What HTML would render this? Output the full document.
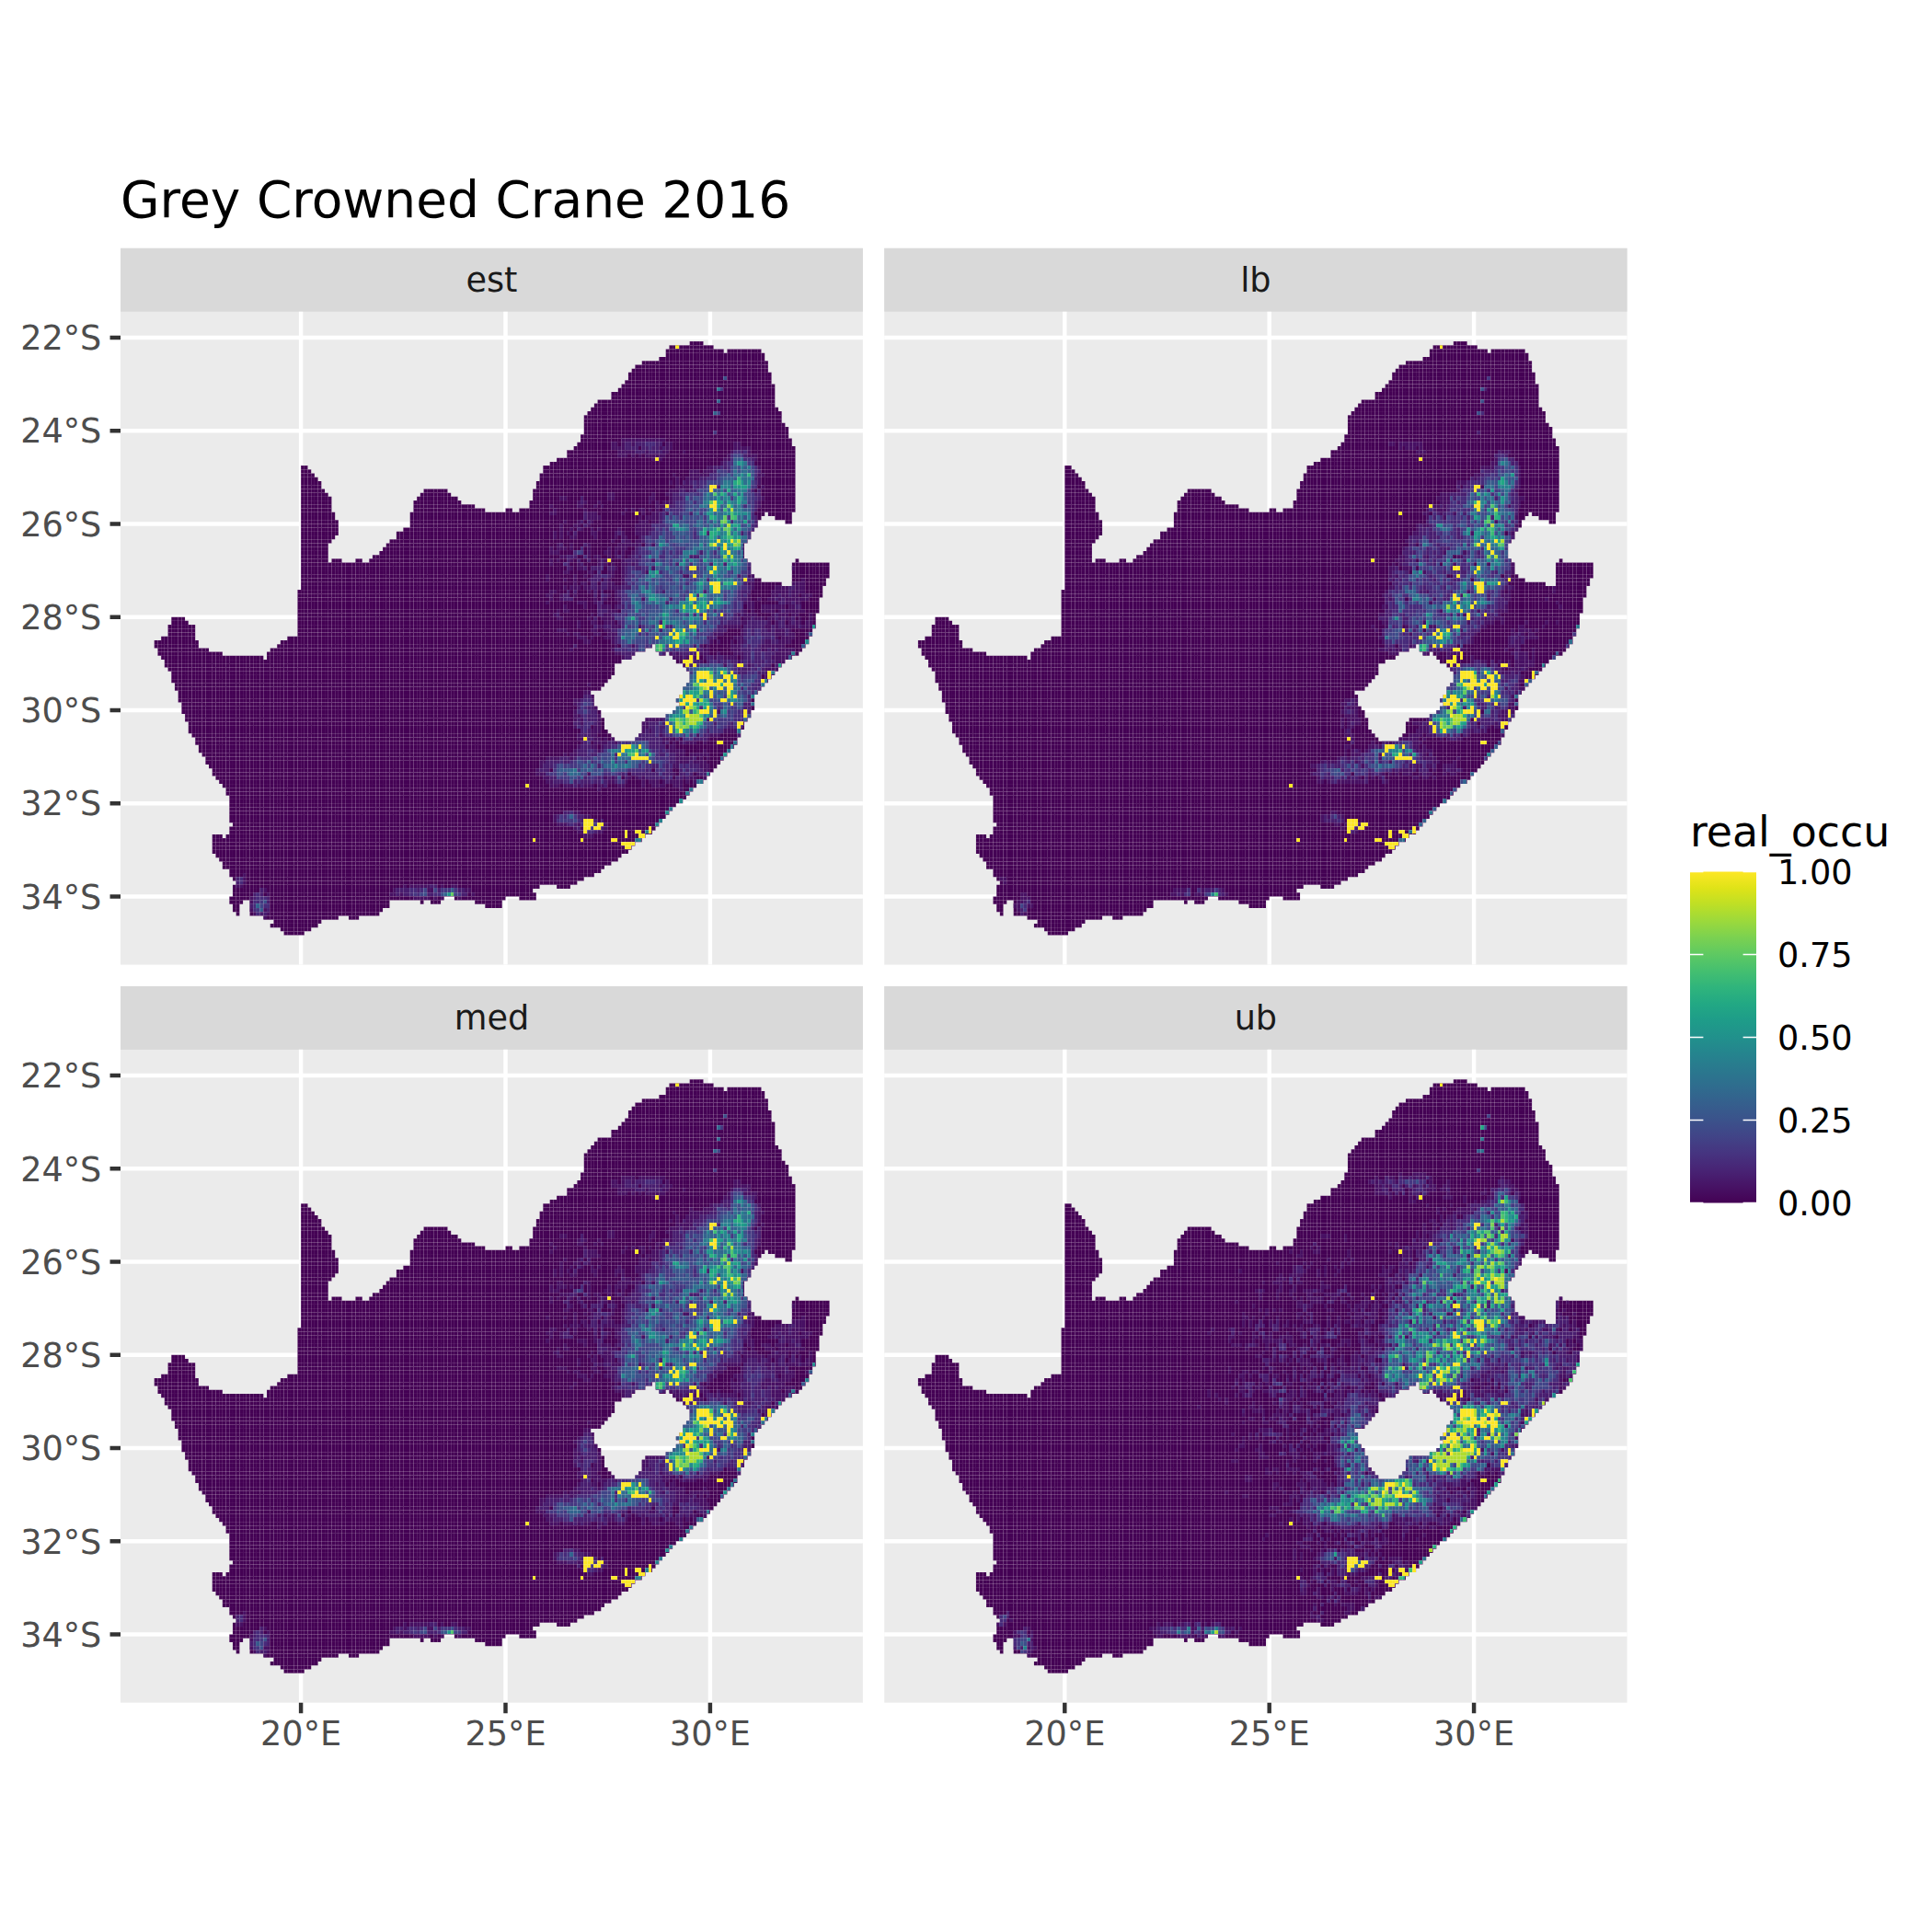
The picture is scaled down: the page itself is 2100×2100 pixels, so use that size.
<!DOCTYPE html>
<html lang="en"><head><meta charset="utf-8"><title>Grey Crowned Crane 2016</title>
<style>html,body{margin:0;padding:0;background:#fff}body{width:2100px;height:2100px;overflow:hidden}</style>
</head><body>
<svg width="2100" height="2100" viewBox="0 0 2100 2100" style="display:block">
<rect width="2100" height="2100" fill="#fff"/>
<defs>
<clipPath id="cest"><path d="M749.66 371.12H764.49V375.34H775.61V379.56H786.73V383.77H790.43V379.56H827.5V383.77H831.21V392.21H834.91V404.87H838.62V417.52H842.33V442.84H846.03V447.06H849.74V459.71H853.45V463.93H857.15V476.59H860.86V485.02H864.57V556.74H860.86V569.4H853.45V565.18H842.33V560.96H834.91V556.74H831.21V560.96H827.5V565.18H823.79V573.62H820.09V577.84H816.38V586.27H812.67V590.49H808.97V607.37H812.67V611.59H816.38V624.24H820.09V628.46H827.5V632.68H849.74V636.9H860.86V611.59H864.57V607.37H868.27V611.59H901.63V628.46H897.93V636.9H894.22V649.56H890.51V666.43H886.81V683.31H883.1V691.74H879.39V700.18H875.69V704.4H871.98V708.62H868.27V712.84H860.86V717.06H853.45V721.27H849.74V725.49H846.03V729.71H842.33V733.93H838.62V738.15H834.91V742.37H831.21V746.59H827.5V750.81H823.79V755.02H820.09V771.9H816.38V780.34H812.67V784.56H808.97V792.99H805.26V801.43H801.55V809.87H797.85V814.09H794.14V818.31H790.43V822.52H786.73V826.74H783.02V830.96H779.31V835.18H775.61V839.4H771.9V843.62H768.19V847.84H764.49V852.06H757.07V856.27H753.37V860.49H749.66V864.71H745.95V868.93H742.25V873.15H734.83V877.37H731.13V881.59H727.42V885.81H723.71V890.02H720.01V894.24H716.3V898.46H712.59V902.68H708.89V906.9H701.47V911.12H697.77V915.34H690.35V919.56H686.65V923.77H682.94V927.99H675.53V932.21H671.82V936.43H664.41V940.65H656.99V944.87H653.29V949.09H645.87V953.31H634.75V957.52H627.34V961.74H619.93V965.96H605.1V961.74H586.57V965.96H579.15V970.18H582.86V978.62H564.33V974.4H549.5V978.62H545.79V987.06H527.26V982.84H516.14V978.62H493.9V974.4H482.78V978.62H479.07V982.84H467.95V978.62H460.54V982.84H456.83V978.62H423.47V987.06H416.06V991.27H412.35V995.49H390.11V999.71H378.99V995.49H367.87V999.71H349.34V1003.93H345.63V1008.15H338.22V1012.37H330.81V1016.59H308.57V1012.37H304.86V1008.15H293.74V1003.93H297.45V999.71H286.33V995.49H271.5V978.62H264.09V982.84H260.38V995.49H256.67V991.27H252.97V982.84H249.26V974.4H252.97V961.74H256.67V957.52H252.97V953.31H249.26V944.87H241.85V936.43H238.14V932.21H234.43V927.99H230.73V906.9H241.85V911.12H245.55V906.9H249.26V898.46H252.97V894.24H249.26V864.71H245.55V856.27H241.85V852.06H238.14V847.84H234.43V843.62H230.73V835.18H227.02V830.96H223.31V822.52H219.61V818.31H215.9V809.87H212.19V801.43H208.49V797.21H204.78V784.56H201.07V776.12H197.37V763.46H193.66V750.81H189.95V742.37H186.25V729.71H182.54V725.49H178.83V717.06H175.13V712.84H171.42V704.4H167.71V695.96H175.13V691.74H182.54V679.09H186.25V670.65H201.07V674.87H204.78V679.09H212.19V695.96H215.9V704.4H227.02V708.62H241.85V712.84H286.33V717.06H290.03V708.62H293.74V704.4H301.15V700.18H304.86V695.96H312.27V691.74H323.39V641.12H327.1V506.12H334.51V510.34H338.22V514.56H341.93V518.77H345.63V522.99H349.34V531.43H353.05V535.65H356.75V539.87H360.46V556.74H364.17V565.18H367.87V582.06H364.17V586.27H360.46V590.49H356.75V611.59H360.46V607.37H371.58V611.59H386.41V607.37H393.82V611.59H401.23V607.37H404.94V603.15H412.35V598.93H416.06V594.71H419.77V590.49H423.47V586.27H430.89V577.84H438.3V573.62H445.71V556.74H449.42V544.09H453.13V539.87H456.83V535.65H460.54V531.43H486.49V535.65H490.19V539.87H497.61V544.09H501.31V548.31H516.14V552.52H527.26V556.74H549.5V552.52H556.91V556.74H564.33V552.52H575.45V544.09H579.15V531.43H582.86V522.99H586.57V514.56H590.27V506.12H597.69V501.9H605.1V497.68H616.22V489.24H623.63V485.02H627.34V480.81H631.05V472.37H634.75V451.27H638.46V447.06H642.17V442.84H645.87V438.62H649.58V434.4H664.41V425.96H671.82V421.74H675.53V417.52H679.23V413.31H682.94V404.87H686.65V400.65H690.35V396.43H697.77V392.21H716.3V387.99H723.71V379.56H727.42V375.34H749.66zM712.59 700.18H708.89V704.4H701.47V708.62H690.35V712.84H686.65V717.06H675.53V721.27H668.11V733.93H664.41V738.15H660.7V742.37H656.99V746.59H653.29V750.81H642.17V755.02H645.87V767.68H649.58V771.9H653.29V780.34H656.99V792.99H660.7V797.21H664.41V801.43H668.11V805.65H690.35V801.43H694.06V797.21H697.77V784.56H701.47V780.34H723.71V776.12H731.13V771.9H734.83V767.68H738.54V763.46H734.83V759.24H738.54V755.02H742.25V746.59H745.95V742.37H749.66V729.71H745.95V725.49H742.25V721.27H734.83V717.06H731.13V712.84H727.42V708.62H723.71V712.84H716.3V708.62H712.59z"/></clipPath>
<clipPath id="clb"><path d="M1579.86 371.12H1594.69V375.34H1605.81V379.56H1616.93V383.77H1620.63V379.56H1657.7V383.77H1661.41V392.21H1665.11V404.87H1668.82V417.52H1672.53V442.84H1676.23V447.06H1679.94V459.71H1683.65V463.93H1687.35V476.59H1691.06V485.02H1694.77V556.74H1691.06V569.4H1683.65V565.18H1672.53V560.96H1665.11V556.74H1661.41V560.96H1657.7V565.18H1653.99V573.62H1650.29V577.84H1646.58V586.27H1642.87V590.49H1639.17V607.37H1642.87V611.59H1646.58V624.24H1650.29V628.46H1657.7V632.68H1679.94V636.9H1691.06V611.59H1694.77V607.37H1698.47V611.59H1731.83V628.46H1728.13V636.9H1724.42V649.56H1720.71V666.43H1717.01V683.31H1713.3V691.74H1709.59V700.18H1705.89V704.4H1702.18V708.62H1698.47V712.84H1691.06V717.06H1683.65V721.27H1679.94V725.49H1676.23V729.71H1672.53V733.93H1668.82V738.15H1665.11V742.37H1661.41V746.59H1657.7V750.81H1653.99V755.02H1650.29V771.9H1646.58V780.34H1642.87V784.56H1639.17V792.99H1635.46V801.43H1631.75V809.87H1628.05V814.09H1624.34V818.31H1620.63V822.52H1616.93V826.74H1613.22V830.96H1609.51V835.18H1605.81V839.4H1602.1V843.62H1598.39V847.84H1594.69V852.06H1587.27V856.27H1583.57V860.49H1579.86V864.71H1576.15V868.93H1572.45V873.15H1565.03V877.37H1561.33V881.59H1557.62V885.81H1553.91V890.02H1550.21V894.24H1546.5V898.46H1542.79V902.68H1539.09V906.9H1531.67V911.12H1527.97V915.34H1520.55V919.56H1516.85V923.77H1513.14V927.99H1505.73V932.21H1502.02V936.43H1494.61V940.65H1487.19V944.87H1483.49V949.09H1476.07V953.31H1464.95V957.52H1457.54V961.74H1450.13V965.96H1435.3V961.74H1416.77V965.96H1409.35V970.18H1413.06V978.62H1394.53V974.4H1379.7V978.62H1375.99V987.06H1357.46V982.84H1346.34V978.62H1324.1V974.4H1312.98V978.62H1309.27V982.84H1298.15V978.62H1290.74V982.84H1287.03V978.62H1253.67V987.06H1246.26V991.27H1242.55V995.49H1220.31V999.71H1209.19V995.49H1198.07V999.71H1179.54V1003.93H1175.83V1008.15H1168.42V1012.37H1161.01V1016.59H1138.77V1012.37H1135.06V1008.15H1123.94V1003.93H1127.65V999.71H1116.53V995.49H1101.7V978.62H1094.29V982.84H1090.58V995.49H1086.87V991.27H1083.17V982.84H1079.46V974.4H1083.17V961.74H1086.87V957.52H1083.17V953.31H1079.46V944.87H1072.05V936.43H1068.34V932.21H1064.63V927.99H1060.93V906.9H1072.05V911.12H1075.75V906.9H1079.46V898.46H1083.17V894.24H1079.46V864.71H1075.75V856.27H1072.05V852.06H1068.34V847.84H1064.63V843.62H1060.93V835.18H1057.22V830.96H1053.51V822.52H1049.81V818.31H1046.1V809.87H1042.39V801.43H1038.69V797.21H1034.98V784.56H1031.27V776.12H1027.57V763.46H1023.86V750.81H1020.15V742.37H1016.45V729.71H1012.74V725.49H1009.03V717.06H1005.33V712.84H1001.62V704.4H997.91V695.96H1005.33V691.74H1012.74V679.09H1016.45V670.65H1031.27V674.87H1034.98V679.09H1042.39V695.96H1046.1V704.4H1057.22V708.62H1072.05V712.84H1116.53V717.06H1120.23V708.62H1123.94V704.4H1131.35V700.18H1135.06V695.96H1142.47V691.74H1153.59V641.12H1157.3V506.12H1164.71V510.34H1168.42V514.56H1172.13V518.77H1175.83V522.99H1179.54V531.43H1183.25V535.65H1186.95V539.87H1190.66V556.74H1194.37V565.18H1198.07V582.06H1194.37V586.27H1190.66V590.49H1186.95V611.59H1190.66V607.37H1201.78V611.59H1216.61V607.37H1224.02V611.59H1231.43V607.37H1235.14V603.15H1242.55V598.93H1246.26V594.71H1249.97V590.49H1253.67V586.27H1261.09V577.84H1268.5V573.62H1275.91V556.74H1279.62V544.09H1283.33V539.87H1287.03V535.65H1290.74V531.43H1316.69V535.65H1320.39V539.87H1327.81V544.09H1331.51V548.31H1346.34V552.52H1357.46V556.74H1379.7V552.52H1387.11V556.74H1394.53V552.52H1405.65V544.09H1409.35V531.43H1413.06V522.99H1416.77V514.56H1420.47V506.12H1427.89V501.9H1435.3V497.68H1446.42V489.24H1453.83V485.02H1457.54V480.81H1461.25V472.37H1464.95V451.27H1468.66V447.06H1472.37V442.84H1476.07V438.62H1479.78V434.4H1494.61V425.96H1502.02V421.74H1505.73V417.52H1509.43V413.31H1513.14V404.87H1516.85V400.65H1520.55V396.43H1527.97V392.21H1546.5V387.99H1553.91V379.56H1557.62V375.34H1579.86zM1542.79 700.18H1539.09V704.4H1531.67V708.62H1520.55V712.84H1516.85V717.06H1505.73V721.27H1498.31V733.93H1494.61V738.15H1490.9V742.37H1487.19V746.59H1483.49V750.81H1472.37V755.02H1476.07V767.68H1479.78V771.9H1483.49V780.34H1487.19V792.99H1490.9V797.21H1494.61V801.43H1498.31V805.65H1520.55V801.43H1524.26V797.21H1527.97V784.56H1531.67V780.34H1553.91V776.12H1561.33V771.9H1565.03V767.68H1568.74V763.46H1565.03V759.24H1568.74V755.02H1572.45V746.59H1576.15V742.37H1579.86V729.71H1576.15V725.49H1572.45V721.27H1565.03V717.06H1561.33V712.84H1557.62V708.62H1553.91V712.84H1546.5V708.62H1542.79z"/></clipPath>
<clipPath id="cmed"><path d="M749.66 1173.22H764.49V1177.44H775.61V1181.66H786.73V1185.88H790.43V1181.66H827.5V1185.88H831.21V1194.31H834.91V1206.97H838.62V1219.62H842.33V1244.94H846.03V1249.16H849.74V1261.81H853.45V1266.03H857.15V1278.69H860.86V1287.12H864.57V1358.84H860.86V1371.5H853.45V1367.28H842.33V1363.06H834.91V1358.84H831.21V1363.06H827.5V1367.28H823.79V1375.72H820.09V1379.94H816.38V1388.38H812.67V1392.59H808.97V1409.47H812.67V1413.69H816.38V1426.34H820.09V1430.56H827.5V1434.78H849.74V1439H860.86V1413.69H864.57V1409.47H868.27V1413.69H901.63V1430.56H897.93V1439H894.22V1451.66H890.51V1468.53H886.81V1485.41H883.1V1493.84H879.39V1502.28H875.69V1506.5H871.98V1510.72H868.27V1514.94H860.86V1519.16H853.45V1523.38H849.74V1527.59H846.03V1531.81H842.33V1536.03H838.62V1540.25H834.91V1544.47H831.21V1548.69H827.5V1552.91H823.79V1557.12H820.09V1574H816.38V1582.44H812.67V1586.66H808.97V1595.09H805.26V1603.53H801.55V1611.97H797.85V1616.19H794.14V1620.41H790.43V1624.62H786.73V1628.84H783.02V1633.06H779.31V1637.28H775.61V1641.5H771.9V1645.72H768.19V1649.94H764.49V1654.16H757.07V1658.38H753.37V1662.59H749.66V1666.81H745.95V1671.03H742.25V1675.25H734.83V1679.47H731.13V1683.69H727.42V1687.91H723.71V1692.12H720.01V1696.34H716.3V1700.56H712.59V1704.78H708.89V1709H701.47V1713.22H697.77V1717.44H690.35V1721.66H686.65V1725.88H682.94V1730.09H675.53V1734.31H671.82V1738.53H664.41V1742.75H656.99V1746.97H653.29V1751.19H645.87V1755.41H634.75V1759.62H627.34V1763.84H619.93V1768.06H605.1V1763.84H586.57V1768.06H579.15V1772.28H582.86V1780.72H564.33V1776.5H549.5V1780.72H545.79V1789.16H527.26V1784.94H516.14V1780.72H493.9V1776.5H482.78V1780.72H479.07V1784.94H467.95V1780.72H460.54V1784.94H456.83V1780.72H423.47V1789.16H416.06V1793.38H412.35V1797.59H390.11V1801.81H378.99V1797.59H367.87V1801.81H349.34V1806.03H345.63V1810.25H338.22V1814.47H330.81V1818.69H308.57V1814.47H304.86V1810.25H293.74V1806.03H297.45V1801.81H286.33V1797.59H271.5V1780.72H264.09V1784.94H260.38V1797.59H256.67V1793.38H252.97V1784.94H249.26V1776.5H252.97V1763.84H256.67V1759.62H252.97V1755.41H249.26V1746.97H241.85V1738.53H238.14V1734.31H234.43V1730.09H230.73V1709H241.85V1713.22H245.55V1709H249.26V1700.56H252.97V1696.34H249.26V1666.81H245.55V1658.38H241.85V1654.16H238.14V1649.94H234.43V1645.72H230.73V1637.28H227.02V1633.06H223.31V1624.62H219.61V1620.41H215.9V1611.97H212.19V1603.53H208.49V1599.31H204.78V1586.66H201.07V1578.22H197.37V1565.56H193.66V1552.91H189.95V1544.47H186.25V1531.81H182.54V1527.59H178.83V1519.16H175.13V1514.94H171.42V1506.5H167.71V1498.06H175.13V1493.84H182.54V1481.19H186.25V1472.75H201.07V1476.97H204.78V1481.19H212.19V1498.06H215.9V1506.5H227.02V1510.72H241.85V1514.94H286.33V1519.16H290.03V1510.72H293.74V1506.5H301.15V1502.28H304.86V1498.06H312.27V1493.84H323.39V1443.22H327.1V1308.22H334.51V1312.44H338.22V1316.66H341.93V1320.88H345.63V1325.09H349.34V1333.53H353.05V1337.75H356.75V1341.97H360.46V1358.84H364.17V1367.28H367.87V1384.16H364.17V1388.38H360.46V1392.59H356.75V1413.69H360.46V1409.47H371.58V1413.69H386.41V1409.47H393.82V1413.69H401.23V1409.47H404.94V1405.25H412.35V1401.03H416.06V1396.81H419.77V1392.59H423.47V1388.38H430.89V1379.94H438.3V1375.72H445.71V1358.84H449.42V1346.19H453.13V1341.97H456.83V1337.75H460.54V1333.53H486.49V1337.75H490.19V1341.97H497.61V1346.19H501.31V1350.41H516.14V1354.62H527.26V1358.84H549.5V1354.62H556.91V1358.84H564.33V1354.62H575.45V1346.19H579.15V1333.53H582.86V1325.09H586.57V1316.66H590.27V1308.22H597.69V1304H605.1V1299.78H616.22V1291.34H623.63V1287.12H627.34V1282.91H631.05V1274.47H634.75V1253.38H638.46V1249.16H642.17V1244.94H645.87V1240.72H649.58V1236.5H664.41V1228.06H671.82V1223.84H675.53V1219.62H679.23V1215.41H682.94V1206.97H686.65V1202.75H690.35V1198.53H697.77V1194.31H716.3V1190.09H723.71V1181.66H727.42V1177.44H749.66zM712.59 1502.28H708.89V1506.5H701.47V1510.72H690.35V1514.94H686.65V1519.16H675.53V1523.38H668.11V1536.03H664.41V1540.25H660.7V1544.47H656.99V1548.69H653.29V1552.91H642.17V1557.12H645.87V1569.78H649.58V1574H653.29V1582.44H656.99V1595.09H660.7V1599.31H664.41V1603.53H668.11V1607.75H690.35V1603.53H694.06V1599.31H697.77V1586.66H701.47V1582.44H723.71V1578.22H731.13V1574H734.83V1569.78H738.54V1565.56H734.83V1561.34H738.54V1557.12H742.25V1548.69H745.95V1544.47H749.66V1531.81H745.95V1527.59H742.25V1523.38H734.83V1519.16H731.13V1514.94H727.42V1510.72H723.71V1514.94H716.3V1510.72H712.59z"/></clipPath>
<clipPath id="cub"><path d="M1579.86 1173.22H1594.69V1177.44H1605.81V1181.66H1616.93V1185.88H1620.63V1181.66H1657.7V1185.88H1661.41V1194.31H1665.11V1206.97H1668.82V1219.62H1672.53V1244.94H1676.23V1249.16H1679.94V1261.81H1683.65V1266.03H1687.35V1278.69H1691.06V1287.12H1694.77V1358.84H1691.06V1371.5H1683.65V1367.28H1672.53V1363.06H1665.11V1358.84H1661.41V1363.06H1657.7V1367.28H1653.99V1375.72H1650.29V1379.94H1646.58V1388.38H1642.87V1392.59H1639.17V1409.47H1642.87V1413.69H1646.58V1426.34H1650.29V1430.56H1657.7V1434.78H1679.94V1439H1691.06V1413.69H1694.77V1409.47H1698.47V1413.69H1731.83V1430.56H1728.13V1439H1724.42V1451.66H1720.71V1468.53H1717.01V1485.41H1713.3V1493.84H1709.59V1502.28H1705.89V1506.5H1702.18V1510.72H1698.47V1514.94H1691.06V1519.16H1683.65V1523.38H1679.94V1527.59H1676.23V1531.81H1672.53V1536.03H1668.82V1540.25H1665.11V1544.47H1661.41V1548.69H1657.7V1552.91H1653.99V1557.12H1650.29V1574H1646.58V1582.44H1642.87V1586.66H1639.17V1595.09H1635.46V1603.53H1631.75V1611.97H1628.05V1616.19H1624.34V1620.41H1620.63V1624.62H1616.93V1628.84H1613.22V1633.06H1609.51V1637.28H1605.81V1641.5H1602.1V1645.72H1598.39V1649.94H1594.69V1654.16H1587.27V1658.38H1583.57V1662.59H1579.86V1666.81H1576.15V1671.03H1572.45V1675.25H1565.03V1679.47H1561.33V1683.69H1557.62V1687.91H1553.91V1692.12H1550.21V1696.34H1546.5V1700.56H1542.79V1704.78H1539.09V1709H1531.67V1713.22H1527.97V1717.44H1520.55V1721.66H1516.85V1725.88H1513.14V1730.09H1505.73V1734.31H1502.02V1738.53H1494.61V1742.75H1487.19V1746.97H1483.49V1751.19H1476.07V1755.41H1464.95V1759.62H1457.54V1763.84H1450.13V1768.06H1435.3V1763.84H1416.77V1768.06H1409.35V1772.28H1413.06V1780.72H1394.53V1776.5H1379.7V1780.72H1375.99V1789.16H1357.46V1784.94H1346.34V1780.72H1324.1V1776.5H1312.98V1780.72H1309.27V1784.94H1298.15V1780.72H1290.74V1784.94H1287.03V1780.72H1253.67V1789.16H1246.26V1793.38H1242.55V1797.59H1220.31V1801.81H1209.19V1797.59H1198.07V1801.81H1179.54V1806.03H1175.83V1810.25H1168.42V1814.47H1161.01V1818.69H1138.77V1814.47H1135.06V1810.25H1123.94V1806.03H1127.65V1801.81H1116.53V1797.59H1101.7V1780.72H1094.29V1784.94H1090.58V1797.59H1086.87V1793.38H1083.17V1784.94H1079.46V1776.5H1083.17V1763.84H1086.87V1759.62H1083.17V1755.41H1079.46V1746.97H1072.05V1738.53H1068.34V1734.31H1064.63V1730.09H1060.93V1709H1072.05V1713.22H1075.75V1709H1079.46V1700.56H1083.17V1696.34H1079.46V1666.81H1075.75V1658.38H1072.05V1654.16H1068.34V1649.94H1064.63V1645.72H1060.93V1637.28H1057.22V1633.06H1053.51V1624.62H1049.81V1620.41H1046.1V1611.97H1042.39V1603.53H1038.69V1599.31H1034.98V1586.66H1031.27V1578.22H1027.57V1565.56H1023.86V1552.91H1020.15V1544.47H1016.45V1531.81H1012.74V1527.59H1009.03V1519.16H1005.33V1514.94H1001.62V1506.5H997.91V1498.06H1005.33V1493.84H1012.74V1481.19H1016.45V1472.75H1031.27V1476.97H1034.98V1481.19H1042.39V1498.06H1046.1V1506.5H1057.22V1510.72H1072.05V1514.94H1116.53V1519.16H1120.23V1510.72H1123.94V1506.5H1131.35V1502.28H1135.06V1498.06H1142.47V1493.84H1153.59V1443.22H1157.3V1308.22H1164.71V1312.44H1168.42V1316.66H1172.13V1320.88H1175.83V1325.09H1179.54V1333.53H1183.25V1337.75H1186.95V1341.97H1190.66V1358.84H1194.37V1367.28H1198.07V1384.16H1194.37V1388.38H1190.66V1392.59H1186.95V1413.69H1190.66V1409.47H1201.78V1413.69H1216.61V1409.47H1224.02V1413.69H1231.43V1409.47H1235.14V1405.25H1242.55V1401.03H1246.26V1396.81H1249.97V1392.59H1253.67V1388.38H1261.09V1379.94H1268.5V1375.72H1275.91V1358.84H1279.62V1346.19H1283.33V1341.97H1287.03V1337.75H1290.74V1333.53H1316.69V1337.75H1320.39V1341.97H1327.81V1346.19H1331.51V1350.41H1346.34V1354.62H1357.46V1358.84H1379.7V1354.62H1387.11V1358.84H1394.53V1354.62H1405.65V1346.19H1409.35V1333.53H1413.06V1325.09H1416.77V1316.66H1420.47V1308.22H1427.89V1304H1435.3V1299.78H1446.42V1291.34H1453.83V1287.12H1457.54V1282.91H1461.25V1274.47H1464.95V1253.38H1468.66V1249.16H1472.37V1244.94H1476.07V1240.72H1479.78V1236.5H1494.61V1228.06H1502.02V1223.84H1505.73V1219.62H1509.43V1215.41H1513.14V1206.97H1516.85V1202.75H1520.55V1198.53H1527.97V1194.31H1546.5V1190.09H1553.91V1181.66H1557.62V1177.44H1579.86zM1542.79 1502.28H1539.09V1506.5H1531.67V1510.72H1520.55V1514.94H1516.85V1519.16H1505.73V1523.38H1498.31V1536.03H1494.61V1540.25H1490.9V1544.47H1487.19V1548.69H1483.49V1552.91H1472.37V1557.12H1476.07V1569.78H1479.78V1574H1483.49V1582.44H1487.19V1595.09H1490.9V1599.31H1494.61V1603.53H1498.31V1607.75H1520.55V1603.53H1524.26V1599.31H1527.97V1586.66H1531.67V1582.44H1553.91V1578.22H1561.33V1574H1565.03V1569.78H1568.74V1565.56H1565.03V1561.34H1568.74V1557.12H1572.45V1548.69H1576.15V1544.47H1579.86V1531.81H1576.15V1527.59H1572.45V1523.38H1565.03V1519.16H1561.33V1514.94H1557.62V1510.72H1553.91V1514.94H1546.5V1510.72H1542.79z"/></clipPath>
<linearGradient id="vg" x1="0" y1="1" x2="0" y2="0">
<stop offset="0" stop-color="#440154"/>
<stop offset="0.05" stop-color="#471365"/>
<stop offset="0.1" stop-color="#482475"/>
<stop offset="0.15" stop-color="#463480"/>
<stop offset="0.2" stop-color="#414487"/>
<stop offset="0.25" stop-color="#3b528b"/>
<stop offset="0.3" stop-color="#355f8d"/>
<stop offset="0.35" stop-color="#2f6c8e"/>
<stop offset="0.4" stop-color="#2a788e"/>
<stop offset="0.45" stop-color="#25848e"/>
<stop offset="0.5" stop-color="#21918c"/>
<stop offset="0.55" stop-color="#1e9c89"/>
<stop offset="0.6" stop-color="#22a884"/>
<stop offset="0.65" stop-color="#2fb47c"/>
<stop offset="0.7" stop-color="#44bf70"/>
<stop offset="0.75" stop-color="#5ec962"/>
<stop offset="0.8" stop-color="#7ad151"/>
<stop offset="0.85" stop-color="#9bd93c"/>
<stop offset="0.9" stop-color="#bddf26"/>
<stop offset="0.95" stop-color="#dfe318"/>
<stop offset="1" stop-color="#fde725"/>
</linearGradient>
</defs>
<g>
<rect x="131" y="269.8" width="806.9" height="778.8" fill="#ebebeb"/>
<rect x="131" y="269.8" width="806.9" height="68.9" fill="#d9d9d9"/>
<path d="M131 366.9h806.9M131 468.15h806.9M131 569.4h806.9M131 670.65h806.9M131 771.9h806.9M131 873.15h806.9M131 974.4h806.9M327.1 338.7v709.9M549.5 338.7v709.9M771.9 338.7v709.9" stroke="#fff" stroke-width="4.45" fill="none"/>
<path fill="#440154" d="M749.66 371.12H764.49V375.34H775.61V379.56H786.73V383.77H790.43V379.56H827.5V383.77H831.21V392.21H834.91V404.87H838.62V417.52H842.33V442.84H846.03V447.06H849.74V459.71H853.45V463.93H857.15V476.59H860.86V485.02H864.57V556.74H860.86V569.4H853.45V565.18H842.33V560.96H834.91V556.74H831.21V560.96H827.5V565.18H823.79V573.62H820.09V577.84H816.38V586.27H812.67V590.49H808.97V607.37H812.67V611.59H816.38V624.24H820.09V628.46H827.5V632.68H849.74V636.9H860.86V611.59H864.57V607.37H868.27V611.59H901.63V628.46H897.93V636.9H894.22V649.56H890.51V666.43H886.81V683.31H883.1V691.74H879.39V700.18H875.69V704.4H871.98V708.62H868.27V712.84H860.86V717.06H853.45V721.27H849.74V725.49H846.03V729.71H842.33V733.93H838.62V738.15H834.91V742.37H831.21V746.59H827.5V750.81H823.79V755.02H820.09V771.9H816.38V780.34H812.67V784.56H808.97V792.99H805.26V801.43H801.55V809.87H797.85V814.09H794.14V818.31H790.43V822.52H786.73V826.74H783.02V830.96H779.31V835.18H775.61V839.4H771.9V843.62H768.19V847.84H764.49V852.06H757.07V856.27H753.37V860.49H749.66V864.71H745.95V868.93H742.25V873.15H734.83V877.37H731.13V881.59H727.42V885.81H723.71V890.02H720.01V894.24H716.3V898.46H712.59V902.68H708.89V906.9H701.47V911.12H697.77V915.34H690.35V919.56H686.65V923.77H682.94V927.99H675.53V932.21H671.82V936.43H664.41V940.65H656.99V944.87H653.29V949.09H645.87V953.31H634.75V957.52H627.34V961.74H619.93V965.96H605.1V961.74H586.57V965.96H579.15V970.18H582.86V978.62H564.33V974.4H549.5V978.62H545.79V987.06H527.26V982.84H516.14V978.62H493.9V974.4H482.78V978.62H479.07V982.84H467.95V978.62H460.54V982.84H456.83V978.62H423.47V987.06H416.06V991.27H412.35V995.49H390.11V999.71H378.99V995.49H367.87V999.71H349.34V1003.93H345.63V1008.15H338.22V1012.37H330.81V1016.59H308.57V1012.37H304.86V1008.15H293.74V1003.93H297.45V999.71H286.33V995.49H271.5V978.62H264.09V982.84H260.38V995.49H256.67V991.27H252.97V982.84H249.26V974.4H252.97V961.74H256.67V957.52H252.97V953.31H249.26V944.87H241.85V936.43H238.14V932.21H234.43V927.99H230.73V906.9H241.85V911.12H245.55V906.9H249.26V898.46H252.97V894.24H249.26V864.71H245.55V856.27H241.85V852.06H238.14V847.84H234.43V843.62H230.73V835.18H227.02V830.96H223.31V822.52H219.61V818.31H215.9V809.87H212.19V801.43H208.49V797.21H204.78V784.56H201.07V776.12H197.37V763.46H193.66V750.81H189.95V742.37H186.25V729.71H182.54V725.49H178.83V717.06H175.13V712.84H171.42V704.4H167.71V695.96H175.13V691.74H182.54V679.09H186.25V670.65H201.07V674.87H204.78V679.09H212.19V695.96H215.9V704.4H227.02V708.62H241.85V712.84H286.33V717.06H290.03V708.62H293.74V704.4H301.15V700.18H304.86V695.96H312.27V691.74H323.39V641.12H327.1V506.12H334.51V510.34H338.22V514.56H341.93V518.77H345.63V522.99H349.34V531.43H353.05V535.65H356.75V539.87H360.46V556.74H364.17V565.18H367.87V582.06H364.17V586.27H360.46V590.49H356.75V611.59H360.46V607.37H371.58V611.59H386.41V607.37H393.82V611.59H401.23V607.37H404.94V603.15H412.35V598.93H416.06V594.71H419.77V590.49H423.47V586.27H430.89V577.84H438.3V573.62H445.71V556.74H449.42V544.09H453.13V539.87H456.83V535.65H460.54V531.43H486.49V535.65H490.19V539.87H497.61V544.09H501.31V548.31H516.14V552.52H527.26V556.74H549.5V552.52H556.91V556.74H564.33V552.52H575.45V544.09H579.15V531.43H582.86V522.99H586.57V514.56H590.27V506.12H597.69V501.9H605.1V497.68H616.22V489.24H623.63V485.02H627.34V480.81H631.05V472.37H634.75V451.27H638.46V447.06H642.17V442.84H645.87V438.62H649.58V434.4H664.41V425.96H671.82V421.74H675.53V417.52H679.23V413.31H682.94V404.87H686.65V400.65H690.35V396.43H697.77V392.21H716.3V387.99H723.71V379.56H727.42V375.34H749.66zM712.59 700.18H708.89V704.4H701.47V708.62H690.35V712.84H686.65V717.06H675.53V721.27H668.11V733.93H664.41V738.15H660.7V742.37H656.99V746.59H653.29V750.81H642.17V755.02H645.87V767.68H649.58V771.9H653.29V780.34H656.99V792.99H660.7V797.21H664.41V801.43H668.11V805.65H690.35V801.43H694.06V797.21H697.77V784.56H701.47V780.34H723.71V776.12H731.13V771.9H734.83V767.68H738.54V763.46H734.83V759.24H738.54V755.02H742.25V746.59H745.95V742.37H749.66V729.71H745.95V725.49H742.25V721.27H734.83V717.06H731.13V712.84H727.42V708.62H723.71V712.84H716.3V708.62H712.59z"/>
<g clip-path="url(#cest)">
<path fill="#471063" d="M675 476H723V480H675zM664 480H671V485H664zM797 480H805V485H797zM675 480H679V485H675zM686 480H690V485H686zM723 480H731V489H723zM797 485H816V489H797zM664 485H679V489H664zM716 485H720V489H716zM794 489H797V493H794zM701 489H705V493H701zM720 489H727V493H720zM671 489H690V493H671zM742 489H745V493H742zM812 489H816V493H812zM701 493H723V497H701zM694 493H697V497H694zM812 493H823V497H812zM671 493H682V497H671zM790 493H794V497H790zM686 493H690V497H686zM786 497H794V501H786zM708 497H712V501H708zM716 497H720V501H716zM820 497H823V501H820zM783 501H786V506H783zM768 506H775V510H768zM823 506H827V510H823zM749 510H760V514H749zM764 510H775V514H764zM749 514H771V518H749zM823 514H831V518H823zM731 514H734V518H731zM745 518H760V522H745zM734 518H738V527H734zM823 518H827V527H823zM727 522H731V527H727zM745 522H749V527H745zM827 527H831V531H827zM734 527H753V531H734zM727 531H738V535H727zM745 531H749V535H745zM723 535H731V539H723zM708 535H712V539H708zM660 535H668V544H660zM727 539H731V544H727zM608 539H616V544H608zM827 539H831V544H827zM705 539H712V544H705zM634 544H638V548H634zM720 544H731V548H720zM705 544H708V548H705zM712 544H716V548H712zM627 544H631V548H627zM649 544H653V548H649zM823 544H827V552H823zM645 548H649V552H645zM653 548H656V552H653zM627 548H634V552H627zM597 548H601V552H597zM712 548H723V552H712zM634 552H638V556H634zM705 552H708V556H705zM679 552H682V556H679zM712 552H716V556H712zM601 552H605V556H601zM694 552H701V556H694zM686 552H690V556H686zM597 556H605V560H597zM708 556H716V560H708zM723 556H727V560H723zM697 556H701V560H697zM675 556H679V560H675zM638 556H649V560H638zM694 560H697V565H694zM701 560H716V565H701zM638 560H653V565H638zM694 565H705V569H694zM708 565H716V569H708zM627 565H631V569H627zM642 565H645V569H642zM612 565H616V569H612zM638 569H642V573H638zM623 569H631V573H623zM690 569H708V577H690zM619 573H623V577H619zM631 573H634V577H631zM642 573H645V577H642zM649 573H653V577H649zM671 573H675V577H671zM642 577H649V582H642zM690 577H705V582H690zM616 577H619V582H616zM675 577H679V582H675zM608 569H612V586H608zM668 577H671V586H668zM601 577H605V586H601zM645 582H649V586H645zM694 582H697V586H694zM675 582H682V586H675zM619 582H627V586H619zM679 586H686V590H679zM690 586H697V590H690zM664 586H668V590H664zM671 590H694V594H671zM605 590H608V594H605zM708 590H712V594H708zM619 590H623V598H619zM660 594H664V598H660zM597 594H601V598H597zM668 594H682V598H668zM605 594H616V598H605zM597 598H608V603H597zM656 598H664V603H656zM686 598H690V603H686zM638 590H642V607H638zM668 598H671V607H668zM660 603H664V607H660zM608 603H616V607H608zM645 603H653V607H645zM682 603H686V607H682zM675 598H679V611H675zM619 607H623V611H619zM605 607H608V611H605zM708 607H712V611H708zM656 607H660V615H656zM597 607H601V615H597zM649 607H653V615H649zM664 611H668V615H664zM675 611H682V615H675zM627 611H631V615H627zM686 611H690V615H686zM619 615H623V620H619zM668 615H671V620H668zM627 615H634V620H627zM860 615H864V620H860zM708 615H712V620H708zM638 620H645V624H638zM701 620H705V624H701zM612 620H619V624H612zM660 620H668V624H660zM634 624H638V628H634zM664 624H668V628H664zM742 624H749V628H742zM642 624H645V628H642zM812 624H820V628H812zM593 624H597V632H593zM660 628H664V632H660zM638 628H642V632H638zM871 628H875V632H871zM612 628H616V632H612zM675 615H679V636H675zM623 624H627V636H623zM631 632H638V636H631zM860 632H875V636H860zM660 632H668V636H660zM812 632H820V636H812zM619 636H631V641H619zM634 636H642V641H634zM649 636H653V641H649zM816 636H820V641H816zM612 636H616V641H612zM842 636H857V641H842zM864 636H875V641H864zM660 636H675V641H660zM597 641H605V645H597zM860 641H875V645H860zM638 641H642V645H638zM838 641H857V645H838zM668 641H671V649H668zM660 645H664V649H660zM593 645H601V649H593zM623 645H627V649H623zM838 645H846V649H838zM849 645H857V649H849zM871 645H883V649H871zM860 645H868V649H860zM608 645H612V653H608zM812 645H816V653H812zM656 649H660V653H656zM597 649H601V653H597zM846 649H849V653H846zM697 649H701V653H697zM853 649H879V653H853zM834 649H842V653H834zM823 649H827V653H823zM668 649H675V653H668zM645 649H649V657H645zM864 653H871V657H864zM853 653H860V657H853zM593 653H597V657H593zM808 653H820V657H808zM671 653H675V657H671zM627 653H638V657H627zM857 657H864V662H857zM634 657H638V662H634zM668 657H671V662H668zM827 657H853V662H827zM653 657H664V662H653zM812 657H820V662H812zM612 657H616V662H612zM827 662H842V666H827zM853 662H875V666H853zM605 662H608V666H605zM808 662H812V666H808zM660 662H671V666H660zM846 662H849V666H846zM612 662H619V666H612zM816 662H820V666H816zM801 666H805V670H801zM846 666H857V670H846zM808 666H823V670H808zM642 666H645V670H642zM601 666H605V670H601zM838 666H842V670H838zM860 666H868V670H860zM656 666H664V670H656zM879 666H883V674H879zM605 670H612V674H605zM653 670H668V674H653zM853 670H860V674H853zM868 670H871V674H868zM638 670H642V674H638zM846 670H849V674H846zM820 670H831V674H820zM834 670H842V674H834zM808 670H816V674H808zM864 674H871V679H864zM642 674H649V679H642zM805 674H812V679H805zM834 674H838V679H834zM857 674H860V679H857zM656 674H668V679H656zM875 674H883V679H875zM627 674H631V683H627zM842 674H846V683H842zM694 679H697V683H694zM831 679H838V683H831zM649 679H656V683H649zM853 679H868V683H853zM871 679H883V683H871zM664 679H675V683H664zM786 679H805V683H786zM642 683H649V687H642zM834 683H838V687H834zM857 683H860V687H857zM605 683H616V687H605zM656 683H664V687H656zM842 683H853V691H842zM805 683H808V691H805zM857 687H864V691H857zM875 687H879V691H875zM660 687H671V691H660zM645 687H653V691H645zM775 687H786V691H775zM616 687H619V691H616zM623 687H631V691H623zM656 691H668V695H656zM642 691H645V695H642zM797 691H808V695H797zM842 691H846V695H842zM849 691H864V695H849zM627 691H638V695H627zM831 695H838V700H831zM664 695H668V700H664zM771 695H775V700H771zM794 695H797V700H794zM846 695H860V700H846zM634 695H642V700H634zM801 695H808V700H801zM779 695H783V700H779zM760 700H764V704H760zM668 700H671V704H668zM827 700H853V704H827zM768 700H771V704H768zM686 700H690V704H686zM794 700H805V708H794zM619 704H623V708H619zM664 704H668V708H664zM846 704H864V708H846zM838 704H842V708H838zM827 704H834V708H827zM764 704H771V708H764zM727 708H731V712H727zM842 708H860V712H842zM734 708H738V712H734zM760 708H771V712H760zM797 708H808V712H797zM668 708H675V712H668zM779 708H783V712H779zM786 712H801V717H786zM731 712H742V717H731zM775 712H779V717H775zM838 712H857V717H838zM764 712H768V717H764zM805 712H808V717H805zM745 712H749V717H745zM675 712H679V717H675zM753 712H757V717H753zM760 717H764V721H760zM842 717H853V721H842zM738 717H742V721H738zM801 717H805V721H801zM742 721H745V725H742zM812 721H816V725H812zM786 721H790V725H786zM831 725H846V729H831zM831 729H834V738H831zM638 742H642V746H638zM634 750H642V755H634zM642 755H645V759H642zM623 759H631V763H623zM623 763H627V767H623zM645 767H649V771H645zM779 771H783V776H779zM623 771H627V776H623zM623 776H631V780H623zM623 780H627V784H623zM701 780H720V784H701zM768 780H771V784H768zM649 776H653V788H649zM631 780H634V788H631zM697 784H705V792H697zM645 788H653V792H645zM623 788H627V792H623zM697 792H701V797H697zM786 792H801V797H786zM705 792H708V797H705zM642 792H653V797H642zM716 797H720V801H716zM642 797H649V801H642zM627 797H631V801H627zM771 797H783V801H771zM757 797H760V801H757zM627 801H634V805H627zM656 801H660V805H656zM664 801H668V805H664zM720 801H731V805H720zM768 801H771V805H768zM645 801H653V805H645zM668 805H671V809H668zM745 805H757V809H745zM631 805H634V809H631zM764 805H768V809H764zM738 805H742V809H738zM645 805H660V809H645zM731 805H734V809H731zM720 805H723V809H720zM727 809H734V814H727zM627 809H631V814H627zM642 809H649V814H642zM653 809H656V814H653zM764 814H768V818H764zM649 814H653V818H649zM623 814H627V818H623zM727 814H745V818H727zM612 818H616V822H612zM749 818H771V822H749zM619 818H627V822H619zM734 818H745V822H734zM760 822H764V826H760zM619 822H623V826H619zM734 822H753V826H734zM593 822H608V826H593zM768 822H771V826H768zM753 826H768V830H753zM586 826H593V830H586zM734 826H749V830H734zM586 830H590V835H586zM760 830H771V835H760zM731 830H738V835H731zM764 835H771V839H764zM582 835H586V839H582zM582 839H593V843H582zM731 839H734V843H731zM757 839H760V843H757zM638 839H642V843H638zM690 843H694V847H690zM656 843H660V847H656zM664 843H668V847H664zM590 843H597V847H590zM764 843H768V847H764zM682 843H686V847H682zM742 843H745V847H742zM749 843H757V847H749zM593 847H601V852H593zM727 847H742V852H727zM753 847H757V852H753zM679 847H682V852H679zM745 847H749V852H745zM660 847H668V852H660zM705 847H716V852H705zM720 847H723V852H720zM697 843H701V856H697zM612 852H623V856H612zM731 852H742V856H731zM649 852H656V856H649zM634 852H645V856H634zM671 852H679V856H671zM597 852H608V856H597zM627 852H631V856H627zM708 852H723V856H708zM738 856H742V860H738zM649 856H653V860H649zM623 881H631V885H623zM634 885H642V890H634zM601 885H605V894H601zM627 894H631V898H627zM605 894H616V898H605zM656 894H660V902H656zM623 898H627V902H623zM627 902H634V906H627zM649 902H656V906H649zM634 906H645V911H634zM264 949H267V961H264zM445 961H467V965H445zM438 961H442V965H438zM256 961H264V965H256zM490 961H497V965H490zM479 961H482V965H479zM286 965H290V970H286zM464 965H471V970H464zM427 965H430V970H427zM505 965H512V970H505zM434 970H438V974H434zM512 970H516V974H512zM423 970H430V974H423zM290 970H293V974H290zM449 974H467V978H449zM497 974H501V978H497zM471 974H475V978H471zM479 974H482V978H479zM271 974H275V982H271zM286 987H290V991H286zM271 987H275V991H271zM275 991H278V995H275zM290 991H293V995H290zM286 995H290V999H286z"/>
<path fill="#481d6f" d="M712 480H720V485H712zM679 480H686V485H679zM690 480H701V485H690zM697 485H705V489H697zM679 485H694V489H679zM720 485H723V489H720zM708 485H716V489H708zM705 489H720V493H705zM805 489H808V493H805zM690 489H701V493H690zM808 493H812V497H808zM816 497H820V501H816zM786 501H790V510H786zM775 506H783V510H775zM775 510H779V514H775zM823 510H827V514H823zM760 518H768V522H760zM820 518H823V522H820zM749 522H753V527H749zM742 522H745V527H742zM757 522H760V531H757zM779 527H783V531H779zM816 531H820V535H816zM823 531H827V535H823zM749 531H757V535H749zM738 531H745V535H738zM820 535H827V539H820zM731 535H738V539H731zM731 539H742V544H731zM823 539H827V544H823zM631 539H634V548H631zM731 544H734V548H731zM727 548H734V552H727zM820 544H823V556H820zM720 552H723V556H720zM749 556H753V560H749zM634 556H638V565H634zM716 556H720V569H716zM638 565H642V569H638zM631 565H634V569H631zM820 560H823V573H820zM634 569H638V573H634zM627 573H631V577H627zM708 573H712V577H708zM623 577H627V582H623zM805 577H808V582H805zM705 577H708V582H705zM768 577H771V582H768zM671 577H675V582H671zM697 582H701V590H697zM675 586H679V590H675zM694 590H697V594H694zM634 590H638V594H634zM608 590H612V594H608zM690 594H694V603H690zM760 598H764V603H760zM616 603H627V607H616zM694 603H697V607H694zM749 603H760V607H749zM671 603H675V607H671zM686 603H690V607H686zM638 607H642V611H638zM679 607H694V611H679zM627 607H631V611H627zM653 607H656V615H653zM690 611H694V615H690zM631 611H634V615H631zM771 611H775V615H771zM734 611H738V615H734zM682 611H686V615H682zM786 611H790V615H786zM616 607H619V620H616zM634 615H638V620H634zM660 615H668V620H660zM690 615H697V620H690zM812 615H816V620H812zM642 615H653V620H642zM679 615H682V628H679zM660 624H664V628H660zM645 624H653V628H645zM801 624H805V628H801zM768 628H771V632H768zM812 628H820V632H812zM656 628H660V632H656zM642 628H653V632H642zM808 632H812V636H808zM679 632H682V636H679zM653 632H660V641H653zM642 632H649V641H642zM857 636H864V641H857zM812 636H816V641H812zM675 636H686V641H675zM653 641H656V645H653zM623 641H627V645H623zM764 641H768V645H764zM616 641H619V645H616zM805 641H816V645H805zM720 641H723V645H720zM645 641H649V649H645zM857 641H860V649H857zM671 641H675V649H671zM656 645H660V649H656zM846 645H849V649H846zM805 645H808V649H805zM612 645H619V649H612zM727 649H731V653H727zM653 649H656V653H653zM612 649H623V653H612zM805 649H812V653H805zM842 649H846V653H842zM849 649H853V653H849zM860 653H864V657H860zM723 653H727V657H723zM846 653H853V657H846zM649 653H656V657H649zM671 657H679V662H671zM864 657H871V662H864zM649 657H653V662H649zM649 662H660V666H649zM849 662H853V666H849zM805 662H808V670H805zM664 666H668V670H664zM605 666H608V670H605zM797 666H801V670H797zM649 666H656V670H649zM842 666H846V674H842zM645 670H649V674H645zM797 670H805V674H797zM849 670H853V674H849zM816 670H820V674H816zM860 670H864V679H860zM716 674H720V679H716zM812 674H834V679H812zM671 674H675V679H671zM783 674H786V679H783zM790 674H805V679H790zM846 674H853V683H846zM645 679H649V683H645zM727 679H731V683H727zM868 679H871V683H868zM779 679H786V683H779zM808 679H831V683H808zM656 679H664V683H656zM838 679H842V687H838zM664 683H671V687H664zM716 683H720V687H716zM779 683H790V687H779zM827 683H834V687H827zM808 683H812V691H808zM853 683H857V691H853zM816 683H820V691H816zM827 687H842V691H827zM831 691H838V695H831zM768 691H779V695H768zM668 691H671V700H668zM808 695H812V700H808zM838 695H846V700H838zM827 695H831V700H827zM623 700H627V704H623zM805 700H808V704H805zM823 700H827V704H823zM812 700H816V704H812zM753 700H757V704H753zM760 704H764V708H760zM834 704H838V708H834zM842 704H846V708H842zM805 704H816V708H805zM738 708H757V712H738zM831 708H842V712H831zM675 708H690V712H675zM731 708H734V712H731zM720 708H723V712H720zM820 704H827V717H820zM808 708H816V717H808zM679 712H686V717H679zM831 712H838V717H831zM768 712H775V717H768zM779 712H786V717H779zM742 712H745V717H742zM794 717H801V721H794zM805 717H808V721H805zM768 717H771V721H768zM820 717H831V721H820zM812 717H816V721H812zM753 717H760V721H753zM834 717H842V721H834zM779 717H783V721H779zM786 717H790V721H786zM831 721H838V725H831zM749 721H753V725H749zM797 721H801V725H797zM842 721H846V725H842zM816 721H820V725H816zM823 721H827V725H823zM801 725H816V729H801zM827 725H831V729H827zM820 725H823V729H820zM801 729H812V733H801zM823 729H831V733H823zM823 742H827V746H823zM805 746H808V750H805zM820 746H823V750H820zM812 755H816V759H812zM634 755H642V759H634zM642 759H645V763H642zM631 759H634V763H631zM627 763H631V771H627zM808 763H816V771H808zM638 767H645V771H638zM812 771H816V776H812zM642 771H649V776H642zM631 776H634V780H631zM638 776H649V784H638zM627 780H631V784H627zM720 780H723V788H720zM645 784H649V788H645zM775 784H779V788H775zM794 784H797V788H794zM623 784H631V788H623zM705 784H716V788H705zM805 788H808V792H805zM790 788H797V792H790zM716 788H723V792H716zM705 788H712V792H705zM631 788H634V797H631zM716 792H720V797H716zM638 792H642V797H638zM701 792H705V797H701zM768 792H771V797H768zM708 792H712V797H708zM801 797H805V801H801zM631 797H642V801H631zM694 797H712V801H694zM764 797H771V801H764zM720 797H723V801H720zM734 801H738V805H734zM638 801H645V805H638zM753 801H768V805H753zM694 801H720V805H694zM634 805H638V809H634zM705 805H720V809H705zM723 805H727V809H723zM660 805H668V809H660zM742 805H745V809H742zM631 809H642V814H631zM705 809H723V814H705zM656 809H664V814H656zM645 814H649V818H645zM653 814H656V818H653zM716 814H720V818H716zM723 814H727V818H723zM627 814H638V822H627zM668 818H671V822H668zM642 818H649V822H642zM716 818H723V822H716zM623 822H627V826H623zM608 822H619V826H608zM753 822H757V826H753zM727 818H734V830H727zM749 826H753V830H749zM612 826H619V830H612zM593 826H608V830H593zM590 830H601V835H590zM723 830H727V835H723zM708 830H716V835H708zM649 830H653V835H649zM749 830H760V835H749zM742 830H745V835H742zM738 835H742V839H738zM586 835H597V839H586zM745 835H749V839H745zM757 835H764V839H757zM701 835H705V839H701zM723 835H731V839H723zM749 839H753V843H749zM720 839H731V843H720zM675 839H679V843H675zM686 839H716V843H686zM760 839H768V843H760zM738 839H745V843H738zM597 843H605V847H597zM660 843H664V847H660zM694 843H697V847H694zM634 843H638V847H634zM701 843H720V847H701zM734 843H742V847H734zM679 843H682V847H679zM745 843H749V847H745zM649 843H653V847H649zM668 843H671V852H668zM723 843H727V852H723zM645 847H653V852H645zM631 847H642V852H631zM601 847H612V852H601zM656 847H660V856H656zM623 847H627V856H623zM631 852H634V856H631zM612 881H619V885H612zM605 885H608V890H605zM627 885H634V890H627zM645 890H649V894H645zM653 890H656V894H653zM631 890H634V894H631zM616 894H619V898H616zM623 894H627V898H623zM627 898H631V902H627zM653 898H656V902H653zM645 902H649V906H645zM256 953H260V961H256zM467 961H475V965H467zM430 965H445V970H430zM453 965H456V970H453zM475 965H479V970H475zM497 965H505V970H497zM282 965H286V974H282zM430 970H434V974H430zM501 970H508V974H501zM438 970H445V974H438zM464 970H471V974H464zM275 970H278V978H275zM290 974H293V982H290zM271 982H275V987H271zM290 987H293V991H290zM282 991H290V995H282z"/>
<path fill="#472a7a" d="M701 480H712V485H701zM705 485H708V489H705zM808 489H812V493H808zM797 489H805V493H797zM794 493H797V501H794zM808 497H816V501H808zM816 501H820V506H816zM790 501H797V506H790zM783 506H786V510H783zM790 506H794V514H790zM820 506H823V518H820zM771 514H779V518H771zM768 518H779V522H768zM760 522H768V527H760zM820 522H823V531H820zM753 522H757V531H753zM760 527H764V531H760zM757 535H760V539H757zM738 535H745V539H738zM742 539H745V544H742zM820 539H823V544H820zM734 544H745V548H734zM753 544H757V548H753zM808 548H812V552H808zM734 548H742V552H734zM727 552H742V556H727zM731 556H738V560H731zM816 556H820V565H816zM720 556H723V565H720zM738 560H742V565H738zM794 565H797V569H794zM708 569H723V573H708zM816 569H820V577H816zM716 573H720V577H716zM723 573H727V577H723zM812 577H816V582H812zM708 577H716V586H708zM753 577H757V586H753zM701 590H705V594H701zM694 594H697V598H694zM631 594H634V598H631zM727 598H731V603H727zM623 598H627V603H623zM775 598H779V603H775zM734 598H742V603H734zM694 598H705V603H694zM720 598H723V603H720zM634 603H638V607H634zM716 603H723V607H716zM690 603H694V607H690zM694 607H697V611H694zM612 611H616V615H612zM749 611H753V615H749zM812 611H816V615H812zM697 615H705V620H697zM653 615H656V620H653zM682 615H690V620H682zM716 620H720V624H716zM738 620H742V624H738zM697 620H701V624H697zM649 620H653V624H649zM682 620H686V624H682zM812 620H816V624H812zM653 624H660V628H653zM682 624H690V628H682zM679 628H686V632H679zM745 632H749V636H745zM686 632H690V636H686zM805 636H812V641H805zM675 641H679V645H675zM653 645H656V649H653zM808 645H812V649H808zM757 645H760V649H757zM801 641H805V653H801zM675 645H682V653H675zM675 653H679V657H675zM797 653H801V662H797zM805 653H808V662H805zM682 657H686V662H682zM734 662H738V666H734zM797 662H805V666H797zM775 662H779V666H775zM760 666H764V670H760zM679 666H682V670H679zM668 666H675V670H668zM786 666H790V670H786zM753 666H757V670H753zM783 670H790V674H783zM794 670H797V674H794zM764 674H768V679H764zM786 674H790V679H786zM675 674H679V683H675zM723 679H727V683H723zM697 679H701V683H697zM775 683H779V687H775zM757 683H760V687H757zM820 683H827V691H820zM812 683H816V691H812zM694 687H697V691H694zM771 687H775V691H771zM701 687H705V691H701zM820 691H823V695H820zM838 691H842V695H838zM808 691H816V695H808zM827 691H831V695H827zM671 691H675V700H671zM768 695H771V700H768zM816 695H827V700H816zM690 700H694V704H690zM808 700H812V704H808zM816 700H823V704H816zM701 700H705V704H701zM682 700H686V704H682zM668 704H682V708H668zM745 704H749V708H745zM686 704H694V708H686zM816 704H820V708H816zM757 704H760V708H757zM731 704H734V708H731zM827 708H831V717H827zM783 717H786V721H783zM771 717H779V721H771zM831 717H834V721H831zM816 717H820V721H816zM790 717H794V721H790zM808 717H812V725H808zM757 721H760V725H757zM827 721H831V725H827zM820 721H823V725H820zM816 725H820V729H816zM797 725H801V729H797zM812 729H820V733H812zM823 733H827V738H823zM805 733H808V738H805zM820 738H827V742H820zM816 742H823V746H816zM823 746H827V750H823zM812 746H820V750H812zM816 750H820V755H816zM812 759H816V763H812zM634 759H642V763H634zM642 763H645V767H642zM631 763H634V767H631zM760 767H764V771H760zM634 767H638V771H634zM779 767H783V771H779zM638 771H642V776H638zM627 771H634V776H627zM801 771H808V776H801zM634 776H638V784H634zM797 776H808V784H797zM790 784H794V788H790zM634 784H645V788H634zM775 788H779V792H775zM797 788H801V792H797zM627 788H631V792H627zM634 788H642V792H634zM786 788H790V792H786zM634 792H638V797H634zM775 792H786V797H775zM720 792H723V797H720zM712 788H716V801H712zM749 797H753V801H749zM723 797H731V801H723zM742 801H745V805H742zM690 801H694V805H690zM638 805H642V809H638zM679 805H682V809H679zM671 805H675V809H671zM664 809H671V814H664zM638 814H645V818H638zM708 814H716V818H708zM720 814H723V818H720zM638 818H642V822H638zM712 818H716V822H712zM712 822H727V826H712zM631 822H642V826H631zM668 822H671V826H668zM619 826H623V830H619zM723 826H727V830H723zM679 826H682V830H679zM608 826H612V830H608zM642 826H645V830H642zM694 830H697V835H694zM727 830H731V835H727zM701 830H708V835H701zM738 830H742V835H738zM745 830H749V835H745zM601 830H605V835H601zM720 830H723V835H720zM712 835H720V839H712zM682 835H701V839H682zM749 835H757V839H749zM705 835H708V839H705zM593 839H597V843H593zM745 839H749V843H745zM679 839H682V843H679zM671 839H675V843H671zM656 839H664V843H656zM645 843H649V847H645zM727 843H731V847H727zM653 843H656V847H653zM638 843H642V847H638zM720 843H723V847H720zM675 847H679V852H675zM612 847H619V852H612zM642 847H645V852H642zM627 847H631V852H627zM619 881H623V885H619zM612 885H616V890H612zM605 890H608V894H605zM627 890H631V894H627zM619 894H623V898H619zM631 894H634V898H631zM638 902H645V906H638zM260 953H264V961H260zM456 965H460V970H456zM445 965H453V970H445zM278 970H282V974H278zM471 970H479V974H471zM453 970H456V974H453zM445 970H449V974H445zM278 974H290V978H278zM275 978H282V982H275zM286 982H293V987H286zM275 982H278V991H275zM278 991H282V995H278z"/>
<path fill="#453781" d="M783 421H786V425H783zM775 468H779V472H775zM805 493H808V497H805zM812 501H816V506H812zM783 510H790V514H783zM779 514H783V518H779zM816 527H820V531H816zM764 527H768V531H764zM757 531H760V535H757zM760 535H764V539H760zM745 535H757V539H745zM816 535H820V544H816zM749 539H753V544H749zM794 539H797V544H794zM812 544H820V548H812zM816 548H820V556H816zM742 548H745V556H742zM760 556H764V560H760zM738 556H742V560H738zM727 560H731V565H727zM764 560H768V565H764zM790 560H794V565H790zM720 565H723V569H720zM723 569H727V573H723zM753 573H757V577H753zM712 573H716V577H712zM716 577H720V582H716zM723 577H731V582H723zM701 582H708V586H701zM757 582H760V586H757zM812 582H816V586H812zM723 582H734V586H723zM701 586H705V590H701zM708 586H712V590H708zM723 586H727V590H723zM731 590H734V594H731zM705 590H708V594H705zM734 594H745V598H734zM697 594H701V598H697zM705 598H708V603H705zM631 598H634V603H631zM697 603H701V607H697zM731 603H738V607H731zM697 607H705V611H697zM760 607H764V611H760zM720 607H723V611H720zM727 607H731V615H727zM694 611H701V615H694zM757 615H760V620H757zM745 615H749V620H745zM805 620H812V624H805zM794 620H797V624H794zM694 624H697V628H694zM723 624H727V628H723zM805 624H808V632H805zM727 628H731V632H727zM749 628H757V632H749zM690 628H694V632H690zM701 632H705V636H701zM682 632H686V636H682zM738 636H742V641H738zM716 636H720V641H716zM690 636H694V641H690zM712 641H720V645H712zM745 641H749V645H745zM742 645H745V653H742zM786 645H790V653H786zM797 649H801V653H797zM682 649H686V657H682zM801 653H805V662H801zM786 657H790V662H786zM783 662H786V666H783zM675 662H682V666H675zM794 662H797V666H794zM675 666H679V670H675zM745 666H749V670H745zM790 666H794V674H790zM668 670H679V674H668zM768 670H771V674H768zM694 670H701V674H694zM779 670H783V674H779zM694 674H697V679H694zM775 674H779V679H775zM708 679H712V683H708zM682 679H686V683H682zM768 683H771V687H768zM705 683H708V687H705zM697 683H701V687H697zM671 683H675V691H671zM757 687H771V691H757zM816 691H820V695H816zM823 691H827V695H823zM757 691H760V695H757zM701 695H705V700H701zM764 695H768V700H764zM812 695H816V700H812zM675 700H682V704H675zM705 700H708V704H705zM723 704H727V708H723zM682 704H686V708H682zM738 704H745V708H738zM716 708H720V712H716zM816 708H820V717H816zM768 721H771V725H768zM790 721H797V725H790zM823 725H827V729H823zM794 725H797V729H794zM745 725H749V729H745zM749 729H753V733H749zM797 729H801V733H797zM820 729H823V733H820zM808 733H816V738H808zM805 738H808V742H805zM808 750H812V755H808zM786 755H790V759H786zM757 759H760V763H757zM638 763H642V767H638zM775 763H783V767H775zM794 767H801V771H794zM783 767H786V771H783zM742 767H745V771H742zM631 767H634V771H631zM797 771H801V776H797zM790 771H794V780H790zM779 780H794V784H779zM779 784H790V788H779zM716 784H720V788H716zM797 784H801V788H797zM783 788H786V792H783zM768 788H775V792H768zM764 792H768V797H764zM771 792H775V797H771zM760 797H764V801H760zM742 797H745V801H742zM745 801H753V805H745zM675 805H679V809H675zM682 805H686V809H682zM656 814H660V818H656zM723 818H727V822H723zM649 818H653V826H649zM627 822H631V826H627zM642 822H645V826H642zM645 826H649V830H645zM634 826H638V830H634zM668 826H671V830H668zM623 826H627V830H623zM697 826H701V830H697zM720 826H723V830H720zM612 830H616V835H612zM619 830H627V835H619zM656 835H660V839H656zM627 835H631V839H627zM601 835H605V839H601zM742 835H745V839H742zM720 835H723V839H720zM597 839H605V843H597zM612 839H616V843H612zM668 839H671V843H668zM716 839H720V843H716zM627 843H631V847H627zM642 843H645V847H642zM608 843H619V847H608zM653 847H656V852H653zM671 847H675V852H671zM608 885H612V890H608zM623 885H627V890H623zM608 890H623V894H608zM645 894H649V898H645zM642 898H645V902H642zM493 965H497V970H493zM479 965H490V970H479zM449 970H453V974H449zM497 970H501V974H497zM282 978H286V982H282zM278 987H282V991H278z"/>
<path fill="#414487" d="M779 447H783V451H779zM797 493H805V497H797zM816 506H820V510H816zM779 510H783V514H779zM794 506H797V518H794zM783 514H790V518H783zM779 518H783V522H779zM816 522H820V527H816zM768 522H783V527H768zM760 531H768V535H760zM786 531H790V535H786zM812 531H816V544H812zM760 539H764V544H760zM757 544H764V548H757zM745 544H749V548H745zM745 548H753V552H745zM757 548H760V552H757zM760 552H768V556H760zM723 552H727V556H723zM753 552H757V556H753zM727 556H731V560H727zM742 556H749V560H742zM734 560H738V565H734zM749 560H753V565H749zM757 560H760V565H757zM745 565H757V569H745zM764 565H768V569H764zM812 565H820V569H812zM727 569H731V573H727zM805 569H808V573H805zM720 573H723V577H720zM749 569H753V586H749zM742 582H745V586H742zM705 586H708V590H705zM727 590H731V594H727zM745 590H749V594H745zM734 590H738V594H734zM712 590H716V594H712zM701 594H705V598H701zM779 594H783V598H779zM720 594H727V598H720zM731 594H734V603H731zM627 598H631V603H627zM716 598H720V603H716zM723 598H727V603H723zM775 603H783V607H775zM723 603H731V607H723zM805 607H808V611H805zM716 607H720V611H716zM705 607H708V611H705zM760 611H764V615H760zM720 611H723V615H720zM764 615H768V620H764zM738 615H742V620H738zM745 620H764V624H745zM686 620H697V624H686zM720 620H727V624H720zM734 620H738V624H734zM790 620H794V628H790zM727 624H731V628H727zM690 624H694V628H690zM808 624H812V628H808zM749 624H753V628H749zM757 624H764V628H757zM697 624H701V628H697zM720 624H723V628H720zM716 628H720V632H716zM723 628H727V632H723zM745 628H749V632H745zM708 628H712V632H708zM686 628H690V632H686zM738 628H742V636H738zM690 632H694V636H690zM749 632H753V636H749zM697 632H701V636H697zM805 632H808V636H805zM727 632H734V636H727zM716 632H723V636H716zM801 636H805V641H801zM712 636H716V641H712zM701 636H705V641H701zM720 636H727V641H720zM686 636H690V645H686zM727 641H731V645H727zM679 641H682V645H679zM786 641H794V645H786zM797 641H801V649H797zM694 645H701V649H694zM738 641H742V653H738zM734 653H738V657H734zM794 653H797V657H794zM697 653H701V657H697zM679 653H682V662H679zM712 657H716V662H712zM701 657H708V662H701zM790 657H797V662H790zM768 662H771V666H768zM694 662H705V666H694zM682 662H690V666H682zM786 662H790V666H786zM701 666H705V670H701zM779 666H783V670H779zM690 666H697V670H690zM794 666H797V670H794zM775 670H779V674H775zM779 674H783V679H779zM742 674H745V679H742zM771 674H775V679H771zM701 679H705V683H701zM768 679H771V683H768zM775 679H779V683H775zM686 679H690V683H686zM771 683H775V687H771zM697 687H701V691H697zM701 691H705V695H701zM708 691H712V700H708zM760 695H764V700H760zM675 695H679V700H675zM690 695H701V700H690zM694 700H701V704H694zM723 700H727V704H723zM742 700H753V704H742zM727 704H731V708H727zM734 704H738V708H734zM775 721H779V725H775zM760 721H768V725H760zM783 721H786V725H783zM816 733H823V738H816zM808 738H812V742H808zM801 738H805V746H801zM808 742H816V746H808zM801 750H808V755H801zM812 750H816V755H812zM808 755H812V759H808zM771 759H779V763H771zM783 763H786V767H783zM634 763H638V767H634zM797 763H801V767H797zM790 763H794V767H790zM805 767H808V771H805zM634 771H638V776H634zM779 776H783V780H779zM794 771H797V784H794zM775 780H779V784H775zM768 784H775V788H768zM779 788H783V792H779zM723 788H727V797H723zM760 792H764V797H760zM731 797H734V801H731zM686 805H694V809H686zM701 805H705V814H701zM705 814H708V818H705zM653 818H664V822H653zM708 822H712V826H708zM656 822H660V826H656zM649 826H653V830H649zM708 826H720V830H708zM631 826H634V830H631zM653 830H656V835H653zM716 830H720V835H716zM605 830H608V835H605zM638 830H642V835H638zM697 830H701V835H697zM627 830H631V835H627zM616 830H619V835H616zM645 835H649V839H645zM660 835H664V839H660zM679 835H682V839H679zM631 839H638V843H631zM653 839H656V843H653zM664 839H668V843H664zM605 843H608V847H605zM616 885H619V890H616zM623 890H627V894H623zM471 965H475V970H471zM460 965H464V970H460zM456 970H460V974H456zM493 970H497V974H493zM282 982H286V987H282z"/>
<path fill="#3c4f8a" d="M786 409H790V413H786zM801 506H805V514H801zM816 510H820V518H816zM783 518H786V522H783zM768 527H771V535H768zM808 535H812V539H808zM790 535H794V539H790zM753 539H760V544H753zM749 544H753V548H749zM812 548H816V552H812zM753 548H757V552H753zM783 552H786V556H783zM745 552H749V556H745zM753 560H757V565H753zM808 560H812V565H808zM745 560H749V565H745zM723 565H727V569H723zM771 565H775V569H771zM734 565H745V569H734zM808 569H812V573H808zM764 569H771V573H764zM812 573H816V577H812zM757 573H760V582H757zM808 577H812V582H808zM745 577H749V582H745zM734 577H738V582H734zM720 577H723V586H720zM738 582H742V586H738zM727 586H731V590H727zM749 586H760V590H749zM712 586H716V590H712zM764 590H768V594H764zM749 590H753V594H749zM757 590H760V594H757zM738 590H745V594H738zM745 594H753V598H745zM727 594H731V598H727zM805 594H808V598H805zM712 594H716V598H712zM801 598H805V603H801zM764 598H768V603H764zM757 598H760V603H757zM771 598H775V607H771zM708 598H712V607H708zM760 603H764V607H760zM701 603H705V607H701zM738 603H742V611H738zM745 607H749V611H745zM712 607H716V611H712zM723 607H727V615H723zM808 611H812V615H808zM757 611H760V615H757zM701 611H712V615H701zM760 615H764V620H760zM727 615H734V620H727zM716 615H723V620H716zM805 615H812V620H805zM742 620H745V624H742zM731 620H734V628H731zM738 624H742V628H738zM768 624H771V628H768zM786 624H790V628H786zM757 628H760V632H757zM801 628H805V632H801zM697 628H701V632H697zM720 628H723V632H720zM694 632H697V636H694zM742 632H745V636H742zM708 632H712V636H708zM723 632H727V636H723zM727 636H731V641H727zM745 636H757V641H745zM734 636H738V641H734zM768 636H771V645H768zM723 641H727V645H723zM731 641H738V645H731zM742 641H745V645H742zM690 641H697V645H690zM682 641H686V649H682zM790 645H794V649H790zM723 645H731V649H723zM745 645H749V649H745zM690 649H694V653H690zM790 649H797V653H790zM771 649H775V653H771zM731 649H738V653H731zM701 649H705V653H701zM727 653H731V657H727zM708 657H712V662H708zM697 657H701V662H697zM686 657H690V662H686zM779 662H783V666H779zM705 662H720V666H705zM790 662H794V666H790zM731 662H734V666H731zM731 666H742V670H731zM768 666H771V670H768zM682 666H690V670H682zM701 670H705V674H701zM708 670H712V674H708zM771 670H775V674H771zM697 674H705V679H697zM686 674H690V679H686zM679 674H682V679H679zM760 679H768V683H760zM705 679H708V683H705zM745 679H749V683H745zM764 683H768V687H764zM727 683H731V687H727zM675 683H679V691H675zM705 687H716V691H705zM720 687H727V691H720zM749 687H753V691H749zM716 691H720V695H716zM705 691H708V695H705zM690 691H701V695H690zM760 691H768V695H760zM753 691H757V695H753zM712 695H716V700H712zM686 695H690V700H686zM757 695H760V700H757zM679 695H682V700H679zM738 700H742V704H738zM694 704H701V708H694zM779 721H783V725H779zM771 721H775V725H771zM749 725H753V729H749zM790 725H794V729H790zM801 733H805V738H801zM812 738H820V742H812zM779 750H783V755H779zM786 750H790V755H786zM775 755H779V759H775zM801 755H805V759H801zM808 759H812V763H808zM779 759H783V763H779zM775 767H779V771H775zM790 767H794V771H790zM801 767H805V771H801zM812 776H816V780H812zM723 776H727V784H723zM764 784H768V788H764zM734 797H742V801H734zM753 797H757V801H753zM694 805H701V809H694zM671 809H675V814H671zM701 818H705V822H701zM645 822H649V826H645zM660 822H664V826H660zM653 822H656V826H653zM694 826H697V830H694zM627 826H631V830H627zM701 826H705V830H701zM656 826H664V830H656zM645 830H649V835H645zM608 830H612V835H608zM690 830H694V835H690zM631 830H634V835H631zM671 835H679V839H671zM605 835H608V839H605zM634 835H638V839H634zM649 835H653V839H649zM605 839H612V843H605zM642 839H653V843H642zM619 843H627V847H619zM671 843H675V847H671zM619 847H623V852H619zM479 970H482V974H479zM460 970H464V974H460zM286 978H290V982H286z"/>
<path fill="#375a8c" d="M797 497H805V501H797zM808 506H812V510H808zM797 506H801V510H797zM812 510H816V514H812zM790 514H794V518H790zM786 518H794V522H786zM797 518H801V522H797zM783 522H786V527H783zM794 527H797V535H794zM775 531H783V535H775zM764 535H768V539H764zM783 548H786V552H783zM805 548H808V552H805zM808 552H816V556H808zM749 552H753V556H749zM757 552H760V556H757zM753 556H757V560H753zM760 560H764V565H760zM723 560H727V565H723zM731 560H734V565H731zM805 565H808V569H805zM727 565H734V569H727zM779 565H783V569H779zM775 569H783V573H775zM738 569H742V573H738zM753 569H757V573H753zM727 573H731V577H727zM760 573H764V577H760zM731 577H734V582H731zM738 577H745V582H738zM734 582H738V586H734zM760 582H768V586H760zM779 582H783V586H779zM745 582H749V586H745zM764 586H768V590H764zM742 586H749V590H742zM805 586H812V590H805zM731 586H738V590H731zM753 590H757V594H753zM708 594H712V598H708zM779 598H783V603H779zM764 603H768V607H764zM757 607H760V611H757zM731 607H738V611H731zM764 611H768V615H764zM731 611H734V615H731zM745 611H749V615H745zM734 615H738V620H734zM794 615H797V620H794zM712 615H716V620H712zM764 620H768V624H764zM701 624H705V628H701zM794 624H797V628H794zM771 624H775V628H771zM734 624H738V628H734zM694 628H697V632H694zM797 628H801V632H797zM731 628H734V632H731zM712 628H716V632H712zM734 632H738V636H734zM783 632H786V636H783zM801 632H805V636H801zM764 636H768V641H764zM731 636H734V641H731zM708 636H712V645H708zM783 641H786V645H783zM749 641H753V645H749zM794 645H797V649H794zM771 645H775V649H771zM731 645H734V649H731zM720 645H723V649H720zM694 649H697V653H694zM701 653H705V657H701zM708 653H712V657H708zM731 653H734V657H731zM783 657H786V662H783zM716 657H720V662H716zM727 662H731V666H727zM771 662H775V670H771zM705 666H716V670H705zM742 666H745V670H742zM697 666H701V670H697zM716 670H720V674H716zM690 670H694V674H690zM738 670H742V674H738zM679 670H682V674H679zM727 670H734V674H727zM760 674H764V679H760zM745 674H749V679H745zM768 674H771V679H768zM682 674H686V679H682zM753 674H757V679H753zM731 679H734V683H731zM757 679H760V683H757zM771 679H775V683H771zM690 679H694V683H690zM679 683H686V687H679zM708 683H712V687H708zM723 683H727V687H723zM745 683H749V687H745zM690 687H694V691H690zM716 687H720V691H716zM682 687H686V691H682zM879 687H883V691H879zM749 695H757V700H749zM705 695H708V700H705zM871 700H875V704H871zM757 700H760V704H757zM857 712H860V717H857zM753 725H757V729H753zM775 725H779V733H775zM790 729H794V733H790zM783 733H786V738H783zM749 733H753V738H749zM745 742H749V750H745zM808 746H812V750H808zM771 746H775V750H771zM783 750H786V755H783zM820 750H823V755H820zM764 755H768V759H764zM805 755H808V759H805zM734 759H738V763H734zM801 763H808V767H801zM786 763H790V767H786zM749 771H753V776H749zM731 771H734V776H731zM783 776H786V780H783zM771 776H775V780H771zM764 788H768V792H764zM749 792H753V797H749zM660 814H664V818H660zM708 818H712V822H708zM705 822H708V826H705zM671 826H679V830H671zM638 826H642V830H638zM686 826H694V830H686zM686 830H690V835H686zM653 835H656V839H653zM668 835H671V839H668zM631 835H634V839H631zM642 835H645V839H642zM608 835H619V839H608zM616 839H619V843H616zM631 843H634V847H631zM490 965H493V970H490zM282 987H286V991H282z"/>
<path fill="#32648e" d="M779 434H783V438H779zM775 447H779V451H775zM805 497H808V501H805zM805 510H808V514H805zM816 518H820V522H816zM794 518H797V527H794zM797 531H801V535H797zM801 535H805V539H801zM794 535H797V539H794zM771 535H775V544H771zM808 539H812V544H808zM764 539H768V544H764zM745 539H749V544H745zM783 539H786V544H783zM786 544H790V548H786zM797 548H801V552H797zM768 548H771V556H768zM775 556H779V560H775zM783 556H786V560H783zM764 556H768V560H764zM768 560H771V565H768zM742 560H745V565H742zM801 560H805V569H801zM757 565H764V569H757zM760 569H764V573H760zM745 569H749V573H745zM797 573H801V577H797zM731 573H734V577H731zM805 573H812V577H805zM716 582H720V590H716zM760 586H764V590H760zM768 586H771V590H768zM738 586H742V590H738zM723 590H727V594H723zM805 590H808V594H805zM764 594H771V598H764zM716 594H720V598H716zM705 594H708V598H705zM712 598H716V607H712zM801 603H805V607H801zM808 607H812V611H808zM771 607H775V611H771zM753 607H757V615H753zM768 611H771V615H768zM805 611H808V615H805zM742 615H745V620H742zM705 615H708V620H705zM786 615H790V620H786zM801 615H805V624H801zM727 620H731V624H727zM783 620H786V624H783zM768 620H771V624H768zM716 624H720V628H716zM797 624H801V628H797zM779 624H783V628H779zM742 628H745V632H742zM771 628H775V632H771zM753 632H757V636H753zM768 632H771V636H768zM705 632H708V636H705zM712 632H716V636H712zM794 636H801V641H794zM694 636H697V641H694zM794 641H797V645H794zM753 641H757V645H753zM716 645H720V649H716zM686 645H694V649H686zM701 645H705V649H701zM775 645H783V649H775zM783 649H786V653H783zM757 649H760V653H757zM723 649H727V653H723zM768 645H771V657H768zM694 653H697V657H694zM716 653H720V657H716zM753 653H757V657H753zM771 657H775V662H771zM727 666H731V670H727zM734 670H738V674H734zM705 670H708V674H705zM760 670H764V674H760zM738 674H742V679H738zM690 674H694V679H690zM712 674H716V679H712zM738 679H745V683H738zM760 683H764V687H760zM720 683H723V687H720zM686 683H690V687H686zM679 687H682V691H679zM679 691H686V695H679zM749 691H753V695H749zM731 700H734V704H731zM757 725H760V729H757zM753 729H757V733H753zM805 742H808V746H805zM749 738H753V750H749zM742 746H745V750H742zM797 746H805V750H797zM786 746H790V750H786zM775 750H779V755H775zM768 755H771V759H768zM783 755H786V759H783zM801 759H808V763H801zM786 767H790V771H786zM786 776H790V780H786zM808 780H812V784H808zM727 784H731V788H727zM731 792H734V797H731zM697 809H701V814H697zM694 814H697V818H694zM783 822H786V826H783zM675 822H679V826H675zM682 822H686V826H682zM664 822H668V826H664zM653 826H656V830H653zM634 830H638V835H634zM656 830H664V835H656zM671 830H675V835H671zM638 835H642V839H638zM619 835H623V839H619zM623 839H631V843H623zM757 847H760V852H757zM619 885H623V890H619zM482 970H486V974H482zM278 982H282V987H278z"/>
<path fill="#2e6f8e" d="M779 421H783V425H779zM808 501H812V506H808zM797 501H801V506H797zM797 510H801V514H797zM797 514H805V518H797zM808 510H812V527H808zM775 539H779V544H775zM797 539H801V544H797zM760 548H764V552H760zM786 548H790V552H786zM805 552H808V556H805zM757 556H760V560H757zM779 556H783V565H779zM768 565H771V569H768zM742 569H745V573H742zM757 569H760V573H757zM812 569H816V573H812zM786 569H790V573H786zM768 573H771V577H768zM745 573H749V577H745zM801 577H805V582H801zM794 577H797V582H794zM768 582H771V586H768zM805 582H812V586H805zM720 586H723V590H720zM753 594H760V598H753zM797 598H801V603H797zM805 598H808V607H805zM742 603H745V607H742zM768 607H771V611H768zM779 607H786V611H779zM716 611H720V615H716zM779 611H783V615H779zM723 615H727V620H723zM786 620H790V624H786zM783 624H786V628H783zM764 624H768V628H764zM712 624H716V628H712zM775 628H779V632H775zM701 628H708V632H701zM783 628H790V632H783zM734 628H738V632H734zM760 628H768V632H760zM764 632H768V636H764zM742 636H745V641H742zM786 636H790V641H786zM734 645H738V649H734zM783 645H786V649H783zM712 645H716V649H712zM775 649H779V653H775zM716 649H720V653H716zM686 649H690V657H686zM720 653H723V657H720zM705 653H708V657H705zM790 653H794V657H790zM779 657H783V662H779zM731 657H734V662H731zM720 657H727V666H720zM716 666H720V670H716zM745 670H749V674H745zM712 670H716V674H712zM727 674H731V679H727zM757 674H760V679H757zM734 674H738V679H734zM705 674H712V679H705zM679 679H682V683H679zM686 687H690V695H686zM745 691H749V695H745zM716 695H723V700H716zM682 695H686V700H682zM771 725H775V729H771zM775 733H779V738H775zM753 733H757V738H753zM786 738H790V742H786zM797 742H801V746H797zM779 755H783V759H779zM790 759H794V763H790zM816 763H820V767H816zM771 763H775V767H771zM734 767H742V771H734zM734 771H738V776H734zM771 771H775V776H771zM757 792H760V797H757zM745 797H749V801H745zM797 805H801V809H797zM690 809H694V814H690zM790 814H794V818H790zM694 818H697V822H694zM664 818H668V822H664zM679 818H682V826H679zM682 826H686V835H682zM675 830H679V835H675zM642 830H645V835H642zM664 830H668V839H664zM619 839H623V843H619zM749 856H753V860H749z"/>
<path fill="#2a788e" d="M812 506H816V510H812zM805 506H808V510H805zM812 518H816V522H812zM805 518H808V522H805zM786 522H794V527H786zM812 527H816V531H812zM783 531H786V535H783zM808 531H812V535H808zM801 531H805V535H801zM779 535H783V539H779zM768 539H771V544H768zM794 544H801V548H794zM805 544H812V548H805zM764 544H768V552H764zM790 552H794V556H790zM797 552H801V556H797zM812 556H816V560H812zM783 560H786V565H783zM805 560H808V565H805zM797 565H801V569H797zM771 569H775V573H771zM783 573H786V582H783zM768 590H771V594H768zM720 590H723V594H720zM760 594H764V598H760zM771 594H779V598H771zM794 598H797V603H794zM742 598H757V603H742zM768 598H771V607H768zM783 603H786V607H783zM797 603H801V607H797zM745 603H749V607H745zM790 607H794V611H790zM801 607H805V615H801zM779 615H786V620H779zM797 615H801V624H797zM708 620H712V624H708zM705 624H708V628H705zM790 628H794V632H790zM757 636H760V641H757zM705 636H708V641H705zM697 636H701V645H697zM760 641H764V645H760zM734 657H738V662H734zM775 657H779V662H775zM690 657H697V662H690zM764 662H768V666H764zM738 662H742V666H738zM775 666H779V670H775zM723 670H727V674H723zM682 670H686V674H682zM749 674H753V679H749zM734 679H738V683H734zM712 679H716V687H712zM701 683H705V687H701zM749 683H753V687H749zM690 683H694V687H690zM753 687H757V691H753zM742 695H745V700H742zM723 695H727V700H723zM720 704H723V708H720zM860 708H864V712H860zM760 725H768V729H760zM779 725H783V729H779zM786 725H790V729H786zM838 729H842V733H838zM779 733H783V738H779zM831 738H834V742H831zM764 738H768V742H764zM794 738H797V742H794zM827 742H831V746H827zM797 750H801V755H797zM764 750H771V755H764zM745 750H749V755H745zM783 771H786V776H783zM727 776H731V780H727zM760 788H764V792H760zM731 788H734V792H731zM801 792H805V797H801zM745 792H749V797H745zM794 809H797V814H794zM671 814H675V818H671zM664 814H668V818H664zM675 818H679V822H675zM671 822H675V826H671zM623 835H627V839H623zM768 839H771V843H768zM760 847H764V852H760zM745 860H749V864H745zM727 877H731V881H727zM690 911H694V915H690z"/>
<path fill="#26828e" d="M783 527H794V531H783zM805 531H808V535H805zM768 535H771V539H768zM786 539H794V544H786zM768 544H771V548H768zM801 548H805V556H801zM779 552H783V556H779zM805 556H808V560H805zM786 556H790V560H786zM812 560H816V565H812zM775 565H779V569H775zM734 573H738V577H734zM742 573H745V577H742zM771 573H775V577H771zM786 586H790V590H786zM779 590H786V594H779zM790 594H797V598H790zM786 598H790V603H786zM705 603H708V607H705zM775 607H779V611H775zM749 607H753V611H749zM797 607H801V611H797zM742 611H745V615H742zM771 615H775V620H771zM779 620H783V624H779zM794 628H797V632H794zM783 636H786V641H783zM790 636H794V641H790zM701 641H708V645H701zM771 641H775V645H771zM705 645H708V649H705zM760 649H768V653H760zM720 649H723V653H720zM712 649H716V657H712zM738 653H749V657H738zM786 653H790V657H786zM690 653H694V657H690zM690 662H694V666H690zM757 666H760V670H757zM753 670H760V674H753zM742 670H745V674H742zM720 670H723V674H720zM723 674H727V679H723zM731 674H734V679H731zM731 687H734V691H731zM720 691H723V695H720zM727 691H731V700H727zM783 725H786V729H783zM779 729H783V733H779zM797 738H801V742H797zM753 738H757V742H753zM775 746H779V750H775zM753 746H757V750H753zM816 755H820V759H816zM797 759H801V763H797zM771 767H775V771H771zM764 776H768V784H764zM731 784H734V788H731zM668 814H671V818H668zM697 818H701V822H697zM664 826H668V830H664zM679 830H682V835H679zM716 890H720V894H716zM712 894H716V898H712zM701 902H705V906H701zM694 911H697V915H694z"/>
<path fill="#228b8d" d="M805 501H808V506H805zM805 514H808V518H805zM812 522H816V527H812zM805 539H808V544H805zM808 556H812V560H808zM790 556H794V560H790zM801 556H805V560H801zM790 565H794V569H790zM794 569H797V573H794zM738 573H742V577H738zM760 577H764V582H760zM786 577H790V582H786zM797 582H801V586H797zM783 582H786V590H783zM775 586H779V590H775zM760 590H764V594H760zM790 603H794V607H790zM783 611H786V615H783zM790 611H797V615H790zM738 611H742V615H738zM712 611H716V615H712zM768 615H771V620H768zM775 624H779V628H775zM757 632H760V636H757zM760 636H764V641H760zM757 641H760V645H757zM708 645H712V649H708zM779 649H783V653H779zM745 649H749V653H745zM757 653H760V657H757zM727 657H731V662H727zM749 657H753V662H749zM738 657H742V662H738zM760 657H764V666H760zM745 662H749V666H745zM749 666H753V670H749zM734 683H738V687H734zM745 687H749V691H745zM675 691H679V695H675zM731 695H734V700H731zM875 695H879V700H875zM768 725H771V729H768zM775 738H779V742H775zM760 755H764V759H760zM768 759H771V763H768zM757 763H760V767H757zM786 771H790V776H786zM742 776H745V780H742zM668 830H671V835H668zM738 868H742V873H738zM723 881H727V885H723z"/>
<path fill="#1f958b" d="M801 501H805V506H801zM805 522H808V527H805zM797 527H805V531H797zM805 535H808V539H805zM786 535H790V539H786zM779 539H783V544H779zM771 552H775V556H771zM768 556H775V560H768zM797 556H801V560H797zM801 569H805V573H801zM794 573H797V577H794zM797 577H801V582H797zM779 577H783V582H779zM775 582H779V586H775zM771 586H775V590H771zM716 590H720V594H716zM790 590H794V594H790zM783 598H786V603H783zM775 611H779V615H775zM705 620H708V624H705zM708 624H712V628H708zM753 645H757V649H753zM775 653H779V657H775zM783 653H786V657H783zM745 657H749V662H745zM749 662H753V666H749zM723 666H727V670H723zM749 670H753V674H749zM883 679H886V683H883zM738 683H742V687H738zM794 733H797V738H794zM757 746H760V750H757zM794 759H797V763H794zM738 771H742V776H738zM731 776H742V780H731zM768 776H771V780H768zM749 788H753V792H749zM742 792H745V797H742zM753 792H757V797H753zM686 809H690V814H686zM697 814H701V818H697zM679 814H682V818H679zM786 818H790V822H786zM486 970H490V974H486z"/>
<path fill="#1f9f88" d="M805 527H812V531H805zM790 544H794V548H790zM779 544H786V548H779zM779 548H783V552H779zM794 548H797V552H794zM775 560H779V565H775zM808 565H812V569H808zM731 569H738V573H731zM775 573H779V577H775zM801 573H805V577H801zM801 582H805V586H801zM786 582H790V586H786zM794 590H797V594H794zM783 594H786V598H783zM742 607H745V611H742zM764 607H768V611H764zM790 615H794V620H790zM779 628H783V632H779zM764 645H768V649H764zM705 649H712V653H705zM760 653H764V657H760zM753 662H757V666H753zM723 691H727V695H723zM738 691H742V700H738zM745 695H749V700H745zM720 700H723V704H720zM846 721H849V725H846zM760 738H764V742H760zM753 750H760V755H753zM794 750H797V755H794zM742 755H745V759H742zM738 759H742V763H738zM764 763H768V771H764zM757 767H760V771H757zM701 814H705V818H701zM686 814H690V818H686z"/>
<path fill="#22a884" d="M797 522H801V527H797zM790 531H794V535H790zM797 535H801V539H797zM801 539H805V548H801zM783 569H786V573H783zM797 569H801V573H797zM764 573H768V582H764zM775 577H779V582H775zM790 586H794V590H790zM797 594H805V598H797zM786 607H790V611H786zM797 611H801V615H797zM775 620H779V624H775zM712 620H716V624H712zM760 632H764V636H760zM790 632H797V636H790zM771 636H775V641H771zM779 653H783V657H779zM764 653H768V662H764zM757 657H760V662H757zM720 666H723V670H720zM686 670H690V674H686zM753 683H757V687H753zM742 691H745V695H742zM734 695H738V700H734zM783 742H786V746H783zM749 750H753V755H749zM742 750H745V755H742zM794 755H797V759H794zM753 755H757V759H753zM764 759H768V763H764zM753 763H757V767H753zM760 763H764V767H760zM745 763H749V767H745zM742 784H745V788H742zM757 788H760V792H757zM682 814H686V818H682z"/>
<path fill="#2cb17e" d="M812 514H816V518H812zM801 518H805V522H801zM783 535H786V539H783zM771 560H775V565H771zM771 577H775V586H771zM794 607H797V611H794zM786 632H790V636H786zM749 653H753V657H749zM742 662H745V666H742zM720 674H723V683H720zM768 763H771V767H768zM753 771H757V776H753zM727 780H734V784H727zM742 780H745V784H742zM760 784H764V788H760zM705 818H708V822H705z"/>
<path fill="#3bbb75" d="M801 522H805V527H801zM786 552H790V556H786zM797 560H801V565H797zM790 582H797V586H790zM738 687H742V691H738zM712 700H716V708H712zM771 729H775V733H771zM786 729H790V733H786zM757 784H760V788H757zM753 788H757V792H753zM734 792H738V797H734zM682 818H686V822H682z"/>
<path fill="#4ec36b" d="M775 535H779V539H775zM794 556H797V565H794zM779 573H783V577H779zM797 586H801V590H797zM742 687H745V691H742zM757 742H760V746H757zM757 755H760V759H757zM760 776H764V780H760zM738 780H742V784H738zM690 814H694V818H690zM686 818H690V822H686z"/>
<path fill="#63cb5f" d="M771 544H775V548H771zM786 560H790V565H786zM783 565H786V569H783zM786 573H794V577H786zM790 577H794V582H790zM801 590H805V594H801zM760 645H764V649H760zM716 700H720V708H716zM753 742H757V746H753zM760 746H764V750H760zM753 767H757V771H753zM757 771H760V776H757zM490 970H493V974H490z"/>
<path fill="#7ad151" d="M790 548H794V552H790zM786 565H790V569H786zM771 590H775V594H771zM760 750H764V755H760zM734 780H738V784H734zM745 780H749V792H745zM738 784H742V792H738z"/>
<path fill="#95d840" d="M797 590H801V594H797zM786 603H790V607H786zM742 771H745V776H742zM742 788H745V792H742z"/>
<path fill="#b0dd2f" d="M794 552H797V556H794zM790 569H794V573H790zM801 586H805V590H801zM794 603H797V607H794zM742 657H745V662H742zM771 733H775V738H771zM764 746H768V750H764zM790 755H794V759H790zM760 759H764V763H760zM749 767H753V771H749zM745 771H749V776H745zM749 776H760V780H749zM749 780H764V784H749zM749 784H757V788H749zM734 784H738V792H734z"/>
<path fill="#fde725" d="M734 375H738V379H734zM712 497H716V501H712zM771 527H779V531H771zM771 531H775V535H771zM775 544H779V548H775zM723 548H727V552H723zM771 548H779V552H771zM775 552H779V556H775zM690 556H694V560H690zM779 586H783V590H779zM794 586H797V590H794zM775 590H779V594H775zM786 590H790V598H786zM790 598H794V603H790zM660 607H664V611H660zM775 615H779V620H775zM749 615H757V620H749zM771 620H775V624H771zM753 624H757V628H753zM808 628H812V632H808zM771 632H783V636H771zM797 632H801V636H797zM775 636H783V645H775zM749 645H753V649H749zM749 649H757V653H749zM771 653H775V657H771zM768 657H771V662H768zM753 657H757V662H753zM757 662H760V666H757zM783 666H786V670H783zM764 666H768V674H764zM716 679H720V683H716zM749 679H757V683H749zM694 683H697V687H694zM742 683H745V687H742zM731 683H734V687H731zM727 687H731V691H727zM734 687H738V691H734zM731 691H738V695H731zM712 691H716V695H712zM727 700H731V704H727zM734 700H738V704H734zM749 704H757V708H749zM757 708H760V717H757zM749 712H753V717H749zM742 717H753V721H742zM753 721H757V725H753zM801 721H808V725H801zM745 721H749V725H745zM783 729H786V733H783zM794 729H797V733H794zM757 729H771V738H757zM834 729H838V738H834zM797 733H801V738H797zM786 733H794V738H786zM790 738H794V742H790zM768 738H775V742H768zM779 738H786V742H779zM757 738H760V742H757zM827 738H831V742H827zM760 742H783V746H760zM786 742H797V746H786zM768 746H771V750H768zM790 746H797V750H790zM779 746H786V750H779zM790 750H794V755H790zM771 750H775V759H771zM745 755H753V759H745zM797 755H801V759H797zM738 755H742V759H738zM783 759H790V763H783zM742 759H757V763H742zM749 763H753V767H749zM794 763H797V767H794zM738 763H745V767H738zM768 767H771V771H768zM745 767H749V771H745zM760 771H771V776H760zM775 771H779V780H775zM808 771H812V780H808zM745 776H749V780H745zM771 780H775V784H771zM801 784H808V788H801zM723 784H727V788H723zM801 788H805V792H801zM727 788H731V797H727zM738 792H742V797H738zM634 801H638V805H634zM779 805H786V809H779zM694 809H697V814H694zM675 809H686V814H675zM675 814H679V818H675zM690 818H694V822H690zM671 818H675V822H671zM686 822H705V826H686zM705 826H708V830H705zM571 852H575V856H571zM634 890H645V898H634zM649 894H656V898H649zM645 898H653V902H645zM634 898H642V902H634zM705 898H708V906H705zM634 902H638V906H634zM690 902H697V906H690zM679 902H682V911H679zM694 906H701V911H694zM664 911H671V915H664zM579 911H582V915H579zM631 911H634V915H631zM675 915H690V919H675zM679 919H686V923H679z"/>
<path fill="#ebebeb" fill-opacity="0.03" d="M227 338h1v709h-1zM252 338h1v709h-1zM290 338h1v709h-1zM315 338h1v709h-1zM505 338h1v709h-1zM530 338h1v709h-1zM568 338h1v709h-1zM593 338h1v709h-1zM783 338h1v709h-1zM808 338h1v709h-1zM846 338h1v709h-1zM871 338h1v709h-1zM131 425h806v1h-806zM131 485h806v1h-806zM131 560h806v1h-806zM131 620h806v1h-806zM131 695h806v1h-806zM131 755h806v1h-806zM131 830h806v1h-806zM131 890h806v1h-806zM131 965h806v1h-806zM131 1025h806v1h-806z"/>
<path fill="#ebebeb" fill-opacity="0.05" d="M189 338h1v709h-1zM353 338h1v709h-1zM404 338h1v709h-1zM416 338h1v709h-1zM467 338h1v709h-1zM631 338h1v709h-1zM682 338h1v709h-1zM694 338h1v709h-1zM745 338h1v709h-1zM909 338h1v709h-1zM131 447h806v1h-806zM131 582h806v1h-806zM131 717h806v1h-806zM131 852h806v1h-806zM131 987h806v1h-806z"/>
<path fill="#ebebeb" fill-opacity="0.07" d="M201 338h1v709h-1zM264 338h1v709h-1zM278 338h1v709h-1zM341 338h1v709h-1zM479 338h1v709h-1zM542 338h1v709h-1zM556 338h1v709h-1zM619 338h1v709h-1zM757 338h1v709h-1zM820 338h1v709h-1zM834 338h1v709h-1zM897 338h1v709h-1zM131 409h806v1h-806zM131 463h806v1h-806zM131 544h806v1h-806zM131 598h806v1h-806zM131 679h806v1h-806zM131 733h806v1h-806zM131 814h806v1h-806zM131 868h806v1h-806zM131 949h806v1h-806zM131 1003h806v1h-806z"/>
<path fill="#ebebeb" fill-opacity="0.1" d="M175 338h1v709h-1zM215 338h1v709h-1zM327 338h1v709h-1zM367 338h1v709h-1zM390 338h1v709h-1zM430 338h1v709h-1zM453 338h1v709h-1zM493 338h1v709h-1zM605 338h1v709h-1zM645 338h1v709h-1zM668 338h1v709h-1zM708 338h1v709h-1zM731 338h1v709h-1zM771 338h1v709h-1zM883 338h1v709h-1zM131 366h806v1h-806zM131 371h806v1h-806zM131 501h806v1h-806zM131 506h806v1h-806zM131 636h806v1h-806zM131 641h806v1h-806zM131 771h806v1h-806zM131 776h806v1h-806zM131 906h806v1h-806zM131 911h806v1h-806zM131 1041h806v1h-806z"/>
<path fill="#ebebeb" fill-opacity="0.12" d="M238 338h1v709h-1zM241 338h1v709h-1zM301 338h1v709h-1zM304 338h1v709h-1zM516 338h1v709h-1zM519 338h1v709h-1zM579 338h1v709h-1zM582 338h1v709h-1zM794 338h1v709h-1zM797 338h1v709h-1zM857 338h1v709h-1zM860 338h1v709h-1zM131 404h806v1h-806zM131 442h806v1h-806zM131 468h806v1h-806zM131 539h806v1h-806zM131 577h806v1h-806zM131 603h806v1h-806zM131 674h806v1h-806zM131 712h806v1h-806zM131 738h806v1h-806zM131 809h806v1h-806zM131 847h806v1h-806zM131 873h806v1h-806zM131 944h806v1h-806zM131 982h806v1h-806zM131 1008h806v1h-806z"/>
<path fill="#ebebeb" fill-opacity="0.15" d="M178 338h1v709h-1zM212 338h1v709h-1zM330 338h1v709h-1zM364 338h1v709h-1zM393 338h1v709h-1zM427 338h1v709h-1zM456 338h1v709h-1zM490 338h1v709h-1zM608 338h1v709h-1zM642 338h1v709h-1zM671 338h1v709h-1zM705 338h1v709h-1zM734 338h1v709h-1zM768 338h1v709h-1zM886 338h1v709h-1zM131 430h806v1h-806zM131 480h806v1h-806zM131 565h806v1h-806zM131 615h806v1h-806zM131 700h806v1h-806zM131 750h806v1h-806zM131 835h806v1h-806zM131 885h806v1h-806zM131 970h806v1h-806zM131 1020h806v1h-806z"/>
<path fill="#ebebeb" fill-opacity="0.17" d="M186 338h1v709h-1zM204 338h1v709h-1zM267 338h1v709h-1zM275 338h1v709h-1zM338 338h1v709h-1zM356 338h1v709h-1zM401 338h1v709h-1zM419 338h1v709h-1zM464 338h1v709h-1zM482 338h1v709h-1zM545 338h1v709h-1zM553 338h1v709h-1zM616 338h1v709h-1zM634 338h1v709h-1zM679 338h1v709h-1zM697 338h1v709h-1zM742 338h1v709h-1zM760 338h1v709h-1zM823 338h1v709h-1zM831 338h1v709h-1zM894 338h1v709h-1zM912 338h1v709h-1zM131 383h806v1h-806zM131 392h806v1h-806zM131 489h806v1h-806zM131 518h806v1h-806zM131 527h806v1h-806zM131 624h806v1h-806zM131 653h806v1h-806zM131 662h806v1h-806zM131 759h806v1h-806zM131 788h806v1h-806zM131 797h806v1h-806zM131 894h806v1h-806zM131 923h806v1h-806zM131 932h806v1h-806zM131 1029h806v1h-806z"/>
<path fill="#ebebeb" fill-opacity="0.2" d="M160 338h1v709h-1zM167 338h1v709h-1zM230 338h1v709h-1zM249 338h1v709h-1zM293 338h1v709h-1zM312 338h1v709h-1zM375 338h1v709h-1zM382 338h1v709h-1zM438 338h1v709h-1zM445 338h1v709h-1zM508 338h1v709h-1zM527 338h1v709h-1zM571 338h1v709h-1zM590 338h1v709h-1zM653 338h1v709h-1zM660 338h1v709h-1zM716 338h1v709h-1zM723 338h1v709h-1zM786 338h1v709h-1zM805 338h1v709h-1zM849 338h1v709h-1zM868 338h1v709h-1zM131 413h806v1h-806zM131 421h806v1h-806zM131 451h806v1h-806zM131 459h806v1h-806zM131 548h806v1h-806zM131 556h806v1h-806zM131 586h806v1h-806zM131 594h806v1h-806zM131 683h806v1h-806zM131 691h806v1h-806zM131 721h806v1h-806zM131 729h806v1h-806zM131 818h806v1h-806zM131 826h806v1h-806zM131 856h806v1h-806zM131 864h806v1h-806zM131 953h806v1h-806zM131 961h806v1h-806zM131 991h806v1h-806zM131 999h806v1h-806z"/>
<path fill="#ebebeb" fill-opacity="0.23" d="M193 338h1v709h-1zM197 338h1v709h-1zM223 338h1v709h-1zM256 338h1v709h-1zM260 338h1v709h-1zM282 338h1v709h-1zM286 338h1v709h-1zM319 338h1v709h-1zM345 338h1v709h-1zM349 338h1v709h-1zM408 338h1v709h-1zM412 338h1v709h-1zM471 338h1v709h-1zM475 338h1v709h-1zM501 338h1v709h-1zM534 338h1v709h-1zM538 338h1v709h-1zM560 338h1v709h-1zM564 338h1v709h-1zM597 338h1v709h-1zM623 338h1v709h-1zM627 338h1v709h-1zM686 338h1v709h-1zM690 338h1v709h-1zM749 338h1v709h-1zM753 338h1v709h-1zM779 338h1v709h-1zM812 338h1v709h-1zM816 338h1v709h-1zM838 338h1v709h-1zM842 338h1v709h-1zM875 338h1v709h-1zM901 338h1v709h-1zM905 338h1v709h-1zM131 362h806v1h-806zM131 375h806v1h-806zM131 400h806v1h-806zM131 438h806v1h-806zM131 472h806v1h-806zM131 497h806v1h-806zM131 510h806v1h-806zM131 535h806v1h-806zM131 573h806v1h-806zM131 607h806v1h-806zM131 632h806v1h-806zM131 645h806v1h-806zM131 670h806v1h-806zM131 708h806v1h-806zM131 742h806v1h-806zM131 767h806v1h-806zM131 780h806v1h-806zM131 805h806v1h-806zM131 843h806v1h-806zM131 877h806v1h-806zM131 902h806v1h-806zM131 915h806v1h-806zM131 940h806v1h-806zM131 978h806v1h-806zM131 1012h806v1h-806zM131 1037h806v1h-806z"/>
<path fill="#ebebeb" fill-opacity="0.25" d="M156 338h1v709h-1zM171 338h1v709h-1zM182 338h1v709h-1zM208 338h1v709h-1zM219 338h1v709h-1zM234 338h1v709h-1zM245 338h1v709h-1zM271 338h1v709h-1zM297 338h1v709h-1zM308 338h1v709h-1zM323 338h1v709h-1zM334 338h1v709h-1zM360 338h1v709h-1zM371 338h1v709h-1zM386 338h1v709h-1zM397 338h1v709h-1zM423 338h1v709h-1zM434 338h1v709h-1zM449 338h1v709h-1zM460 338h1v709h-1zM486 338h1v709h-1zM497 338h1v709h-1zM512 338h1v709h-1zM523 338h1v709h-1zM549 338h1v709h-1zM575 338h1v709h-1zM586 338h1v709h-1zM601 338h1v709h-1zM612 338h1v709h-1zM638 338h1v709h-1zM649 338h1v709h-1zM664 338h1v709h-1zM675 338h1v709h-1zM701 338h1v709h-1zM712 338h1v709h-1zM727 338h1v709h-1zM738 338h1v709h-1zM764 338h1v709h-1zM775 338h1v709h-1zM790 338h1v709h-1zM801 338h1v709h-1zM827 338h1v709h-1zM853 338h1v709h-1zM864 338h1v709h-1zM879 338h1v709h-1zM890 338h1v709h-1zM131 358h806v1h-806zM131 379h806v1h-806zM131 396h806v1h-806zM131 417h806v1h-806zM131 434h806v1h-806zM131 455h806v1h-806zM131 476h806v1h-806zM131 493h806v1h-806zM131 514h806v1h-806zM131 531h806v1h-806zM131 552h806v1h-806zM131 569h806v1h-806zM131 590h806v1h-806zM131 611h806v1h-806zM131 628h806v1h-806zM131 649h806v1h-806zM131 666h806v1h-806zM131 687h806v1h-806zM131 704h806v1h-806zM131 725h806v1h-806zM131 746h806v1h-806zM131 763h806v1h-806zM131 784h806v1h-806zM131 801h806v1h-806zM131 822h806v1h-806zM131 839h806v1h-806zM131 860h806v1h-806zM131 881h806v1h-806zM131 898h806v1h-806zM131 919h806v1h-806zM131 936h806v1h-806zM131 957h806v1h-806zM131 974h806v1h-806zM131 995h806v1h-806zM131 1016h806v1h-806zM131 1033h806v1h-806z"/>
</g>
</g>
<g>
<rect x="961.2" y="269.8" width="807.4" height="778.8" fill="#ebebeb"/>
<rect x="961.2" y="269.8" width="807.4" height="68.9" fill="#d9d9d9"/>
<path d="M961.2 366.9h807.4M961.2 468.15h807.4M961.2 569.4h807.4M961.2 670.65h807.4M961.2 771.9h807.4M961.2 873.15h807.4M961.2 974.4h807.4M1157.3 338.7v709.9M1379.7 338.7v709.9M1602.1 338.7v709.9" stroke="#fff" stroke-width="4.45" fill="none"/>
<path fill="#440154" d="M1579.86 371.12H1594.69V375.34H1605.81V379.56H1616.93V383.77H1620.63V379.56H1657.7V383.77H1661.41V392.21H1665.11V404.87H1668.82V417.52H1672.53V442.84H1676.23V447.06H1679.94V459.71H1683.65V463.93H1687.35V476.59H1691.06V485.02H1694.77V556.74H1691.06V569.4H1683.65V565.18H1672.53V560.96H1665.11V556.74H1661.41V560.96H1657.7V565.18H1653.99V573.62H1650.29V577.84H1646.58V586.27H1642.87V590.49H1639.17V607.37H1642.87V611.59H1646.58V624.24H1650.29V628.46H1657.7V632.68H1679.94V636.9H1691.06V611.59H1694.77V607.37H1698.47V611.59H1731.83V628.46H1728.13V636.9H1724.42V649.56H1720.71V666.43H1717.01V683.31H1713.3V691.74H1709.59V700.18H1705.89V704.4H1702.18V708.62H1698.47V712.84H1691.06V717.06H1683.65V721.27H1679.94V725.49H1676.23V729.71H1672.53V733.93H1668.82V738.15H1665.11V742.37H1661.41V746.59H1657.7V750.81H1653.99V755.02H1650.29V771.9H1646.58V780.34H1642.87V784.56H1639.17V792.99H1635.46V801.43H1631.75V809.87H1628.05V814.09H1624.34V818.31H1620.63V822.52H1616.93V826.74H1613.22V830.96H1609.51V835.18H1605.81V839.4H1602.1V843.62H1598.39V847.84H1594.69V852.06H1587.27V856.27H1583.57V860.49H1579.86V864.71H1576.15V868.93H1572.45V873.15H1565.03V877.37H1561.33V881.59H1557.62V885.81H1553.91V890.02H1550.21V894.24H1546.5V898.46H1542.79V902.68H1539.09V906.9H1531.67V911.12H1527.97V915.34H1520.55V919.56H1516.85V923.77H1513.14V927.99H1505.73V932.21H1502.02V936.43H1494.61V940.65H1487.19V944.87H1483.49V949.09H1476.07V953.31H1464.95V957.52H1457.54V961.74H1450.13V965.96H1435.3V961.74H1416.77V965.96H1409.35V970.18H1413.06V978.62H1394.53V974.4H1379.7V978.62H1375.99V987.06H1357.46V982.84H1346.34V978.62H1324.1V974.4H1312.98V978.62H1309.27V982.84H1298.15V978.62H1290.74V982.84H1287.03V978.62H1253.67V987.06H1246.26V991.27H1242.55V995.49H1220.31V999.71H1209.19V995.49H1198.07V999.71H1179.54V1003.93H1175.83V1008.15H1168.42V1012.37H1161.01V1016.59H1138.77V1012.37H1135.06V1008.15H1123.94V1003.93H1127.65V999.71H1116.53V995.49H1101.7V978.62H1094.29V982.84H1090.58V995.49H1086.87V991.27H1083.17V982.84H1079.46V974.4H1083.17V961.74H1086.87V957.52H1083.17V953.31H1079.46V944.87H1072.05V936.43H1068.34V932.21H1064.63V927.99H1060.93V906.9H1072.05V911.12H1075.75V906.9H1079.46V898.46H1083.17V894.24H1079.46V864.71H1075.75V856.27H1072.05V852.06H1068.34V847.84H1064.63V843.62H1060.93V835.18H1057.22V830.96H1053.51V822.52H1049.81V818.31H1046.1V809.87H1042.39V801.43H1038.69V797.21H1034.98V784.56H1031.27V776.12H1027.57V763.46H1023.86V750.81H1020.15V742.37H1016.45V729.71H1012.74V725.49H1009.03V717.06H1005.33V712.84H1001.62V704.4H997.91V695.96H1005.33V691.74H1012.74V679.09H1016.45V670.65H1031.27V674.87H1034.98V679.09H1042.39V695.96H1046.1V704.4H1057.22V708.62H1072.05V712.84H1116.53V717.06H1120.23V708.62H1123.94V704.4H1131.35V700.18H1135.06V695.96H1142.47V691.74H1153.59V641.12H1157.3V506.12H1164.71V510.34H1168.42V514.56H1172.13V518.77H1175.83V522.99H1179.54V531.43H1183.25V535.65H1186.95V539.87H1190.66V556.74H1194.37V565.18H1198.07V582.06H1194.37V586.27H1190.66V590.49H1186.95V611.59H1190.66V607.37H1201.78V611.59H1216.61V607.37H1224.02V611.59H1231.43V607.37H1235.14V603.15H1242.55V598.93H1246.26V594.71H1249.97V590.49H1253.67V586.27H1261.09V577.84H1268.5V573.62H1275.91V556.74H1279.62V544.09H1283.33V539.87H1287.03V535.65H1290.74V531.43H1316.69V535.65H1320.39V539.87H1327.81V544.09H1331.51V548.31H1346.34V552.52H1357.46V556.74H1379.7V552.52H1387.11V556.74H1394.53V552.52H1405.65V544.09H1409.35V531.43H1413.06V522.99H1416.77V514.56H1420.47V506.12H1427.89V501.9H1435.3V497.68H1446.42V489.24H1453.83V485.02H1457.54V480.81H1461.25V472.37H1464.95V451.27H1468.66V447.06H1472.37V442.84H1476.07V438.62H1479.78V434.4H1494.61V425.96H1502.02V421.74H1505.73V417.52H1509.43V413.31H1513.14V404.87H1516.85V400.65H1520.55V396.43H1527.97V392.21H1546.5V387.99H1553.91V379.56H1557.62V375.34H1579.86zM1542.79 700.18H1539.09V704.4H1531.67V708.62H1520.55V712.84H1516.85V717.06H1505.73V721.27H1498.31V733.93H1494.61V738.15H1490.9V742.37H1487.19V746.59H1483.49V750.81H1472.37V755.02H1476.07V767.68H1479.78V771.9H1483.49V780.34H1487.19V792.99H1490.9V797.21H1494.61V801.43H1498.31V805.65H1520.55V801.43H1524.26V797.21H1527.97V784.56H1531.67V780.34H1553.91V776.12H1561.33V771.9H1565.03V767.68H1568.74V763.46H1565.03V759.24H1568.74V755.02H1572.45V746.59H1576.15V742.37H1579.86V729.71H1576.15V725.49H1572.45V721.27H1565.03V717.06H1561.33V712.84H1557.62V708.62H1553.91V712.84H1546.5V708.62H1542.79z"/>
<g clip-path="url(#clb)">
<path fill="#471063" d="M1509 480H1516V485H1509zM1520 480H1546V485H1520zM1527 485H1539V489H1527zM1520 485H1524V489H1520zM1542 485H1546V489H1542zM1631 489H1642V493H1631zM1539 489H1550V493H1539zM1624 497H1628V501H1624zM1620 501H1628V506H1620zM1609 506H1624V510H1609zM1602 514H1609V518H1602zM1602 518H1605V522H1602zM1583 522H1594V527H1583zM1650 506H1653V531H1650zM1646 531H1650V535H1646zM1583 531H1587V535H1583zM1565 535H1576V539H1565zM1650 539H1657V544H1650zM1561 539H1576V544H1561zM1565 544H1576V548H1565zM1650 544H1653V552H1650zM1639 548H1642V552H1639zM1557 548H1565V552H1557zM1568 548H1572V552H1568zM1561 552H1572V556H1561zM1550 552H1553V556H1550zM1565 556H1568V560H1565zM1579 556H1583V560H1579zM1546 556H1553V560H1546zM1646 560H1650V565H1646zM1568 560H1572V565H1568zM1550 560H1553V565H1550zM1624 565H1628V569H1624zM1646 569H1650V573H1646zM1546 569H1553V573H1546zM1539 569H1542V577H1539zM1598 577H1602V582H1598zM1642 577H1646V582H1642zM1535 577H1542V582H1535zM1527 586H1531V590H1527zM1524 594H1527V598H1524zM1590 598H1594V603H1590zM1568 598H1572V603H1568zM1583 603H1590V607H1583zM1520 603H1527V607H1520zM1550 603H1553V607H1550zM1516 607H1527V611H1516zM1520 611H1524V615H1520zM1579 611H1583V615H1579zM1513 611H1516V615H1513zM1616 611H1620V615H1616zM1509 615H1516V620H1509zM1524 615H1535V620H1524zM1642 611H1646V624H1642zM1546 620H1550V624H1546zM1509 620H1513V628H1509zM1516 624H1520V628H1516zM1642 628H1646V632H1642zM1513 628H1516V632H1513zM1509 636H1516V641H1509zM1642 636H1646V641H1642zM1635 636H1639V641H1635zM1687 636H1691V645H1687zM1631 641H1635V645H1631zM1639 641H1642V645H1639zM1594 641H1598V645H1594zM1505 641H1509V645H1505zM1550 641H1553V645H1550zM1631 645H1642V649H1631zM1587 645H1590V649H1587zM1502 645H1505V649H1502zM1557 649H1561V653H1557zM1679 649H1683V653H1679zM1635 649H1642V653H1635zM1509 649H1513V653H1509zM1553 653H1557V657H1553zM1691 653H1694V657H1691zM1502 657H1509V662H1502zM1694 657H1698V662H1694zM1635 657H1639V662H1635zM1565 662H1568V666H1565zM1605 662H1609V666H1605zM1628 662H1639V666H1628zM1590 666H1594V670H1590zM1628 666H1631V670H1628zM1498 666H1505V670H1498zM1613 670H1616V674H1613zM1624 670H1635V674H1624zM1546 674H1550V679H1546zM1613 674H1624V679H1613zM1691 674H1694V679H1691zM1631 674H1635V679H1631zM1594 674H1598V679H1594zM1502 674H1509V679H1502zM1679 674H1683V679H1679zM1657 674H1661V679H1657zM1490 679H1494V683H1490zM1676 679H1679V683H1676zM1527 679H1531V683H1527zM1505 679H1509V683H1505zM1609 679H1616V683H1609zM1650 679H1657V683H1650zM1553 679H1561V683H1553zM1650 683H1665V687H1650zM1494 683H1498V687H1494zM1668 683H1672V687H1668zM1587 683H1590V687H1587zM1642 683H1646V687H1642zM1661 687H1668V691H1661zM1602 687H1605V691H1602zM1531 687H1535V691H1531zM1642 687H1650V691H1642zM1653 687H1657V691H1653zM1657 691H1672V695H1657zM1650 691H1653V695H1650zM1498 691H1505V695H1498zM1639 691H1642V700H1639zM1598 691H1602V700H1598zM1646 695H1653V700H1646zM1502 695H1505V700H1502zM1531 700H1535V704H1531zM1639 700H1653V704H1639zM1646 704H1653V708H1646zM1587 704H1594V708H1587zM1635 704H1639V708H1635zM1576 704H1579V708H1576zM1509 704H1513V708H1509zM1516 704H1524V708H1516zM1498 704H1505V708H1498zM1561 704H1565V712H1561zM1572 708H1587V712H1572zM1509 708H1520V712H1509zM1642 708H1646V712H1642zM1550 708H1553V712H1550zM1665 704H1668V717H1665zM1650 708H1661V717H1650zM1572 712H1576V717H1572zM1598 712H1602V721H1598zM1628 717H1631V721H1628zM1609 717H1616V721H1609zM1646 717H1668V725H1646zM1639 717H1642V725H1639zM1579 721H1583V725H1579zM1639 725H1653V729H1639zM1657 725H1661V729H1657zM1631 725H1635V729H1631zM1646 729H1650V733H1646zM1631 729H1642V733H1631zM1653 733H1657V738H1653zM1650 738H1657V742H1650zM1650 742H1653V746H1650zM1650 746H1657V750H1650zM1635 746H1639V750H1635zM1646 750H1650V755H1646zM1642 755H1646V759H1642zM1461 759H1468V763H1461zM1472 759H1476V767H1472zM1639 763H1646V767H1639zM1457 763H1464V767H1457zM1464 767H1476V771H1464zM1642 767H1646V776H1642zM1631 771H1639V776H1631zM1457 771H1461V776H1457zM1472 771H1476V776H1472zM1461 776H1476V780H1461zM1628 776H1639V780H1628zM1464 780H1479V784H1464zM1631 780H1639V784H1631zM1550 780H1553V788H1550zM1464 784H1468V788H1464zM1472 784H1479V788H1472zM1624 784H1628V788H1624zM1535 784H1546V788H1535zM1457 780H1461V792H1457zM1624 788H1631V792H1624zM1605 788H1609V792H1605zM1464 788H1472V792H1464zM1542 788H1553V792H1542zM1616 788H1620V792H1616zM1598 792H1602V797H1598zM1609 792H1613V797H1609zM1539 792H1553V797H1539zM1461 792H1464V797H1461zM1631 797H1635V801H1631zM1550 797H1561V801H1550zM1594 797H1598V801H1594zM1461 797H1472V801H1461zM1531 797H1546V801H1531zM1546 801H1550V805H1546zM1468 801H1472V805H1468zM1565 801H1568V805H1565zM1520 801H1542V805H1520zM1583 801H1590V805H1583zM1572 801H1576V805H1572zM1535 805H1546V809H1535zM1490 805H1494V809H1490zM1509 805H1513V809H1509zM1461 809H1468V814H1461zM1498 809H1502V814H1498zM1546 809H1550V814H1546zM1487 809H1494V814H1487zM1535 809H1542V814H1535zM1476 814H1479V818H1476zM1483 814H1487V818H1483zM1468 814H1472V818H1468zM1539 814H1557V818H1539zM1461 814H1464V822H1461zM1468 818H1479V822H1468zM1546 818H1550V822H1546zM1498 818H1502V826H1498zM1464 822H1468V826H1464zM1453 822H1457V826H1453zM1546 822H1561V826H1546zM1583 822H1587V826H1583zM1442 826H1453V830H1442zM1435 826H1439V830H1435zM1579 826H1583V830H1579zM1509 826H1513V830H1509zM1472 826H1476V830H1472zM1557 826H1565V830H1557zM1424 830H1431V835H1424zM1539 830H1546V835H1539zM1531 830H1535V835H1531zM1550 830H1557V835H1550zM1568 830H1583V835H1568zM1479 830H1483V835H1479zM1557 835H1561V839H1557zM1520 835H1535V839H1520zM1513 835H1516V839H1513zM1587 835H1590V839H1587zM1576 835H1583V843H1576zM1568 835H1572V843H1568zM1487 839H1490V843H1487zM1424 839H1427V843H1424zM1524 839H1535V843H1524zM1509 839H1513V843H1509zM1542 839H1546V843H1542zM1550 839H1557V843H1550zM1502 839H1505V843H1502zM1516 839H1520V843H1516zM1476 843H1479V847H1476zM1490 843H1494V847H1490zM1557 843H1561V847H1557zM1464 843H1468V847H1464zM1498 843H1502V847H1498zM1431 843H1435V847H1431zM1546 843H1553V847H1546zM1535 843H1542V847H1535zM1442 847H1446V852H1442zM1505 847H1509V852H1505zM1431 847H1439V852H1431zM1453 847H1483V852H1453zM1446 881H1453V885H1446zM1457 885H1461V890H1457zM1442 885H1446V890H1442zM1435 885H1439V894H1435zM1450 894H1457V898H1450zM1461 894H1464V898H1461zM1457 898H1461V902H1457zM1472 902H1476V906H1472zM1086 953H1094V957H1086zM1090 957H1094V961H1090zM1275 965H1290V970H1275zM1327 965H1331V970H1327zM1305 965H1309V970H1305zM1272 970H1279V974H1272zM1109 970H1116V974H1109zM1298 970H1309V974H1298zM1283 970H1287V974H1283zM1331 970H1335V974H1331zM1109 974H1120V978H1109zM1105 978H1112V982H1105zM1101 982H1109V987H1101zM1116 982H1123V987H1116zM1105 987H1109V991H1105zM1112 991H1116V995H1112z"/>
<path fill="#481d6f" d="M1613 421H1616V425H1613zM1605 468H1609V472H1605zM1628 489H1631V493H1628zM1635 493H1639V497H1635zM1624 493H1628V497H1624zM1639 497H1646V501H1639zM1642 501H1650V506H1642zM1613 510H1624V514H1613zM1609 514H1613V518H1609zM1598 518H1602V522H1598zM1605 518H1609V522H1605zM1594 522H1598V527H1594zM1646 527H1650V531H1646zM1590 527H1598V531H1590zM1583 527H1587V531H1583zM1587 531H1590V535H1587zM1576 535H1594V539H1576zM1642 535H1650V539H1642zM1646 539H1650V544H1646zM1579 539H1583V544H1579zM1624 539H1628V544H1624zM1642 544H1650V548H1642zM1583 544H1587V548H1583zM1565 548H1568V552H1565zM1572 548H1576V556H1572zM1557 552H1561V556H1557zM1646 548H1650V560H1646zM1568 556H1572V560H1568zM1590 556H1594V560H1590zM1561 556H1565V560H1561zM1557 560H1561V565H1557zM1594 560H1598V565H1594zM1620 560H1624V565H1620zM1550 565H1553V569H1550zM1542 569H1546V573H1542zM1553 569H1557V577H1553zM1646 573H1650V577H1646zM1542 573H1550V582H1542zM1583 573H1587V582H1583zM1553 577H1561V582H1553zM1583 582H1590V586H1583zM1642 582H1646V586H1642zM1531 582H1546V586H1531zM1553 582H1565V586H1553zM1531 586H1535V590H1531zM1539 586H1542V590H1539zM1553 586H1557V590H1553zM1531 590H1539V594H1531zM1561 590H1565V594H1561zM1565 594H1576V598H1565zM1527 594H1531V598H1527zM1550 594H1553V603H1550zM1557 598H1561V603H1557zM1524 598H1539V603H1524zM1605 598H1609V603H1605zM1565 598H1568V603H1565zM1546 603H1550V607H1546zM1527 603H1531V607H1527zM1561 603H1568V607H1561zM1527 607H1535V611H1527zM1590 607H1594V611H1590zM1550 607H1553V611H1550zM1557 607H1561V615H1557zM1524 611H1531V615H1524zM1587 615H1590V620H1587zM1576 615H1579V620H1576zM1516 615H1520V620H1516zM1635 620H1642V624H1635zM1568 620H1572V624H1568zM1587 620H1594V624H1587zM1527 620H1531V624H1527zM1624 620H1628V624H1624zM1513 620H1516V628H1513zM1524 624H1527V628H1524zM1553 624H1557V628H1553zM1635 624H1639V632H1635zM1557 628H1561V632H1557zM1520 628H1524V632H1520zM1509 628H1513V632H1509zM1579 628H1587V632H1579zM1531 632H1535V636H1531zM1513 632H1520V636H1513zM1576 632H1579V636H1576zM1568 636H1572V641H1568zM1639 636H1642V641H1639zM1546 636H1550V641H1546zM1520 636H1524V641H1520zM1542 641H1550V645H1542zM1576 641H1579V645H1576zM1572 645H1576V649H1572zM1505 645H1513V649H1505zM1616 645H1620V653H1616zM1628 649H1635V653H1628zM1568 649H1576V653H1568zM1505 649H1509V657H1505zM1628 653H1639V657H1628zM1513 649H1516V662H1513zM1628 657H1635V662H1628zM1616 657H1620V662H1616zM1613 662H1616V666H1613zM1624 662H1628V666H1624zM1505 662H1513V670H1505zM1524 666H1527V670H1524zM1576 666H1579V670H1576zM1583 666H1587V670H1583zM1616 666H1624V674H1616zM1498 670H1509V674H1498zM1598 670H1602V674H1598zM1524 670H1531V674H1524zM1609 670H1613V674H1609zM1524 674H1527V679H1524zM1605 674H1609V679H1605zM1539 679H1542V683H1539zM1513 679H1516V683H1513zM1598 683H1609V687H1598zM1535 683H1539V687H1535zM1527 683H1531V687H1527zM1502 683H1505V691H1502zM1587 687H1602V691H1587zM1524 687H1527V691H1524zM1650 687H1653V691H1650zM1587 691H1590V695H1587zM1642 691H1650V695H1642zM1653 691H1657V700H1653zM1531 695H1535V700H1531zM1594 695H1598V700H1594zM1642 695H1646V700H1642zM1535 700H1539V704H1535zM1520 700H1524V704H1520zM1505 700H1516V704H1505zM1505 704H1509V708H1505zM1513 704H1516V708H1513zM1553 704H1561V708H1553zM1568 704H1576V708H1568zM1546 708H1550V712H1546zM1646 708H1650V717H1646zM1620 717H1624V721H1620zM1602 717H1609V721H1602zM1598 721H1602V725H1598zM1587 721H1590V725H1587zM1620 721H1628V725H1620zM1624 725H1631V729H1624zM1653 725H1657V729H1653zM1576 725H1579V729H1576zM1579 729H1583V733H1579zM1628 729H1631V733H1628zM1642 729H1646V733H1642zM1650 729H1653V738H1650zM1635 733H1646V738H1635zM1631 738H1639V742H1631zM1646 742H1650V746H1646zM1642 746H1650V750H1642zM1639 750H1642V755H1639zM1616 755H1620V759H1616zM1587 759H1590V763H1587zM1642 759H1646V763H1642zM1468 759H1472V767H1468zM1605 763H1613V767H1605zM1590 767H1594V771H1590zM1624 767H1631V771H1624zM1609 767H1616V771H1609zM1572 767H1576V771H1572zM1461 767H1464V776H1461zM1468 771H1472V776H1468zM1628 771H1631V776H1628zM1620 771H1624V780H1620zM1609 780H1624V788H1609zM1628 780H1631V788H1628zM1546 784H1550V788H1546zM1468 784H1472V788H1468zM1598 784H1602V788H1598zM1598 788H1605V792H1598zM1613 788H1616V797H1613zM1594 792H1598V797H1594zM1464 792H1468V797H1464zM1602 792H1609V797H1602zM1579 797H1583V801H1579zM1590 797H1594V801H1590zM1572 797H1576V801H1572zM1576 801H1583V805H1576zM1502 805H1509V809H1502zM1468 805H1472V809H1468zM1513 805H1516V809H1513zM1494 809H1498V814H1494zM1472 814H1476V818H1472zM1487 814H1490V818H1487zM1553 818H1557V822H1553zM1479 818H1483V826H1479zM1542 818H1546V826H1542zM1468 822H1476V826H1468zM1457 822H1464V826H1457zM1476 826H1479V830H1476zM1464 826H1468V830H1464zM1498 826H1502V830H1498zM1453 826H1457V830H1453zM1527 826H1531V830H1527zM1550 826H1557V830H1550zM1439 826H1442V830H1439zM1524 830H1527V835H1524zM1557 830H1561V835H1557zM1450 830H1457V835H1450zM1442 830H1446V835H1442zM1535 830H1539V839H1535zM1431 830H1435V839H1431zM1572 835H1576V839H1572zM1487 835H1490V839H1487zM1583 835H1587V839H1583zM1457 835H1461V839H1457zM1542 835H1553V839H1542zM1516 835H1520V839H1516zM1427 839H1435V843H1427zM1490 839H1494V843H1490zM1498 839H1502V843H1498zM1546 839H1550V843H1546zM1442 839H1446V843H1442zM1457 843H1461V847H1457zM1468 843H1476V847H1468zM1439 843H1450V847H1439zM1483 843H1487V852H1483zM1446 847H1450V852H1446zM1502 847H1505V852H1502zM1439 885H1442V890H1439zM1453 885H1457V890H1453zM1439 890H1453V894H1439zM1457 890H1461V894H1457zM1476 894H1479V898H1476zM1472 898H1476V902H1472zM1468 902H1472V906H1468zM1324 965H1327V970H1324zM1309 965H1320V970H1309zM1279 970H1283V974H1279zM1327 970H1331V974H1327zM1112 978H1116V982H1112zM1109 987H1112V995H1109z"/>
<path fill="#472a7a" d="M1609 447H1613V451H1609zM1628 493H1635V497H1628zM1646 506H1650V510H1646zM1609 510H1613V514H1609zM1624 506H1628V518H1624zM1646 514H1650V518H1646zM1613 514H1620V518H1613zM1609 518H1613V522H1609zM1646 522H1650V527H1646zM1598 522H1613V527H1598zM1590 531H1598V535H1590zM1642 531H1646V535H1642zM1616 531H1620V535H1616zM1620 535H1624V539H1620zM1642 539H1646V544H1642zM1587 539H1594V548H1587zM1576 544H1579V548H1576zM1576 548H1583V552H1576zM1587 548H1590V552H1587zM1642 548H1646V552H1642zM1590 552H1598V556H1590zM1553 552H1557V556H1553zM1583 552H1587V556H1583zM1557 556H1561V560H1557zM1572 556H1579V560H1572zM1565 560H1568V565H1565zM1579 560H1583V565H1579zM1587 560H1590V565H1587zM1576 565H1587V569H1576zM1568 565H1572V569H1568zM1642 565H1650V569H1642zM1594 565H1598V573H1594zM1557 569H1561V573H1557zM1635 569H1639V573H1635zM1579 569H1583V577H1579zM1642 573H1646V577H1642zM1576 577H1583V582H1576zM1565 577H1568V582H1565zM1639 577H1642V582H1639zM1550 573H1553V586H1550zM1579 582H1583V586H1579zM1572 582H1576V586H1572zM1535 586H1539V590H1535zM1557 586H1561V594H1557zM1565 590H1572V594H1565zM1594 590H1598V594H1594zM1576 590H1579V594H1576zM1542 590H1546V594H1542zM1587 590H1590V594H1587zM1609 594H1613V598H1609zM1531 594H1535V598H1531zM1553 594H1557V603H1553zM1561 594H1565V603H1561zM1594 598H1598V603H1594zM1546 598H1550V603H1546zM1590 603H1594V607H1590zM1605 603H1613V607H1605zM1553 603H1561V607H1553zM1635 607H1639V611H1635zM1546 607H1550V611H1546zM1535 607H1539V611H1535zM1576 607H1579V611H1576zM1550 611H1557V615H1550zM1587 611H1594V615H1587zM1590 615H1598V620H1590zM1568 615H1572V620H1568zM1516 620H1527V624H1516zM1561 620H1568V624H1561zM1550 620H1557V624H1550zM1576 620H1587V624H1576zM1620 620H1624V628H1620zM1557 624H1561V628H1557zM1520 624H1524V628H1520zM1639 624H1642V628H1639zM1579 624H1583V628H1579zM1587 624H1594V628H1587zM1550 624H1553V628H1550zM1527 624H1531V632H1527zM1546 628H1550V632H1546zM1553 628H1557V632H1553zM1568 628H1572V632H1568zM1576 628H1579V632H1576zM1539 628H1542V632H1539zM1516 628H1520V632H1516zM1635 632H1639V636H1635zM1520 632H1531V636H1520zM1557 632H1565V636H1557zM1546 632H1553V636H1546zM1568 632H1576V636H1568zM1579 632H1583V641H1579zM1631 636H1635V641H1631zM1542 636H1546V641H1542zM1531 636H1535V641H1531zM1565 636H1568V641H1565zM1550 636H1557V641H1550zM1516 636H1520V645H1516zM1509 641H1513V645H1509zM1598 641H1602V645H1598zM1616 641H1624V645H1616zM1553 641H1561V645H1553zM1568 641H1576V645H1568zM1628 641H1631V649H1628zM1524 645H1531V649H1524zM1553 645H1557V649H1553zM1568 645H1572V649H1568zM1531 649H1535V653H1531zM1624 649H1628V657H1624zM1565 653H1568V657H1565zM1527 653H1531V657H1527zM1509 653H1513V662H1509zM1516 657H1520V662H1516zM1620 657H1628V662H1620zM1531 657H1546V662H1531zM1546 662H1550V666H1546zM1524 662H1539V666H1524zM1513 662H1520V666H1513zM1598 662H1602V666H1598zM1561 662H1565V666H1561zM1616 662H1620V666H1616zM1520 666H1524V670H1520zM1565 666H1572V670H1565zM1624 666H1628V670H1624zM1531 666H1535V670H1531zM1609 666H1613V670H1609zM1602 670H1609V674H1602zM1609 674H1613V679H1609zM1572 674H1576V679H1572zM1602 674H1605V679H1602zM1527 674H1531V679H1527zM1605 679H1609V683H1605zM1576 679H1579V683H1576zM1531 679H1535V683H1531zM1594 679H1602V683H1594zM1516 679H1520V683H1516zM1557 683H1561V687H1557zM1594 683H1598V687H1594zM1539 687H1542V691H1539zM1527 687H1531V691H1527zM1550 687H1553V691H1550zM1590 691H1598V695H1590zM1527 691H1542V695H1527zM1583 691H1587V695H1583zM1590 695H1594V700H1590zM1516 695H1531V700H1516zM1539 695H1542V700H1539zM1505 695H1513V700H1505zM1524 700H1531V704H1524zM1553 700H1557V704H1553zM1572 700H1583V704H1572zM1565 704H1568V708H1565zM1527 704H1531V708H1527zM1602 721H1616V725H1602zM1590 721H1598V725H1590zM1579 725H1583V729H1579zM1646 733H1650V738H1646zM1639 738H1642V742H1639zM1639 742H1646V746H1639zM1631 742H1635V746H1631zM1631 750H1639V755H1631zM1642 750H1646V755H1642zM1639 755H1642V763H1639zM1602 759H1609V763H1602zM1613 763H1616V767H1613zM1464 763H1468V767H1464zM1628 763H1631V767H1628zM1620 763H1624V767H1620zM1635 767H1639V771H1635zM1464 771H1468V776H1464zM1642 776H1646V780H1642zM1609 776H1613V780H1609zM1624 771H1628V784H1624zM1605 780H1609V784H1605zM1602 784H1605V788H1602zM1609 788H1613V792H1609zM1553 788H1557V797H1553zM1590 792H1594V797H1590zM1561 797H1565V801H1561zM1583 797H1587V801H1583zM1516 805H1524V809H1516zM1531 805H1535V814H1531zM1535 814H1539V818H1535zM1483 818H1494V822H1483zM1476 822H1479V826H1476zM1539 822H1542V826H1539zM1487 822H1490V826H1487zM1490 826H1494V830H1490zM1461 826H1464V830H1461zM1531 826H1535V830H1531zM1479 826H1483V830H1479zM1539 826H1550V830H1539zM1483 830H1487V835H1483zM1546 830H1550V835H1546zM1468 830H1472V835H1468zM1527 830H1531V835H1527zM1457 830H1461V835H1457zM1446 830H1450V835H1446zM1435 830H1439V839H1435zM1490 835H1494V839H1490zM1464 835H1468V839H1464zM1505 835H1513V839H1505zM1476 830H1479V843H1476zM1461 839H1468V843H1461zM1483 839H1487V843H1483zM1494 839H1498V843H1494zM1439 839H1442V843H1439zM1435 843H1439V847H1435zM1502 843H1505V847H1502zM1450 847H1453V852H1450zM1446 885H1450V890H1446zM1453 890H1457V894H1453zM1301 965H1305V970H1301zM1290 965H1294V970H1290zM1287 970H1290V974H1287zM1324 970H1327V974H1324zM1116 978H1120V982H1116zM1112 982H1116V987H1112z"/>
<path fill="#453781" d="M1616 409H1620V413H1616zM1628 497H1631V501H1628zM1628 506H1635V510H1628zM1642 510H1650V514H1642zM1631 510H1635V514H1631zM1620 514H1624V522H1620zM1613 518H1616V522H1613zM1628 518H1631V522H1628zM1598 527H1602V535H1598zM1624 531H1628V535H1624zM1639 535H1642V539H1639zM1594 535H1598V539H1594zM1583 539H1587V544H1583zM1579 544H1583V548H1579zM1635 548H1639V552H1635zM1583 548H1587V552H1583zM1613 548H1616V556H1613zM1576 552H1583V556H1576zM1587 552H1590V556H1587zM1642 552H1646V556H1642zM1583 556H1587V565H1583zM1553 560H1557V565H1553zM1639 560H1642V565H1639zM1576 560H1579V565H1576zM1553 565H1568V569H1553zM1635 565H1639V569H1635zM1602 565H1605V569H1602zM1572 565H1576V569H1572zM1609 565H1613V573H1609zM1598 569H1602V573H1598zM1639 569H1642V573H1639zM1557 573H1561V577H1557zM1587 573H1590V582H1587zM1561 577H1565V582H1561zM1590 582H1594V586H1590zM1565 582H1572V586H1565zM1609 582H1613V586H1609zM1639 586H1642V590H1639zM1594 586H1598V590H1594zM1561 586H1568V590H1561zM1542 586H1546V590H1542zM1576 586H1590V590H1576zM1579 590H1583V594H1579zM1572 590H1576V594H1572zM1576 594H1583V598H1576zM1557 594H1561V598H1557zM1635 594H1639V598H1635zM1542 594H1546V598H1542zM1631 598H1635V603H1631zM1587 598H1590V603H1587zM1609 598H1613V603H1609zM1602 598H1605V607H1602zM1539 598H1542V607H1539zM1594 603H1598V607H1594zM1568 603H1572V607H1568zM1531 603H1535V607H1531zM1561 607H1572V611H1561zM1587 607H1590V611H1587zM1553 607H1557V611H1553zM1542 607H1546V611H1542zM1639 611H1642V615H1639zM1594 611H1598V615H1594zM1531 611H1542V615H1531zM1557 615H1568V620H1557zM1546 615H1553V620H1546zM1635 615H1642V620H1635zM1572 620H1576V624H1572zM1594 620H1598V624H1594zM1568 624H1572V628H1568zM1598 624H1602V628H1598zM1616 624H1620V628H1616zM1561 624H1565V632H1561zM1524 628H1527V632H1524zM1631 628H1635V632H1631zM1587 628H1590V632H1587zM1550 628H1553V632H1550zM1553 632H1557V636H1553zM1557 636H1561V641H1557zM1576 636H1579V641H1576zM1598 636H1602V641H1598zM1583 636H1587V641H1583zM1539 632H1542V645H1539zM1520 641H1527V645H1520zM1561 641H1568V645H1561zM1513 641H1516V649H1513zM1576 645H1579V649H1576zM1557 645H1565V649H1557zM1602 645H1605V653H1602zM1620 645H1624V653H1620zM1520 649H1527V653H1520zM1561 649H1568V653H1561zM1557 653H1561V657H1557zM1539 653H1542V657H1539zM1527 657H1531V662H1527zM1620 662H1624V666H1620zM1539 662H1546V666H1539zM1609 662H1613V666H1609zM1535 666H1539V670H1535zM1527 666H1531V670H1527zM1513 666H1520V670H1513zM1542 666H1546V670H1542zM1598 666H1602V670H1598zM1561 666H1565V670H1561zM1557 670H1561V674H1557zM1546 670H1550V674H1546zM1568 670H1572V674H1568zM1509 670H1513V674H1509zM1539 670H1542V674H1539zM1531 670H1535V679H1531zM1509 674H1520V679H1509zM1598 674H1602V679H1598zM1587 679H1594V683H1587zM1535 679H1539V683H1535zM1539 683H1542V687H1539zM1505 683H1513V687H1505zM1576 683H1579V687H1576zM1553 683H1557V691H1553zM1520 687H1524V691H1520zM1579 687H1583V691H1579zM1535 687H1539V691H1535zM1542 687H1546V691H1542zM1505 687H1509V691H1505zM1709 687H1713V691H1709zM1546 691H1550V695H1546zM1520 691H1527V695H1520zM1579 695H1590V700H1579zM1542 695H1546V700H1542zM1702 700H1705V704H1702zM1568 700H1572V704H1568zM1524 704H1527V708H1524zM1620 725H1624V729H1620zM1583 725H1587V729H1583zM1605 725H1609V733H1605zM1631 733H1635V738H1631zM1642 738H1650V742H1642zM1576 742H1579V750H1576zM1639 746H1642V750H1639zM1602 746H1605V750H1602zM1609 750H1613V755H1609zM1650 750H1653V755H1650zM1616 750H1620V755H1616zM1605 755H1609V759H1605zM1631 755H1639V759H1631zM1565 759H1568V763H1565zM1609 759H1613V763H1609zM1605 767H1609V771H1605zM1620 767H1624V771H1620zM1631 767H1635V771H1631zM1561 771H1565V776H1561zM1553 776H1557V784H1553zM1594 784H1598V792H1594zM1565 797H1572V801H1565zM1524 805H1531V809H1524zM1502 809H1505V814H1502zM1531 818H1535V822H1531zM1490 822H1494V826H1490zM1483 822H1487V826H1483zM1487 826H1490V830H1487zM1468 826H1472V830H1468zM1516 826H1527V830H1516zM1502 826H1509V830H1502zM1457 826H1461V830H1457zM1439 830H1442V835H1439zM1520 830H1524V835H1520zM1461 830H1464V839H1461zM1439 835H1446V839H1439zM1479 835H1487V839H1479zM1502 835H1505V839H1502zM1472 835H1476V843H1472zM1435 839H1439V843H1435zM1479 839H1483V843H1479zM1450 843H1457V847H1450zM1461 843H1464V847H1461zM1320 965H1324V970H1320zM1309 970H1312V974H1309zM1290 970H1294V974H1290zM1112 987H1116V991H1112z"/>
<path fill="#414487" d="M1631 497H1635V501H1631zM1639 506H1642V510H1639zM1635 510H1639V514H1635zM1624 518H1628V522H1624zM1616 518H1620V522H1616zM1613 522H1616V527H1613zM1624 527H1628V531H1624zM1605 531H1613V535H1605zM1628 531H1631V535H1628zM1631 535H1635V539H1631zM1602 535H1605V544H1602zM1639 539H1642V544H1639zM1594 539H1598V544H1594zM1576 539H1579V544H1576zM1616 544H1620V548H1616zM1628 548H1631V552H1628zM1598 548H1602V556H1598zM1639 552H1642V556H1639zM1613 556H1616V560H1613zM1594 556H1598V560H1594zM1590 560H1594V565H1590zM1598 560H1602V565H1598zM1572 560H1576V565H1572zM1561 560H1565V565H1561zM1631 560H1635V569H1631zM1587 565H1594V569H1587zM1605 569H1609V573H1605zM1568 569H1572V573H1568zM1583 569H1587V573H1583zM1590 573H1594V577H1590zM1561 573H1565V577H1561zM1639 573H1642V577H1639zM1568 577H1576V582H1568zM1594 582H1598V586H1594zM1546 582H1550V586H1546zM1576 582H1579V586H1576zM1590 586H1594V590H1590zM1598 586H1602V590H1598zM1568 586H1576V590H1568zM1635 586H1639V594H1635zM1553 590H1557V594H1553zM1583 590H1587V594H1583zM1546 594H1550V598H1546zM1535 594H1542V598H1535zM1542 598H1546V603H1542zM1631 603H1635V607H1631zM1639 607H1642V611H1639zM1602 607H1605V611H1602zM1635 611H1639V615H1635zM1576 611H1579V615H1576zM1598 611H1602V615H1598zM1561 611H1565V615H1561zM1583 611H1587V615H1583zM1535 615H1539V620H1535zM1624 615H1628V620H1624zM1542 615H1546V620H1542zM1616 615H1620V620H1616zM1631 615H1635V624H1631zM1557 620H1561V624H1557zM1613 620H1616V624H1613zM1546 624H1550V628H1546zM1624 624H1631V628H1624zM1531 624H1535V628H1531zM1565 624H1568V628H1565zM1609 624H1613V628H1609zM1602 624H1605V632H1602zM1572 628H1576V632H1572zM1628 628H1631V632H1628zM1542 628H1546V636H1542zM1631 632H1635V636H1631zM1535 632H1539V636H1535zM1565 632H1568V636H1565zM1613 632H1616V636H1613zM1583 632H1587V636H1583zM1524 636H1527V641H1524zM1594 636H1598V641H1594zM1628 636H1631V641H1628zM1561 636H1565V641H1561zM1613 641H1616V645H1613zM1579 641H1583V645H1579zM1624 641H1628V649H1624zM1546 645H1553V649H1546zM1609 645H1613V649H1609zM1516 645H1520V649H1516zM1587 649H1590V653H1587zM1553 649H1557V653H1553zM1524 653H1527V657H1524zM1531 653H1535V657H1531zM1561 653H1565V657H1561zM1613 657H1616V662H1613zM1546 657H1550V662H1546zM1602 657H1605V670H1602zM1557 662H1561V670H1557zM1572 666H1576V670H1572zM1539 666H1542V670H1539zM1561 670H1568V674H1561zM1590 674H1594V679H1590zM1568 674H1572V679H1568zM1576 674H1579V679H1576zM1542 674H1546V679H1542zM1583 674H1587V679H1583zM1520 670H1524V683H1520zM1561 679H1565V683H1561zM1602 679H1605V683H1602zM1568 679H1576V683H1568zM1513 683H1516V687H1513zM1509 687H1516V691H1509zM1546 687H1550V691H1546zM1579 691H1583V695H1579zM1513 691H1516V695H1513zM1535 695H1539V700H1535zM1587 700H1590V704H1587zM1687 712H1691V717H1687zM1587 725H1590V729H1587zM1620 729H1624V733H1620zM1583 729H1587V733H1583zM1613 733H1616V738H1613zM1579 733H1583V738H1579zM1635 742H1639V746H1635zM1579 742H1583V750H1579zM1572 746H1576V750H1572zM1628 746H1635V750H1628zM1605 750H1609V755H1605zM1613 750H1616V755H1613zM1594 755H1602V759H1594zM1631 763H1639V767H1631zM1616 763H1620V767H1616zM1579 771H1583V776H1579zM1613 776H1620V780H1613zM1602 776H1605V780H1602zM1639 780H1642V784H1639zM1557 784H1561V788H1557zM1579 792H1583V797H1579zM1490 814H1494V818H1490zM1524 814H1527V818H1524zM1539 818H1542V822H1539zM1613 822H1616V826H1613zM1535 822H1539V826H1535zM1487 830H1490V835H1487zM1516 830H1520V835H1516zM1468 835H1472V839H1468zM1498 835H1502V839H1498zM1446 835H1450V843H1446zM1453 839H1457V843H1453zM1587 847H1590V852H1587zM1450 885H1453V890H1450zM1312 970H1316V974H1312zM1109 982H1112V987H1109z"/>
<path fill="#3c4f8a" d="M1609 421H1613V425H1609zM1609 434H1613V438H1609zM1605 447H1609V451H1605zM1635 497H1639V501H1635zM1639 501H1642V506H1639zM1639 510H1642V514H1639zM1628 510H1631V514H1628zM1628 514H1635V518H1628zM1646 518H1650V522H1646zM1639 518H1642V527H1639zM1624 522H1628V527H1624zM1624 535H1628V539H1624zM1605 539H1609V544H1605zM1613 539H1616V544H1613zM1628 539H1631V544H1628zM1590 548H1594V552H1590zM1616 548H1620V552H1616zM1635 552H1639V556H1635zM1587 556H1590V560H1587zM1605 556H1613V560H1605zM1609 560H1613V565H1609zM1590 569H1594V573H1590zM1572 569H1579V573H1572zM1642 569H1646V573H1642zM1616 569H1620V573H1616zM1598 573H1602V577H1598zM1628 573H1631V577H1628zM1635 573H1639V577H1635zM1576 573H1579V577H1576zM1631 577H1635V582H1631zM1624 577H1628V582H1624zM1598 582H1602V586H1598zM1635 582H1642V586H1635zM1546 586H1553V590H1546zM1587 594H1590V598H1587zM1594 594H1602V598H1594zM1572 603H1576V607H1572zM1635 603H1639V607H1635zM1542 603H1546V607H1542zM1598 607H1602V611H1598zM1609 607H1613V611H1609zM1583 607H1587V611H1583zM1546 611H1550V615H1546zM1572 615H1576V620H1572zM1553 615H1557V620H1553zM1598 620H1602V624H1598zM1616 620H1620V624H1616zM1613 624H1616V628H1613zM1594 624H1598V628H1594zM1542 624H1546V628H1542zM1531 628H1535V632H1531zM1590 628H1598V632H1590zM1605 628H1609V632H1605zM1565 628H1568V632H1565zM1594 632H1602V636H1594zM1572 636H1576V641H1572zM1624 636H1628V641H1624zM1616 636H1620V641H1616zM1583 641H1587V645H1583zM1520 645H1524V649H1520zM1542 645H1546V649H1542zM1531 645H1535V649H1531zM1565 645H1568V649H1565zM1605 645H1609V653H1605zM1613 645H1616V653H1613zM1598 645H1602V657H1598zM1546 649H1550V657H1546zM1516 649H1520V657H1516zM1535 653H1539V657H1535zM1620 653H1624V657H1620zM1583 653H1587V657H1583zM1609 657H1613V662H1609zM1561 657H1565V662H1561zM1550 662H1557V666H1550zM1546 666H1550V670H1546zM1590 670H1594V674H1590zM1576 670H1579V674H1576zM1542 670H1546V674H1542zM1535 670H1539V679H1535zM1557 674H1561V679H1557zM1587 674H1590V679H1587zM1565 674H1568V679H1565zM1509 679H1513V683H1509zM1590 683H1594V687H1590zM1550 683H1553V687H1550zM1516 683H1520V695H1516zM1509 691H1513V695H1509zM1546 695H1550V700H1546zM1513 695H1516V700H1513zM1561 700H1565V704H1561zM1602 725H1605V729H1602zM1605 733H1609V738H1605zM1583 733H1587V738H1583zM1579 738H1583V742H1579zM1616 738H1620V742H1616zM1628 742H1631V746H1628zM1616 746H1620V750H1616zM1609 755H1616V759H1609zM1631 759H1639V763H1631zM1602 763H1605V767H1602zM1565 767H1572V771H1565zM1616 767H1620V771H1616zM1602 771H1605V776H1602zM1561 792H1565V797H1561zM1576 797H1579V801H1576zM1628 805H1631V809H1628zM1520 809H1524V814H1520zM1527 809H1531V814H1527zM1524 818H1527V822H1524zM1509 818H1513V822H1509zM1505 822H1509V826H1505zM1513 822H1516V826H1513zM1494 822H1498V826H1494zM1483 826H1487V830H1483zM1502 830H1505V835H1502zM1490 830H1498V835H1490zM1464 830H1468V835H1464zM1472 830H1476V835H1472zM1450 835H1453V843H1450zM1457 839H1461V843H1457zM1579 856H1583V860H1579z"/>
<path fill="#375a8c" d="M1628 501H1631V506H1628zM1642 506H1646V510H1642zM1635 506H1639V510H1635zM1639 514H1642V518H1639zM1642 518H1646V522H1642zM1616 522H1624V527H1616zM1642 527H1646V531H1642zM1613 531H1616V535H1613zM1631 531H1635V535H1631zM1598 539H1602V544H1598zM1628 544H1631V548H1628zM1635 544H1642V548H1635zM1594 544H1598V552H1594zM1628 552H1631V556H1628zM1642 556H1646V560H1642zM1613 560H1616V565H1613zM1598 565H1602V569H1598zM1628 565H1631V569H1628zM1587 569H1590V573H1587zM1602 569H1605V573H1602zM1613 577H1616V582H1613zM1598 590H1602V594H1598zM1590 594H1594V598H1590zM1602 594H1609V598H1602zM1583 594H1587V598H1583zM1635 598H1639V603H1635zM1628 598H1631V603H1628zM1572 598H1583V603H1572zM1598 598H1602V607H1598zM1576 603H1579V607H1576zM1613 603H1616V611H1613zM1620 607H1624V611H1620zM1631 607H1635V615H1631zM1609 611H1613V615H1609zM1613 615H1616V620H1613zM1539 620H1542V624H1539zM1628 620H1631V624H1628zM1535 624H1539V632H1535zM1613 628H1624V632H1613zM1535 636H1539V641H1535zM1527 636H1531V641H1527zM1590 641H1594V645H1590zM1550 653H1553V657H1550zM1550 657H1557V662H1550zM1605 657H1609V662H1605zM1520 657H1524V662H1520zM1565 657H1568V662H1565zM1594 662H1598V666H1594zM1568 662H1572V666H1568zM1513 670H1516V674H1513zM1579 674H1583V679H1579zM1539 674H1542V679H1539zM1565 679H1568V683H1565zM1531 683H1535V687H1531zM1579 683H1583V687H1579zM1520 683H1524V687H1520zM1542 683H1546V687H1542zM1576 691H1579V695H1576zM1550 695H1557V700H1550zM1572 695H1576V700H1572zM1691 708H1694V712H1691zM1590 725H1594V729H1590zM1609 725H1613V729H1609zM1616 725H1620V729H1616zM1609 733H1613V738H1609zM1661 738H1665V742H1661zM1594 738H1598V742H1594zM1624 738H1628V742H1624zM1657 742H1661V746H1657zM1576 750H1579V755H1576zM1620 759H1624V763H1620zM1646 763H1650V767H1646zM1565 771H1568V776H1565zM1587 792H1590V797H1587zM1631 792H1635V797H1631zM1576 792H1579V797H1576zM1624 809H1628V814H1624zM1502 814H1505V818H1502zM1620 814H1624V818H1620zM1494 814H1498V822H1494zM1505 818H1509V822H1505zM1509 822H1513V826H1509zM1513 826H1516V835H1513zM1505 830H1509V835H1505zM1453 835H1457V839H1453zM1494 835H1498V839H1494zM1576 860H1579V864H1576zM1557 877H1561V881H1557z"/>
<path fill="#32648e" d="M1635 518H1639V522H1635zM1613 527H1616V531H1613zM1639 531H1642V535H1639zM1598 535H1602V539H1598zM1609 535H1613V539H1609zM1624 544H1628V548H1624zM1631 548H1635V556H1631zM1620 552H1624V556H1620zM1609 552H1613V556H1609zM1616 556H1620V560H1616zM1635 556H1639V565H1635zM1642 560H1646V565H1642zM1605 565H1609V569H1605zM1565 573H1568V577H1565zM1572 573H1576V577H1572zM1613 573H1616V577H1613zM1602 573H1605V577H1602zM1616 586H1620V590H1616zM1609 590H1616V594H1609zM1550 590H1553V594H1550zM1620 594H1628V598H1620zM1624 598H1628V603H1624zM1616 598H1620V603H1616zM1583 598H1587V603H1583zM1628 603H1631V607H1628zM1535 603H1539V607H1535zM1605 607H1609V611H1605zM1579 607H1583V611H1579zM1572 611H1576V615H1572zM1628 615H1631V620H1628zM1602 615H1605V620H1602zM1609 615H1613V624H1609zM1587 636H1590V641H1587zM1620 636H1624V641H1620zM1527 641H1539V645H1527zM1602 641H1605V645H1602zM1535 645H1539V649H1535zM1590 649H1594V653H1590zM1542 649H1546V657H1542zM1568 653H1579V657H1568zM1616 653H1620V657H1616zM1520 653H1524V657H1520zM1524 657H1527V662H1524zM1520 662H1524V666H1520zM1605 666H1609V670H1605zM1587 666H1590V670H1587zM1550 670H1557V674H1550zM1583 670H1587V674H1583zM1553 674H1557V679H1553zM1561 674H1565V679H1561zM1542 679H1546V683H1542zM1583 687H1587V691H1583zM1557 691H1561V700H1557zM1550 704H1553V708H1550zM1594 725H1598V729H1594zM1668 729H1672V733H1668zM1609 729H1613V733H1609zM1628 738H1631V742H1628zM1583 738H1587V742H1583zM1605 746H1609V750H1605zM1583 746H1587V750H1583zM1628 750H1631V755H1628zM1594 750H1602V755H1594zM1628 759H1631V763H1628zM1602 767H1605V771H1602zM1613 771H1616V776H1613zM1557 776H1561V780H1557zM1594 776H1598V784H1594zM1561 784H1565V792H1561zM1590 788H1594V792H1590zM1498 814H1502V818H1498zM1527 818H1531V822H1527zM1502 822H1505V826H1502zM1494 826H1498V830H1494zM1509 830H1513V835H1509zM1598 839H1602V843H1598zM1590 847H1594V852H1590zM1546 890H1550V894H1546zM1542 894H1546V898H1542zM1520 911H1524V915H1520z"/>
<path fill="#2e6f8e" d="M1635 501H1639V506H1635zM1635 514H1639V518H1635zM1642 522H1646V527H1642zM1616 527H1624V531H1616zM1635 531H1639V535H1635zM1616 539H1624V544H1616zM1635 539H1639V544H1635zM1598 544H1602V548H1598zM1631 556H1635V560H1631zM1624 569H1628V573H1624zM1568 573H1572V577H1568zM1590 577H1594V582H1590zM1613 582H1616V586H1613zM1628 582H1631V586H1628zM1605 586H1609V590H1605zM1628 607H1631V611H1628zM1613 611H1616V615H1613zM1568 611H1572V615H1568zM1605 624H1609V628H1605zM1624 628H1628V632H1624zM1587 632H1590V636H1587zM1613 636H1616V641H1613zM1587 641H1590V645H1587zM1594 649H1598V653H1594zM1576 649H1579V653H1576zM1609 649H1613V653H1609zM1550 649H1553V653H1550zM1587 653H1590V657H1587zM1557 657H1561V662H1557zM1579 657H1583V662H1579zM1568 657H1572V662H1568zM1590 657H1594V666H1590zM1576 662H1579V666H1576zM1579 666H1583V670H1579zM1572 670H1576V674H1572zM1587 670H1590V674H1587zM1565 683H1568V687H1565zM1561 687H1565V691H1561zM1576 687H1579V691H1576zM1505 691H1509V695H1505zM1550 691H1553V695H1550zM1561 695H1565V700H1561zM1705 695H1709V700H1705zM1598 725H1602V729H1598zM1613 725H1616V729H1613zM1646 755H1650V759H1646zM1587 763H1590V767H1587zM1616 771H1620V776H1616zM1498 830H1502V835H1498zM1568 868H1572V873H1568zM1531 902H1535V906H1531zM1524 911H1527V915H1524z"/>
<path fill="#2a788e" d="M1628 527H1631V531H1628zM1635 535H1639V539H1635zM1616 535H1620V539H1616zM1609 539H1613V544H1609zM1602 552H1605V556H1602zM1639 556H1642V560H1639zM1598 556H1605V560H1598zM1620 556H1624V560H1620zM1620 565H1624V569H1620zM1624 573H1628V577H1624zM1609 577H1613V582H1609zM1616 577H1620V582H1616zM1613 586H1616V590H1613zM1590 590H1594V594H1590zM1546 590H1550V594H1546zM1620 590H1624V594H1620zM1613 598H1616V603H1613zM1620 603H1624V607H1620zM1605 611H1609V615H1605zM1620 611H1628V615H1620zM1542 611H1546V615H1542zM1598 615H1602V620H1598zM1535 620H1539V624H1535zM1539 624H1542V628H1539zM1590 636H1594V641H1590zM1539 645H1542V649H1539zM1583 645H1587V649H1583zM1605 653H1609V657H1605zM1579 662H1583V666H1579zM1553 666H1557V670H1553zM1713 679H1717V683H1713zM1624 733H1628V738H1624zM1605 738H1609V742H1605zM1587 746H1590V750H1587zM1590 755H1594V759H1590zM1598 759H1602V763H1598zM1624 759H1628V763H1624zM1568 771H1572V776H1568zM1598 776H1602V780H1598zM1565 776H1576V780H1565zM1579 788H1583V792H1579zM1572 792H1576V797H1572zM1583 792H1587V797H1583zM1509 814H1513V818H1509zM1553 881H1557V885H1553z"/>
<path fill="#26828e" d="M1631 501H1635V506H1631zM1635 522H1639V527H1635zM1631 527H1642V531H1631zM1620 544H1624V548H1620zM1609 544H1616V548H1609zM1609 548H1613V552H1609zM1624 548H1628V552H1624zM1628 556H1631V560H1628zM1639 565H1642V569H1639zM1631 569H1635V577H1631zM1605 573H1609V577H1605zM1628 577H1631V582H1628zM1605 582H1609V586H1605zM1616 582H1620V586H1616zM1602 586H1605V590H1602zM1624 590H1628V594H1624zM1613 594H1616V598H1613zM1572 607H1576V611H1572zM1594 607H1598V611H1594zM1535 649H1542V653H1535zM1613 653H1616V657H1613zM1576 657H1579V662H1576zM1579 670H1583V674H1579zM1568 683H1572V687H1568zM1553 691H1557V695H1553zM1568 691H1572V695H1568zM1576 695H1579V700H1576zM1550 700H1553V704H1550zM1676 721H1679V725H1676zM1590 738H1594V742H1590zM1624 750H1628V755H1624zM1583 750H1587V755H1583zM1572 755H1576V759H1572zM1568 759H1572V763H1568zM1594 763H1598V767H1594zM1561 776H1565V780H1561zM1516 809H1520V818H1516zM1527 814H1531V818H1527zM1616 818H1620V822H1616zM1316 970H1320V974H1316z"/>
<path fill="#228b8d" d="M1628 535H1631V539H1628zM1605 560H1609V565H1605zM1628 569H1631V573H1628zM1561 569H1568V573H1561zM1594 577H1598V582H1594zM1631 582H1635V586H1631zM1620 586H1624V590H1620zM1628 594H1631V598H1628zM1616 607H1620V611H1616zM1628 611H1631V615H1628zM1620 615H1624V620H1620zM1605 620H1609V624H1605zM1609 628H1613V632H1609zM1624 632H1628V636H1624zM1594 645H1598V649H1594zM1590 653H1594V657H1590zM1609 653H1613V657H1609zM1594 657H1598V662H1594zM1587 657H1590V662H1587zM1583 662H1587V666H1583zM1516 670H1520V674H1516zM1565 695H1572V700H1565zM1579 750H1583V755H1579zM1587 750H1590V755H1587zM1594 759H1598V763H1594zM1594 767H1598V771H1594zM1587 767H1590V771H1587zM1531 814H1535V818H1531zM1513 814H1516V818H1513z"/>
<path fill="#1f958b" d="M1642 514H1646V518H1642zM1628 522H1631V527H1628zM1620 531H1624V535H1620zM1613 535H1616V539H1613zM1631 539H1635V548H1631zM1613 569H1616V573H1613zM1594 573H1598V577H1594zM1602 577H1609V582H1602zM1631 594H1635V598H1631zM1624 607H1628V611H1624zM1542 620H1546V624H1542zM1590 632H1594V636H1590zM1620 632H1624V636H1620zM1602 636H1605V641H1602zM1594 653H1598V657H1594zM1550 666H1553V670H1550zM1550 679H1553V683H1550zM1583 683H1587V687H1583zM1572 691H1576V695H1572zM1613 742H1616V746H1613zM1572 750H1576V755H1572zM1624 755H1628V759H1624zM1583 755H1587V759H1583zM1583 763H1587V767H1583zM1590 763H1594V767H1590zM1576 763H1579V767H1576zM1583 771H1587V776H1583zM1572 784H1576V788H1572zM1587 788H1590V792H1587z"/>
<path fill="#1f9f88" d="M1631 518H1635V522H1631zM1616 552H1620V556H1616zM1602 560H1605V565H1602zM1602 582H1605V586H1602zM1624 582H1628V586H1624zM1616 632H1620V636H1616zM1579 653H1583V657H1579zM1572 662H1576V666H1572zM1550 674H1553V679H1550zM1542 700H1546V704H1542zM1598 763H1602V767H1598zM1557 780H1565V784H1557zM1572 780H1576V784H1572zM1590 784H1594V788H1590zM1583 788H1587V792H1583zM1535 818H1539V822H1535z"/>
<path fill="#22a884" d="M1631 522H1635V527H1631zM1628 560H1631V565H1628zM1620 582H1624V586H1620zM1628 586H1631V590H1628zM1568 687H1572V691H1568zM1542 704H1546V708H1542zM1602 729H1605V733H1602zM1616 729H1620V733H1616zM1587 784H1590V788H1587zM1565 792H1568V797H1565zM1513 818H1516V822H1513z"/>
<path fill="#2cb17e" d="M1605 535H1609V539H1605zM1624 560H1628V565H1624zM1609 573H1613V577H1609zM1572 687H1576V691H1572zM1587 742H1590V746H1587zM1587 755H1590V759H1587zM1590 776H1594V780H1590zM1568 780H1572V784H1568zM1520 814H1524V818H1520zM1516 818H1520V822H1516z"/>
<path fill="#3bbb75" d="M1602 544H1605V548H1602zM1624 556H1628V560H1624zM1616 560H1620V565H1616zM1613 565H1616V569H1613zM1616 573H1624V577H1616zM1620 577H1624V582H1620zM1590 645H1594V649H1590zM1546 700H1550V708H1546zM1590 746H1594V750H1590zM1583 767H1587V771H1583zM1587 771H1590V776H1587zM1320 970H1324V974H1320z"/>
<path fill="#4ec36b" d="M1620 548H1624V552H1620zM1602 590H1605V594H1602zM1631 590H1635V594H1631zM1583 742H1587V746H1583zM1576 780H1579V784H1576z"/>
<path fill="#63cb5f" d="M1616 565H1620V569H1616zM1628 590H1631V594H1628zM1590 750H1594V755H1590zM1572 771H1576V776H1572zM1565 780H1568V784H1565zM1568 784H1572V792H1568zM1576 784H1579V792H1576z"/>
<path fill="#7ad151" d="M1616 603H1620V607H1616zM1572 788H1576V792H1572z"/>
<path fill="#95d840" d="M1572 657H1576V662H1572zM1583 784H1587V788H1583z"/>
<path fill="#b0dd2f" d="M1624 552H1628V556H1624zM1620 569H1624V573H1620zM1631 586H1635V590H1631zM1624 603H1628V607H1624zM1602 733H1605V738H1602zM1594 746H1598V750H1594zM1620 755H1624V759H1620zM1590 759H1594V763H1590zM1579 767H1583V771H1579zM1576 771H1579V776H1576zM1579 776H1590V780H1579zM1579 780H1594V784H1579zM1579 784H1583V788H1579zM1565 784H1568V792H1565z"/>
<path fill="#fde725" d="M1565 375H1568V379H1565zM1542 497H1546V501H1542zM1602 527H1609V531H1602zM1602 531H1605V535H1602zM1605 544H1609V548H1605zM1553 548H1557V552H1553zM1602 548H1609V552H1602zM1605 552H1609V556H1605zM1520 556H1524V560H1520zM1609 586H1613V590H1609zM1624 586H1628V590H1624zM1605 590H1609V594H1605zM1616 590H1620V598H1616zM1620 598H1624V603H1620zM1490 607H1494V611H1490zM1605 615H1609V620H1605zM1579 615H1587V620H1579zM1602 620H1605V624H1602zM1583 624H1587V628H1583zM1639 628H1642V632H1639zM1602 632H1613V636H1602zM1628 632H1631V636H1628zM1605 636H1613V645H1605zM1579 645H1583V649H1579zM1579 649H1587V653H1579zM1602 653H1605V657H1602zM1598 657H1602V662H1598zM1583 657H1587V662H1583zM1587 662H1590V666H1587zM1613 666H1616V670H1613zM1594 666H1598V674H1594zM1546 679H1550V683H1546zM1579 679H1587V683H1579zM1524 683H1527V687H1524zM1572 683H1576V687H1572zM1561 683H1565V687H1561zM1557 687H1561V691H1557zM1565 687H1568V691H1565zM1561 691H1568V695H1561zM1542 691H1546V695H1542zM1557 700H1561V704H1557zM1565 700H1568V704H1565zM1579 704H1587V708H1579zM1587 708H1590V717H1587zM1579 712H1583V717H1579zM1572 717H1583V721H1572zM1583 721H1587V725H1583zM1631 721H1639V725H1631zM1576 721H1579V725H1576zM1613 729H1616V733H1613zM1624 729H1628V733H1624zM1587 729H1602V738H1587zM1665 729H1668V738H1665zM1628 733H1631V738H1628zM1616 733H1624V738H1616zM1620 738H1624V742H1620zM1598 738H1605V742H1598zM1609 738H1616V742H1609zM1587 738H1590V742H1587zM1657 738H1661V742H1657zM1590 742H1613V746H1590zM1616 742H1628V746H1616zM1598 746H1602V750H1598zM1620 746H1628V750H1620zM1609 746H1616V750H1609zM1620 750H1624V755H1620zM1602 750H1605V759H1602zM1576 755H1583V759H1576zM1628 755H1631V759H1628zM1568 755H1572V759H1568zM1613 759H1620V763H1613zM1572 759H1587V763H1572zM1579 763H1583V767H1579zM1624 763H1628V767H1624zM1568 763H1576V767H1568zM1598 767H1602V771H1598zM1576 767H1579V771H1576zM1590 771H1602V776H1590zM1605 771H1609V780H1605zM1639 771H1642V780H1639zM1576 776H1579V780H1576zM1602 780H1605V784H1602zM1631 784H1639V788H1631zM1553 784H1557V788H1553zM1631 788H1635V792H1631zM1557 788H1561V797H1557zM1568 792H1572V797H1568zM1464 801H1468V805H1464zM1609 805H1616V809H1609zM1524 809H1527V814H1524zM1505 809H1516V814H1505zM1505 814H1509V818H1505zM1520 818H1524V822H1520zM1502 818H1505V822H1502zM1516 822H1535V826H1516zM1535 826H1539V830H1535zM1401 852H1405V856H1401zM1464 890H1476V898H1464zM1479 894H1487V898H1479zM1476 898H1483V902H1476zM1464 898H1472V902H1464zM1535 898H1539V906H1535zM1464 902H1468V906H1464zM1520 902H1527V906H1520zM1509 902H1513V911H1509zM1524 906H1531V911H1524zM1494 911H1502V915H1494zM1409 911H1413V915H1409zM1461 911H1464V915H1461zM1505 915H1520V919H1505zM1509 919H1516V923H1509z"/>
<path fill="#ebebeb" fill-opacity="0.03" d="M1009 338h1v709h-1zM1034 338h1v709h-1zM1224 338h1v709h-1zM1249 338h1v709h-1zM1287 338h1v709h-1zM1312 338h1v709h-1zM1502 338h1v709h-1zM1527 338h1v709h-1zM1565 338h1v709h-1zM1590 338h1v709h-1zM961 425h807v1h-807zM961 485h807v1h-807zM961 560h807v1h-807zM961 620h807v1h-807zM961 695h807v1h-807zM961 755h807v1h-807zM961 830h807v1h-807zM961 890h807v1h-807zM961 965h807v1h-807zM961 1025h807v1h-807z"/>
<path fill="#ebebeb" fill-opacity="0.05" d="M1072 338h1v709h-1zM1123 338h1v709h-1zM1135 338h1v709h-1zM1186 338h1v709h-1zM1350 338h1v709h-1zM1401 338h1v709h-1zM1413 338h1v709h-1zM1464 338h1v709h-1zM1628 338h1v709h-1zM1679 338h1v709h-1zM1691 338h1v709h-1zM1742 338h1v709h-1zM961 447h807v1h-807zM961 582h807v1h-807zM961 717h807v1h-807zM961 852h807v1h-807zM961 987h807v1h-807z"/>
<path fill="#ebebeb" fill-opacity="0.07" d="M997 338h1v709h-1zM1060 338h1v709h-1zM1198 338h1v709h-1zM1261 338h1v709h-1zM1275 338h1v709h-1zM1338 338h1v709h-1zM1476 338h1v709h-1zM1539 338h1v709h-1zM1553 338h1v709h-1zM1616 338h1v709h-1zM961 409h807v1h-807zM961 463h807v1h-807zM961 544h807v1h-807zM961 598h807v1h-807zM961 679h807v1h-807zM961 733h807v1h-807zM961 814h807v1h-807zM961 868h807v1h-807zM961 949h807v1h-807zM961 1003h807v1h-807z"/>
<path fill="#ebebeb" fill-opacity="0.1" d="M1046 338h1v709h-1zM1086 338h1v709h-1zM1109 338h1v709h-1zM1149 338h1v709h-1zM1172 338h1v709h-1zM1212 338h1v709h-1zM1324 338h1v709h-1zM1364 338h1v709h-1zM1387 338h1v709h-1zM1427 338h1v709h-1zM1450 338h1v709h-1zM1490 338h1v709h-1zM1602 338h1v709h-1zM1642 338h1v709h-1zM1665 338h1v709h-1zM1705 338h1v709h-1zM1728 338h1v709h-1zM961 366h807v1h-807zM961 371h807v1h-807zM961 501h807v1h-807zM961 506h807v1h-807zM961 636h807v1h-807zM961 641h807v1h-807zM961 771h807v1h-807zM961 776h807v1h-807zM961 906h807v1h-807zM961 911h807v1h-807zM961 1041h807v1h-807z"/>
<path fill="#ebebeb" fill-opacity="0.12" d="M1020 338h1v709h-1zM1023 338h1v709h-1zM1235 338h1v709h-1zM1238 338h1v709h-1zM1298 338h1v709h-1zM1301 338h1v709h-1zM1513 338h1v709h-1zM1516 338h1v709h-1zM1576 338h1v709h-1zM1579 338h1v709h-1zM961 404h807v1h-807zM961 442h807v1h-807zM961 468h807v1h-807zM961 539h807v1h-807zM961 577h807v1h-807zM961 603h807v1h-807zM961 674h807v1h-807zM961 712h807v1h-807zM961 738h807v1h-807zM961 809h807v1h-807zM961 847h807v1h-807zM961 873h807v1h-807zM961 944h807v1h-807zM961 982h807v1h-807zM961 1008h807v1h-807z"/>
<path fill="#ebebeb" fill-opacity="0.15" d="M1049 338h1v709h-1zM1083 338h1v709h-1zM1112 338h1v709h-1zM1146 338h1v709h-1zM1175 338h1v709h-1zM1209 338h1v709h-1zM1327 338h1v709h-1zM1361 338h1v709h-1zM1390 338h1v709h-1zM1424 338h1v709h-1zM1453 338h1v709h-1zM1487 338h1v709h-1zM1605 338h1v709h-1zM1639 338h1v709h-1zM1668 338h1v709h-1zM1702 338h1v709h-1zM1731 338h1v709h-1zM961 430h807v1h-807zM961 480h807v1h-807zM961 565h807v1h-807zM961 615h807v1h-807zM961 700h807v1h-807zM961 750h807v1h-807zM961 835h807v1h-807zM961 885h807v1h-807zM961 970h807v1h-807zM961 1020h807v1h-807z"/>
<path fill="#ebebeb" fill-opacity="0.17" d="M986 338h1v709h-1zM994 338h1v709h-1zM1057 338h1v709h-1zM1075 338h1v709h-1zM1120 338h1v709h-1zM1138 338h1v709h-1zM1183 338h1v709h-1zM1201 338h1v709h-1zM1264 338h1v709h-1zM1272 338h1v709h-1zM1335 338h1v709h-1zM1353 338h1v709h-1zM1398 338h1v709h-1zM1416 338h1v709h-1zM1461 338h1v709h-1zM1479 338h1v709h-1zM1542 338h1v709h-1zM1550 338h1v709h-1zM1613 338h1v709h-1zM1631 338h1v709h-1zM1676 338h1v709h-1zM1694 338h1v709h-1zM1739 338h1v709h-1zM961 383h807v1h-807zM961 392h807v1h-807zM961 489h807v1h-807zM961 518h807v1h-807zM961 527h807v1h-807zM961 624h807v1h-807zM961 653h807v1h-807zM961 662h807v1h-807zM961 759h807v1h-807zM961 788h807v1h-807zM961 797h807v1h-807zM961 894h807v1h-807zM961 923h807v1h-807zM961 932h807v1h-807zM961 1029h807v1h-807z"/>
<path fill="#ebebeb" fill-opacity="0.2" d="M1012 338h1v709h-1zM1031 338h1v709h-1zM1094 338h1v709h-1zM1101 338h1v709h-1zM1157 338h1v709h-1zM1164 338h1v709h-1zM1227 338h1v709h-1zM1246 338h1v709h-1zM1290 338h1v709h-1zM1309 338h1v709h-1zM1372 338h1v709h-1zM1379 338h1v709h-1zM1435 338h1v709h-1zM1442 338h1v709h-1zM1505 338h1v709h-1zM1524 338h1v709h-1zM1568 338h1v709h-1zM1587 338h1v709h-1zM1650 338h1v709h-1zM1657 338h1v709h-1zM1713 338h1v709h-1zM1720 338h1v709h-1zM961 413h807v1h-807zM961 421h807v1h-807zM961 451h807v1h-807zM961 459h807v1h-807zM961 548h807v1h-807zM961 556h807v1h-807zM961 586h807v1h-807zM961 594h807v1h-807zM961 683h807v1h-807zM961 691h807v1h-807zM961 721h807v1h-807zM961 729h807v1h-807zM961 818h807v1h-807zM961 826h807v1h-807zM961 856h807v1h-807zM961 864h807v1h-807zM961 953h807v1h-807zM961 961h807v1h-807zM961 991h807v1h-807zM961 999h807v1h-807z"/>
<path fill="#ebebeb" fill-opacity="0.23" d="M1001 338h1v709h-1zM1005 338h1v709h-1zM1038 338h1v709h-1zM1064 338h1v709h-1zM1068 338h1v709h-1zM1127 338h1v709h-1zM1131 338h1v709h-1zM1190 338h1v709h-1zM1194 338h1v709h-1zM1220 338h1v709h-1zM1253 338h1v709h-1zM1257 338h1v709h-1zM1279 338h1v709h-1zM1283 338h1v709h-1zM1316 338h1v709h-1zM1342 338h1v709h-1zM1346 338h1v709h-1zM1405 338h1v709h-1zM1409 338h1v709h-1zM1468 338h1v709h-1zM1472 338h1v709h-1zM1498 338h1v709h-1zM1531 338h1v709h-1zM1535 338h1v709h-1zM1557 338h1v709h-1zM1561 338h1v709h-1zM1594 338h1v709h-1zM1620 338h1v709h-1zM1624 338h1v709h-1zM1683 338h1v709h-1zM1687 338h1v709h-1zM961 362h807v1h-807zM961 375h807v1h-807zM961 400h807v1h-807zM961 438h807v1h-807zM961 472h807v1h-807zM961 497h807v1h-807zM961 510h807v1h-807zM961 535h807v1h-807zM961 573h807v1h-807zM961 607h807v1h-807zM961 632h807v1h-807zM961 645h807v1h-807zM961 670h807v1h-807zM961 708h807v1h-807zM961 742h807v1h-807zM961 767h807v1h-807zM961 780h807v1h-807zM961 805h807v1h-807zM961 843h807v1h-807zM961 877h807v1h-807zM961 902h807v1h-807zM961 915h807v1h-807zM961 940h807v1h-807zM961 978h807v1h-807zM961 1012h807v1h-807zM961 1037h807v1h-807z"/>
<path fill="#ebebeb" fill-opacity="0.25" d="M990 338h1v709h-1zM1016 338h1v709h-1zM1027 338h1v709h-1zM1042 338h1v709h-1zM1053 338h1v709h-1zM1079 338h1v709h-1zM1090 338h1v709h-1zM1105 338h1v709h-1zM1116 338h1v709h-1zM1142 338h1v709h-1zM1153 338h1v709h-1zM1168 338h1v709h-1zM1179 338h1v709h-1zM1205 338h1v709h-1zM1216 338h1v709h-1zM1231 338h1v709h-1zM1242 338h1v709h-1zM1268 338h1v709h-1zM1294 338h1v709h-1zM1305 338h1v709h-1zM1320 338h1v709h-1zM1331 338h1v709h-1zM1357 338h1v709h-1zM1368 338h1v709h-1zM1383 338h1v709h-1zM1394 338h1v709h-1zM1420 338h1v709h-1zM1431 338h1v709h-1zM1446 338h1v709h-1zM1457 338h1v709h-1zM1483 338h1v709h-1zM1494 338h1v709h-1zM1509 338h1v709h-1zM1520 338h1v709h-1zM1546 338h1v709h-1zM1572 338h1v709h-1zM1583 338h1v709h-1zM1598 338h1v709h-1zM1609 338h1v709h-1zM1635 338h1v709h-1zM1646 338h1v709h-1zM1661 338h1v709h-1zM1672 338h1v709h-1zM1698 338h1v709h-1zM1709 338h1v709h-1zM1724 338h1v709h-1zM1735 338h1v709h-1zM961 358h807v1h-807zM961 379h807v1h-807zM961 396h807v1h-807zM961 417h807v1h-807zM961 434h807v1h-807zM961 455h807v1h-807zM961 476h807v1h-807zM961 493h807v1h-807zM961 514h807v1h-807zM961 531h807v1h-807zM961 552h807v1h-807zM961 569h807v1h-807zM961 590h807v1h-807zM961 611h807v1h-807zM961 628h807v1h-807zM961 649h807v1h-807zM961 666h807v1h-807zM961 687h807v1h-807zM961 704h807v1h-807zM961 725h807v1h-807zM961 746h807v1h-807zM961 763h807v1h-807zM961 784h807v1h-807zM961 801h807v1h-807zM961 822h807v1h-807zM961 839h807v1h-807zM961 860h807v1h-807zM961 881h807v1h-807zM961 898h807v1h-807zM961 919h807v1h-807zM961 936h807v1h-807zM961 957h807v1h-807zM961 974h807v1h-807zM961 995h807v1h-807zM961 1016h807v1h-807zM961 1033h807v1h-807z"/>
</g>
</g>
<g>
<rect x="131" y="1072" width="806.9" height="778.7" fill="#ebebeb"/>
<rect x="131" y="1072" width="806.9" height="68.9" fill="#d9d9d9"/>
<path d="M131 1169h806.9M131 1270.25h806.9M131 1371.5h806.9M131 1472.75h806.9M131 1574h806.9M131 1675.25h806.9M131 1776.5h806.9M327.1 1140.8v709.9M549.5 1140.8v709.9M771.9 1140.8v709.9" stroke="#fff" stroke-width="4.45" fill="none"/>
<path fill="#440154" d="M749.66 1173.22H764.49V1177.44H775.61V1181.66H786.73V1185.88H790.43V1181.66H827.5V1185.88H831.21V1194.31H834.91V1206.97H838.62V1219.62H842.33V1244.94H846.03V1249.16H849.74V1261.81H853.45V1266.03H857.15V1278.69H860.86V1287.12H864.57V1358.84H860.86V1371.5H853.45V1367.28H842.33V1363.06H834.91V1358.84H831.21V1363.06H827.5V1367.28H823.79V1375.72H820.09V1379.94H816.38V1388.38H812.67V1392.59H808.97V1409.47H812.67V1413.69H816.38V1426.34H820.09V1430.56H827.5V1434.78H849.74V1439H860.86V1413.69H864.57V1409.47H868.27V1413.69H901.63V1430.56H897.93V1439H894.22V1451.66H890.51V1468.53H886.81V1485.41H883.1V1493.84H879.39V1502.28H875.69V1506.5H871.98V1510.72H868.27V1514.94H860.86V1519.16H853.45V1523.38H849.74V1527.59H846.03V1531.81H842.33V1536.03H838.62V1540.25H834.91V1544.47H831.21V1548.69H827.5V1552.91H823.79V1557.12H820.09V1574H816.38V1582.44H812.67V1586.66H808.97V1595.09H805.26V1603.53H801.55V1611.97H797.85V1616.19H794.14V1620.41H790.43V1624.62H786.73V1628.84H783.02V1633.06H779.31V1637.28H775.61V1641.5H771.9V1645.72H768.19V1649.94H764.49V1654.16H757.07V1658.38H753.37V1662.59H749.66V1666.81H745.95V1671.03H742.25V1675.25H734.83V1679.47H731.13V1683.69H727.42V1687.91H723.71V1692.12H720.01V1696.34H716.3V1700.56H712.59V1704.78H708.89V1709H701.47V1713.22H697.77V1717.44H690.35V1721.66H686.65V1725.88H682.94V1730.09H675.53V1734.31H671.82V1738.53H664.41V1742.75H656.99V1746.97H653.29V1751.19H645.87V1755.41H634.75V1759.62H627.34V1763.84H619.93V1768.06H605.1V1763.84H586.57V1768.06H579.15V1772.28H582.86V1780.72H564.33V1776.5H549.5V1780.72H545.79V1789.16H527.26V1784.94H516.14V1780.72H493.9V1776.5H482.78V1780.72H479.07V1784.94H467.95V1780.72H460.54V1784.94H456.83V1780.72H423.47V1789.16H416.06V1793.38H412.35V1797.59H390.11V1801.81H378.99V1797.59H367.87V1801.81H349.34V1806.03H345.63V1810.25H338.22V1814.47H330.81V1818.69H308.57V1814.47H304.86V1810.25H293.74V1806.03H297.45V1801.81H286.33V1797.59H271.5V1780.72H264.09V1784.94H260.38V1797.59H256.67V1793.38H252.97V1784.94H249.26V1776.5H252.97V1763.84H256.67V1759.62H252.97V1755.41H249.26V1746.97H241.85V1738.53H238.14V1734.31H234.43V1730.09H230.73V1709H241.85V1713.22H245.55V1709H249.26V1700.56H252.97V1696.34H249.26V1666.81H245.55V1658.38H241.85V1654.16H238.14V1649.94H234.43V1645.72H230.73V1637.28H227.02V1633.06H223.31V1624.62H219.61V1620.41H215.9V1611.97H212.19V1603.53H208.49V1599.31H204.78V1586.66H201.07V1578.22H197.37V1565.56H193.66V1552.91H189.95V1544.47H186.25V1531.81H182.54V1527.59H178.83V1519.16H175.13V1514.94H171.42V1506.5H167.71V1498.06H175.13V1493.84H182.54V1481.19H186.25V1472.75H201.07V1476.97H204.78V1481.19H212.19V1498.06H215.9V1506.5H227.02V1510.72H241.85V1514.94H286.33V1519.16H290.03V1510.72H293.74V1506.5H301.15V1502.28H304.86V1498.06H312.27V1493.84H323.39V1443.22H327.1V1308.22H334.51V1312.44H338.22V1316.66H341.93V1320.88H345.63V1325.09H349.34V1333.53H353.05V1337.75H356.75V1341.97H360.46V1358.84H364.17V1367.28H367.87V1384.16H364.17V1388.38H360.46V1392.59H356.75V1413.69H360.46V1409.47H371.58V1413.69H386.41V1409.47H393.82V1413.69H401.23V1409.47H404.94V1405.25H412.35V1401.03H416.06V1396.81H419.77V1392.59H423.47V1388.38H430.89V1379.94H438.3V1375.72H445.71V1358.84H449.42V1346.19H453.13V1341.97H456.83V1337.75H460.54V1333.53H486.49V1337.75H490.19V1341.97H497.61V1346.19H501.31V1350.41H516.14V1354.62H527.26V1358.84H549.5V1354.62H556.91V1358.84H564.33V1354.62H575.45V1346.19H579.15V1333.53H582.86V1325.09H586.57V1316.66H590.27V1308.22H597.69V1304H605.1V1299.78H616.22V1291.34H623.63V1287.12H627.34V1282.91H631.05V1274.47H634.75V1253.38H638.46V1249.16H642.17V1244.94H645.87V1240.72H649.58V1236.5H664.41V1228.06H671.82V1223.84H675.53V1219.62H679.23V1215.41H682.94V1206.97H686.65V1202.75H690.35V1198.53H697.77V1194.31H716.3V1190.09H723.71V1181.66H727.42V1177.44H749.66zM712.59 1502.28H708.89V1506.5H701.47V1510.72H690.35V1514.94H686.65V1519.16H675.53V1523.38H668.11V1536.03H664.41V1540.25H660.7V1544.47H656.99V1548.69H653.29V1552.91H642.17V1557.12H645.87V1569.78H649.58V1574H653.29V1582.44H656.99V1595.09H660.7V1599.31H664.41V1603.53H668.11V1607.75H690.35V1603.53H694.06V1599.31H697.77V1586.66H701.47V1582.44H723.71V1578.22H731.13V1574H734.83V1569.78H738.54V1565.56H734.83V1561.34H738.54V1557.12H742.25V1548.69H745.95V1544.47H749.66V1531.81H745.95V1527.59H742.25V1523.38H734.83V1519.16H731.13V1514.94H727.42V1510.72H723.71V1514.94H716.3V1510.72H712.59z"/>
<g clip-path="url(#cmed)">
<path fill="#471063" d="M694 1278H723V1282H694zM675 1278H690V1282H675zM664 1282H671V1287H664zM797 1282H805V1287H797zM723 1282H727V1287H723zM675 1282H679V1287H675zM686 1282H690V1287H686zM797 1287H816V1291H797zM664 1287H679V1291H664zM716 1287H720V1291H716zM723 1287H731V1291H723zM794 1291H797V1295H794zM701 1291H705V1295H701zM720 1291H727V1295H720zM671 1291H690V1295H671zM742 1291H745V1295H742zM812 1291H816V1295H812zM701 1295H723V1299H701zM694 1295H697V1299H694zM671 1295H682V1299H671zM808 1295H823V1299H808zM790 1295H794V1299H790zM686 1295H690V1299H686zM786 1299H794V1304H786zM708 1299H712V1304H708zM820 1299H823V1304H820zM783 1304H786V1308H783zM823 1308H827V1312H823zM771 1308H775V1312H771zM749 1312H753V1316H749zM764 1312H775V1316H764zM749 1316H771V1320H749zM823 1316H831V1320H823zM731 1316H734V1320H731zM745 1320H760V1325H745zM734 1320H738V1329H734zM823 1320H827V1329H823zM745 1325H753V1329H745zM727 1325H731V1329H727zM827 1329H831V1333H827zM734 1329H753V1333H734zM742 1333H749V1337H742zM727 1333H738V1337H727zM723 1337H731V1341H723zM708 1337H712V1341H708zM660 1337H668V1346H660zM727 1341H731V1346H727zM608 1341H616V1346H608zM705 1341H712V1346H705zM634 1346H638V1350H634zM720 1346H731V1350H720zM705 1346H708V1350H705zM627 1346H631V1350H627zM649 1346H653V1350H649zM823 1346H827V1354H823zM645 1350H649V1354H645zM653 1350H656V1354H653zM627 1350H634V1354H627zM597 1350H601V1354H597zM712 1350H723V1354H712zM634 1354H638V1358H634zM705 1354H708V1358H705zM679 1354H682V1358H679zM712 1354H716V1358H712zM601 1354H605V1358H601zM694 1354H701V1358H694zM686 1354H690V1358H686zM597 1358H601V1363H597zM708 1358H716V1363H708zM723 1358H727V1363H723zM697 1358H701V1363H697zM675 1358H679V1363H675zM638 1358H649V1363H638zM694 1363H697V1367H694zM701 1363H716V1367H701zM638 1363H653V1367H638zM612 1367H616V1371H612zM627 1367H631V1371H627zM694 1367H705V1371H694zM708 1367H716V1371H708zM694 1371H708V1375H694zM820 1371H823V1375H820zM638 1371H642V1375H638zM623 1371H631V1375H623zM619 1375H623V1379H619zM690 1375H708V1379H690zM631 1375H634V1379H631zM642 1375H645V1379H642zM649 1375H653V1379H649zM671 1375H675V1379H671zM642 1379H649V1384H642zM690 1379H705V1384H690zM805 1379H808V1384H805zM668 1379H679V1384H668zM616 1379H619V1384H616zM608 1371H612V1388H608zM601 1379H605V1388H601zM645 1384H649V1388H645zM694 1384H697V1388H694zM668 1384H671V1388H668zM619 1384H627V1388H619zM675 1384H679V1388H675zM679 1388H686V1392H679zM690 1388H697V1392H690zM605 1392H612V1396H605zM708 1392H712V1396H708zM671 1392H694V1396H671zM660 1396H664V1401H660zM619 1396H623V1401H619zM597 1396H601V1401H597zM668 1396H682V1401H668zM605 1396H616V1401H605zM597 1401H608V1405H597zM656 1401H664V1405H656zM686 1401H690V1405H686zM668 1401H671V1409H668zM660 1405H664V1409H660zM645 1405H653V1409H645zM682 1405H686V1409H682zM608 1405H619V1409H608zM638 1392H642V1413H638zM675 1401H679V1413H675zM619 1409H623V1413H619zM605 1409H608V1413H605zM708 1409H712V1413H708zM656 1409H660V1417H656zM597 1409H601V1417H597zM649 1409H653V1417H649zM664 1413H668V1417H664zM675 1413H682V1417H675zM627 1413H631V1417H627zM686 1413H690V1417H686zM619 1417H623V1422H619zM668 1417H671V1422H668zM860 1417H864V1422H860zM631 1417H634V1422H631zM708 1417H712V1422H708zM638 1422H645V1426H638zM701 1422H705V1426H701zM612 1422H619V1426H612zM664 1422H668V1430H664zM634 1426H638V1430H634zM742 1426H749V1430H742zM642 1426H645V1430H642zM812 1426H820V1430H812zM660 1430H664V1434H660zM638 1430H645V1434H638zM871 1430H875V1434H871zM593 1430H597V1434H593zM816 1430H820V1434H816zM612 1430H616V1434H612zM675 1422H679V1439H675zM623 1426H627V1439H623zM631 1434H638V1439H631zM860 1434H875V1439H860zM660 1434H668V1439H660zM812 1434H820V1439H812zM619 1439H631V1443H619zM634 1439H642V1443H634zM649 1439H653V1443H649zM816 1439H820V1443H816zM612 1439H616V1443H612zM656 1439H675V1443H656zM864 1439H875V1443H864zM842 1439H857V1443H842zM597 1443H605V1447H597zM860 1443H875V1447H860zM638 1443H642V1447H638zM838 1443H857V1447H838zM668 1443H675V1447H668zM623 1443H627V1451H623zM660 1447H664V1451H660zM668 1447H671V1451H668zM593 1447H601V1451H593zM838 1447H846V1451H838zM849 1447H857V1451H849zM871 1447H883V1451H871zM860 1447H868V1451H860zM608 1447H612V1455H608zM812 1447H816V1455H812zM656 1451H660V1455H656zM597 1451H601V1455H597zM846 1451H849V1455H846zM697 1451H701V1455H697zM853 1451H879V1455H853zM834 1451H842V1455H834zM668 1451H675V1455H668zM645 1451H649V1460H645zM864 1455H871V1460H864zM853 1455H860V1460H853zM593 1455H597V1460H593zM808 1455H820V1460H808zM671 1455H675V1460H671zM627 1455H638V1460H627zM842 1460H853V1464H842zM634 1460H638V1464H634zM668 1460H671V1464H668zM857 1460H864V1464H857zM653 1460H664V1464H653zM827 1460H838V1464H827zM812 1460H820V1464H812zM612 1460H616V1464H612zM846 1464H875V1468H846zM605 1464H608V1468H605zM808 1464H812V1468H808zM660 1464H671V1468H660zM612 1464H619V1468H612zM831 1464H842V1468H831zM816 1464H820V1468H816zM801 1468H805V1472H801zM846 1468H857V1472H846zM808 1468H823V1472H808zM642 1468H645V1472H642zM601 1468H605V1472H601zM838 1468H842V1472H838zM860 1468H868V1472H860zM656 1468H664V1472H656zM879 1468H883V1476H879zM645 1472H649V1476H645zM605 1472H612V1476H605zM834 1472H849V1476H834zM653 1472H668V1476H653zM868 1472H871V1476H868zM638 1472H642V1476H638zM853 1472H857V1476H853zM808 1472H831V1476H808zM864 1476H871V1481H864zM642 1476H649V1481H642zM805 1476H812V1481H805zM834 1476H838V1481H834zM857 1476H860V1481H857zM656 1476H668V1481H656zM875 1476H883V1481H875zM823 1476H827V1481H823zM627 1476H631V1485H627zM842 1476H846V1485H842zM694 1481H697V1485H694zM831 1481H838V1485H831zM649 1481H656V1485H649zM853 1481H868V1485H853zM871 1481H883V1485H871zM664 1481H675V1485H664zM786 1481H805V1485H786zM642 1485H649V1489H642zM834 1485H838V1489H834zM605 1485H616V1489H605zM656 1485H664V1489H656zM842 1485H853V1493H842zM805 1485H808V1493H805zM857 1489H864V1493H857zM875 1489H879V1493H875zM660 1489H671V1493H660zM645 1489H653V1493H645zM775 1489H786V1493H775zM616 1489H619V1493H616zM623 1489H631V1493H623zM656 1493H668V1498H656zM642 1493H645V1498H642zM797 1493H808V1498H797zM842 1493H846V1498H842zM849 1493H864V1498H849zM627 1493H638V1498H627zM771 1493H775V1502H771zM831 1498H838V1502H831zM664 1498H668V1502H664zM794 1498H797V1502H794zM846 1498H860V1502H846zM634 1498H642V1502H634zM801 1498H808V1502H801zM760 1502H764V1506H760zM668 1502H671V1506H668zM623 1502H627V1506H623zM827 1502H853V1506H827zM768 1502H771V1506H768zM686 1502H690V1506H686zM794 1502H805V1510H794zM619 1506H623V1510H619zM664 1506H668V1510H664zM846 1506H864V1510H846zM764 1506H768V1510H764zM838 1506H842V1510H838zM827 1506H834V1510H827zM727 1510H731V1514H727zM853 1510H860V1514H853zM668 1510H679V1514H668zM734 1510H738V1514H734zM760 1510H771V1514H760zM797 1510H808V1514H797zM779 1510H783V1514H779zM838 1510H849V1514H838zM731 1514H742V1519H731zM775 1514H779V1519H775zM838 1514H857V1519H838zM764 1514H768V1519H764zM805 1514H808V1519H805zM745 1514H749V1519H745zM783 1514H801V1519H783zM675 1514H679V1519H675zM753 1514H757V1519H753zM760 1519H764V1523H760zM842 1519H853V1523H842zM801 1519H808V1523H801zM738 1519H742V1523H738zM742 1523H745V1527H742zM812 1523H816V1527H812zM786 1523H790V1527H786zM831 1527H846V1531H831zM823 1531H827V1536H823zM831 1531H834V1540H831zM638 1544H642V1548H638zM634 1552H642V1557H634zM642 1557H645V1561H642zM627 1561H631V1565H627zM623 1565H627V1569H623zM645 1569H649V1574H645zM779 1574H783V1578H779zM623 1574H627V1578H623zM623 1578H631V1582H623zM623 1582H627V1586H623zM701 1582H720V1586H701zM768 1582H771V1586H768zM649 1578H653V1590H649zM631 1582H634V1590H631zM697 1586H705V1595H697zM645 1590H653V1595H645zM623 1590H627V1595H623zM697 1595H701V1599H697zM705 1595H708V1599H705zM642 1595H653V1599H642zM790 1595H801V1599H790zM716 1599H720V1603H716zM642 1599H649V1603H642zM627 1599H631V1603H627zM771 1599H783V1603H771zM757 1599H760V1603H757zM627 1603H634V1607H627zM664 1603H668V1607H664zM720 1603H731V1607H720zM764 1603H771V1607H764zM642 1603H653V1607H642zM668 1607H671V1611H668zM745 1607H757V1611H745zM631 1607H634V1611H631zM764 1607H768V1611H764zM738 1607H742V1611H738zM720 1607H727V1611H720zM645 1607H660V1611H645zM731 1607H734V1611H731zM653 1611H656V1616H653zM642 1611H649V1616H642zM712 1611H716V1616H712zM627 1611H631V1616H627zM727 1611H734V1616H727zM764 1616H768V1620H764zM649 1616H653V1620H649zM623 1616H627V1620H623zM727 1616H745V1620H727zM619 1620H631V1624H619zM749 1620H771V1624H749zM612 1620H616V1624H612zM734 1620H745V1624H734zM720 1620H723V1624H720zM760 1624H764V1628H760zM619 1624H623V1628H619zM593 1624H612V1628H593zM734 1624H753V1628H734zM768 1624H771V1628H768zM753 1628H768V1633H753zM586 1628H593V1633H586zM734 1628H749V1633H734zM586 1633H590V1637H586zM760 1633H771V1637H760zM731 1633H738V1637H731zM764 1637H771V1641H764zM582 1637H586V1641H582zM582 1641H593V1645H582zM757 1641H760V1645H757zM638 1641H642V1645H638zM705 1641H712V1645H705zM656 1645H660V1649H656zM690 1645H694V1649H690zM664 1645H668V1649H664zM590 1645H597V1649H590zM764 1645H768V1649H764zM723 1645H727V1649H723zM682 1645H686V1649H682zM649 1645H653V1649H649zM742 1645H745V1649H742zM749 1645H757V1649H749zM593 1649H601V1654H593zM727 1649H742V1654H727zM753 1649H757V1654H753zM679 1649H682V1654H679zM745 1649H749V1654H745zM660 1649H668V1654H660zM705 1649H716V1654H705zM720 1649H723V1654H720zM697 1645H701V1658H697zM612 1654H623V1658H612zM734 1654H742V1658H734zM649 1654H656V1658H649zM671 1654H679V1658H671zM597 1654H608V1658H597zM627 1654H631V1658H627zM634 1654H642V1658H634zM708 1654H723V1658H708zM738 1658H742V1662H738zM649 1658H653V1662H649zM623 1683H631V1687H623zM634 1687H642V1692H634zM601 1687H605V1696H601zM627 1696H631V1700H627zM605 1696H616V1700H605zM656 1696H660V1704H656zM649 1704H656V1709H649zM631 1704H634V1709H631zM638 1709H645V1713H638zM264 1751H267V1763H264zM445 1763H467V1768H445zM256 1763H264V1768H256zM490 1763H497V1768H490zM479 1763H482V1768H479zM438 1763H442V1772H438zM286 1768H290V1772H286zM505 1768H512V1772H505zM427 1768H430V1772H427zM464 1768H471V1772H464zM434 1772H438V1776H434zM423 1772H430V1776H423zM290 1772H293V1776H290zM449 1776H467V1780H449zM497 1776H501V1780H497zM471 1776H475V1780H471zM479 1776H482V1780H479zM271 1776H275V1784H271zM286 1789H293V1793H286zM271 1789H275V1793H271zM275 1793H278V1797H275zM290 1793H293V1797H290zM286 1797H290V1801H286z"/>
<path fill="#481d6f" d="M712 1282H720V1287H712zM679 1282H686V1287H679zM690 1282H701V1287H690zM697 1287H716V1291H697zM679 1287H694V1291H679zM720 1287H723V1291H720zM705 1291H720V1295H705zM805 1291H812V1295H805zM690 1291H701V1295H690zM816 1299H820V1304H816zM786 1304H794V1312H786zM775 1308H783V1312H775zM775 1312H779V1316H775zM823 1312H827V1316H823zM771 1316H779V1320H771zM820 1316H823V1325H820zM760 1320H768V1325H760zM753 1325H764V1329H753zM742 1325H745V1329H742zM757 1329H760V1333H757zM779 1329H783V1333H779zM820 1329H823V1333H820zM816 1333H820V1337H816zM823 1333H827V1337H823zM749 1333H757V1337H749zM738 1333H742V1337H738zM820 1337H827V1341H820zM742 1337H745V1341H742zM731 1337H738V1341H731zM823 1341H827V1346H823zM731 1341H742V1350H731zM631 1341H634V1350H631zM727 1350H734V1354H727zM820 1346H823V1358H820zM738 1354H742V1358H738zM720 1354H723V1358H720zM749 1358H753V1363H749zM634 1358H638V1367H634zM820 1363H823V1371H820zM638 1367H642V1371H638zM631 1367H634V1371H631zM716 1358H720V1375H716zM634 1371H638V1375H634zM627 1375H631V1379H627zM708 1375H712V1379H708zM768 1379H771V1384H768zM623 1379H627V1384H623zM705 1379H712V1384H705zM697 1384H701V1392H697zM675 1388H679V1392H675zM694 1392H697V1396H694zM634 1392H638V1396H634zM690 1396H694V1405H690zM760 1401H764V1405H760zM686 1405H697V1409H686zM619 1405H627V1409H619zM749 1405H760V1409H749zM671 1405H675V1409H671zM627 1409H631V1413H627zM679 1409H694V1413H679zM616 1409H619V1413H616zM653 1409H656V1417H653zM690 1413H694V1417H690zM631 1413H634V1417H631zM771 1413H775V1417H771zM734 1413H738V1417H734zM612 1413H619V1417H612zM682 1413H686V1417H682zM786 1413H790V1417H786zM634 1417H638V1422H634zM660 1417H668V1422H660zM616 1417H619V1422H616zM642 1417H656V1422H642zM812 1417H816V1422H812zM690 1417H697V1422H690zM716 1422H720V1426H716zM679 1417H682V1430H679zM660 1426H664V1430H660zM801 1426H805V1430H801zM645 1426H653V1434H645zM768 1430H771V1434H768zM656 1430H660V1434H656zM812 1430H816V1434H812zM808 1434H812V1439H808zM653 1434H660V1439H653zM679 1434H682V1439H679zM642 1434H649V1443H642zM857 1439H864V1443H857zM812 1439H816V1443H812zM675 1439H686V1443H675zM653 1439H656V1447H653zM764 1443H768V1447H764zM616 1443H619V1447H616zM805 1443H816V1447H805zM720 1443H723V1447H720zM645 1443H649V1451H645zM857 1443H860V1451H857zM656 1447H660V1451H656zM846 1447H849V1451H846zM805 1447H808V1451H805zM612 1447H619V1451H612zM671 1447H675V1451H671zM727 1451H731V1455H727zM653 1451H656V1455H653zM612 1451H623V1455H612zM805 1451H812V1455H805zM842 1451H846V1455H842zM849 1451H853V1455H849zM860 1455H864V1460H860zM723 1455H727V1460H723zM846 1455H853V1460H846zM649 1455H656V1460H649zM671 1460H679V1464H671zM864 1460H871V1464H864zM649 1460H653V1464H649zM649 1464H660V1468H649zM805 1464H808V1472H805zM760 1468H764V1472H760zM664 1468H668V1472H664zM605 1468H608V1472H605zM797 1468H801V1472H797zM649 1468H656V1472H649zM842 1468H846V1472H842zM849 1472H853V1476H849zM797 1472H805V1476H797zM860 1472H864V1481H860zM716 1476H720V1481H716zM812 1476H823V1481H812zM827 1476H834V1481H827zM671 1476H675V1481H671zM783 1476H786V1481H783zM790 1476H805V1481H790zM846 1476H853V1485H846zM645 1481H649V1485H645zM727 1481H731V1485H727zM868 1481H871V1485H868zM779 1481H786V1485H779zM808 1481H831V1485H808zM656 1481H664V1485H656zM838 1481H842V1489H838zM664 1485H671V1489H664zM716 1485H720V1489H716zM779 1485H790V1489H779zM816 1485H823V1489H816zM827 1485H834V1489H827zM808 1485H812V1493H808zM853 1485H857V1493H853zM827 1489H842V1493H827zM816 1489H820V1493H816zM668 1493H671V1498H668zM831 1493H838V1498H831zM775 1493H779V1498H775zM768 1493H771V1502H768zM838 1498H846V1502H838zM808 1498H812V1502H808zM668 1498H675V1502H668zM827 1498H831V1502H827zM823 1502H827V1506H823zM753 1502H757V1506H753zM805 1502H816V1510H805zM760 1506H764V1510H760zM668 1506H671V1510H668zM834 1506H838V1510H834zM842 1506H846V1510H842zM738 1510H757V1514H738zM679 1510H690V1514H679zM731 1510H734V1514H731zM720 1510H723V1514H720zM820 1506H827V1519H820zM831 1510H838V1519H831zM808 1510H816V1519H808zM679 1514H686V1519H679zM768 1514H775V1519H768zM742 1514H745V1519H742zM779 1514H783V1523H779zM794 1519H801V1523H794zM768 1519H771V1523H768zM820 1519H831V1523H820zM812 1519H816V1523H812zM753 1519H760V1523H753zM834 1519H842V1523H834zM786 1519H790V1523H786zM831 1523H838V1527H831zM808 1523H812V1527H808zM749 1523H753V1527H749zM797 1523H801V1527H797zM842 1523H846V1527H842zM816 1523H820V1527H816zM823 1523H827V1527H823zM801 1527H816V1531H801zM820 1527H823V1531H820zM827 1527H831V1536H827zM801 1531H812V1536H801zM823 1544H827V1548H823zM805 1548H808V1552H805zM820 1548H823V1552H820zM812 1557H816V1561H812zM634 1557H642V1561H634zM642 1561H645V1565H642zM631 1561H634V1565H631zM808 1565H816V1574H808zM638 1569H645V1574H638zM627 1565H631V1578H627zM812 1574H816V1578H812zM642 1574H649V1578H642zM638 1578H649V1582H638zM631 1578H634V1582H631zM634 1582H649V1586H634zM627 1582H631V1586H627zM720 1582H723V1590H720zM645 1586H649V1590H645zM775 1586H779V1590H775zM794 1586H797V1590H794zM623 1586H631V1590H623zM705 1586H716V1590H705zM805 1590H808V1595H805zM790 1590H797V1595H790zM716 1590H723V1595H716zM705 1590H712V1595H705zM631 1590H634V1599H631zM716 1595H720V1599H716zM638 1595H642V1599H638zM701 1595H705V1599H701zM768 1595H771V1599H768zM708 1595H712V1599H708zM801 1599H805V1603H801zM720 1599H727V1603H720zM631 1599H642V1603H631zM694 1599H712V1603H694zM764 1599H771V1603H764zM753 1603H764V1607H753zM638 1603H642V1607H638zM694 1603H720V1607H694zM734 1603H738V1607H734zM660 1607H668V1611H660zM634 1607H638V1611H634zM705 1607H720V1611H705zM742 1607H745V1611H742zM631 1611H642V1616H631zM716 1611H723V1616H716zM656 1611H664V1616H656zM705 1611H712V1616H705zM645 1616H649V1620H645zM712 1616H720V1620H712zM653 1616H656V1620H653zM723 1616H727V1620H723zM627 1616H642V1620H627zM727 1620H734V1624H727zM668 1620H671V1624H668zM631 1620H649V1624H631zM716 1620H720V1624H716zM753 1624H757V1628H753zM623 1624H627V1628H623zM723 1624H734V1628H723zM612 1624H619V1633H612zM749 1628H753V1633H749zM727 1628H734V1633H727zM593 1628H608V1633H593zM590 1633H601V1637H590zM723 1633H727V1637H723zM708 1633H716V1637H708zM649 1633H653V1637H649zM749 1633H760V1637H749zM742 1633H745V1637H742zM738 1637H742V1641H738zM586 1637H597V1641H586zM745 1637H749V1641H745zM757 1637H764V1641H757zM701 1637H705V1641H701zM682 1637H686V1641H682zM723 1637H731V1641H723zM720 1641H731V1645H720zM675 1641H682V1645H675zM712 1641H716V1645H712zM738 1641H753V1645H738zM686 1641H705V1645H686zM760 1641H768V1645H760zM597 1645H605V1649H597zM660 1645H664V1649H660zM694 1645H697V1649H694zM634 1645H638V1649H634zM701 1645H720V1649H701zM734 1645H742V1649H734zM679 1645H682V1649H679zM745 1645H749V1649H745zM668 1645H671V1654H668zM723 1649H727V1654H723zM645 1649H653V1654H645zM623 1649H642V1654H623zM601 1649H612V1654H601zM656 1649H660V1658H656zM623 1654H627V1658H623zM631 1654H634V1658H631zM612 1683H619V1687H612zM605 1687H608V1692H605zM627 1687H634V1692H627zM645 1692H649V1696H645zM653 1692H656V1696H653zM631 1692H634V1700H631zM616 1696H627V1700H616zM627 1700H631V1704H627zM653 1700H656V1704H653zM645 1704H649V1709H645zM256 1755H260V1763H256zM467 1763H475V1768H467zM453 1768H456V1772H453zM475 1768H479V1772H475zM442 1768H445V1772H442zM497 1768H505V1772H497zM430 1768H438V1772H430zM282 1768H286V1776H282zM430 1772H434V1776H430zM501 1772H508V1776H501zM438 1772H445V1776H438zM464 1772H475V1776H464zM275 1772H278V1780H275zM290 1776H293V1789H290zM271 1784H275V1789H271zM282 1793H290V1797H282z"/>
<path fill="#472a7a" d="M701 1282H712V1287H701zM797 1291H805V1295H797zM808 1299H816V1304H808zM794 1295H797V1308H794zM816 1304H820V1308H816zM783 1308H786V1312H783zM820 1308H823V1316H820zM790 1312H794V1316H790zM768 1320H779V1325H768zM764 1325H768V1329H764zM820 1325H823V1329H820zM760 1329H764V1333H760zM753 1329H757V1333H753zM757 1337H760V1341H757zM738 1337H742V1341H738zM820 1341H823V1346H820zM742 1341H745V1350H742zM753 1346H757V1350H753zM808 1350H812V1354H808zM734 1350H742V1354H734zM727 1354H738V1358H727zM731 1358H738V1363H731zM816 1358H820V1367H816zM720 1358H723V1367H720zM738 1363H742V1367H738zM794 1367H797V1371H794zM708 1371H716V1375H708zM720 1371H723V1375H720zM816 1371H820V1379H816zM716 1375H720V1379H716zM723 1375H727V1379H723zM812 1379H816V1384H812zM712 1379H716V1384H712zM753 1379H757V1388H753zM708 1384H716V1388H708zM701 1392H705V1396H701zM694 1396H697V1401H694zM631 1396H634V1401H631zM727 1401H731V1405H727zM623 1401H627V1405H623zM775 1401H779V1405H775zM734 1401H742V1405H734zM694 1401H705V1405H694zM720 1401H723V1405H720zM634 1405H638V1409H634zM716 1405H723V1409H716zM694 1409H697V1413H694zM749 1413H753V1417H749zM812 1413H816V1417H812zM697 1417H705V1422H697zM682 1417H690V1422H682zM738 1422H742V1426H738zM697 1422H701V1426H697zM649 1422H653V1426H649zM682 1422H686V1426H682zM812 1422H816V1426H812zM653 1426H660V1430H653zM682 1426H690V1430H682zM679 1430H686V1434H679zM745 1434H749V1439H745zM686 1434H690V1439H686zM805 1439H812V1443H805zM675 1443H679V1447H675zM653 1447H656V1451H653zM808 1447H812V1451H808zM742 1447H745V1451H742zM757 1447H760V1451H757zM786 1447H790V1451H786zM801 1443H805V1455H801zM675 1447H682V1455H675zM675 1455H679V1460H675zM797 1455H801V1460H797zM805 1455H808V1460H805zM682 1460H686V1464H682zM797 1460H808V1464H797zM734 1464H738V1468H734zM797 1464H805V1468H797zM775 1464H779V1468H775zM753 1468H757V1472H753zM668 1468H675V1472H668zM786 1468H790V1472H786zM679 1468H682V1472H679zM783 1472H790V1476H783zM794 1472H797V1476H794zM764 1476H768V1481H764zM786 1476H790V1481H786zM675 1476H679V1485H675zM723 1481H727V1485H723zM697 1481H701V1485H697zM775 1485H779V1489H775zM823 1485H827V1489H823zM757 1485H760V1489H757zM812 1485H816V1493H812zM694 1489H697V1493H694zM771 1489H775V1493H771zM701 1489H705V1493H701zM820 1489H827V1493H820zM820 1493H823V1498H820zM838 1493H842V1498H838zM671 1493H675V1498H671zM808 1493H816V1498H808zM827 1493H831V1498H827zM816 1498H827V1502H816zM701 1498H705V1506H701zM679 1502H686V1506H679zM690 1502H694V1506H690zM816 1502H823V1506H816zM671 1506H682V1510H671zM745 1506H749V1510H745zM686 1506H694V1510H686zM757 1506H760V1510H757zM731 1506H734V1510H731zM816 1506H820V1514H816zM827 1510H831V1519H827zM783 1519H786V1523H783zM771 1519H779V1523H771zM808 1519H812V1523H808zM831 1519H834V1523H831zM816 1519H820V1523H816zM790 1519H794V1523H790zM757 1523H760V1527H757zM827 1523H831V1527H827zM820 1523H823V1527H820zM816 1527H820V1531H816zM797 1527H801V1531H797zM812 1531H820V1536H812zM823 1536H827V1540H823zM805 1536H808V1540H805zM820 1540H827V1544H820zM816 1544H823V1548H816zM823 1548H827V1552H823zM812 1548H820V1552H812zM816 1552H820V1557H816zM786 1557H790V1561H786zM812 1561H816V1565H812zM634 1561H642V1565H634zM638 1565H645V1569H638zM631 1565H634V1569H631zM760 1569H764V1574H760zM634 1569H638V1574H634zM779 1569H783V1574H779zM794 1569H797V1574H794zM638 1574H642V1578H638zM801 1574H808V1578H801zM631 1574H634V1578H631zM634 1578H638V1582H634zM797 1578H808V1586H797zM783 1582H786V1586H783zM790 1582H794V1590H790zM634 1586H645V1590H634zM797 1586H801V1595H797zM775 1590H779V1595H775zM627 1590H631V1595H627zM634 1590H642V1595H634zM786 1590H790V1595H786zM771 1595H786V1599H771zM634 1595H638V1599H634zM720 1595H723V1599H720zM712 1590H716V1603H712zM727 1599H731V1603H727zM749 1599H753V1607H749zM742 1603H745V1607H742zM690 1603H694V1607H690zM638 1607H642V1611H638zM671 1607H682V1611H671zM664 1611H671V1616H664zM642 1616H645V1620H642zM656 1616H660V1620H656zM720 1616H723V1620H720zM708 1616H712V1620H708zM649 1620H653V1624H649zM712 1620H716V1624H712zM712 1624H723V1628H712zM627 1624H642V1628H627zM668 1624H671V1633H668zM619 1628H623V1633H619zM679 1628H682V1633H679zM720 1628H727V1633H720zM608 1628H612V1633H608zM642 1628H645V1633H642zM694 1633H697V1637H694zM727 1633H731V1637H727zM701 1633H708V1637H701zM738 1633H742V1637H738zM745 1633H749V1637H745zM601 1633H605V1637H601zM720 1633H723V1637H720zM712 1637H720V1641H712zM705 1637H708V1641H705zM686 1637H701V1641H686zM742 1637H745V1641H742zM749 1637H757V1641H749zM593 1641H597V1645H593zM656 1641H664V1645H656zM671 1641H675V1645H671zM645 1645H649V1649H645zM727 1645H731V1649H727zM638 1645H642V1649H638zM720 1645H723V1649H720zM653 1645H656V1654H653zM671 1649H679V1654H671zM612 1649H619V1654H612zM642 1649H645V1654H642zM619 1683H623V1687H619zM612 1687H616V1692H612zM623 1687H627V1692H623zM605 1692H608V1696H605zM627 1692H631V1696H627zM638 1704H645V1709H638zM260 1755H264V1763H260zM456 1768H460V1772H456zM493 1768H497V1772H493zM445 1768H453V1772H445zM278 1772H282V1776H278zM453 1772H456V1776H453zM445 1772H449V1776H445zM475 1772H479V1776H475zM278 1776H290V1780H278zM275 1780H282V1784H275zM286 1784H290V1789H286zM275 1784H278V1793H275zM278 1793H282V1797H278z"/>
<path fill="#453781" d="M783 1223H786V1228H783zM775 1270H779V1274H775zM805 1295H808V1299H805zM812 1304H816V1308H812zM783 1312H790V1316H783zM779 1316H783V1320H779zM816 1329H820V1333H816zM764 1329H768V1333H764zM757 1333H760V1337H757zM786 1333H790V1337H786zM760 1337H764V1341H760zM745 1337H757V1341H745zM812 1337H820V1341H812zM816 1341H820V1346H816zM749 1341H753V1346H749zM794 1341H797V1346H794zM812 1346H820V1350H812zM816 1350H820V1358H816zM742 1350H745V1358H742zM764 1354H768V1358H764zM723 1354H727V1358H723zM760 1358H764V1363H760zM738 1358H742V1363H738zM727 1363H731V1367H727zM764 1363H768V1367H764zM790 1363H794V1367H790zM720 1367H723V1371H720zM723 1371H727V1375H723zM753 1375H757V1379H753zM712 1375H716V1379H712zM716 1379H720V1384H716zM723 1379H731V1384H723zM701 1384H708V1388H701zM757 1384H760V1388H757zM812 1384H816V1388H812zM723 1384H734V1388H723zM701 1388H705V1392H701zM708 1388H712V1392H708zM723 1388H727V1392H723zM731 1392H734V1396H731zM705 1392H708V1396H705zM734 1396H745V1401H734zM697 1396H701V1401H697zM720 1396H723V1401H720zM705 1401H708V1405H705zM631 1401H634V1405H631zM697 1405H701V1409H697zM731 1405H738V1409H731zM697 1409H705V1413H697zM760 1409H764V1413H760zM805 1409H808V1413H805zM720 1409H723V1413H720zM727 1409H731V1417H727zM694 1413H701V1417H694zM757 1417H760V1422H757zM745 1417H749V1422H745zM757 1422H764V1426H757zM794 1422H797V1426H794zM694 1422H697V1430H694zM805 1422H812V1430H805zM790 1426H794V1430H790zM723 1426H731V1434H723zM805 1430H808V1434H805zM749 1430H757V1434H749zM690 1430H694V1434H690zM701 1434H705V1439H701zM682 1434H686V1439H682zM738 1439H742V1443H738zM716 1439H720V1443H716zM690 1439H694V1443H690zM712 1443H720V1447H712zM745 1443H749V1447H745zM738 1447H742V1451H738zM786 1451H790V1455H786zM797 1451H801V1455H797zM682 1451H686V1455H682zM738 1451H745V1455H738zM679 1455H686V1460H679zM801 1455H805V1460H801zM786 1460H790V1464H786zM794 1455H797V1468H794zM768 1464H771V1468H768zM783 1464H786V1468H783zM675 1464H682V1468H675zM694 1468H697V1472H694zM675 1468H679V1472H675zM745 1468H749V1472H745zM790 1468H794V1476H790zM668 1472H679V1476H668zM768 1472H771V1476H768zM694 1472H701V1476H694zM779 1472H783V1476H779zM694 1476H697V1481H694zM775 1476H779V1481H775zM708 1481H712V1485H708zM682 1481H686V1485H682zM768 1485H775V1489H768zM705 1485H708V1489H705zM697 1485H701V1489H697zM671 1485H675V1493H671zM757 1489H771V1493H757zM816 1493H820V1498H816zM823 1493H827V1498H823zM757 1493H760V1498H757zM764 1498H768V1502H764zM812 1498H816V1502H812zM675 1502H679V1506H675zM705 1502H708V1506H705zM682 1506H686V1510H682zM723 1506H731V1510H723zM738 1506H745V1510H738zM716 1510H720V1514H716zM816 1514H820V1519H816zM783 1523H786V1527H783zM764 1523H771V1527H764zM790 1523H797V1527H790zM823 1527H827V1531H823zM794 1527H797V1531H794zM745 1527H749V1531H745zM749 1531H753V1536H749zM797 1531H801V1536H797zM820 1531H823V1536H820zM808 1536H823V1540H808zM801 1540H812V1544H801zM808 1552H812V1557H808zM757 1561H760V1565H757zM775 1565H783V1569H775zM631 1569H634V1574H631zM805 1569H808V1574H805zM783 1569H786V1574H783zM742 1569H745V1574H742zM797 1569H801V1578H797zM790 1574H794V1582H790zM779 1582H783V1586H779zM786 1582H790V1586H786zM779 1586H790V1590H779zM768 1586H771V1590H768zM716 1586H720V1590H716zM783 1590H786V1595H783zM768 1590H775V1595H768zM764 1595H768V1599H764zM723 1595H727V1599H723zM760 1599H764V1603H760zM742 1599H745V1603H742zM745 1603H749V1607H745zM682 1607H686V1611H682zM723 1620H727V1624H723zM642 1624H645V1628H642zM649 1624H653V1628H649zM645 1628H649V1633H645zM634 1628H638V1633H634zM623 1628H627V1633H623zM697 1628H701V1633H697zM612 1633H616V1637H612zM619 1633H627V1637H619zM627 1637H631V1641H627zM601 1637H605V1641H601zM656 1637H660V1641H656zM720 1637H723V1641H720zM597 1641H605V1645H597zM612 1641H616V1645H612zM668 1641H671V1645H668zM716 1641H720V1645H716zM627 1645H631V1649H627zM642 1645H645V1649H642zM605 1645H619V1649H605zM608 1687H612V1692H608zM616 1687H619V1692H616zM608 1692H623V1696H608zM645 1696H649V1700H645zM642 1700H645V1704H642zM479 1768H490V1772H479zM449 1772H453V1776H449zM497 1772H501V1776H497zM282 1780H286V1784H282zM278 1789H282V1793H278z"/>
<path fill="#414487" d="M779 1249H783V1253H779zM797 1295H805V1299H797zM816 1308H820V1312H816zM779 1312H783V1316H779zM794 1308H797V1320H794zM816 1316H820V1320H816zM783 1316H790V1320H783zM779 1320H783V1325H779zM816 1325H820V1329H816zM768 1325H783V1329H768zM760 1333H768V1337H760zM812 1333H816V1337H812zM812 1341H816V1346H812zM757 1341H764V1350H757zM745 1346H749V1350H745zM745 1350H753V1354H745zM757 1350H760V1354H757zM812 1350H816V1354H812zM760 1354H764V1358H760zM753 1354H757V1358H753zM727 1358H731V1363H727zM742 1358H749V1363H742zM734 1363H738V1367H734zM749 1363H753V1367H749zM757 1363H760V1367H757zM745 1367H757V1371H745zM764 1367H768V1371H764zM738 1367H742V1371H738zM812 1367H820V1371H812zM727 1371H731V1375H727zM805 1371H808V1375H805zM749 1371H753V1379H749zM720 1375H723V1384H720zM745 1379H753V1384H745zM749 1384H753V1388H749zM742 1384H745V1388H742zM705 1388H708V1392H705zM727 1392H731V1396H727zM734 1392H742V1396H734zM745 1392H749V1396H745zM712 1392H716V1396H712zM757 1392H760V1396H757zM779 1396H783V1401H779zM701 1396H705V1401H701zM723 1396H727V1405H723zM731 1396H734V1405H731zM716 1401H720V1405H716zM764 1401H768V1405H764zM627 1401H631V1405H627zM775 1405H783V1409H775zM723 1405H731V1409H723zM716 1409H720V1413H716zM705 1409H708V1413H705zM745 1409H749V1413H745zM720 1413H727V1417H720zM757 1413H764V1417H757zM760 1417H768V1422H760zM738 1417H742V1422H738zM731 1422H738V1426H731zM686 1422H694V1426H686zM720 1422H727V1426H720zM745 1422H757V1426H745zM790 1422H794V1426H790zM690 1426H694V1430H690zM749 1426H753V1430H749zM757 1426H764V1430H757zM720 1426H723V1430H720zM716 1430H720V1434H716zM745 1430H749V1434H745zM708 1430H712V1434H708zM686 1430H690V1434H686zM697 1426H701V1439H697zM738 1430H742V1439H738zM690 1434H694V1439H690zM749 1434H753V1439H749zM805 1434H808V1439H805zM727 1434H734V1439H727zM716 1434H723V1439H716zM801 1439H805V1443H801zM712 1439H716V1443H712zM701 1439H705V1443H701zM734 1439H738V1443H734zM720 1439H727V1443H720zM686 1439H690V1447H686zM679 1443H682V1447H679zM768 1443H771V1447H768zM786 1443H794V1447H786zM723 1443H731V1447H723zM738 1443H745V1447H738zM797 1443H801V1451H797zM694 1447H701V1451H694zM734 1455H738V1460H734zM697 1455H701V1460H697zM790 1460H794V1464H790zM701 1460H716V1464H701zM679 1460H682V1464H679zM716 1464H720V1468H716zM694 1464H705V1468H694zM682 1464H690V1468H682zM731 1464H734V1468H731zM786 1464H790V1468H786zM690 1468H694V1472H690zM738 1468H742V1472H738zM794 1468H797V1472H794zM701 1468H705V1472H701zM779 1468H783V1472H779zM771 1472H779V1476H771zM779 1476H783V1481H779zM742 1476H745V1481H742zM771 1476H775V1481H771zM697 1476H701V1481H697zM775 1481H779V1485H775zM745 1481H749V1485H745zM701 1481H705V1485H701zM764 1481H771V1485H764zM686 1481H690V1485H686zM697 1489H701V1493H697zM697 1493H705V1498H697zM708 1489H712V1502H708zM760 1493H764V1502H760zM675 1498H682V1502H675zM690 1498H701V1502H690zM694 1502H701V1506H694zM723 1502H727V1506H723zM742 1502H753V1506H742zM734 1506H738V1510H734zM697 1506H701V1510H697zM760 1523H764V1527H760zM775 1523H779V1527H775zM808 1544H816V1548H808zM801 1544H805V1548H801zM801 1552H808V1557H801zM812 1552H816V1557H812zM808 1557H812V1565H808zM771 1561H779V1565H771zM783 1565H786V1569H783zM634 1565H638V1569H634zM797 1565H801V1569H797zM790 1565H794V1569H790zM634 1574H638V1578H634zM779 1578H783V1582H779zM794 1574H797V1586H794zM775 1582H779V1586H775zM771 1586H775V1590H771zM723 1590H727V1595H723zM779 1590H783V1595H779zM760 1595H764V1599H760zM731 1599H734V1603H731zM753 1599H757V1603H753zM686 1607H694V1611H686zM701 1607H705V1616H701zM705 1616H708V1620H705zM653 1620H664V1624H653zM645 1624H649V1628H645zM708 1624H712V1628H708zM656 1624H660V1628H656zM701 1628H705V1633H701zM649 1628H653V1633H649zM708 1628H720V1633H708zM631 1628H634V1633H631zM653 1633H656V1637H653zM716 1633H720V1637H716zM638 1633H642V1637H638zM697 1633H701V1637H697zM627 1633H631V1637H627zM616 1633H619V1637H616zM605 1633H608V1641H605zM660 1637H664V1641H660zM634 1637H638V1641H634zM675 1637H682V1641H675zM645 1633H649V1645H645zM631 1641H638V1645H631zM653 1641H656V1645H653zM664 1641H668V1645H664zM608 1641H612V1645H608zM671 1645H675V1649H671zM623 1692H627V1696H623zM471 1768H475V1772H471zM460 1768H464V1772H460zM456 1772H460V1776H456zM493 1772H497V1776H493zM282 1784H286V1789H282z"/>
<path fill="#3c4f8a" d="M786 1211H790V1215H786zM797 1299H801V1304H797zM801 1308H805V1316H801zM816 1312H820V1316H816zM783 1320H786V1325H783zM768 1329H771V1337H768zM808 1337H812V1341H808zM790 1337H794V1341H790zM753 1341H757V1346H753zM749 1346H753V1350H749zM805 1350H808V1354H805zM753 1350H757V1354H753zM783 1354H786V1358H783zM745 1354H749V1358H745zM753 1363H757V1367H753zM723 1363H727V1367H723zM808 1363H812V1367H808zM745 1363H749V1367H745zM734 1367H738V1371H734zM742 1367H745V1371H742zM771 1367H775V1371H771zM723 1367H731V1371H723zM808 1371H812V1375H808zM764 1371H771V1375H764zM727 1375H731V1379H727zM812 1375H816V1379H812zM757 1375H760V1384H757zM734 1379H738V1384H734zM808 1379H812V1384H808zM734 1384H742V1388H734zM779 1384H783V1388H779zM720 1384H723V1388H720zM727 1388H731V1392H727zM749 1388H760V1392H749zM712 1388H716V1392H712zM764 1388H768V1396H764zM749 1392H753V1396H749zM742 1392H745V1396H742zM745 1396H753V1401H745zM727 1396H731V1401H727zM805 1396H808V1401H805zM712 1396H716V1401H712zM757 1401H760V1405H757zM801 1401H805V1405H801zM708 1401H712V1409H708zM771 1401H775V1409H771zM760 1405H764V1409H760zM701 1405H705V1409H701zM738 1405H742V1413H738zM723 1409H727V1413H723zM712 1409H716V1413H712zM757 1409H760V1413H757zM731 1409H734V1413H731zM808 1413H812V1417H808zM701 1413H712V1417H701zM727 1417H738V1422H727zM716 1417H723V1422H716zM805 1417H812V1422H805zM742 1422H745V1426H742zM738 1426H742V1430H738zM768 1426H771V1430H768zM731 1426H734V1430H731zM786 1426H790V1430H786zM757 1430H760V1434H757zM801 1430H805V1434H801zM720 1430H723V1434H720zM694 1430H697V1439H694zM742 1434H745V1439H742zM708 1434H712V1439H708zM723 1434H727V1439H723zM727 1439H731V1443H727zM745 1439H757V1443H745zM768 1439H771V1443H768zM708 1443H712V1447H708zM690 1443H697V1447H690zM731 1443H738V1447H731zM682 1443H686V1451H682zM790 1447H794V1451H790zM723 1447H731V1451H723zM745 1447H749V1451H745zM790 1451H797V1455H790zM771 1451H775V1455H771zM731 1451H738V1455H731zM701 1451H705V1455H701zM690 1451H697V1455H690zM727 1455H731V1460H727zM697 1460H701V1464H697zM686 1460H690V1464H686zM705 1464H716V1468H705zM790 1464H794V1468H790zM779 1464H783V1468H779zM768 1468H771V1472H768zM682 1468H690V1472H682zM731 1468H738V1472H731zM708 1472H712V1476H708zM701 1472H705V1481H701zM686 1476H690V1481H686zM768 1476H771V1481H768zM679 1476H682V1481H679zM757 1481H764V1485H757zM705 1481H708V1485H705zM727 1485H731V1489H727zM764 1485H768V1489H764zM745 1485H749V1489H745zM708 1485H712V1489H708zM675 1485H679V1493H675zM690 1489H694V1493H690zM749 1489H753V1493H749zM712 1489H716V1493H712zM720 1489H727V1493H720zM705 1489H708V1498H705zM716 1493H720V1498H716zM764 1493H768V1498H764zM690 1493H697V1498H690zM753 1493H757V1498H753zM712 1498H716V1502H712zM749 1498H753V1502H749zM757 1498H760V1502H757zM686 1498H690V1502H686zM738 1502H742V1506H738zM694 1506H697V1510H694zM779 1523H783V1527H779zM771 1523H775V1527H771zM790 1527H794V1531H790zM749 1527H757V1531H749zM775 1531H779V1536H775zM801 1536H805V1540H801zM812 1540H820V1544H812zM771 1548H775V1552H771zM779 1552H783V1557H779zM786 1552H790V1557H786zM775 1557H779V1561H775zM801 1557H805V1561H801zM779 1561H783V1565H779zM775 1569H779V1574H775zM790 1569H794V1574H790zM801 1569H805V1574H801zM812 1578H816V1582H812zM723 1578H727V1586H723zM764 1586H768V1590H764zM734 1599H742V1603H734zM694 1607H701V1611H694zM671 1611H675V1616H671zM701 1620H705V1624H701zM660 1624H664V1628H660zM653 1624H656V1628H653zM656 1628H664V1633H656zM638 1628H642V1633H638zM627 1628H631V1633H627zM675 1628H679V1633H675zM690 1628H697V1633H690zM690 1633H694V1637H690zM631 1633H634V1637H631zM608 1633H612V1641H608zM671 1637H675V1641H671zM649 1637H653V1645H649zM605 1641H608V1645H605zM642 1641H645V1645H642zM619 1645H627V1649H619zM631 1645H634V1649H631zM619 1649H623V1654H619zM490 1768H493V1772H490zM479 1772H482V1776H479zM460 1772H464V1776H460zM286 1780H290V1784H286zM282 1789H286V1793H282z"/>
<path fill="#375a8c" d="M801 1299H805V1304H801zM808 1308H812V1312H808zM797 1308H801V1312H797zM812 1312H816V1316H812zM805 1312H808V1316H805zM790 1316H794V1320H790zM786 1320H794V1325H786zM797 1320H801V1325H797zM783 1325H786V1329H783zM794 1329H797V1337H794zM775 1333H783V1337H775zM764 1337H768V1341H764zM771 1337H775V1341H771zM801 1337H805V1341H801zM808 1341H812V1346H808zM745 1341H749V1346H745zM783 1350H786V1354H783zM797 1350H801V1354H797zM808 1354H816V1358H808zM749 1354H753V1358H749zM757 1354H760V1358H757zM764 1358H768V1363H764zM753 1358H757V1363H753zM760 1363H764V1367H760zM742 1363H745V1367H742zM801 1363H805V1367H801zM731 1363H734V1371H731zM779 1367H783V1371H779zM757 1367H760V1371H757zM801 1367H808V1371H801zM775 1371H783V1375H775zM738 1371H742V1375H738zM753 1371H757V1375H753zM760 1375H764V1379H760zM731 1379H734V1384H731zM738 1379H745V1384H738zM760 1384H768V1388H760zM745 1384H749V1388H745zM731 1388H749V1392H731zM805 1388H812V1392H805zM805 1392H808V1396H805zM753 1392H757V1396H753zM708 1396H712V1401H708zM716 1396H720V1401H716zM779 1401H783V1405H779zM712 1401H716V1405H712zM764 1405H768V1409H764zM801 1405H805V1409H801zM734 1409H738V1413H734zM771 1409H775V1413H771zM764 1413H768V1417H764zM805 1413H808V1417H805zM745 1413H749V1417H745zM731 1413H734V1417H731zM753 1413H757V1417H753zM794 1417H797V1422H794zM705 1417H708V1422H705zM712 1417H716V1422H712zM727 1422H731V1426H727zM764 1422H768V1426H764zM716 1426H720V1430H716zM794 1426H801V1430H794zM771 1426H775V1430H771zM701 1426H705V1430H701zM734 1426H738V1430H734zM742 1430H745V1434H742zM797 1430H801V1434H797zM731 1430H734V1434H731zM712 1430H716V1434H712zM734 1434H738V1439H734zM783 1434H786V1439H783zM801 1434H805V1439H801zM753 1434H757V1439H753zM764 1439H768V1443H764zM708 1439H712V1443H708zM797 1439H801V1443H797zM731 1439H734V1443H731zM783 1443H786V1447H783zM749 1443H753V1447H749zM794 1443H797V1451H794zM771 1447H775V1451H771zM716 1447H723V1451H716zM731 1447H734V1451H731zM686 1447H690V1451H686zM701 1455H705V1460H701zM708 1455H712V1460H708zM731 1455H734V1460H731zM783 1460H786V1464H783zM716 1460H720V1464H716zM727 1464H731V1468H727zM771 1460H775V1472H771zM705 1468H716V1472H705zM742 1468H745V1472H742zM697 1468H701V1472H697zM716 1472H720V1476H716zM738 1472H742V1476H738zM679 1472H682V1476H679zM727 1472H734V1476H727zM760 1476H764V1481H760zM745 1476H749V1481H745zM712 1476H716V1481H712zM682 1476H686V1481H682zM753 1476H757V1481H753zM690 1472H694V1485H690zM731 1481H734V1485H731zM771 1481H775V1485H771zM742 1481H745V1485H742zM723 1485H727V1489H723zM679 1485H686V1493H679zM716 1489H720V1493H716zM879 1489H883V1493H879zM682 1493H686V1498H682zM705 1498H708V1502H705zM753 1498H757V1502H753zM871 1502H875V1506H871zM757 1502H760V1506H757zM857 1514H860V1519H857zM775 1527H779V1531H775zM757 1527H760V1531H757zM790 1531H794V1536H790zM783 1536H786V1540H783zM749 1536H753V1540H749zM745 1544H753V1548H745zM808 1548H812V1552H808zM742 1548H753V1552H742zM801 1548H805V1552H801zM783 1552H786V1557H783zM820 1552H823V1557H820zM805 1557H808V1561H805zM764 1557H771V1561H764zM734 1561H738V1565H734zM801 1565H808V1569H801zM786 1565H790V1569H786zM749 1574H753V1578H749zM731 1574H734V1578H731zM783 1578H790V1582H783zM771 1578H775V1582H771zM727 1586H731V1590H727zM764 1590H768V1595H764zM749 1595H753V1599H749zM660 1616H664V1620H660zM708 1620H712V1624H708zM705 1624H708V1628H705zM671 1628H675V1633H671zM686 1628H690V1637H686zM656 1633H660V1637H656zM653 1637H656V1641H653zM668 1637H671V1641H668zM631 1637H634V1641H631zM612 1637H619V1641H612zM642 1637H645V1641H642zM616 1641H619V1645H616zM757 1649H760V1654H757zM482 1772H486V1776H482zM278 1784H282V1789H278z"/>
<path fill="#32648e" d="M779 1223H783V1228H779zM779 1236H783V1240H779zM775 1249H779V1253H775zM805 1299H808V1304H805zM808 1304H812V1308H808zM808 1312H812V1316H808zM801 1316H805V1320H801zM816 1320H820V1325H816zM794 1320H797V1329H794zM797 1333H801V1337H797zM794 1337H797V1341H794zM783 1341H786V1346H783zM764 1341H768V1346H764zM797 1341H801V1346H797zM771 1341H779V1346H771zM786 1346H790V1350H786zM760 1350H764V1354H760zM768 1350H771V1358H768zM805 1354H808V1358H805zM775 1358H779V1363H775zM783 1358H786V1363H783zM768 1363H771V1367H768zM760 1367H764V1375H760zM745 1371H749V1375H745zM768 1375H771V1379H768zM797 1375H801V1379H797zM731 1375H734V1379H731zM805 1375H812V1379H805zM716 1384H720V1388H716zM805 1384H812V1388H805zM768 1384H771V1392H768zM760 1388H764V1392H760zM716 1388H723V1392H716zM723 1392H727V1396H723zM764 1396H771V1401H764zM705 1396H708V1401H705zM742 1405H745V1409H742zM805 1405H808V1409H805zM712 1405H716V1409H712zM808 1409H812V1413H808zM753 1409H757V1413H753zM768 1409H771V1417H768zM742 1417H745V1422H742zM786 1417H790V1422H786zM801 1417H805V1426H801zM768 1422H771V1426H768zM783 1422H790V1426H783zM779 1426H783V1430H779zM764 1430H768V1434H764zM771 1430H775V1434H771zM768 1434H771V1439H768zM705 1434H708V1439H705zM712 1434H716V1439H712zM694 1439H697V1443H694zM794 1439H797V1443H794zM786 1439H790V1443H786zM753 1443H757V1447H753zM690 1447H694V1451H690zM701 1447H705V1451H701zM734 1447H738V1451H734zM775 1447H783V1451H775zM775 1451H779V1455H775zM723 1451H727V1455H723zM783 1451H786V1455H783zM757 1451H760V1455H757zM768 1447H771V1460H768zM694 1455H697V1460H694zM686 1455H690V1460H686zM716 1455H720V1460H716zM790 1455H794V1460H790zM753 1455H757V1460H753zM727 1468H731V1472H727zM734 1472H738V1476H734zM760 1472H764V1476H760zM745 1472H749V1476H745zM705 1472H708V1481H705zM738 1476H742V1485H738zM760 1485H764V1489H760zM720 1485H723V1489H720zM686 1485H690V1498H686zM749 1493H753V1498H749zM679 1493H682V1498H679zM716 1498H720V1502H716zM731 1502H734V1506H731zM771 1527H775V1531H771zM753 1531H757V1536H753zM775 1536H779V1540H775zM749 1540H753V1544H749zM786 1540H790V1544H786zM805 1544H808V1548H805zM797 1544H801V1552H797zM786 1548H790V1552H786zM775 1552H779V1557H775zM783 1557H786V1561H783zM801 1561H808V1565H801zM734 1569H738V1574H734zM786 1569H790V1574H786zM808 1582H812V1586H808zM731 1595H734V1599H731zM697 1611H701V1616H697zM694 1616H697V1620H694zM679 1620H682V1624H679zM783 1624H786V1628H783zM675 1624H679V1628H675zM682 1624H686V1628H682zM664 1624H668V1628H664zM653 1628H656V1633H653zM671 1633H675V1637H671zM660 1633H668V1637H660zM634 1633H638V1637H634zM642 1633H645V1637H642zM638 1637H642V1641H638zM619 1637H623V1641H619zM619 1641H631V1645H619zM619 1687H623V1692H619z"/>
<path fill="#2e6f8e" d="M797 1304H801V1308H797zM797 1312H801V1320H797zM808 1316H812V1320H808zM808 1320H816V1325H808zM808 1325H812V1329H808zM786 1325H790V1329H786zM812 1329H816V1333H812zM783 1333H786V1337H783zM768 1341H771V1346H768zM805 1346H808V1350H805zM786 1350H790V1354H786zM757 1358H760V1363H757zM779 1358H783V1367H779zM768 1367H771V1371H768zM771 1371H775V1375H771zM742 1371H745V1375H742zM757 1371H760V1375H757zM812 1371H816V1375H812zM786 1371H790V1375H786zM745 1375H749V1379H745zM801 1379H805V1384H801zM794 1379H797V1384H794zM768 1392H771V1396H768zM753 1396H764V1401H753zM771 1396H779V1401H771zM749 1401H753V1405H749zM797 1401H801V1405H797zM805 1401H808V1405H805zM768 1405H771V1409H768zM745 1405H749V1409H745zM779 1409H786V1413H779zM716 1413H720V1417H716zM779 1413H783V1417H779zM723 1417H727V1422H723zM783 1426H786V1430H783zM764 1426H768V1430H764zM712 1426H716V1430H712zM760 1430H764V1434H760zM775 1430H779V1434H775zM701 1430H708V1434H701zM783 1430H790V1434H783zM734 1430H738V1434H734zM764 1434H768V1439H764zM742 1439H745V1443H742zM760 1443H764V1447H760zM783 1447H786V1451H783zM712 1447H716V1451H712zM716 1451H720V1455H716zM686 1451H690V1455H686zM705 1455H708V1460H705zM720 1455H723V1460H720zM779 1460H783V1464H779zM690 1460H694V1464H690zM731 1460H738V1464H731zM720 1460H727V1468H720zM764 1464H768V1468H764zM716 1468H720V1472H716zM712 1472H716V1476H712zM727 1476H731V1481H727zM757 1476H760V1481H757zM708 1476H712V1481H708zM734 1476H738V1481H734zM679 1481H682V1485H679zM690 1485H694V1489H690zM745 1493H749V1498H745zM720 1498H727V1502H720zM682 1498H686V1502H682zM779 1527H783V1531H779zM753 1536H757V1540H753zM827 1544H831V1548H827zM779 1557H783V1561H779zM790 1561H794V1565H790zM816 1565H820V1569H816zM771 1565H775V1569H771zM738 1569H742V1574H738zM734 1574H738V1578H734zM771 1574H775V1578H771zM757 1595H760V1599H757zM745 1599H749V1603H745zM797 1607H801V1611H797zM690 1611H694V1616H690zM671 1616H675V1620H671zM790 1616H794V1620H790zM664 1616H668V1624H664zM694 1620H697V1624H694zM675 1620H679V1624H675zM679 1624H682V1628H679zM682 1628H686V1637H682zM675 1633H679V1637H675zM664 1637H668V1641H664zM749 1658H753V1662H749z"/>
<path fill="#2a788e" d="M812 1308H816V1312H812zM805 1308H808V1312H805zM805 1320H808V1325H805zM790 1325H794V1329H790zM783 1329H786V1333H783zM808 1333H812V1337H808zM801 1333H805V1337H801zM779 1337H783V1341H779zM794 1346H801V1350H794zM808 1346H812V1350H808zM764 1346H768V1354H764zM801 1350H805V1354H801zM790 1354H794V1358H790zM797 1354H805V1358H797zM779 1354H783V1358H779zM812 1358H816V1363H812zM786 1358H790V1363H786zM805 1358H808V1367H805zM783 1363H786V1367H783zM775 1367H779V1371H775zM797 1367H801V1371H797zM742 1375H745V1379H742zM783 1375H786V1384H783zM786 1388H790V1392H786zM779 1392H783V1396H779zM720 1392H723V1396H720zM768 1401H771V1405H768zM794 1401H797V1405H794zM742 1401H749V1405H742zM753 1401H757V1405H753zM783 1405H786V1409H783zM797 1405H801V1409H797zM705 1405H708V1409H705zM790 1409H794V1413H790zM801 1409H805V1417H801zM779 1417H786V1422H779zM797 1417H801V1426H797zM708 1422H712V1426H708zM705 1426H708V1430H705zM790 1430H794V1434H790zM757 1439H760V1443H757zM790 1439H794V1443H790zM705 1439H708V1443H705zM697 1439H701V1447H697zM771 1443H775V1447H771zM760 1451H764V1455H760zM712 1451H716V1460H712zM786 1455H790V1460H786zM738 1455H742V1460H738zM694 1460H697V1464H694zM775 1460H779V1464H775zM738 1464H742V1468H738zM690 1464H694V1468H690zM775 1468H779V1472H775zM723 1472H727V1476H723zM682 1472H686V1476H682zM749 1476H753V1481H749zM734 1481H738V1485H734zM712 1481H716V1489H712zM701 1485H705V1489H701zM749 1485H753V1489H749zM753 1489H757V1493H753zM742 1498H745V1502H742zM720 1506H723V1510H720zM860 1510H864V1514H860zM760 1527H768V1531H760zM786 1527H790V1531H786zM838 1531H842V1536H838zM779 1536H783V1540H779zM831 1540H834V1544H831zM764 1540H768V1544H764zM794 1540H797V1544H794zM775 1548H779V1552H775zM753 1548H757V1552H753zM797 1552H801V1557H797zM764 1552H771V1557H764zM745 1552H749V1557H745zM797 1561H801V1565H797zM771 1569H775V1574H771zM783 1574H786V1578H783zM727 1578H731V1582H727zM764 1578H768V1582H764zM760 1590H764V1595H760zM731 1590H734V1595H731zM801 1595H805V1599H801zM745 1595H749V1599H745zM794 1611H797V1616H794zM668 1616H671V1620H668zM697 1620H701V1624H697zM671 1624H675V1628H671zM664 1628H668V1633H664zM679 1633H682V1637H679zM623 1637H627V1641H623zM768 1641H771V1645H768zM760 1649H764V1654H760zM745 1662H749V1666H745zM727 1679H731V1683H727zM716 1692H720V1696H716zM690 1713H694V1717H690z"/>
<path fill="#26828e" d="M805 1304H808V1308H805zM805 1316H808V1320H805zM786 1329H794V1333H786zM805 1333H808V1337H805zM768 1337H771V1341H768zM786 1341H794V1346H786zM768 1346H771V1350H768zM812 1363H816V1367H812zM734 1375H742V1379H734zM771 1375H775V1379H771zM783 1384H786V1388H783zM775 1388H779V1392H775zM783 1392H786V1396H783zM790 1396H797V1401H790zM786 1401H790V1405H786zM775 1409H779V1413H775zM749 1409H753V1413H749zM797 1409H801V1413H797zM738 1413H745V1417H738zM771 1417H775V1422H771zM779 1422H783V1426H779zM775 1426H779V1430H775zM794 1430H797V1434H794zM783 1439H786V1443H783zM701 1443H708V1447H701zM705 1447H708V1451H705zM764 1451H768V1455H764zM779 1451H783V1455H779zM720 1451H723V1455H720zM757 1455H760V1460H757zM742 1455H749V1460H742zM690 1455H694V1460H690zM727 1460H731V1464H727zM749 1460H753V1464H749zM760 1460H764V1464H760zM749 1468H753V1472H749zM757 1468H760V1472H757zM753 1472H760V1476H753zM742 1472H745V1476H742zM720 1472H723V1476H720zM723 1476H727V1481H723zM731 1476H734V1481H731zM734 1485H738V1489H734zM731 1489H734V1493H731zM727 1493H731V1498H727zM675 1493H679V1498H675zM720 1493H723V1498H720zM727 1498H734V1502H727zM875 1498H879V1502H875zM783 1527H786V1531H783zM779 1531H783V1536H779zM797 1540H801V1544H797zM753 1540H757V1544H753zM816 1557H820V1561H816zM786 1574H790V1578H786zM764 1582H768V1586H764zM731 1586H734V1590H731zM738 1671H742V1675H738zM712 1696H716V1700H712zM701 1704H705V1709H701zM694 1713H697V1717H694z"/>
<path fill="#228b8d" d="M812 1325H816V1329H812zM797 1329H801V1333H797zM786 1337H790V1341H786zM805 1337H808V1346H805zM779 1341H783V1346H779zM771 1354H775V1358H771zM808 1358H812V1363H808zM790 1358H794V1363H790zM801 1358H805V1363H801zM790 1367H794V1371H790zM794 1371H797V1375H794zM760 1379H764V1384H760zM779 1379H783V1384H779zM786 1379H790V1384H786zM797 1384H801V1388H797zM783 1388H786V1392H783zM760 1392H764V1396H760zM790 1392H794V1396H790zM783 1401H786V1405H783zM790 1405H794V1409H790zM775 1413H779V1417H775zM783 1413H786V1417H783zM790 1413H797V1417H790zM712 1413H716V1417H712zM768 1417H771V1422H768zM705 1422H708V1426H705zM757 1434H760V1439H757zM760 1439H764V1443H760zM757 1443H760V1447H757zM708 1447H712V1451H708zM745 1451H749V1455H745zM775 1455H779V1460H775zM738 1460H742V1464H738zM760 1464H764V1468H760zM745 1464H749V1468H745zM883 1481H886V1485H883zM745 1489H749V1493H745zM768 1527H771V1531H768zM794 1536H797V1540H794zM775 1540H779V1544H775zM760 1557H764V1561H760zM768 1561H771V1565H768zM757 1565H760V1569H757zM738 1574H742V1578H738zM768 1578H771V1582H768zM734 1578H745V1582H734zM749 1590H753V1595H749zM742 1595H745V1599H742zM679 1616H682V1620H679zM668 1633H671V1637H668zM723 1683H727V1687H723z"/>
<path fill="#1f958b" d="M801 1304H805V1308H801zM805 1325H808V1329H805zM808 1329H812V1333H808zM801 1329H805V1333H801zM783 1346H786V1350H783zM790 1346H794V1350H790zM779 1350H783V1354H779zM794 1350H797V1354H794zM768 1358H775V1363H768zM797 1358H801V1363H797zM808 1367H812V1371H808zM801 1371H805V1379H801zM775 1375H779V1379H775zM794 1375H797V1379H794zM797 1379H801V1384H797zM775 1384H779V1388H775zM786 1384H790V1388H786zM771 1388H775V1392H771zM716 1392H720V1396H716zM794 1392H797V1396H794zM742 1409H745V1413H742zM764 1409H768V1413H764zM708 1426H712V1430H708zM753 1447H757V1451H753zM708 1451H712V1455H708zM783 1455H786V1460H783zM745 1460H749V1464H745zM749 1464H753V1468H749zM723 1468H727V1472H723zM749 1472H753V1476H749zM738 1485H742V1489H738zM723 1493H727V1498H723zM738 1493H742V1498H738zM745 1498H749V1502H745zM846 1523H849V1527H846zM760 1540H764V1544H760zM757 1548H760V1552H757zM794 1552H797V1557H794zM753 1552H757V1557H753zM738 1561H742V1565H738zM794 1561H797V1565H794zM764 1565H768V1569H764zM731 1578H734V1582H731zM753 1595H757V1599H753zM686 1611H690V1620H686zM697 1616H701V1620H697zM786 1620H790V1624H786zM486 1772H490V1776H486z"/>
<path fill="#1f9f88" d="M805 1329H808V1333H805zM797 1337H801V1341H797zM779 1346H783V1350H779zM775 1363H779V1367H775zM797 1371H801V1375H797zM731 1371H738V1375H731zM764 1379H768V1384H764zM801 1384H805V1388H801zM790 1388H794V1392H790zM783 1396H786V1401H783zM797 1396H801V1401H797zM786 1409H790V1413H786zM797 1413H801V1417H797zM790 1417H794V1422H790zM775 1422H779V1426H775zM779 1430H783V1434H779zM794 1434H797V1439H794zM764 1447H768V1451H764zM705 1451H708V1455H705zM760 1455H764V1460H760zM779 1455H783V1460H779zM764 1460H768V1464H764zM757 1460H760V1464H757zM753 1464H757V1468H753zM686 1472H690V1476H686zM734 1498H742V1502H734zM720 1502H723V1506H720zM749 1552H753V1557H749zM757 1552H760V1557H757zM742 1557H745V1561H742zM764 1561H768V1565H764zM764 1569H768V1574H764zM757 1569H760V1574H757zM701 1616H705V1620H701zM682 1616H686V1620H682z"/>
<path fill="#22a884" d="M812 1316H816V1320H812zM797 1325H801V1329H797zM790 1333H794V1337H790zM783 1337H786V1341H783zM801 1341H805V1350H801zM783 1371H786V1375H783zM764 1375H768V1379H764zM771 1379H779V1384H771zM801 1396H805V1401H801zM794 1409H797V1413H794zM712 1422H716V1426H712zM760 1434H764V1439H760zM790 1434H794V1439H790zM771 1439H775V1443H771zM764 1455H768V1460H764zM720 1468H723V1472H720zM720 1481H723V1485H720zM753 1485H757V1489H753zM742 1493H745V1498H742zM783 1544H786V1548H783zM742 1552H745V1557H742zM794 1557H797V1561H794zM753 1557H757V1561H753zM753 1565H757V1569H753zM760 1565H764V1569H760zM745 1565H749V1569H745zM753 1574H757V1578H753zM727 1582H734V1586H727zM742 1586H745V1590H742zM757 1590H760V1595H757z"/>
<path fill="#2cb17e" d="M801 1320H805V1329H801zM786 1354H790V1358H786zM771 1363H775V1367H771zM771 1384H775V1388H771zM794 1384H797V1388H794zM786 1434H790V1439H786zM749 1455H753V1460H749zM742 1464H745V1468H742zM720 1476H723V1481H720zM738 1489H742V1493H738zM712 1502H716V1510H712zM768 1565H771V1569H768zM742 1582H745V1586H742zM757 1586H764V1590H757zM753 1590H757V1595H753zM705 1620H708V1624H705zM682 1620H686V1624H682z"/>
<path fill="#3bbb75" d="M775 1337H779V1341H775zM794 1363H801V1367H794zM779 1375H783V1379H779zM790 1384H794V1388H790zM797 1388H801V1392H797zM742 1489H745V1493H742zM771 1531H775V1536H771zM786 1531H790V1536H786zM757 1544H760V1548H757zM734 1595H738V1599H734z"/>
<path fill="#4ec36b" d="M771 1346H775V1350H771zM794 1358H797V1363H794zM786 1363H790V1367H786zM783 1367H786V1371H783zM786 1375H794V1379H786zM790 1379H794V1384H790zM760 1447H764V1451H760zM716 1502H720V1510H716zM760 1548H764V1552H760zM757 1557H760V1561H757zM753 1569H757V1574H753zM760 1578H764V1582H760zM738 1582H742V1586H738zM690 1616H694V1620H690zM686 1620H690V1624H686zM490 1772H493V1776H490z"/>
<path fill="#63cb5f" d="M790 1350H794V1354H790zM771 1392H775V1396H771zM801 1392H805V1396H801zM753 1544H757V1548H753zM757 1574H760V1578H757zM745 1582H749V1586H745zM738 1590H742V1595H738z"/>
<path fill="#7ad151" d="M786 1367H790V1371H786zM797 1392H801V1396H797zM760 1552H764V1557H760zM742 1574H745V1578H742zM734 1582H738V1586H734zM738 1586H742V1590H738zM745 1586H749V1590H745zM742 1590H749V1595H742z"/>
<path fill="#95d840" d="M786 1405H790V1409H786zM742 1460H745V1464H742zM753 1586H757V1590H753z"/>
<path fill="#b0dd2f" d="M794 1354H797V1358H794zM790 1371H794V1375H790zM801 1388H805V1392H801zM794 1405H797V1409H794zM771 1536H775V1540H771zM764 1548H768V1552H764zM790 1557H794V1561H790zM760 1561H764V1565H760zM749 1569H753V1574H749zM745 1574H749V1578H745zM749 1578H760V1582H749zM749 1582H764V1586H749zM749 1586H753V1590H749zM734 1586H738V1595H734z"/>
<path fill="#fde725" d="M734 1177H738V1181H734zM712 1299H716V1304H712zM771 1329H779V1333H771zM771 1333H775V1337H771zM775 1346H779V1350H775zM723 1350H727V1354H723zM771 1350H779V1354H771zM775 1354H779V1358H775zM690 1358H694V1363H690zM779 1388H783V1392H779zM794 1388H797V1392H794zM775 1392H779V1396H775zM786 1392H790V1401H786zM790 1401H794V1405H790zM660 1409H664V1413H660zM775 1417H779V1422H775zM749 1417H757V1422H749zM771 1422H775V1426H771zM753 1426H757V1430H753zM808 1430H812V1434H808zM771 1434H783V1439H771zM797 1434H801V1439H797zM775 1439H783V1447H775zM749 1447H753V1451H749zM749 1451H757V1455H749zM771 1455H775V1460H771zM768 1460H771V1464H768zM753 1460H757V1464H753zM757 1464H760V1468H757zM783 1468H786V1472H783zM764 1468H768V1476H764zM716 1481H720V1485H716zM749 1481H757V1485H749zM694 1485H697V1489H694zM742 1485H745V1489H742zM731 1485H734V1489H731zM727 1489H731V1493H727zM734 1489H738V1493H734zM731 1493H738V1498H731zM712 1493H716V1498H712zM727 1502H731V1506H727zM734 1502H738V1506H734zM749 1506H757V1510H749zM757 1510H760V1519H757zM749 1514H753V1519H749zM742 1519H753V1523H742zM753 1523H757V1527H753zM801 1523H808V1527H801zM745 1523H749V1527H745zM783 1531H786V1536H783zM794 1531H797V1536H794zM757 1531H771V1540H757zM834 1531H838V1540H834zM797 1536H801V1540H797zM786 1536H794V1540H786zM790 1540H794V1544H790zM768 1540H775V1544H768zM779 1540H786V1544H779zM757 1540H760V1544H757zM827 1540H831V1544H827zM760 1544H783V1548H760zM786 1544H797V1548H786zM768 1548H771V1552H768zM790 1548H797V1552H790zM779 1548H786V1552H779zM790 1552H794V1557H790zM771 1552H775V1561H771zM745 1557H753V1561H745zM797 1557H801V1561H797zM738 1557H742V1561H738zM783 1561H790V1565H783zM742 1561H757V1565H742zM749 1565H753V1569H749zM794 1565H797V1569H794zM738 1565H745V1569H738zM768 1569H771V1574H768zM745 1569H749V1574H745zM760 1574H771V1578H760zM775 1574H779V1582H775zM808 1574H812V1582H808zM745 1578H749V1582H745zM771 1582H775V1586H771zM801 1586H808V1590H801zM723 1586H727V1590H723zM801 1590H805V1595H801zM727 1590H731V1599H727zM738 1595H742V1599H738zM634 1603H638V1607H634zM779 1607H786V1611H779zM694 1611H697V1616H694zM675 1611H686V1616H675zM675 1616H679V1620H675zM690 1620H694V1624H690zM671 1620H675V1624H671zM686 1624H705V1628H686zM705 1628H708V1633H705zM571 1654H575V1658H571zM634 1692H645V1700H634zM649 1696H656V1700H649zM645 1700H653V1704H645zM634 1700H642V1704H634zM705 1700H708V1709H705zM634 1704H638V1709H634zM690 1704H697V1709H690zM679 1704H682V1713H679zM694 1709H701V1713H694zM664 1713H671V1717H664zM579 1713H582V1717H579zM631 1713H634V1717H631zM675 1717H690V1721H675zM679 1721H686V1725H679z"/>
<path fill="#ebebeb" fill-opacity="0.03" d="M227 1140h1v709h-1zM252 1140h1v709h-1zM290 1140h1v709h-1zM315 1140h1v709h-1zM505 1140h1v709h-1zM530 1140h1v709h-1zM568 1140h1v709h-1zM593 1140h1v709h-1zM783 1140h1v709h-1zM808 1140h1v709h-1zM846 1140h1v709h-1zM871 1140h1v709h-1zM131 1206h806v1h-806zM131 1266h806v1h-806zM131 1341h806v1h-806zM131 1401h806v1h-806zM131 1476h806v1h-806zM131 1536h806v1h-806zM131 1611h806v1h-806zM131 1671h806v1h-806zM131 1746h806v1h-806zM131 1806h806v1h-806z"/>
<path fill="#ebebeb" fill-opacity="0.05" d="M189 1140h1v709h-1zM353 1140h1v709h-1zM404 1140h1v709h-1zM416 1140h1v709h-1zM467 1140h1v709h-1zM631 1140h1v709h-1zM682 1140h1v709h-1zM694 1140h1v709h-1zM745 1140h1v709h-1zM909 1140h1v709h-1zM131 1228h806v1h-806zM131 1244h806v1h-806zM131 1363h806v1h-806zM131 1379h806v1h-806zM131 1498h806v1h-806zM131 1514h806v1h-806zM131 1633h806v1h-806zM131 1649h806v1h-806zM131 1768h806v1h-806zM131 1784h806v1h-806z"/>
<path fill="#ebebeb" fill-opacity="0.07" d="M201 1140h1v709h-1zM264 1140h1v709h-1zM278 1140h1v709h-1zM341 1140h1v709h-1zM479 1140h1v709h-1zM542 1140h1v709h-1zM556 1140h1v709h-1zM619 1140h1v709h-1zM757 1140h1v709h-1zM820 1140h1v709h-1zM834 1140h1v709h-1zM897 1140h1v709h-1zM131 1190h806v1h-806zM131 1282h806v1h-806zM131 1325h806v1h-806zM131 1417h806v1h-806zM131 1460h806v1h-806zM131 1552h806v1h-806zM131 1595h806v1h-806zM131 1687h806v1h-806zM131 1730h806v1h-806zM131 1822h806v1h-806z"/>
<path fill="#ebebeb" fill-opacity="0.1" d="M175 1140h1v709h-1zM215 1140h1v709h-1zM327 1140h1v709h-1zM367 1140h1v709h-1zM390 1140h1v709h-1zM430 1140h1v709h-1zM453 1140h1v709h-1zM493 1140h1v709h-1zM605 1140h1v709h-1zM645 1140h1v709h-1zM668 1140h1v709h-1zM708 1140h1v709h-1zM731 1140h1v709h-1zM771 1140h1v709h-1zM883 1140h1v709h-1zM131 1185h806v1h-806zM131 1287h806v1h-806zM131 1320h806v1h-806zM131 1422h806v1h-806zM131 1455h806v1h-806zM131 1557h806v1h-806zM131 1590h806v1h-806zM131 1692h806v1h-806zM131 1725h806v1h-806zM131 1827h806v1h-806z"/>
<path fill="#ebebeb" fill-opacity="0.12" d="M238 1140h1v709h-1zM241 1140h1v709h-1zM301 1140h1v709h-1zM304 1140h1v709h-1zM516 1140h1v709h-1zM519 1140h1v709h-1zM579 1140h1v709h-1zM582 1140h1v709h-1zM794 1140h1v709h-1zM797 1140h1v709h-1zM857 1140h1v709h-1zM860 1140h1v709h-1zM131 1223h806v1h-806zM131 1249h806v1h-806zM131 1358h806v1h-806zM131 1384h806v1h-806zM131 1493h806v1h-806zM131 1519h806v1h-806zM131 1628h806v1h-806zM131 1654h806v1h-806zM131 1763h806v1h-806zM131 1789h806v1h-806z"/>
<path fill="#ebebeb" fill-opacity="0.15" d="M178 1140h1v709h-1zM212 1140h1v709h-1zM330 1140h1v709h-1zM364 1140h1v709h-1zM393 1140h1v709h-1zM427 1140h1v709h-1zM456 1140h1v709h-1zM490 1140h1v709h-1zM608 1140h1v709h-1zM642 1140h1v709h-1zM671 1140h1v709h-1zM705 1140h1v709h-1zM734 1140h1v709h-1zM768 1140h1v709h-1zM886 1140h1v709h-1zM131 1211h806v1h-806zM131 1261h806v1h-806zM131 1346h806v1h-806zM131 1396h806v1h-806zM131 1481h806v1h-806zM131 1531h806v1h-806zM131 1616h806v1h-806zM131 1666h806v1h-806zM131 1751h806v1h-806zM131 1801h806v1h-806z"/>
<path fill="#ebebeb" fill-opacity="0.17" d="M186 1140h1v709h-1zM204 1140h1v709h-1zM267 1140h1v709h-1zM275 1140h1v709h-1zM338 1140h1v709h-1zM356 1140h1v709h-1zM401 1140h1v709h-1zM419 1140h1v709h-1zM464 1140h1v709h-1zM482 1140h1v709h-1zM545 1140h1v709h-1zM553 1140h1v709h-1zM616 1140h1v709h-1zM634 1140h1v709h-1zM679 1140h1v709h-1zM697 1140h1v709h-1zM742 1140h1v709h-1zM760 1140h1v709h-1zM823 1140h1v709h-1zM831 1140h1v709h-1zM894 1140h1v709h-1zM912 1140h1v709h-1zM131 1164h806v1h-806zM131 1173h806v1h-806zM131 1299h806v1h-806zM131 1308h806v1h-806zM131 1434h806v1h-806zM131 1443h806v1h-806zM131 1569h806v1h-806zM131 1578h806v1h-806zM131 1704h806v1h-806zM131 1713h806v1h-806zM131 1839h806v1h-806z"/>
<path fill="#ebebeb" fill-opacity="0.2" d="M160 1140h1v709h-1zM167 1140h1v709h-1zM230 1140h1v709h-1zM249 1140h1v709h-1zM293 1140h1v709h-1zM312 1140h1v709h-1zM375 1140h1v709h-1zM382 1140h1v709h-1zM438 1140h1v709h-1zM445 1140h1v709h-1zM508 1140h1v709h-1zM527 1140h1v709h-1zM571 1140h1v709h-1zM590 1140h1v709h-1zM653 1140h1v709h-1zM660 1140h1v709h-1zM716 1140h1v709h-1zM723 1140h1v709h-1zM786 1140h1v709h-1zM805 1140h1v709h-1zM849 1140h1v709h-1zM868 1140h1v709h-1zM131 1202h806v1h-806zM131 1232h806v1h-806zM131 1240h806v1h-806zM131 1270h806v1h-806zM131 1337h806v1h-806zM131 1367h806v1h-806zM131 1375h806v1h-806zM131 1405h806v1h-806zM131 1472h806v1h-806zM131 1502h806v1h-806zM131 1510h806v1h-806zM131 1540h806v1h-806zM131 1607h806v1h-806zM131 1637h806v1h-806zM131 1645h806v1h-806zM131 1675h806v1h-806zM131 1742h806v1h-806zM131 1772h806v1h-806zM131 1780h806v1h-806zM131 1810h806v1h-806z"/>
<path fill="#ebebeb" fill-opacity="0.23" d="M193 1140h1v709h-1zM197 1140h1v709h-1zM223 1140h1v709h-1zM256 1140h1v709h-1zM260 1140h1v709h-1zM282 1140h1v709h-1zM286 1140h1v709h-1zM319 1140h1v709h-1zM345 1140h1v709h-1zM349 1140h1v709h-1zM408 1140h1v709h-1zM412 1140h1v709h-1zM471 1140h1v709h-1zM475 1140h1v709h-1zM501 1140h1v709h-1zM534 1140h1v709h-1zM538 1140h1v709h-1zM560 1140h1v709h-1zM564 1140h1v709h-1zM597 1140h1v709h-1zM623 1140h1v709h-1zM627 1140h1v709h-1zM686 1140h1v709h-1zM690 1140h1v709h-1zM749 1140h1v709h-1zM753 1140h1v709h-1zM779 1140h1v709h-1zM812 1140h1v709h-1zM816 1140h1v709h-1zM838 1140h1v709h-1zM842 1140h1v709h-1zM875 1140h1v709h-1zM901 1140h1v709h-1zM905 1140h1v709h-1zM131 1181h806v1h-806zM131 1194h806v1h-806zM131 1219h806v1h-806zM131 1253h806v1h-806zM131 1278h806v1h-806zM131 1291h806v1h-806zM131 1316h806v1h-806zM131 1329h806v1h-806zM131 1354h806v1h-806zM131 1388h806v1h-806zM131 1413h806v1h-806zM131 1426h806v1h-806zM131 1451h806v1h-806zM131 1464h806v1h-806zM131 1489h806v1h-806zM131 1523h806v1h-806zM131 1548h806v1h-806zM131 1561h806v1h-806zM131 1586h806v1h-806zM131 1599h806v1h-806zM131 1624h806v1h-806zM131 1658h806v1h-806zM131 1683h806v1h-806zM131 1696h806v1h-806zM131 1721h806v1h-806zM131 1734h806v1h-806zM131 1759h806v1h-806zM131 1793h806v1h-806zM131 1818h806v1h-806zM131 1831h806v1h-806z"/>
<path fill="#ebebeb" fill-opacity="0.25" d="M156 1140h1v709h-1zM171 1140h1v709h-1zM182 1140h1v709h-1zM208 1140h1v709h-1zM219 1140h1v709h-1zM234 1140h1v709h-1zM245 1140h1v709h-1zM271 1140h1v709h-1zM297 1140h1v709h-1zM308 1140h1v709h-1zM323 1140h1v709h-1zM334 1140h1v709h-1zM360 1140h1v709h-1zM371 1140h1v709h-1zM386 1140h1v709h-1zM397 1140h1v709h-1zM423 1140h1v709h-1zM434 1140h1v709h-1zM449 1140h1v709h-1zM460 1140h1v709h-1zM486 1140h1v709h-1zM497 1140h1v709h-1zM512 1140h1v709h-1zM523 1140h1v709h-1zM549 1140h1v709h-1zM575 1140h1v709h-1zM586 1140h1v709h-1zM601 1140h1v709h-1zM612 1140h1v709h-1zM638 1140h1v709h-1zM649 1140h1v709h-1zM664 1140h1v709h-1zM675 1140h1v709h-1zM701 1140h1v709h-1zM712 1140h1v709h-1zM727 1140h1v709h-1zM738 1140h1v709h-1zM764 1140h1v709h-1zM775 1140h1v709h-1zM790 1140h1v709h-1zM801 1140h1v709h-1zM827 1140h1v709h-1zM853 1140h1v709h-1zM864 1140h1v709h-1zM879 1140h1v709h-1zM890 1140h1v709h-1zM131 1160h806v1h-806zM131 1177h806v1h-806zM131 1198h806v1h-806zM131 1215h806v1h-806zM131 1236h806v1h-806zM131 1257h806v1h-806zM131 1274h806v1h-806zM131 1295h806v1h-806zM131 1312h806v1h-806zM131 1333h806v1h-806zM131 1350h806v1h-806zM131 1371h806v1h-806zM131 1392h806v1h-806zM131 1409h806v1h-806zM131 1430h806v1h-806zM131 1447h806v1h-806zM131 1468h806v1h-806zM131 1485h806v1h-806zM131 1506h806v1h-806zM131 1527h806v1h-806zM131 1544h806v1h-806zM131 1565h806v1h-806zM131 1582h806v1h-806zM131 1603h806v1h-806zM131 1620h806v1h-806zM131 1641h806v1h-806zM131 1662h806v1h-806zM131 1679h806v1h-806zM131 1700h806v1h-806zM131 1717h806v1h-806zM131 1738h806v1h-806zM131 1755h806v1h-806zM131 1776h806v1h-806zM131 1797h806v1h-806zM131 1814h806v1h-806zM131 1835h806v1h-806z"/>
</g>
</g>
<g>
<rect x="961.2" y="1072" width="807.4" height="778.7" fill="#ebebeb"/>
<rect x="961.2" y="1072" width="807.4" height="68.9" fill="#d9d9d9"/>
<path d="M961.2 1169h807.4M961.2 1270.25h807.4M961.2 1371.5h807.4M961.2 1472.75h807.4M961.2 1574h807.4M961.2 1675.25h807.4M961.2 1776.5h807.4M1157.3 1140.8v709.9M1379.7 1140.8v709.9M1602.1 1140.8v709.9" stroke="#fff" stroke-width="4.45" fill="none"/>
<path fill="#440154" d="M1579.86 1173.22H1594.69V1177.44H1605.81V1181.66H1616.93V1185.88H1620.63V1181.66H1657.7V1185.88H1661.41V1194.31H1665.11V1206.97H1668.82V1219.62H1672.53V1244.94H1676.23V1249.16H1679.94V1261.81H1683.65V1266.03H1687.35V1278.69H1691.06V1287.12H1694.77V1358.84H1691.06V1371.5H1683.65V1367.28H1672.53V1363.06H1665.11V1358.84H1661.41V1363.06H1657.7V1367.28H1653.99V1375.72H1650.29V1379.94H1646.58V1388.38H1642.87V1392.59H1639.17V1409.47H1642.87V1413.69H1646.58V1426.34H1650.29V1430.56H1657.7V1434.78H1679.94V1439H1691.06V1413.69H1694.77V1409.47H1698.47V1413.69H1731.83V1430.56H1728.13V1439H1724.42V1451.66H1720.71V1468.53H1717.01V1485.41H1713.3V1493.84H1709.59V1502.28H1705.89V1506.5H1702.18V1510.72H1698.47V1514.94H1691.06V1519.16H1683.65V1523.38H1679.94V1527.59H1676.23V1531.81H1672.53V1536.03H1668.82V1540.25H1665.11V1544.47H1661.41V1548.69H1657.7V1552.91H1653.99V1557.12H1650.29V1574H1646.58V1582.44H1642.87V1586.66H1639.17V1595.09H1635.46V1603.53H1631.75V1611.97H1628.05V1616.19H1624.34V1620.41H1620.63V1624.62H1616.93V1628.84H1613.22V1633.06H1609.51V1637.28H1605.81V1641.5H1602.1V1645.72H1598.39V1649.94H1594.69V1654.16H1587.27V1658.38H1583.57V1662.59H1579.86V1666.81H1576.15V1671.03H1572.45V1675.25H1565.03V1679.47H1561.33V1683.69H1557.62V1687.91H1553.91V1692.12H1550.21V1696.34H1546.5V1700.56H1542.79V1704.78H1539.09V1709H1531.67V1713.22H1527.97V1717.44H1520.55V1721.66H1516.85V1725.88H1513.14V1730.09H1505.73V1734.31H1502.02V1738.53H1494.61V1742.75H1487.19V1746.97H1483.49V1751.19H1476.07V1755.41H1464.95V1759.62H1457.54V1763.84H1450.13V1768.06H1435.3V1763.84H1416.77V1768.06H1409.35V1772.28H1413.06V1780.72H1394.53V1776.5H1379.7V1780.72H1375.99V1789.16H1357.46V1784.94H1346.34V1780.72H1324.1V1776.5H1312.98V1780.72H1309.27V1784.94H1298.15V1780.72H1290.74V1784.94H1287.03V1780.72H1253.67V1789.16H1246.26V1793.38H1242.55V1797.59H1220.31V1801.81H1209.19V1797.59H1198.07V1801.81H1179.54V1806.03H1175.83V1810.25H1168.42V1814.47H1161.01V1818.69H1138.77V1814.47H1135.06V1810.25H1123.94V1806.03H1127.65V1801.81H1116.53V1797.59H1101.7V1780.72H1094.29V1784.94H1090.58V1797.59H1086.87V1793.38H1083.17V1784.94H1079.46V1776.5H1083.17V1763.84H1086.87V1759.62H1083.17V1755.41H1079.46V1746.97H1072.05V1738.53H1068.34V1734.31H1064.63V1730.09H1060.93V1709H1072.05V1713.22H1075.75V1709H1079.46V1700.56H1083.17V1696.34H1079.46V1666.81H1075.75V1658.38H1072.05V1654.16H1068.34V1649.94H1064.63V1645.72H1060.93V1637.28H1057.22V1633.06H1053.51V1624.62H1049.81V1620.41H1046.1V1611.97H1042.39V1603.53H1038.69V1599.31H1034.98V1586.66H1031.27V1578.22H1027.57V1565.56H1023.86V1552.91H1020.15V1544.47H1016.45V1531.81H1012.74V1527.59H1009.03V1519.16H1005.33V1514.94H1001.62V1506.5H997.91V1498.06H1005.33V1493.84H1012.74V1481.19H1016.45V1472.75H1031.27V1476.97H1034.98V1481.19H1042.39V1498.06H1046.1V1506.5H1057.22V1510.72H1072.05V1514.94H1116.53V1519.16H1120.23V1510.72H1123.94V1506.5H1131.35V1502.28H1135.06V1498.06H1142.47V1493.84H1153.59V1443.22H1157.3V1308.22H1164.71V1312.44H1168.42V1316.66H1172.13V1320.88H1175.83V1325.09H1179.54V1333.53H1183.25V1337.75H1186.95V1341.97H1190.66V1358.84H1194.37V1367.28H1198.07V1384.16H1194.37V1388.38H1190.66V1392.59H1186.95V1413.69H1190.66V1409.47H1201.78V1413.69H1216.61V1409.47H1224.02V1413.69H1231.43V1409.47H1235.14V1405.25H1242.55V1401.03H1246.26V1396.81H1249.97V1392.59H1253.67V1388.38H1261.09V1379.94H1268.5V1375.72H1275.91V1358.84H1279.62V1346.19H1283.33V1341.97H1287.03V1337.75H1290.74V1333.53H1316.69V1337.75H1320.39V1341.97H1327.81V1346.19H1331.51V1350.41H1346.34V1354.62H1357.46V1358.84H1379.7V1354.62H1387.11V1358.84H1394.53V1354.62H1405.65V1346.19H1409.35V1333.53H1413.06V1325.09H1416.77V1316.66H1420.47V1308.22H1427.89V1304H1435.3V1299.78H1446.42V1291.34H1453.83V1287.12H1457.54V1282.91H1461.25V1274.47H1464.95V1253.38H1468.66V1249.16H1472.37V1244.94H1476.07V1240.72H1479.78V1236.5H1494.61V1228.06H1502.02V1223.84H1505.73V1219.62H1509.43V1215.41H1513.14V1206.97H1516.85V1202.75H1520.55V1198.53H1527.97V1194.31H1546.5V1190.09H1553.91V1181.66H1557.62V1177.44H1579.86zM1542.79 1502.28H1539.09V1506.5H1531.67V1510.72H1520.55V1514.94H1516.85V1519.16H1505.73V1523.38H1498.31V1536.03H1494.61V1540.25H1490.9V1544.47H1487.19V1548.69H1483.49V1552.91H1472.37V1557.12H1476.07V1569.78H1479.78V1574H1483.49V1582.44H1487.19V1595.09H1490.9V1599.31H1494.61V1603.53H1498.31V1607.75H1520.55V1603.53H1524.26V1599.31H1527.97V1586.66H1531.67V1582.44H1553.91V1578.22H1561.33V1574H1565.03V1569.78H1568.74V1565.56H1565.03V1561.34H1568.74V1557.12H1572.45V1548.69H1576.15V1544.47H1579.86V1531.81H1576.15V1527.59H1572.45V1523.38H1565.03V1519.16H1561.33V1514.94H1557.62V1510.72H1553.91V1514.94H1546.5V1510.72H1542.79z"/>
<g clip-path="url(#cub)">
<path fill="#471063" d="M1535 1274H1550V1278H1535zM1520 1274H1524V1278H1520zM1542 1278H1550V1282H1542zM1509 1278H1516V1282H1509zM1631 1278H1635V1282H1631zM1535 1278H1539V1282H1535zM1524 1278H1531V1282H1524zM1494 1278H1498V1287H1494zM1553 1278H1557V1287H1553zM1487 1282H1490V1287H1487zM1635 1282H1642V1287H1635zM1502 1282H1505V1287H1502zM1572 1282H1576V1287H1572zM1516 1282H1520V1287H1516zM1546 1287H1550V1291H1546zM1628 1287H1631V1291H1628zM1505 1287H1513V1291H1505zM1535 1287H1539V1291H1535zM1639 1287H1646V1291H1639zM1553 1287H1561V1291H1553zM1568 1287H1576V1291H1568zM1494 1287H1502V1295H1494zM1550 1291H1561V1295H1550zM1565 1291H1572V1295H1565zM1642 1291H1650V1295H1642zM1613 1291H1616V1295H1613zM1542 1295H1546V1299H1542zM1609 1295H1616V1299H1609zM1494 1295H1505V1299H1494zM1572 1295H1576V1299H1572zM1620 1295H1624V1299H1620zM1550 1295H1553V1299H1550zM1531 1291H1535V1304H1531zM1650 1295H1653V1304H1650zM1509 1295H1513V1304H1509zM1616 1299H1624V1304H1616zM1568 1299H1579V1304H1568zM1590 1299H1594V1308H1590zM1531 1304H1539V1308H1531zM1602 1304H1605V1308H1602zM1609 1304H1616V1308H1609zM1594 1308H1598V1312H1594zM1576 1308H1579V1312H1576zM1550 1308H1553V1312H1550zM1568 1312H1572V1316H1568zM1583 1312H1598V1316H1583zM1602 1312H1605V1316H1602zM1561 1312H1565V1320H1561zM1579 1316H1602V1320H1579zM1653 1316H1661V1320H1653zM1565 1320H1568V1325H1565zM1572 1320H1579V1325H1572zM1657 1320H1661V1325H1657zM1565 1325H1572V1329H1565zM1553 1325H1561V1329H1553zM1557 1329H1565V1333H1557zM1576 1325H1579V1337H1576zM1546 1329H1550V1337H1546zM1557 1333H1561V1337H1557zM1653 1329H1661V1341H1653zM1546 1337H1561V1341H1546zM1539 1337H1542V1346H1539zM1546 1341H1550V1346H1546zM1553 1341H1557V1346H1553zM1435 1341H1446V1346H1435zM1461 1341H1464V1350H1461zM1565 1346H1568V1350H1565zM1542 1346H1557V1350H1542zM1653 1346H1657V1350H1653zM1642 1346H1646V1350H1642zM1535 1350H1546V1354H1535zM1550 1350H1553V1354H1550zM1509 1350H1513V1354H1509zM1516 1350H1520V1358H1516zM1524 1354H1527V1358H1524zM1424 1354H1427V1358H1424zM1431 1354H1435V1358H1431zM1531 1354H1546V1358H1531zM1427 1358H1435V1363H1427zM1413 1358H1416V1363H1413zM1650 1358H1653V1363H1650zM1401 1358H1405V1363H1401zM1509 1358H1513V1363H1509zM1542 1358H1546V1363H1542zM1561 1358H1565V1363H1561zM1464 1358H1468V1367H1464zM1524 1358H1535V1367H1524zM1594 1363H1598V1367H1594zM1409 1363H1416V1367H1409zM1653 1363H1657V1367H1653zM1442 1367H1446V1371H1442zM1468 1367H1472V1371H1468zM1527 1367H1531V1371H1527zM1461 1367H1464V1371H1461zM1464 1371H1468V1375H1464zM1387 1371H1390V1375H1387zM1424 1371H1427V1375H1424zM1535 1371H1539V1375H1535zM1416 1371H1420V1375H1416zM1520 1371H1527V1375H1520zM1457 1371H1461V1379H1457zM1509 1375H1516V1379H1509zM1450 1375H1453V1379H1450zM1502 1375H1505V1379H1502zM1520 1375H1539V1379H1520zM1420 1375H1424V1379H1420zM1550 1375H1553V1379H1550zM1405 1375H1409V1384H1405zM1524 1379H1527V1384H1524zM1453 1379H1457V1384H1453zM1502 1379H1513V1384H1502zM1635 1379H1639V1384H1635zM1531 1379H1535V1384H1531zM1416 1379H1420V1384H1416zM1346 1379H1350V1384H1346zM1439 1375H1442V1388H1439zM1431 1379H1435V1388H1431zM1450 1384H1453V1388H1450zM1401 1384H1416V1388H1401zM1498 1384H1509V1388H1498zM1542 1384H1546V1388H1542zM1390 1384H1394V1388H1390zM1520 1384H1527V1388H1520zM1387 1388H1398V1392H1387zM1513 1388H1520V1392H1513zM1505 1388H1509V1396H1505zM1383 1392H1394V1396H1383zM1435 1392H1439V1396H1435zM1527 1392H1531V1396H1527zM1409 1392H1416V1396H1409zM1513 1392H1516V1396H1513zM1372 1392H1375V1396H1372zM1490 1396H1494V1401H1490zM1498 1396H1502V1401H1498zM1505 1396H1513V1401H1505zM1435 1396H1446V1401H1435zM1405 1396H1409V1401H1405zM1390 1396H1394V1401H1390zM1401 1401H1409V1405H1401zM1431 1401H1439V1405H1431zM1494 1401H1498V1405H1494zM1416 1401H1427V1405H1416zM1364 1401H1368V1405H1364zM1372 1401H1375V1405H1372zM1387 1401H1394V1405H1387zM1505 1401H1516V1405H1505zM1524 1405H1527V1409H1524zM1420 1405H1427V1409H1420zM1401 1405H1405V1409H1401zM1579 1405H1583V1409H1579zM1439 1405H1453V1409H1439zM1479 1405H1483V1409H1479zM1502 1405H1505V1409H1502zM1387 1405H1390V1413H1387zM1368 1405H1372V1413H1368zM1483 1409H1487V1413H1483zM1520 1409H1524V1413H1520zM1413 1409H1416V1413H1413zM1446 1409H1453V1413H1446zM1468 1409H1472V1413H1468zM1694 1409H1698V1413H1694zM1420 1409H1439V1413H1420zM1457 1409H1461V1413H1457zM1505 1409H1509V1413H1505zM1405 1409H1409V1413H1405zM1479 1413H1490V1417H1479zM1457 1413H1464V1417H1457zM1494 1413H1498V1417H1494zM1579 1413H1583V1417H1579zM1342 1413H1346V1417H1342zM1702 1413H1705V1417H1702zM1424 1413H1439V1417H1424zM1509 1413H1513V1417H1509zM1516 1413H1524V1417H1516zM1502 1413H1505V1417H1502zM1409 1413H1416V1422H1409zM1464 1417H1468V1422H1464zM1420 1417H1427V1422H1420zM1490 1417H1502V1422H1490zM1439 1417H1442V1422H1439zM1472 1417H1487V1422H1472zM1361 1417H1364V1422H1361zM1468 1422H1476V1426H1468zM1691 1422H1694V1426H1691zM1698 1422H1702V1426H1698zM1368 1422H1372V1426H1368zM1502 1422H1509V1426H1502zM1442 1422H1450V1426H1442zM1383 1422H1387V1426H1383zM1390 1422H1394V1426H1390zM1516 1422H1520V1426H1516zM1375 1422H1379V1430H1375zM1490 1422H1498V1430H1490zM1464 1426H1468V1430H1464zM1691 1426H1698V1430H1691zM1572 1426H1579V1430H1572zM1409 1426H1416V1430H1409zM1505 1426H1509V1430H1505zM1709 1426H1713V1430H1709zM1420 1426H1424V1430H1420zM1350 1426H1353V1430H1350zM1472 1426H1483V1430H1472zM1557 1430H1561V1434H1557zM1691 1430H1694V1434H1691zM1698 1430H1702V1434H1698zM1387 1430H1390V1434H1387zM1650 1430H1657V1434H1650zM1350 1430H1357V1434H1350zM1468 1430H1483V1434H1468zM1487 1430H1498V1434H1487zM1502 1430H1509V1434H1502zM1372 1430H1375V1434H1372zM1361 1430H1364V1434H1361zM1409 1430H1413V1434H1409zM1416 1430H1420V1434H1416zM1461 1434H1468V1439H1461zM1472 1434H1479V1439H1472zM1487 1434H1490V1439H1487zM1398 1434H1401V1439H1398zM1531 1434H1535V1439H1531zM1653 1434H1657V1439H1653zM1665 1434H1672V1439H1665zM1416 1434H1424V1439H1416zM1709 1434H1713V1439H1709zM1453 1430H1457V1443H1453zM1442 1430H1446V1443H1442zM1379 1434H1383V1443H1379zM1350 1434H1353V1443H1350zM1357 1434H1361V1443H1357zM1427 1439H1435V1443H1427zM1413 1439H1416V1443H1413zM1665 1439H1668V1443H1665zM1468 1439H1472V1443H1468zM1698 1439H1702V1443H1698zM1705 1439H1713V1443H1705zM1405 1439H1409V1443H1405zM1394 1439H1401V1443H1394zM1476 1439H1490V1443H1476zM1487 1443H1490V1447H1487zM1650 1443H1653V1447H1650zM1676 1443H1683V1447H1676zM1691 1443H1694V1447H1691zM1316 1443H1320V1447H1316zM1409 1443H1416V1447H1409zM1709 1443H1713V1447H1709zM1420 1443H1424V1447H1420zM1335 1443H1338V1447H1335zM1657 1443H1661V1447H1657zM1439 1443H1442V1451H1439zM1379 1447H1383V1451H1379zM1665 1447H1668V1451H1665zM1490 1447H1502V1451H1490zM1398 1447H1401V1451H1398zM1312 1447H1316V1451H1312zM1431 1447H1435V1451H1431zM1479 1447H1483V1451H1479zM1361 1447H1364V1451H1361zM1713 1447H1717V1451H1713zM1346 1447H1350V1451H1346zM1413 1447H1416V1455H1413zM1390 1451H1405V1455H1390zM1375 1451H1383V1455H1375zM1487 1451H1490V1455H1487zM1431 1451H1439V1455H1431zM1494 1451H1498V1455H1494zM1631 1451H1635V1455H1631zM1361 1451H1368V1455H1361zM1687 1451H1691V1455H1687zM1335 1451H1342V1455H1335zM1709 1451H1717V1455H1709zM1527 1451H1531V1455H1527zM1476 1451H1483V1455H1476zM1668 1451H1672V1455H1668zM1642 1451H1646V1455H1642zM1427 1455H1435V1460H1427zM1476 1455H1479V1460H1476zM1483 1455H1487V1460H1483zM1494 1455H1502V1460H1494zM1398 1455H1405V1460H1398zM1372 1455H1390V1460H1372zM1713 1455H1720V1460H1713zM1705 1455H1709V1460H1705zM1361 1455H1364V1460H1361zM1335 1455H1338V1460H1335zM1457 1455H1468V1460H1457zM1401 1460H1409V1464H1401zM1435 1460H1442V1464H1435zM1464 1460H1468V1464H1464zM1427 1460H1431V1464H1427zM1387 1460H1390V1464H1387zM1694 1460H1698V1464H1694zM1364 1460H1368V1464H1364zM1483 1460H1494V1464H1483zM1509 1460H1513V1464H1509zM1705 1460H1713V1464H1705zM1683 1460H1687V1464H1683zM1453 1460H1461V1464H1453zM1338 1460H1350V1464H1338zM1416 1460H1420V1464H1416zM1498 1460H1505V1464H1498zM1717 1460H1720V1468H1717zM1353 1460H1357V1468H1353zM1375 1460H1379V1468H1375zM1450 1464H1453V1468H1450zM1490 1464H1498V1468H1490zM1705 1464H1709V1468H1705zM1409 1464H1413V1468H1409zM1642 1464H1646V1468H1642zM1702 1468H1705V1472H1702zM1661 1468H1665V1472H1661zM1472 1468H1476V1472H1472zM1372 1468H1375V1472H1372zM1487 1468H1494V1472H1487zM1446 1468H1450V1476H1446zM1653 1468H1657V1476H1653zM1364 1472H1372V1476H1364zM1398 1472H1401V1476H1398zM1457 1472H1461V1476H1457zM1483 1472H1487V1481H1483zM1713 1472H1717V1481H1713zM1431 1476H1439V1481H1431zM1394 1476H1398V1481H1394zM1401 1476H1405V1481H1401zM1702 1476H1705V1481H1702zM1628 1476H1631V1481H1628zM1413 1476H1424V1481H1413zM1453 1476H1461V1481H1453zM1379 1476H1387V1481H1379zM1468 1472H1476V1485H1468zM1524 1481H1527V1485H1524zM1413 1481H1427V1485H1413zM1694 1481H1698V1485H1694zM1398 1481H1401V1485H1398zM1453 1481H1464V1485H1453zM1446 1481H1450V1485H1446zM1479 1481H1483V1485H1479zM1635 1481H1639V1489H1635zM1698 1485H1705V1489H1698zM1691 1485H1694V1489H1691zM1413 1485H1416V1489H1413zM1527 1485H1531V1489H1527zM1624 1485H1628V1489H1624zM1472 1485H1476V1489H1472zM1372 1485H1375V1489H1372zM1405 1485H1409V1489H1405zM1383 1485H1387V1489H1383zM1457 1485H1468V1489H1457zM1657 1485H1661V1489H1657zM1420 1485H1424V1489H1420zM1450 1485H1453V1493H1450zM1335 1485H1338V1493H1335zM1498 1489H1502V1493H1498zM1379 1489H1383V1493H1379zM1394 1489H1398V1493H1394zM1631 1489H1635V1493H1631zM1698 1489H1702V1493H1698zM1361 1489H1368V1493H1361zM1461 1489H1476V1493H1461zM1350 1489H1357V1493H1350zM1416 1489H1420V1493H1416zM1616 1489H1620V1493H1616zM1483 1489H1487V1498H1483zM1490 1493H1494V1498H1490zM1705 1493H1709V1498H1705zM1694 1493H1702V1498H1694zM1398 1493H1401V1498H1398zM1383 1493H1390V1498H1383zM1431 1493H1435V1498H1431zM1609 1493H1616V1498H1609zM1420 1493H1424V1498H1420zM1346 1493H1353V1498H1346zM1357 1493H1361V1498H1357zM1613 1498H1616V1502H1613zM1602 1498H1609V1502H1602zM1420 1498H1427V1502H1420zM1342 1498H1346V1502H1342zM1487 1498H1498V1502H1487zM1479 1498H1483V1502H1479zM1405 1498H1409V1502H1405zM1442 1498H1446V1502H1442zM1694 1498H1698V1506H1694zM1350 1498H1353V1506H1350zM1398 1502H1405V1506H1398zM1427 1502H1431V1506H1427zM1368 1502H1372V1506H1368zM1375 1502H1379V1506H1375zM1457 1502H1461V1506H1457zM1483 1502H1490V1506H1483zM1616 1502H1624V1506H1616zM1420 1502H1424V1506H1420zM1602 1502H1613V1506H1602zM1516 1502H1520V1506H1516zM1494 1502H1498V1510H1494zM1420 1506H1431V1510H1420zM1468 1506H1476V1510H1468zM1457 1506H1464V1510H1457zM1694 1506H1702V1510H1694zM1364 1506H1372V1510H1364zM1635 1506H1639V1510H1635zM1338 1506H1342V1510H1338zM1598 1506H1602V1510H1598zM1609 1506H1616V1510H1609zM1346 1506H1353V1514H1346zM1490 1510H1494V1514H1490zM1401 1510H1409V1514H1401zM1464 1510H1468V1514H1464zM1557 1510H1561V1514H1557zM1361 1510H1364V1514H1361zM1427 1510H1431V1514H1427zM1372 1510H1379V1514H1372zM1602 1510H1609V1514H1602zM1676 1510H1679V1514H1676zM1565 1510H1568V1514H1565zM1613 1510H1628V1514H1613zM1453 1510H1461V1514H1453zM1483 1510H1487V1519H1483zM1312 1510H1316V1519H1312zM1416 1510H1420V1519H1416zM1320 1514H1324V1519H1320zM1628 1514H1635V1519H1628zM1379 1514H1383V1519H1379zM1561 1514H1572V1519H1561zM1583 1514H1587V1519H1583zM1342 1514H1346V1519H1342zM1450 1514H1461V1519H1450zM1502 1514H1509V1519H1502zM1490 1514H1498V1519H1490zM1602 1514H1613V1519H1602zM1350 1514H1353V1519H1350zM1398 1514H1409V1519H1398zM1590 1510H1594V1523H1590zM1498 1519H1502V1523H1498zM1398 1519H1405V1523H1398zM1679 1519H1683V1523H1679zM1668 1519H1672V1523H1668zM1442 1519H1461V1523H1442zM1409 1519H1413V1523H1409zM1324 1519H1327V1523H1324zM1331 1519H1335V1527H1331zM1483 1523H1487V1527H1483zM1457 1523H1461V1527H1457zM1446 1523H1450V1527H1446zM1405 1523H1409V1527H1405zM1420 1523H1424V1527H1420zM1361 1523H1364V1527H1361zM1383 1523H1387V1527H1383zM1413 1523H1416V1531H1413zM1368 1527H1372V1531H1368zM1487 1527H1498V1531H1487zM1301 1527H1305V1531H1301zM1357 1527H1364V1531H1357zM1394 1523H1401V1536H1394zM1490 1531H1494V1536H1490zM1464 1531H1468V1536H1464zM1387 1531H1390V1536H1387zM1361 1531H1375V1536H1361zM1413 1531H1420V1536H1413zM1657 1531H1661V1536H1657zM1450 1531H1457V1540H1450zM1483 1536H1487V1540H1483zM1461 1536H1464V1540H1461zM1653 1536H1661V1540H1653zM1372 1536H1375V1540H1372zM1442 1536H1446V1540H1442zM1350 1536H1353V1540H1350zM1383 1536H1398V1540H1383zM1379 1540H1387V1544H1379zM1394 1540H1401V1544H1394zM1427 1540H1435V1544H1427zM1357 1540H1364V1544H1357zM1427 1544H1431V1548H1427zM1372 1544H1379V1548H1372zM1387 1544H1390V1548H1387zM1461 1544H1464V1548H1461zM1653 1544H1657V1548H1653zM1439 1544H1442V1548H1439zM1350 1544H1353V1548H1350zM1424 1548H1427V1552H1424zM1431 1548H1435V1552H1431zM1635 1548H1639V1552H1635zM1439 1552H1446V1557H1439zM1413 1552H1416V1557H1413zM1427 1552H1431V1557H1427zM1368 1552H1379V1557H1368zM1453 1552H1457V1561H1453zM1424 1557H1427V1561H1424zM1338 1557H1342V1561H1338zM1431 1557H1446V1561H1431zM1405 1557H1409V1561H1405zM1398 1552H1401V1565H1398zM1357 1557H1361V1565H1357zM1364 1561H1368V1565H1364zM1420 1561H1435V1565H1420zM1372 1561H1375V1565H1372zM1646 1561H1650V1565H1646zM1350 1561H1353V1569H1350zM1424 1565H1442V1569H1424zM1390 1565H1394V1569H1390zM1379 1565H1383V1569H1379zM1453 1569H1457V1574H1453zM1427 1569H1431V1574H1427zM1394 1569H1398V1574H1394zM1368 1569H1372V1574H1368zM1420 1569H1424V1574H1420zM1346 1569H1353V1574H1346zM1646 1569H1650V1574H1646zM1442 1569H1450V1578H1442zM1413 1574H1416V1578H1413zM1364 1574H1372V1578H1364zM1631 1574H1635V1578H1631zM1342 1574H1346V1578H1342zM1424 1574H1427V1578H1424zM1609 1574H1613V1578H1609zM1442 1578H1453V1582H1442zM1427 1578H1439V1582H1427zM1401 1578H1413V1582H1401zM1368 1578H1375V1582H1368zM1620 1578H1624V1582H1620zM1405 1582H1413V1586H1405zM1416 1582H1420V1586H1416zM1368 1582H1379V1586H1368zM1427 1582H1431V1590H1427zM1338 1586H1346V1590H1338zM1398 1586H1401V1590H1398zM1439 1586H1442V1590H1439zM1539 1586H1542V1590H1539zM1405 1586H1409V1590H1405zM1550 1586H1553V1590H1550zM1450 1590H1453V1595H1450zM1620 1595H1631V1599H1620zM1375 1595H1379V1599H1375zM1398 1595H1413V1599H1398zM1439 1595H1442V1599H1439zM1383 1595H1390V1599H1383zM1431 1595H1435V1599H1431zM1453 1595H1457V1603H1453zM1613 1595H1616V1603H1613zM1375 1599H1383V1603H1375zM1387 1599H1390V1603H1387zM1435 1599H1439V1603H1435zM1398 1599H1401V1603H1398zM1405 1599H1409V1603H1405zM1413 1599H1420V1603H1413zM1620 1599H1624V1603H1620zM1628 1599H1631V1607H1628zM1550 1599H1553V1607H1550zM1416 1603H1424V1607H1416zM1353 1603H1361V1611H1353zM1557 1607H1561V1611H1557zM1413 1607H1416V1611H1413zM1420 1607H1439V1611H1420zM1587 1607H1594V1616H1587zM1409 1611H1420V1616H1409zM1424 1611H1442V1616H1424zM1598 1611H1602V1616H1598zM1457 1611H1461V1616H1457zM1383 1611H1390V1616H1383zM1446 1611H1450V1616H1446zM1568 1611H1579V1616H1568zM1576 1616H1583V1620H1576zM1587 1616H1590V1620H1587zM1424 1616H1427V1620H1424zM1598 1616H1605V1620H1598zM1561 1616H1565V1620H1561zM1383 1616H1387V1620H1383zM1390 1616H1394V1620H1390zM1416 1616H1420V1620H1416zM1431 1616H1442V1620H1431zM1427 1620H1435V1624H1427zM1590 1620H1594V1624H1590zM1394 1620H1398V1624H1394zM1579 1620H1583V1624H1579zM1331 1620H1335V1624H1331zM1568 1620H1572V1624H1568zM1439 1620H1442V1624H1439zM1416 1620H1424V1624H1416zM1405 1620H1409V1624H1405zM1602 1620H1605V1628H1602zM1594 1624H1598V1628H1594zM1350 1624H1357V1628H1350zM1401 1624H1413V1628H1401zM1583 1624H1590V1628H1583zM1442 1624H1446V1628H1442zM1416 1624H1420V1628H1416zM1561 1624H1565V1628H1561zM1401 1628H1405V1633H1401zM1409 1628H1413V1633H1409zM1598 1628H1605V1633H1598zM1557 1633H1561V1637H1557zM1394 1633H1405V1637H1394zM1590 1633H1605V1637H1590zM1379 1637H1390V1641H1379zM1561 1637H1565V1641H1561zM1594 1637H1605V1641H1594zM1401 1641H1405V1645H1401zM1387 1641H1394V1645H1387zM1557 1641H1568V1645H1557zM1583 1641H1587V1645H1583zM1587 1645H1594V1649H1587zM1513 1645H1516V1649H1513zM1379 1645H1387V1649H1379zM1416 1645H1420V1649H1416zM1409 1645H1413V1654H1409zM1513 1649H1524V1654H1513zM1527 1649H1535V1654H1527zM1401 1649H1405V1654H1401zM1583 1649H1587V1654H1583zM1416 1649H1424V1658H1416zM1568 1649H1576V1658H1568zM1476 1654H1479V1658H1476zM1498 1654H1502V1658H1498zM1435 1654H1439V1658H1435zM1516 1654H1527V1658H1516zM1535 1654H1539V1658H1535zM1561 1654H1565V1658H1561zM1390 1654H1394V1658H1390zM1550 1654H1553V1658H1550zM1542 1658H1550V1662H1542zM1427 1658H1431V1662H1427zM1494 1658H1498V1662H1494zM1468 1658H1483V1662H1468zM1450 1658H1457V1662H1450zM1435 1658H1446V1662H1435zM1420 1658H1424V1662H1420zM1553 1658H1561V1662H1553zM1524 1658H1531V1666H1524zM1461 1662H1468V1666H1461zM1453 1662H1457V1666H1453zM1565 1662H1568V1666H1565zM1490 1662H1498V1666H1490zM1439 1662H1450V1666H1439zM1472 1662H1476V1671H1472zM1490 1666H1494V1671H1490zM1450 1666H1453V1671H1450zM1546 1666H1550V1671H1546zM1420 1666H1427V1671H1420zM1375 1666H1379V1671H1375zM1457 1666H1461V1671H1457zM1502 1666H1505V1671H1502zM1524 1671H1527V1675H1524zM1483 1671H1487V1675H1483zM1502 1671H1509V1675H1502zM1539 1671H1542V1675H1539zM1372 1671H1375V1675H1372zM1442 1671H1446V1675H1442zM1450 1675H1453V1679H1450zM1461 1675H1464V1679H1461zM1498 1675H1509V1679H1498zM1409 1675H1416V1679H1409zM1431 1675H1435V1679H1431zM1483 1675H1490V1679H1483zM1513 1675H1516V1679H1513zM1439 1675H1442V1683H1439zM1413 1679H1424V1683H1413zM1464 1679H1468V1683H1464zM1479 1679H1483V1683H1479zM1461 1683H1464V1687H1461zM1494 1683H1498V1687H1494zM1435 1683H1439V1687H1435zM1424 1683H1427V1687H1424zM1483 1683H1490V1687H1483zM1490 1687H1494V1692H1490zM1498 1687H1502V1692H1498zM1431 1687H1435V1692H1431zM1472 1687H1483V1692H1472zM1405 1683H1409V1696H1405zM1413 1687H1416V1696H1413zM1450 1692H1453V1696H1450zM1427 1692H1431V1696H1427zM1509 1692H1524V1696H1509zM1513 1696H1516V1700H1513zM1442 1700H1446V1704H1442zM1527 1696H1531V1709H1527zM1476 1704H1479V1709H1476zM1483 1704H1487V1709H1483zM1413 1704H1416V1709H1413zM1435 1704H1439V1709H1435zM1427 1700H1431V1713H1427zM1446 1704H1450V1713H1446zM1464 1709H1476V1713H1464zM1516 1709H1520V1717H1516zM1413 1713H1416V1717H1413zM1479 1713H1487V1717H1479zM1457 1713H1461V1717H1457zM1424 1713H1427V1721H1424zM1472 1717H1476V1721H1472zM1494 1717H1498V1725H1494zM1446 1717H1453V1725H1446zM1420 1721H1424V1725H1420zM1476 1721H1479V1730H1476zM1490 1725H1494V1730H1490zM1446 1725H1450V1730H1446zM1416 1725H1420V1730H1416zM1483 1725H1487V1734H1483zM1431 1725H1435V1734H1431zM1413 1730H1420V1734H1413zM1461 1730H1476V1734H1461zM1494 1734H1502V1738H1494zM1442 1734H1446V1738H1442zM1431 1734H1439V1738H1431zM1487 1738H1490V1742H1487zM1453 1738H1457V1742H1453zM1457 1742H1472V1746H1457zM1450 1742H1453V1746H1450zM1427 1742H1431V1746H1427zM1464 1746H1472V1751H1464zM1461 1751H1468V1755H1461zM1424 1751H1427V1755H1424zM1424 1755H1431V1759H1424zM1097 1759H1101V1763H1097zM1431 1759H1439V1763H1431zM1083 1763H1086V1768H1083zM1090 1763H1094V1768H1090zM1279 1763H1287V1768H1279zM1316 1763H1320V1768H1316zM1257 1763H1261V1768H1257zM1264 1763H1275V1768H1264zM1309 1763H1312V1768H1309zM1331 1768H1338V1772H1331zM1116 1768H1120V1772H1116zM1249 1768H1257V1772H1249zM1294 1768H1301V1772H1294zM1346 1768H1350V1772H1346zM1294 1772H1298V1776H1294zM1342 1772H1346V1776H1342zM1305 1772H1309V1776H1305zM1101 1772H1105V1776H1101zM1253 1772H1261V1776H1253zM1120 1772H1123V1776H1120zM1257 1776H1264V1780H1257zM1290 1776H1298V1780H1290zM1101 1776H1109V1780H1101zM1116 1776H1120V1780H1116zM1305 1776H1312V1780H1305zM1272 1776H1275V1780H1272zM1279 1776H1283V1780H1279zM1324 1776H1327V1780H1324zM1120 1780H1123V1784H1120zM1116 1789H1120V1793H1116zM1123 1789H1127V1793H1123zM1120 1793H1123V1797H1120zM1116 1797H1120V1801H1116z"/>
<path fill="#481d6f" d="M1531 1278H1535V1282H1531zM1520 1278H1524V1282H1520zM1539 1278H1542V1282H1539zM1505 1278H1509V1287H1505zM1490 1282H1494V1287H1490zM1498 1282H1502V1287H1498zM1628 1282H1635V1287H1628zM1513 1282H1516V1287H1513zM1520 1287H1524V1291H1520zM1527 1287H1531V1291H1527zM1539 1287H1542V1291H1539zM1502 1287H1505V1291H1502zM1631 1287H1639V1291H1631zM1546 1291H1550V1295H1546zM1535 1291H1539V1295H1535zM1620 1291H1628V1295H1620zM1502 1291H1509V1295H1502zM1513 1291H1527V1295H1513zM1572 1291H1576V1295H1572zM1516 1295H1520V1299H1516zM1639 1295H1642V1299H1639zM1505 1295H1509V1299H1505zM1646 1295H1650V1299H1646zM1535 1295H1542V1299H1535zM1539 1299H1542V1304H1539zM1616 1304H1620V1312H1616zM1653 1308H1657V1312H1653zM1598 1308H1613V1312H1598zM1598 1312H1602V1316H1598zM1616 1316H1620V1320H1616zM1650 1320H1657V1325H1650zM1590 1320H1594V1325H1590zM1572 1325H1576V1329H1572zM1653 1325H1657V1329H1653zM1587 1329H1590V1333H1587zM1624 1329H1628V1333H1624zM1568 1329H1576V1333H1568zM1579 1320H1583V1337H1579zM1594 1333H1598V1337H1594zM1628 1333H1631V1337H1628zM1646 1333H1650V1337H1646zM1565 1333H1576V1337H1565zM1561 1337H1565V1341H1561zM1557 1341H1561V1346H1557zM1657 1341H1661V1346H1657zM1557 1346H1565V1350H1557zM1535 1346H1539V1350H1535zM1650 1346H1653V1350H1650zM1653 1350H1657V1354H1653zM1546 1350H1550V1354H1546zM1427 1350H1431V1354H1427zM1650 1354H1653V1358H1650zM1579 1354H1587V1358H1579zM1527 1354H1531V1358H1527zM1550 1354H1553V1358H1550zM1579 1358H1583V1363H1579zM1539 1358H1542V1363H1539zM1553 1358H1557V1363H1553zM1639 1363H1642V1367H1639zM1539 1363H1550V1367H1539zM1542 1367H1550V1371H1542zM1524 1367H1527V1371H1524zM1531 1367H1535V1371H1531zM1650 1363H1653V1375H1650zM1553 1367H1557V1375H1553zM1527 1371H1531V1375H1527zM1409 1375H1416V1384H1409zM1535 1379H1539V1384H1535zM1520 1379H1524V1384H1520zM1579 1384H1583V1388H1579zM1516 1384H1520V1388H1516zM1527 1379H1531V1392H1527zM1520 1388H1524V1392H1520zM1409 1388H1413V1392H1409zM1509 1388H1513V1396H1509zM1539 1388H1542V1396H1539zM1401 1392H1405V1396H1401zM1516 1392H1524V1396H1516zM1598 1396H1602V1401H1598zM1513 1396H1516V1401H1513zM1461 1396H1464V1401H1461zM1631 1401H1635V1405H1631zM1427 1401H1431V1405H1427zM1368 1401H1372V1405H1368zM1516 1401H1520V1405H1516zM1453 1401H1457V1409H1453zM1490 1405H1494V1409H1490zM1509 1405H1516V1409H1509zM1464 1405H1468V1409H1464zM1583 1405H1587V1409H1583zM1539 1409H1542V1413H1539zM1576 1409H1579V1413H1576zM1509 1409H1513V1413H1509zM1531 1413H1535V1417H1531zM1442 1413H1450V1417H1442zM1505 1413H1509V1417H1505zM1565 1413H1568V1417H1565zM1550 1413H1553V1417H1550zM1691 1413H1694V1422H1691zM1616 1413H1620V1422H1616zM1524 1417H1527V1422H1524zM1509 1417H1513V1422H1509zM1539 1417H1542V1422H1539zM1642 1417H1646V1422H1642zM1546 1417H1550V1426H1546zM1416 1417H1420V1426H1416zM1579 1422H1583V1426H1579zM1587 1422H1590V1426H1587zM1479 1422H1483V1426H1479zM1553 1426H1557V1430H1553zM1531 1426H1535V1430H1531zM1483 1426H1490V1430H1483zM1642 1426H1650V1430H1642zM1702 1430H1705V1434H1702zM1694 1430H1698V1434H1694zM1424 1426H1427V1439H1424zM1490 1434H1494V1439H1490zM1483 1434H1487V1439H1483zM1691 1434H1705V1439H1691zM1650 1434H1653V1439H1650zM1387 1434H1390V1439H1387zM1368 1434H1372V1439H1368zM1672 1434H1679V1439H1672zM1568 1434H1572V1439H1568zM1505 1434H1509V1439H1505zM1657 1434H1665V1439H1657zM1642 1434H1646V1439H1642zM1450 1439H1453V1443H1450zM1498 1439H1502V1443H1498zM1646 1439H1657V1443H1646zM1702 1439H1705V1443H1702zM1694 1439H1698V1443H1694zM1509 1439H1513V1443H1509zM1472 1439H1476V1443H1472zM1668 1439H1672V1443H1668zM1364 1439H1375V1443H1364zM1679 1439H1683V1443H1679zM1383 1439H1390V1447H1383zM1698 1443H1705V1447H1698zM1557 1443H1561V1447H1557zM1483 1443H1487V1447H1483zM1661 1443H1668V1447H1661zM1364 1443H1368V1447H1364zM1635 1443H1639V1447H1635zM1446 1443H1450V1447H1446zM1646 1443H1650V1447H1646zM1572 1443H1576V1447H1572zM1653 1443H1657V1447H1653zM1498 1443H1505V1447H1498zM1424 1443H1435V1447H1424zM1713 1443H1717V1447H1713zM1550 1443H1553V1447H1550zM1453 1443H1457V1451H1453zM1338 1443H1342V1451H1338zM1683 1443H1687V1451H1683zM1476 1447H1479V1451H1476zM1646 1447H1657V1451H1646zM1487 1447H1490V1451H1487zM1368 1447H1372V1451H1368zM1661 1447H1665V1451H1661zM1672 1447H1676V1451H1672zM1691 1447H1713V1451H1691zM1502 1447H1505V1451H1502zM1561 1447H1565V1451H1561zM1427 1447H1431V1455H1427zM1416 1447H1420V1455H1416zM1509 1451H1513V1455H1509zM1694 1451H1709V1455H1694zM1439 1451H1442V1455H1439zM1372 1451H1375V1455H1372zM1646 1451H1650V1455H1646zM1676 1451H1687V1455H1676zM1691 1455H1694V1460H1691zM1698 1455H1702V1460H1698zM1639 1455H1642V1460H1639zM1672 1455H1676V1460H1672zM1502 1455H1505V1460H1502zM1390 1455H1394V1460H1390zM1657 1455H1661V1460H1657zM1650 1455H1653V1464H1650zM1479 1455H1483V1464H1479zM1687 1460H1691V1464H1687zM1424 1460H1427V1464H1424zM1505 1460H1509V1464H1505zM1668 1460H1672V1464H1668zM1357 1460H1364V1464H1357zM1442 1460H1446V1464H1442zM1639 1460H1646V1464H1639zM1516 1460H1520V1464H1516zM1479 1464H1490V1468H1479zM1698 1464H1705V1468H1698zM1498 1464H1502V1468H1498zM1691 1464H1694V1468H1691zM1427 1464H1431V1468H1427zM1639 1464H1642V1468H1639zM1413 1464H1424V1468H1413zM1539 1464H1542V1468H1539zM1446 1464H1450V1468H1446zM1513 1464H1516V1468H1513zM1676 1464H1679V1472H1676zM1494 1468H1502V1472H1494zM1709 1468H1717V1472H1709zM1665 1468H1668V1472H1665zM1479 1468H1487V1472H1479zM1691 1468H1702V1472H1691zM1657 1468H1661V1472H1657zM1383 1464H1387V1476H1383zM1413 1468H1416V1476H1413zM1405 1468H1409V1476H1405zM1476 1472H1479V1476H1476zM1439 1472H1446V1476H1439zM1394 1472H1398V1476H1394zM1694 1472H1713V1476H1694zM1661 1472H1665V1476H1661zM1487 1472H1498V1476H1487zM1668 1472H1672V1476H1668zM1642 1472H1646V1476H1642zM1424 1472H1435V1476H1424zM1620 1472H1624V1476H1620zM1372 1476H1379V1481H1372zM1605 1476H1609V1481H1605zM1687 1476H1691V1481H1687zM1613 1476H1620V1481H1613zM1694 1476H1698V1481H1694zM1705 1476H1713V1481H1705zM1476 1476H1483V1481H1476zM1409 1476H1413V1481H1409zM1390 1476H1394V1481H1390zM1487 1476H1494V1481H1487zM1439 1476H1442V1485H1439zM1476 1481H1479V1485H1476zM1494 1481H1502V1485H1494zM1691 1481H1694V1485H1691zM1375 1481H1379V1485H1375zM1628 1481H1631V1485H1628zM1676 1481H1679V1485H1676zM1483 1481H1490V1485H1483zM1709 1481H1713V1485H1709zM1616 1481H1624V1485H1616zM1490 1485H1494V1489H1490zM1498 1485H1502V1489H1498zM1628 1485H1635V1489H1628zM1661 1485H1668V1489H1661zM1379 1485H1383V1489H1379zM1427 1485H1431V1489H1427zM1468 1485H1472V1489H1468zM1687 1485H1691V1489H1687zM1705 1485H1713V1489H1705zM1598 1485H1602V1489H1598zM1620 1485H1624V1489H1620zM1694 1485H1698V1493H1694zM1446 1485H1450V1493H1446zM1620 1489H1631V1493H1620zM1476 1489H1483V1493H1476zM1453 1489H1461V1493H1453zM1609 1489H1616V1493H1609zM1487 1489H1494V1493H1487zM1650 1481H1653V1498H1650zM1424 1489H1431V1498H1424zM1435 1489H1439V1498H1435zM1405 1489H1409V1498H1405zM1413 1493H1416V1498H1413zM1494 1493H1498V1498H1494zM1702 1493H1705V1498H1702zM1461 1493H1476V1498H1461zM1676 1493H1679V1498H1676zM1602 1493H1605V1498H1602zM1442 1493H1450V1498H1442zM1368 1493H1379V1498H1368zM1479 1493H1483V1498H1479zM1616 1493H1624V1498H1616zM1587 1493H1590V1498H1587zM1635 1489H1639V1502H1635zM1483 1498H1487V1502H1483zM1498 1498H1502V1502H1498zM1453 1498H1457V1502H1453zM1372 1498H1379V1502H1372zM1628 1498H1631V1502H1628zM1398 1498H1401V1502H1398zM1416 1498H1420V1502H1416zM1609 1498H1613V1502H1609zM1461 1502H1468V1506H1461zM1683 1502H1694V1506H1683zM1698 1502H1702V1506H1698zM1342 1502H1346V1506H1342zM1442 1502H1450V1506H1442zM1353 1502H1364V1506H1353zM1476 1502H1483V1506H1476zM1590 1502H1602V1506H1590zM1657 1502H1665V1510H1657zM1453 1506H1457V1510H1453zM1379 1506H1383V1510H1379zM1394 1506H1398V1510H1394zM1687 1506H1691V1510H1687zM1594 1506H1598V1510H1594zM1624 1506H1628V1510H1624zM1439 1506H1442V1510H1439zM1446 1506H1450V1510H1446zM1479 1506H1483V1510H1479zM1353 1506H1361V1510H1353zM1616 1506H1620V1510H1616zM1516 1506H1520V1510H1516zM1609 1510H1613V1514H1609zM1628 1510H1635V1514H1628zM1472 1510H1479V1514H1472zM1431 1510H1439V1514H1431zM1594 1510H1602V1514H1594zM1498 1510H1509V1514H1498zM1379 1510H1390V1514H1379zM1442 1510H1450V1514H1442zM1561 1510H1565V1514H1561zM1683 1510H1687V1514H1683zM1572 1510H1576V1514H1572zM1357 1510H1361V1514H1357zM1413 1506H1416V1519H1413zM1487 1514H1490V1519H1487zM1594 1514H1598V1519H1594zM1572 1514H1579V1519H1572zM1620 1514H1628V1519H1620zM1509 1514H1513V1519H1509zM1476 1514H1483V1519H1476zM1353 1514H1361V1519H1353zM1383 1514H1387V1519H1383zM1672 1514H1687V1519H1672zM1613 1514H1616V1523H1613zM1461 1519H1464V1523H1461zM1394 1519H1398V1523H1394zM1568 1519H1572V1523H1568zM1624 1519H1628V1523H1624zM1490 1519H1498V1523H1490zM1439 1519H1442V1523H1439zM1587 1519H1590V1523H1587zM1590 1523H1594V1527H1590zM1453 1523H1457V1527H1453zM1602 1523H1609V1527H1602zM1424 1523H1439V1527H1424zM1487 1523H1498V1527H1487zM1668 1523H1672V1527H1668zM1572 1523H1576V1527H1572zM1642 1523H1646V1527H1642zM1616 1523H1620V1527H1616zM1427 1527H1431V1531H1427zM1435 1527H1439V1531H1435zM1450 1527H1461V1531H1450zM1665 1527H1672V1531H1665zM1476 1527H1483V1531H1476zM1646 1527H1650V1531H1646zM1390 1527H1394V1531H1390zM1657 1527H1661V1531H1657zM1405 1527H1413V1536H1405zM1476 1531H1479V1536H1476zM1487 1531H1490V1536H1487zM1639 1531H1642V1536H1639zM1435 1531H1450V1536H1435zM1457 1531H1461V1536H1457zM1653 1531H1657V1536H1653zM1350 1531H1353V1536H1350zM1420 1531H1424V1540H1420zM1427 1536H1435V1540H1427zM1490 1536H1494V1540H1490zM1464 1536H1468V1540H1464zM1401 1536H1405V1540H1401zM1661 1536H1665V1540H1661zM1450 1540H1457V1544H1450zM1390 1540H1394V1544H1390zM1372 1540H1375V1544H1372zM1461 1540H1464V1544H1461zM1420 1544H1427V1548H1420zM1453 1544H1457V1548H1453zM1390 1544H1398V1548H1390zM1394 1548H1401V1552H1394zM1457 1548H1464V1552H1457zM1650 1548H1653V1552H1650zM1416 1552H1420V1557H1416zM1446 1552H1450V1557H1446zM1379 1552H1383V1557H1379zM1605 1552H1609V1561H1605zM1450 1557H1453V1561H1450zM1413 1557H1416V1561H1413zM1372 1557H1379V1561H1372zM1364 1557H1368V1561H1364zM1457 1557H1461V1561H1457zM1387 1557H1394V1561H1387zM1387 1561H1390V1565H1387zM1435 1561H1439V1565H1435zM1416 1561H1420V1565H1416zM1639 1565H1642V1569H1639zM1383 1565H1387V1569H1383zM1413 1565H1416V1569H1413zM1401 1569H1405V1574H1401zM1409 1569H1413V1574H1409zM1642 1569H1646V1574H1642zM1450 1569H1453V1578H1450zM1401 1574H1409V1578H1401zM1472 1574H1476V1578H1472zM1464 1578H1468V1582H1464zM1439 1578H1442V1582H1439zM1453 1578H1457V1582H1453zM1394 1578H1398V1582H1394zM1598 1582H1602V1586H1598zM1431 1582H1435V1586H1431zM1450 1582H1453V1590H1450zM1609 1586H1613V1590H1609zM1535 1586H1539V1590H1535zM1624 1586H1628V1590H1624zM1635 1590H1639V1595H1635zM1464 1590H1468V1595H1464zM1398 1590H1401V1595H1398zM1546 1595H1550V1599H1546zM1487 1595H1490V1599H1487zM1427 1595H1431V1599H1427zM1442 1595H1446V1599H1442zM1616 1595H1620V1599H1616zM1457 1595H1461V1603H1457zM1450 1599H1453V1603H1450zM1464 1599H1468V1603H1464zM1631 1599H1635V1603H1631zM1420 1599H1427V1603H1420zM1539 1599H1542V1603H1539zM1572 1599H1576V1603H1572zM1609 1599H1613V1603H1609zM1487 1599H1494V1603H1487zM1602 1599H1605V1607H1602zM1590 1603H1594V1607H1590zM1424 1603H1431V1607H1424zM1527 1603H1531V1607H1527zM1576 1603H1579V1607H1576zM1557 1603H1565V1607H1557zM1568 1603H1572V1611H1568zM1453 1603H1461V1611H1453zM1594 1607H1598V1611H1594zM1550 1607H1553V1611H1550zM1487 1611H1490V1616H1487zM1453 1611H1457V1616H1453zM1553 1611H1557V1616H1553zM1561 1611H1568V1616H1561zM1479 1611H1483V1616H1479zM1579 1611H1587V1616H1579zM1461 1616H1464V1620H1461zM1427 1616H1431V1620H1427zM1594 1616H1598V1620H1594zM1442 1616H1450V1620H1442zM1413 1616H1416V1624H1413zM1565 1616H1568V1624H1565zM1557 1620H1561V1624H1557zM1446 1620H1453V1624H1446zM1457 1620H1461V1624H1457zM1583 1620H1590V1624H1583zM1572 1620H1576V1624H1572zM1598 1620H1602V1628H1598zM1453 1624H1457V1628H1453zM1427 1624H1431V1628H1427zM1565 1624H1583V1628H1565zM1420 1624H1424V1628H1420zM1561 1628H1572V1633H1561zM1576 1628H1598V1633H1576zM1587 1633H1590V1637H1587zM1413 1633H1416V1637H1413zM1561 1633H1568V1637H1561zM1590 1637H1594V1641H1590zM1553 1637H1561V1641H1553zM1568 1637H1572V1645H1568zM1579 1641H1583V1645H1579zM1587 1641H1590V1645H1587zM1405 1641H1409V1645H1405zM1413 1645H1416V1649H1413zM1594 1645H1598V1649H1594zM1565 1645H1568V1649H1565zM1420 1645H1424V1649H1420zM1579 1645H1587V1649H1579zM1516 1645H1520V1649H1516zM1427 1645H1431V1654H1427zM1524 1649H1527V1654H1524zM1535 1649H1539V1654H1535zM1576 1649H1579V1654H1576zM1542 1649H1568V1654H1542zM1527 1654H1535V1658H1527zM1546 1654H1550V1658H1546zM1565 1654H1568V1658H1565zM1442 1654H1450V1658H1442zM1490 1654H1498V1658H1490zM1431 1654H1435V1658H1431zM1539 1654H1542V1658H1539zM1502 1658H1509V1662H1502zM1457 1658H1468V1662H1457zM1483 1658H1494V1662H1483zM1498 1662H1502V1666H1498zM1427 1662H1431V1666H1427zM1483 1662H1487V1671H1483zM1524 1666H1527V1671H1524zM1468 1666H1472V1671H1468zM1431 1666H1435V1671H1431zM1476 1662H1479V1675H1476zM1435 1671H1439V1675H1435zM1416 1671H1427V1675H1416zM1494 1671H1498V1675H1494zM1490 1675H1498V1679H1490zM1464 1675H1468V1679H1464zM1453 1675H1457V1679H1453zM1479 1675H1483V1679H1479zM1476 1679H1479V1683H1476zM1494 1679H1502V1683H1494zM1442 1683H1450V1687H1442zM1457 1683H1461V1687H1457zM1464 1683H1472V1692H1464zM1435 1687H1439V1692H1435zM1483 1687H1487V1692H1483zM1476 1692H1479V1696H1476zM1461 1692H1464V1696H1461zM1487 1692H1498V1696H1487zM1431 1692H1435V1696H1431zM1502 1692H1505V1696H1502zM1516 1696H1524V1700H1516zM1435 1696H1446V1700H1435zM1453 1696H1457V1704H1453zM1498 1700H1502V1704H1498zM1461 1700H1464V1704H1461zM1439 1700H1442V1704H1439zM1431 1700H1435V1704H1431zM1483 1700H1490V1704H1483zM1520 1700H1527V1704H1520zM1479 1704H1483V1709H1479zM1516 1704H1520V1709H1516zM1453 1704H1464V1713H1453zM1498 1709H1502V1713H1498zM1431 1709H1439V1713H1431zM1513 1709H1516V1713H1513zM1442 1709H1446V1713H1442zM1435 1713H1442V1717H1435zM1505 1713H1513V1717H1505zM1487 1713H1494V1717H1487zM1427 1713H1431V1717H1427zM1413 1717H1420V1721H1413zM1442 1717H1446V1721H1442zM1431 1717H1435V1721H1431zM1457 1717H1464V1721H1457zM1461 1721H1468V1725H1461zM1453 1721H1457V1725H1453zM1439 1721H1442V1725H1439zM1416 1721H1420V1725H1416zM1487 1721H1494V1725H1487zM1468 1725H1476V1730H1468zM1413 1725H1416V1730H1413zM1461 1725H1464V1730H1461zM1450 1730H1453V1734H1450zM1427 1730H1431V1734H1427zM1487 1730H1490V1738H1487zM1446 1734H1450V1738H1446zM1453 1734H1457V1738H1453zM1442 1738H1446V1742H1442zM1435 1742H1439V1746H1435zM1479 1746H1483V1751H1479zM1427 1746H1431V1751H1427zM1435 1751H1439V1755H1435zM1094 1751H1097V1759H1094zM1431 1755H1435V1759H1431zM1287 1763H1294V1768H1287zM1320 1763H1327V1768H1320zM1298 1763H1301V1768H1298zM1338 1768H1342V1772H1338zM1112 1768H1116V1772H1112zM1257 1768H1261V1772H1257zM1305 1768H1309V1772H1305zM1261 1772H1268V1776H1261zM1331 1772H1338V1776H1331zM1327 1776H1331V1780H1327zM1301 1776H1305V1780H1301zM1120 1776H1123V1780H1120zM1283 1776H1290V1780H1283zM1116 1784H1123V1789H1116zM1109 1789H1112V1793H1109zM1120 1789H1123V1793H1120zM1101 1789H1105V1793H1101zM1116 1793H1120V1797H1116z"/>
<path fill="#472a7a" d="M1550 1278H1553V1282H1550zM1542 1282H1550V1287H1542zM1520 1282H1527V1287H1520zM1509 1282H1513V1287H1509zM1550 1287H1553V1291H1550zM1513 1287H1520V1291H1513zM1542 1287H1546V1291H1542zM1639 1291H1642V1295H1639zM1539 1291H1546V1295H1539zM1631 1291H1635V1295H1631zM1524 1295H1527V1299H1524zM1546 1295H1550V1299H1546zM1646 1299H1650V1304H1646zM1631 1299H1635V1304H1631zM1620 1304H1628V1308H1620zM1613 1308H1616V1312H1613zM1620 1308H1624V1312H1620zM1650 1312H1657V1316H1650zM1605 1312H1609V1316H1605zM1605 1320H1609V1325H1605zM1594 1320H1598V1325H1594zM1620 1320H1624V1325H1620zM1583 1325H1598V1329H1583zM1609 1329H1613V1333H1609zM1650 1329H1653V1333H1650zM1583 1329H1587V1333H1583zM1587 1333H1590V1337H1587zM1565 1337H1579V1341H1565zM1650 1337H1653V1341H1650zM1631 1337H1635V1341H1631zM1572 1341H1576V1346H1572zM1561 1341H1565V1346H1561zM1624 1341H1628V1346H1624zM1639 1350H1642V1354H1639zM1557 1350H1565V1354H1557zM1631 1350H1635V1354H1631zM1565 1354H1572V1358H1565zM1602 1354H1605V1358H1602zM1605 1358H1609V1363H1605zM1546 1358H1550V1363H1546zM1568 1363H1572V1367H1568zM1598 1371H1602V1375H1598zM1539 1371H1542V1375H1539zM1550 1371H1553V1375H1550zM1646 1375H1650V1379H1646zM1553 1375H1557V1379H1553zM1642 1379H1646V1384H1642zM1583 1379H1587V1384H1583zM1401 1388H1405V1392H1401zM1524 1392H1527V1396H1524zM1590 1401H1594V1405H1590zM1457 1401H1464V1405H1457zM1520 1401H1524V1405H1520zM1531 1401H1535V1405H1531zM1565 1401H1568V1405H1565zM1568 1405H1572V1409H1568zM1587 1405H1590V1409H1587zM1546 1405H1550V1409H1546zM1561 1405H1565V1409H1561zM1516 1409H1520V1413H1516zM1524 1413H1527V1417H1524zM1602 1413H1605V1417H1602zM1513 1417H1516V1422H1513zM1527 1417H1531V1422H1527zM1576 1417H1579V1422H1576zM1527 1422H1535V1426H1527zM1613 1422H1616V1426H1613zM1516 1426H1520V1430H1516zM1546 1426H1550V1430H1546zM1631 1426H1635V1430H1631zM1509 1426H1513V1430H1509zM1513 1430H1516V1434H1513zM1642 1430H1650V1434H1642zM1516 1434H1520V1439H1516zM1576 1434H1579V1439H1576zM1639 1434H1642V1439H1639zM1509 1434H1513V1439H1509zM1557 1439H1561V1443H1557zM1513 1439H1520V1443H1513zM1502 1439H1509V1443H1502zM1683 1439H1687V1443H1683zM1657 1439H1661V1443H1657zM1579 1443H1583V1447H1579zM1594 1443H1598V1447H1594zM1628 1443H1631V1447H1628zM1668 1443H1676V1447H1668zM1483 1447H1487V1451H1483zM1424 1447H1427V1451H1424zM1531 1447H1535V1451H1531zM1442 1447H1450V1451H1442zM1505 1447H1509V1451H1505zM1372 1447H1375V1451H1372zM1557 1451H1561V1455H1557zM1598 1451H1602V1455H1598zM1442 1451H1453V1455H1442zM1620 1451H1624V1455H1620zM1661 1455H1668V1460H1661zM1687 1455H1691V1460H1687zM1424 1455H1427V1460H1424zM1553 1455H1557V1460H1553zM1635 1455H1639V1460H1635zM1694 1455H1698V1460H1694zM1642 1455H1646V1460H1642zM1672 1460H1676V1464H1672zM1390 1460H1398V1468H1390zM1435 1464H1439V1468H1435zM1668 1464H1676V1468H1668zM1653 1464H1661V1468H1653zM1590 1468H1594V1472H1590zM1431 1468H1435V1472H1431zM1668 1468H1672V1472H1668zM1683 1468H1687V1472H1683zM1502 1468H1505V1472H1502zM1416 1468H1420V1472H1416zM1561 1468H1565V1472H1561zM1390 1472H1394V1476H1390zM1683 1472H1691V1476H1683zM1435 1472H1439V1476H1435zM1613 1472H1616V1476H1613zM1631 1472H1639V1476H1631zM1657 1472H1661V1476H1657zM1635 1476H1642V1481H1635zM1698 1476H1702V1481H1698zM1594 1476H1598V1481H1594zM1505 1476H1509V1481H1505zM1668 1476H1672V1481H1668zM1683 1476H1687V1481H1683zM1557 1481H1561V1485H1557zM1705 1481H1709V1485H1705zM1631 1481H1635V1485H1631zM1687 1481H1691V1485H1687zM1661 1481H1665V1485H1661zM1624 1481H1628V1485H1624zM1642 1481H1650V1485H1642zM1502 1481H1505V1485H1502zM1613 1481H1616V1485H1613zM1672 1481H1676V1489H1672zM1476 1485H1479V1489H1476zM1546 1485H1550V1489H1546zM1487 1485H1490V1489H1487zM1609 1485H1620V1489H1609zM1646 1485H1650V1489H1646zM1702 1489H1709V1493H1702zM1494 1489H1498V1493H1494zM1676 1489H1679V1493H1676zM1668 1489H1672V1493H1668zM1605 1489H1609V1498H1605zM1498 1493H1502V1498H1498zM1691 1493H1694V1498H1691zM1598 1493H1602V1498H1598zM1457 1493H1461V1498H1457zM1672 1493H1676V1498H1672zM1679 1493H1683V1498H1679zM1631 1493H1635V1502H1631zM1624 1493H1628V1502H1624zM1457 1498H1479V1502H1457zM1687 1498H1694V1502H1687zM1661 1498H1668V1502H1661zM1413 1498H1416V1502H1413zM1676 1498H1679V1502H1676zM1616 1498H1620V1502H1616zM1383 1498H1387V1506H1383zM1468 1502H1476V1506H1468zM1498 1502H1502V1506H1498zM1665 1502H1668V1506H1665zM1435 1502H1439V1506H1435zM1587 1502H1590V1506H1587zM1702 1502H1705V1506H1702zM1653 1502H1657V1506H1653zM1631 1502H1639V1506H1631zM1476 1506H1479V1510H1476zM1590 1506H1594V1510H1590zM1450 1506H1453V1510H1450zM1520 1506H1524V1510H1520zM1691 1506H1694V1510H1691zM1576 1506H1579V1510H1576zM1431 1506H1435V1510H1431zM1642 1506H1646V1510H1642zM1509 1506H1513V1514H1509zM1639 1510H1642V1514H1639zM1687 1510H1691V1514H1687zM1661 1510H1665V1514H1661zM1568 1510H1572V1514H1568zM1672 1510H1676V1514H1672zM1679 1510H1683V1514H1679zM1653 1510H1657V1514H1653zM1579 1510H1587V1514H1579zM1516 1510H1520V1514H1516zM1464 1514H1468V1519H1464zM1635 1514H1642V1519H1635zM1668 1514H1672V1519H1668zM1513 1514H1516V1519H1513zM1616 1514H1620V1523H1616zM1631 1519H1635V1523H1631zM1464 1519H1472V1523H1464zM1672 1519H1676V1523H1672zM1476 1519H1490V1523H1476zM1609 1519H1613V1523H1609zM1661 1523H1668V1527H1661zM1461 1523H1472V1527H1461zM1479 1523H1483V1527H1479zM1646 1523H1650V1527H1646zM1390 1523H1394V1527H1390zM1461 1527H1468V1531H1461zM1483 1527H1487V1531H1483zM1672 1527H1676V1531H1672zM1639 1527H1646V1531H1639zM1631 1527H1635V1536H1631zM1661 1527H1665V1536H1661zM1461 1531H1464V1536H1461zM1479 1531H1483V1540H1479zM1487 1536H1490V1540H1487zM1457 1540H1461V1544H1457zM1483 1540H1490V1544H1483zM1405 1540H1409V1544H1405zM1420 1540H1424V1544H1420zM1646 1540H1650V1544H1646zM1653 1540H1657V1544H1653zM1450 1544H1453V1548H1450zM1650 1544H1653V1548H1650zM1468 1548H1472V1552H1468zM1479 1548H1483V1552H1479zM1446 1548H1450V1552H1446zM1646 1552H1650V1557H1646zM1450 1552H1453V1557H1450zM1461 1552H1464V1561H1461zM1379 1557H1387V1561H1379zM1642 1557H1646V1561H1642zM1616 1557H1620V1561H1616zM1446 1561H1450V1565H1446zM1453 1561H1457V1565H1453zM1446 1565H1453V1569H1446zM1464 1569H1468V1574H1464zM1635 1569H1642V1574H1635zM1479 1574H1483V1578H1479zM1453 1574H1457V1578H1453zM1635 1578H1639V1582H1635zM1457 1578H1461V1582H1457zM1390 1578H1394V1582H1390zM1628 1578H1631V1586H1628zM1639 1582H1642V1586H1639zM1535 1582H1539V1586H1535zM1605 1586H1609V1590H1605zM1613 1586H1620V1590H1613zM1453 1582H1457V1595H1453zM1461 1582H1464V1595H1461zM1472 1590H1476V1595H1472zM1620 1590H1624V1595H1620zM1527 1595H1531V1599H1527zM1587 1599H1590V1603H1587zM1472 1599H1476V1603H1472zM1479 1599H1483V1603H1479zM1594 1599H1602V1607H1594zM1531 1603H1535V1607H1531zM1490 1603H1498V1607H1490zM1565 1603H1568V1607H1565zM1579 1607H1587V1611H1579zM1472 1607H1476V1611H1472zM1553 1607H1557V1611H1553zM1561 1607H1568V1611H1561zM1542 1611H1550V1616H1542zM1535 1611H1539V1616H1535zM1557 1616H1561V1620H1557zM1450 1616H1453V1620H1450zM1568 1616H1572V1620H1568zM1561 1620H1565V1624H1561zM1424 1620H1427V1628H1424zM1550 1620H1553V1628H1550zM1450 1624H1453V1628H1450zM1464 1624H1468V1628H1464zM1590 1624H1594V1628H1590zM1439 1624H1442V1628H1439zM1557 1624H1561V1633H1557zM1431 1624H1435V1633H1431zM1442 1628H1446V1633H1442zM1416 1628H1424V1637H1416zM1468 1633H1472V1637H1468zM1483 1633H1487V1637H1483zM1572 1633H1587V1637H1572zM1427 1637H1431V1641H1427zM1413 1637H1416V1641H1413zM1420 1637H1424V1641H1420zM1409 1641H1416V1645H1409zM1594 1641H1598V1645H1594zM1572 1641H1576V1645H1572zM1535 1641H1542V1645H1535zM1557 1645H1561V1649H1557zM1546 1645H1550V1649H1546zM1487 1645H1490V1649H1487zM1568 1645H1572V1649H1568zM1527 1645H1531V1649H1527zM1576 1645H1579V1649H1576zM1424 1645H1427V1654H1424zM1539 1649H1542V1654H1539zM1439 1649H1442V1654H1439zM1494 1649H1498V1654H1494zM1450 1654H1453V1658H1450zM1487 1654H1490V1658H1487zM1427 1654H1431V1658H1427zM1502 1654H1509V1658H1502zM1472 1654H1476V1658H1472zM1479 1662H1483V1666H1479zM1464 1666H1468V1671H1464zM1461 1671H1464V1675H1461zM1468 1675H1472V1679H1468zM1472 1679H1476V1683H1472zM1457 1687H1464V1692H1457zM1483 1692H1487V1696H1483zM1490 1696H1494V1700H1490zM1457 1696H1464V1700H1457zM1446 1696H1450V1700H1446zM1509 1700H1516V1704H1509zM1472 1704H1476V1709H1472zM1431 1713H1435V1717H1431zM1435 1717H1439V1721H1435zM1483 1717H1494V1721H1483zM1457 1721H1461V1725H1457zM1413 1721H1416V1725H1413zM1450 1738H1453V1742H1450zM1086 1755H1090V1759H1086zM1086 1759H1094V1763H1086zM1301 1763H1305V1768H1301zM1086 1763H1090V1768H1086zM1283 1768H1290V1772H1283zM1275 1768H1279V1772H1275zM1261 1768H1272V1772H1261zM1301 1772H1305V1776H1301zM1105 1772H1109V1776H1105zM1112 1772H1116V1776H1112zM1268 1772H1272V1776H1268zM1109 1776H1112V1780H1109zM1101 1780H1105V1789H1101z"/>
<path fill="#453781" d="M1605 1270H1609V1274H1605zM1531 1282H1539V1287H1531zM1531 1287H1535V1291H1531zM1628 1291H1631V1295H1628zM1635 1295H1639V1299H1635zM1624 1295H1628V1304H1624zM1639 1299H1646V1304H1639zM1642 1308H1646V1312H1642zM1650 1308H1653V1312H1650zM1624 1312H1628V1316H1624zM1650 1316H1653V1320H1650zM1602 1316H1609V1320H1602zM1602 1320H1605V1325H1602zM1650 1325H1653V1329H1650zM1583 1333H1587V1337H1583zM1590 1337H1594V1341H1590zM1646 1337H1650V1341H1646zM1565 1341H1568V1346H1565zM1650 1341H1653V1346H1650zM1583 1346H1587V1350H1583zM1620 1346H1624V1350H1620zM1646 1346H1650V1350H1646zM1568 1346H1576V1350H1568zM1609 1350H1613V1354H1609zM1650 1350H1653V1354H1650zM1576 1350H1579V1354H1576zM1646 1354H1650V1358H1646zM1561 1354H1565V1358H1561zM1565 1358H1572V1363H1565zM1642 1358H1646V1363H1642zM1583 1358H1587V1363H1583zM1646 1363H1650V1367H1646zM1624 1367H1628V1371H1624zM1646 1371H1650V1375H1646zM1546 1371H1550V1379H1546zM1561 1375H1565V1379H1561zM1539 1375H1542V1379H1539zM1583 1375H1587V1379H1583zM1542 1379H1550V1384H1542zM1598 1379H1602V1384H1598zM1628 1379H1631V1384H1628zM1531 1392H1539V1396H1531zM1587 1392H1590V1396H1587zM1524 1396H1531V1401H1524zM1550 1396H1553V1401H1550zM1635 1401H1639V1405H1635zM1550 1401H1557V1405H1550zM1605 1401H1609V1405H1605zM1568 1401H1572V1405H1568zM1565 1405H1568V1409H1565zM1520 1405H1524V1409H1520zM1550 1405H1553V1409H1550zM1527 1409H1535V1413H1527zM1557 1409H1561V1413H1557zM1642 1413H1646V1417H1642zM1513 1413H1516V1417H1513zM1553 1413H1561V1417H1553zM1520 1417H1524V1426H1520zM1568 1422H1572V1426H1568zM1509 1422H1513V1426H1509zM1642 1422H1646V1426H1642zM1550 1422H1553V1426H1550zM1524 1426H1527V1430H1524zM1513 1426H1516V1430H1513zM1598 1430H1602V1434H1598zM1587 1430H1590V1434H1587zM1635 1430H1639V1434H1635zM1509 1430H1513V1434H1509zM1594 1434H1598V1439H1594zM1646 1434H1650V1439H1646zM1579 1434H1583V1439H1579zM1539 1434H1542V1439H1539zM1672 1439H1679V1443H1672zM1687 1439H1694V1443H1687zM1642 1439H1646V1443H1642zM1631 1439H1635V1443H1631zM1639 1443H1646V1447H1639zM1505 1443H1509V1447H1505zM1542 1443H1546V1447H1542zM1676 1447H1683V1451H1676zM1687 1447H1691V1451H1687zM1642 1447H1646V1451H1642zM1657 1447H1661V1451H1657zM1635 1447H1639V1455H1635zM1520 1451H1524V1455H1520zM1650 1451H1653V1455H1650zM1594 1451H1598V1455H1594zM1505 1451H1509V1455H1505zM1672 1451H1676V1455H1672zM1587 1455H1590V1460H1587zM1628 1455H1631V1460H1628zM1668 1455H1672V1460H1668zM1683 1455H1687V1460H1683zM1676 1455H1679V1464H1676zM1653 1455H1657V1464H1653zM1661 1460H1668V1464H1661zM1698 1460H1702V1464H1698zM1602 1460H1605V1464H1602zM1535 1460H1539V1464H1535zM1576 1460H1579V1464H1576zM1646 1460H1650V1464H1646zM1650 1464H1653V1468H1650zM1605 1464H1609V1468H1605zM1687 1464H1691V1468H1687zM1661 1464H1665V1468H1661zM1694 1464H1698V1468H1694zM1635 1464H1639V1468H1635zM1598 1464H1602V1468H1598zM1505 1464H1509V1468H1505zM1679 1464H1683V1472H1679zM1631 1468H1635V1472H1631zM1435 1468H1439V1472H1435zM1646 1468H1653V1472H1646zM1672 1468H1676V1472H1672zM1583 1468H1587V1472H1583zM1650 1472H1653V1476H1650zM1665 1472H1668V1476H1665zM1639 1472H1642V1476H1639zM1676 1472H1679V1476H1676zM1576 1472H1579V1476H1576zM1598 1472H1602V1476H1598zM1609 1472H1613V1476H1609zM1691 1472H1694V1481H1691zM1546 1476H1550V1481H1546zM1631 1476H1635V1481H1631zM1642 1476H1653V1481H1642zM1661 1476H1665V1481H1661zM1672 1476H1676V1481H1672zM1624 1476H1628V1481H1624zM1502 1476H1505V1481H1502zM1698 1481H1705V1485H1698zM1490 1481H1494V1485H1490zM1553 1481H1557V1485H1553zM1527 1481H1531V1485H1527zM1505 1481H1509V1485H1505zM1683 1481H1687V1485H1683zM1665 1481H1672V1485H1665zM1653 1481H1657V1485H1653zM1676 1485H1683V1489H1676zM1639 1485H1642V1489H1639zM1602 1485H1605V1489H1602zM1439 1485H1442V1489H1439zM1502 1485H1505V1489H1502zM1587 1485H1590V1493H1587zM1524 1489H1527V1493H1524zM1687 1489H1691V1493H1687zM1598 1489H1605V1493H1598zM1679 1489H1683V1493H1679zM1531 1489H1535V1493H1531zM1672 1489H1676V1493H1672zM1646 1489H1650V1493H1646zM1657 1489H1661V1493H1657zM1661 1493H1665V1498H1661zM1557 1493H1561V1498H1557zM1628 1493H1631V1498H1628zM1639 1498H1642V1502H1639zM1594 1498H1598V1502H1594zM1502 1498H1505V1502H1502zM1646 1498H1650V1502H1646zM1657 1498H1661V1502H1657zM1583 1498H1587V1506H1583zM1520 1502H1524V1506H1520zM1453 1502H1457V1506H1453zM1624 1502H1628V1506H1624zM1505 1502H1509V1506H1505zM1513 1502H1516V1506H1513zM1387 1502H1394V1506H1387zM1557 1506H1561V1510H1557zM1650 1506H1653V1510H1650zM1631 1506H1635V1510H1631zM1639 1506H1642V1510H1639zM1565 1506H1572V1510H1565zM1498 1506H1509V1510H1498zM1683 1506H1687V1510H1683zM1587 1506H1590V1510H1587zM1668 1510H1672V1514H1668zM1390 1510H1398V1514H1390zM1550 1510H1553V1514H1550zM1661 1514H1665V1519H1661zM1468 1514H1476V1519H1468zM1439 1514H1442V1519H1439zM1642 1514H1646V1523H1642zM1661 1519H1668V1523H1661zM1598 1519H1605V1523H1598zM1676 1519H1679V1523H1676zM1650 1519H1657V1523H1650zM1472 1519H1476V1527H1472zM1587 1523H1590V1527H1587zM1628 1523H1631V1527H1628zM1653 1523H1657V1527H1653zM1635 1527H1639V1531H1635zM1609 1527H1613V1531H1609zM1650 1527H1653V1531H1650zM1646 1531H1650V1536H1646zM1472 1531H1476V1536H1472zM1435 1536H1439V1540H1435zM1583 1536H1587V1540H1583zM1628 1540H1635V1544H1628zM1464 1540H1468V1548H1464zM1642 1544H1646V1548H1642zM1446 1544H1450V1548H1446zM1479 1544H1487V1548H1479zM1453 1548H1457V1552H1453zM1457 1552H1461V1557H1457zM1450 1561H1453V1565H1450zM1602 1561H1605V1565H1602zM1609 1565H1613V1569H1609zM1457 1569H1461V1574H1457zM1635 1574H1639V1578H1635zM1628 1574H1631V1578H1628zM1561 1574H1565V1578H1561zM1616 1574H1620V1578H1616zM1468 1578H1472V1582H1468zM1572 1578H1576V1582H1572zM1631 1578H1635V1582H1631zM1631 1582H1639V1586H1631zM1539 1582H1546V1586H1539zM1464 1582H1472V1586H1464zM1468 1586H1472V1590H1468zM1479 1586H1483V1590H1479zM1527 1586H1531V1590H1527zM1624 1590H1631V1595H1624zM1483 1590H1487V1595H1483zM1598 1595H1605V1599H1598zM1472 1595H1476V1599H1472zM1524 1599H1531V1603H1524zM1546 1599H1550V1603H1546zM1483 1603H1487V1607H1483zM1553 1603H1557V1607H1553zM1461 1607H1468V1611H1461zM1572 1607H1579V1611H1572zM1535 1607H1539V1611H1535zM1479 1607H1483V1611H1479zM1557 1611H1561V1616H1557zM1472 1611H1476V1616H1472zM1476 1616H1479V1620H1476zM1464 1616H1468V1620H1464zM1442 1620H1446V1624H1442zM1546 1620H1550V1624H1546zM1553 1624H1557V1628H1553zM1446 1624H1450V1628H1446zM1435 1628H1439V1633H1435zM1520 1628H1524V1633H1520zM1550 1633H1557V1637H1550zM1424 1633H1427V1637H1424zM1568 1633H1572V1637H1568zM1539 1633H1542V1641H1539zM1576 1637H1579V1641H1576zM1583 1637H1590V1641H1583zM1416 1637H1420V1645H1416zM1490 1641H1494V1645H1490zM1468 1641H1476V1645H1468zM1542 1641H1546V1645H1542zM1446 1641H1450V1645H1446zM1513 1641H1516V1645H1513zM1531 1637H1535V1649H1531zM1553 1641H1557V1649H1553zM1539 1645H1546V1649H1539zM1520 1645H1524V1649H1520zM1464 1649H1468V1654H1464zM1487 1649H1490V1654H1487zM1509 1649H1513V1654H1509zM1431 1649H1435V1654H1431zM1442 1649H1446V1654H1442zM1453 1654H1464V1658H1453zM1468 1654H1472V1658H1468zM1479 1654H1487V1658H1479zM1450 1683H1453V1687H1450zM1439 1687H1442V1692H1439zM1453 1687H1457V1692H1453zM1435 1692H1439V1696H1435zM1457 1692H1461V1696H1457zM1487 1696H1490V1700H1487zM1457 1700H1461V1704H1457zM1327 1768H1331V1772H1327zM1109 1772H1112V1776H1109zM1272 1772H1279V1776H1272zM1298 1772H1301V1776H1298zM1112 1776H1116V1780H1112zM1105 1780H1109V1789H1105zM1112 1793H1116V1797H1112z"/>
<path fill="#414487" d="M1616 1211H1620V1215H1616zM1527 1282H1531V1287H1527zM1635 1291H1639V1295H1635zM1646 1308H1650V1312H1646zM1620 1312H1624V1316H1620zM1613 1312H1616V1320H1613zM1624 1316H1628V1320H1624zM1598 1320H1602V1325H1598zM1646 1329H1650V1333H1646zM1590 1329H1594V1337H1590zM1635 1333H1639V1337H1635zM1624 1333H1628V1337H1624zM1583 1337H1590V1341H1583zM1642 1337H1646V1346H1642zM1579 1341H1583V1346H1579zM1653 1341H1657V1346H1653zM1568 1341H1572V1346H1568zM1590 1346H1594V1350H1590zM1579 1350H1583V1354H1579zM1568 1350H1572V1354H1568zM1590 1354H1598V1358H1590zM1553 1354H1557V1358H1553zM1646 1358H1650V1363H1646zM1602 1358H1605V1363H1602zM1550 1358H1553V1363H1550zM1594 1367H1598V1371H1594zM1550 1367H1553V1371H1550zM1542 1371H1546V1379H1542zM1609 1379H1613V1384H1609zM1553 1379H1561V1384H1553zM1531 1384H1542V1388H1531zM1561 1384H1565V1388H1561zM1553 1384H1557V1392H1553zM1620 1392H1624V1396H1620zM1576 1396H1579V1401H1576zM1542 1396H1546V1401H1542zM1557 1401H1561V1405H1557zM1524 1401H1531V1405H1524zM1609 1405H1613V1409H1609zM1527 1405H1531V1409H1527zM1590 1409H1594V1413H1590zM1546 1409H1553V1413H1546zM1531 1417H1535V1422H1531zM1587 1417H1590V1422H1587zM1609 1417H1613V1422H1609zM1516 1417H1520V1422H1516zM1635 1422H1639V1426H1635zM1590 1422H1594V1426H1590zM1620 1422H1624V1426H1620zM1513 1422H1516V1426H1513zM1587 1426H1590V1430H1587zM1539 1430H1542V1434H1539zM1520 1430H1524V1434H1520zM1572 1434H1576V1439H1572zM1546 1434H1550V1439H1546zM1513 1434H1516V1439H1513zM1527 1434H1531V1439H1527zM1579 1439H1583V1443H1579zM1565 1439H1572V1443H1565zM1535 1439H1539V1443H1535zM1542 1439H1546V1443H1542zM1613 1439H1616V1443H1613zM1587 1439H1590V1443H1587zM1546 1443H1550V1447H1546zM1576 1443H1579V1447H1576zM1568 1443H1572V1447H1568zM1509 1443H1513V1451H1509zM1524 1447H1527V1451H1524zM1631 1447H1635V1451H1631zM1668 1447H1672V1451H1668zM1572 1447H1576V1451H1572zM1587 1447H1590V1451H1587zM1665 1451H1668V1455H1665zM1624 1451H1631V1455H1624zM1568 1451H1572V1455H1568zM1531 1451H1535V1455H1531zM1653 1451H1661V1455H1653zM1513 1451H1516V1455H1513zM1616 1451H1620V1455H1616zM1646 1455H1650V1460H1646zM1505 1455H1509V1460H1505zM1535 1455H1539V1460H1535zM1631 1455H1635V1460H1631zM1691 1460H1694V1464H1691zM1635 1460H1639V1464H1635zM1542 1460H1546V1464H1542zM1513 1460H1516V1464H1513zM1620 1460H1624V1464H1620zM1531 1464H1535V1468H1531zM1665 1464H1668V1468H1665zM1509 1464H1513V1468H1509zM1520 1468H1524V1472H1520zM1635 1468H1642V1472H1635zM1535 1468H1539V1472H1535zM1576 1468H1579V1472H1576zM1620 1468H1624V1472H1620zM1628 1464H1631V1476H1628zM1505 1468H1509V1476H1505zM1498 1472H1502V1476H1498zM1672 1472H1676V1476H1672zM1616 1472H1620V1476H1616zM1524 1472H1527V1481H1524zM1620 1476H1624V1481H1620zM1531 1481H1535V1485H1531zM1609 1481H1613V1485H1609zM1657 1481H1661V1485H1657zM1668 1485H1672V1489H1668zM1642 1485H1646V1489H1642zM1494 1485H1498V1489H1494zM1683 1485H1687V1493H1683zM1691 1489H1694V1493H1691zM1527 1489H1531V1493H1527zM1550 1489H1553V1493H1550zM1502 1489H1505V1498H1502zM1687 1493H1691V1498H1687zM1639 1493H1642V1498H1639zM1576 1493H1579V1498H1576zM1668 1493H1672V1502H1668zM1557 1498H1561V1502H1557zM1520 1498H1524V1502H1520zM1650 1498H1653V1502H1650zM1505 1498H1509V1502H1505zM1683 1498H1687V1502H1683zM1568 1502H1572V1506H1568zM1672 1502H1683V1506H1672zM1535 1502H1539V1506H1535zM1509 1502H1513V1506H1509zM1668 1506H1683V1510H1668zM1572 1506H1576V1510H1572zM1653 1506H1657V1510H1653zM1561 1506H1565V1510H1561zM1546 1510H1550V1514H1546zM1691 1510H1694V1514H1691zM1665 1510H1668V1514H1665zM1576 1510H1579V1514H1576zM1513 1510H1516V1514H1513zM1642 1510H1646V1514H1642zM1650 1510H1653V1519H1650zM1598 1514H1602V1519H1598zM1390 1519H1394V1523H1390zM1635 1519H1642V1523H1635zM1657 1514H1661V1527H1657zM1476 1523H1479V1527H1476zM1650 1523H1653V1527H1650zM1639 1523H1642V1527H1639zM1579 1523H1583V1527H1579zM1672 1523H1676V1527H1672zM1613 1523H1616V1527H1613zM1620 1523H1624V1527H1620zM1468 1527H1476V1531H1468zM1587 1527H1590V1531H1587zM1483 1531H1487V1536H1483zM1628 1531H1631V1536H1628zM1635 1531H1639V1536H1635zM1642 1531H1646V1536H1642zM1468 1531H1472V1540H1468zM1439 1536H1442V1540H1439zM1479 1540H1483V1544H1479zM1616 1540H1620V1544H1616zM1476 1544H1479V1548H1476zM1631 1544H1635V1548H1631zM1579 1548H1583V1552H1579zM1642 1548H1650V1552H1642zM1639 1561H1642V1565H1639zM1642 1565H1646V1569H1642zM1472 1565H1476V1569H1472zM1628 1565H1631V1569H1628zM1453 1565H1457V1569H1453zM1609 1569H1616V1574H1609zM1642 1574H1646V1578H1642zM1620 1574H1624V1578H1620zM1568 1574H1572V1578H1568zM1609 1578H1613V1582H1609zM1457 1582H1461V1586H1457zM1613 1582H1624V1586H1613zM1546 1582H1553V1586H1546zM1479 1582H1487V1586H1479zM1483 1586H1487V1590H1483zM1620 1586H1624V1590H1620zM1628 1586H1631V1590H1628zM1579 1590H1583V1595H1579zM1602 1590H1605V1595H1602zM1527 1590H1531V1595H1527zM1539 1590H1542V1595H1539zM1550 1590H1553V1595H1550zM1476 1590H1479V1599H1476zM1590 1595H1594V1599H1590zM1483 1595H1487V1599H1483zM1468 1599H1472V1603H1468zM1579 1599H1583V1603H1579zM1531 1599H1535V1603H1531zM1461 1599H1464V1607H1461zM1472 1603H1479V1607H1472zM1572 1603H1576V1607H1572zM1587 1603H1590V1607H1587zM1520 1603H1527V1607H1520zM1498 1607H1502V1611H1498zM1487 1607H1490V1611H1487zM1539 1607H1542V1616H1539zM1483 1611H1487V1616H1483zM1550 1611H1553V1616H1550zM1509 1616H1513V1620H1509zM1453 1616H1457V1624H1453zM1435 1624H1439V1628H1435zM1546 1624H1550V1628H1546zM1446 1628H1450V1633H1446zM1524 1633H1527V1637H1524zM1479 1633H1483V1637H1479zM1542 1633H1546V1637H1542zM1579 1637H1583V1641H1579zM1424 1637H1427V1641H1424zM1494 1637H1498V1641H1494zM1476 1641H1479V1645H1476zM1464 1641H1468V1645H1464zM1420 1641H1427V1645H1420zM1576 1641H1579V1645H1576zM1520 1641H1531V1645H1520zM1550 1641H1553V1645H1550zM1535 1645H1539V1649H1535zM1490 1645H1498V1649H1490zM1431 1645H1435V1649H1431zM1479 1645H1483V1654H1479zM1490 1649H1494V1654H1490zM1457 1649H1461V1654H1457zM1498 1649H1502V1654H1498zM1442 1687H1446V1692H1442zM1439 1692H1442V1696H1439zM1450 1696H1453V1700H1450zM1090 1755H1094V1759H1090zM1312 1768H1320V1772H1312zM1324 1768H1327V1772H1324zM1272 1768H1275V1772H1272zM1283 1772H1287V1776H1283zM1109 1780H1116V1784H1109zM1105 1789H1109V1793H1105zM1109 1793H1112V1797H1109z"/>
<path fill="#3c4f8a" d="M1613 1223H1616V1228H1613zM1539 1282H1542V1287H1539zM1631 1308H1635V1312H1631zM1646 1316H1650V1320H1646zM1609 1316H1613V1320H1609zM1628 1316H1631V1325H1628zM1602 1325H1609V1329H1602zM1635 1329H1639V1333H1635zM1616 1333H1620V1337H1616zM1579 1337H1583V1341H1579zM1646 1341H1650V1346H1646zM1594 1341H1598V1346H1594zM1565 1350H1568V1354H1565zM1590 1350H1594V1354H1590zM1572 1354H1576V1358H1572zM1557 1363H1561V1367H1557zM1587 1363H1590V1367H1587zM1568 1367H1583V1371H1568zM1642 1367H1646V1375H1642zM1557 1371H1561V1375H1557zM1609 1371H1613V1375H1609zM1587 1375H1590V1379H1587zM1576 1375H1579V1379H1576zM1579 1379H1583V1384H1579zM1539 1379H1542V1384H1539zM1550 1384H1553V1388H1550zM1583 1384H1587V1392H1583zM1557 1388H1561V1392H1557zM1594 1392H1598V1396H1594zM1572 1392H1579V1396H1572zM1542 1392H1546V1396H1542zM1531 1396H1535V1401H1531zM1565 1396H1572V1401H1565zM1539 1396H1542V1401H1539zM1609 1396H1613V1401H1609zM1535 1401H1539V1405H1535zM1590 1405H1594V1409H1590zM1553 1409H1557V1413H1553zM1542 1409H1546V1413H1542zM1587 1413H1594V1417H1587zM1594 1417H1598V1422H1594zM1568 1417H1572V1422H1568zM1639 1422H1642V1426H1639zM1624 1422H1628V1426H1624zM1561 1422H1568V1426H1561zM1598 1426H1605V1430H1598zM1616 1426H1620V1430H1616zM1527 1426H1531V1430H1527zM1550 1426H1553V1430H1550zM1546 1430H1550V1434H1546zM1579 1430H1587V1434H1579zM1568 1430H1572V1434H1568zM1561 1434H1565V1439H1561zM1520 1434H1524V1439H1520zM1531 1439H1535V1443H1531zM1546 1439H1553V1443H1546zM1598 1443H1602V1447H1598zM1539 1443H1542V1447H1539zM1631 1443H1635V1447H1631zM1513 1443H1516V1451H1513zM1553 1447H1557V1451H1553zM1616 1447H1620V1451H1616zM1639 1447H1642V1455H1639zM1602 1451H1605V1455H1602zM1561 1451H1568V1455H1561zM1531 1455H1535V1460H1531zM1513 1455H1516V1460H1513zM1679 1460H1683V1464H1679zM1628 1460H1631V1464H1628zM1616 1460H1620V1464H1616zM1646 1464H1650V1468H1646zM1565 1464H1568V1468H1565zM1602 1464H1605V1468H1602zM1527 1464H1531V1468H1527zM1609 1468H1613V1472H1609zM1616 1468H1620V1472H1616zM1624 1468H1628V1476H1624zM1590 1472H1594V1476H1590zM1679 1472H1683V1476H1679zM1535 1472H1539V1476H1535zM1665 1476H1668V1481H1665zM1676 1476H1679V1481H1676zM1602 1476H1605V1481H1602zM1527 1476H1531V1481H1527zM1513 1476H1516V1481H1513zM1653 1476H1657V1481H1653zM1639 1481H1642V1485H1639zM1539 1481H1542V1485H1539zM1520 1481H1524V1485H1520zM1535 1485H1539V1489H1535zM1639 1489H1646V1493H1639zM1653 1489H1657V1493H1653zM1594 1489H1598V1498H1594zM1683 1493H1687V1498H1683zM1527 1493H1531V1498H1527zM1583 1493H1587V1498H1583zM1539 1498H1542V1502H1539zM1531 1498H1535V1506H1531zM1524 1502H1527V1506H1524zM1553 1502H1557V1506H1553zM1668 1502H1672V1506H1668zM1639 1502H1646V1506H1639zM1513 1506H1516V1510H1513zM1527 1506H1531V1510H1527zM1665 1506H1668V1510H1665zM1657 1510H1661V1514H1657zM1653 1514H1657V1519H1653zM1605 1519H1609V1523H1605zM1646 1519H1650V1523H1646zM1635 1536H1639V1540H1635zM1472 1540H1479V1544H1472zM1650 1540H1653V1544H1650zM1646 1544H1650V1548H1646zM1457 1544H1461V1548H1457zM1472 1544H1476V1548H1472zM1576 1544H1579V1548H1576zM1653 1548H1657V1552H1653zM1464 1548H1468V1552H1464zM1642 1552H1646V1557H1642zM1464 1552H1472V1557H1464zM1639 1557H1642V1561H1639zM1472 1557H1476V1561H1472zM1583 1557H1587V1561H1583zM1642 1561H1646V1565H1642zM1464 1561H1468V1565H1464zM1568 1561H1572V1565H1568zM1605 1565H1609V1569H1605zM1613 1565H1616V1569H1613zM1587 1565H1590V1569H1587zM1620 1569H1624V1574H1620zM1461 1574H1464V1582H1461zM1476 1578H1479V1582H1476zM1616 1578H1620V1582H1616zM1605 1582H1609V1586H1605zM1624 1582H1628V1586H1624zM1546 1590H1550V1595H1546zM1605 1590H1609V1595H1605zM1531 1590H1535V1595H1531zM1457 1590H1461V1595H1457zM1598 1590H1602V1595H1598zM1468 1595H1472V1599H1468zM1609 1595H1613V1599H1609zM1535 1595H1539V1599H1535zM1476 1599H1479V1603H1476zM1590 1599H1594V1603H1590zM1553 1599H1561V1603H1553zM1468 1603H1472V1607H1468zM1539 1603H1546V1607H1539zM1487 1603H1490V1607H1487zM1483 1607H1487V1611H1483zM1546 1607H1550V1611H1546zM1502 1607H1505V1611H1502zM1498 1611H1502V1616H1498zM1468 1616H1472V1620H1468zM1479 1616H1483V1620H1479zM1550 1616H1557V1620H1550zM1483 1620H1487V1624H1483zM1494 1620H1498V1624H1494zM1461 1620H1464V1624H1461zM1553 1620H1557V1624H1553zM1542 1620H1546V1624H1542zM1509 1620H1513V1624H1509zM1424 1628H1427V1633H1424zM1453 1628H1457V1633H1453zM1427 1633H1435V1637H1427zM1535 1633H1539V1641H1535zM1542 1637H1546V1641H1542zM1546 1641H1550V1645H1546zM1431 1641H1435V1645H1431zM1487 1641H1490V1645H1487zM1516 1641H1520V1645H1516zM1476 1645H1479V1649H1476zM1457 1645H1461V1649H1457zM1505 1645H1513V1649H1505zM1550 1645H1553V1649H1550zM1435 1649H1439V1654H1435zM1468 1649H1476V1654H1468zM1483 1649H1487V1654H1483zM1461 1649H1464V1654H1461zM1464 1654H1468V1658H1464zM1446 1687H1450V1692H1446zM1442 1692H1446V1696H1442zM1468 1704H1472V1709H1468zM1279 1768H1283V1772H1279zM1309 1768H1312V1772H1309zM1324 1772H1331V1776H1324zM1112 1784H1116V1789H1112z"/>
<path fill="#375a8c" d="M1605 1249H1609V1253H1605zM1631 1295H1635V1299H1631zM1642 1304H1650V1308H1642zM1628 1308H1631V1312H1628zM1631 1312H1635V1316H1631zM1616 1312H1620V1316H1616zM1616 1320H1620V1325H1616zM1594 1329H1598V1333H1594zM1616 1329H1620V1333H1616zM1598 1333H1602V1337H1598zM1642 1333H1646V1337H1642zM1620 1337H1624V1341H1620zM1583 1341H1590V1346H1583zM1613 1341H1616V1346H1613zM1576 1346H1583V1350H1576zM1616 1346H1620V1350H1616zM1613 1350H1616V1354H1613zM1576 1354H1579V1358H1576zM1557 1354H1561V1363H1557zM1572 1358H1579V1363H1572zM1565 1363H1568V1367H1565zM1583 1363H1587V1367H1583zM1620 1363H1624V1367H1620zM1550 1363H1553V1367H1550zM1631 1367H1635V1371H1631zM1635 1371H1639V1375H1635zM1598 1375H1602V1379H1598zM1642 1375H1646V1379H1642zM1557 1384H1561V1388H1557zM1639 1384H1642V1388H1639zM1568 1384H1576V1388H1568zM1587 1384H1590V1392H1587zM1531 1388H1535V1392H1531zM1561 1388H1565V1392H1561zM1561 1392H1568V1396H1561zM1572 1396H1576V1401H1572zM1561 1396H1565V1401H1561zM1531 1405H1535V1409H1531zM1620 1405H1624V1409H1620zM1553 1405H1557V1409H1553zM1635 1409H1639V1413H1635zM1524 1409H1527V1413H1524zM1535 1409H1539V1417H1535zM1598 1413H1602V1417H1598zM1527 1413H1531V1417H1527zM1631 1417H1635V1422H1631zM1624 1417H1628V1422H1624zM1553 1422H1557V1426H1553zM1590 1426H1594V1430H1590zM1635 1426H1642V1430H1635zM1631 1430H1635V1434H1631zM1516 1430H1520V1434H1516zM1524 1434H1527V1439H1524zM1557 1434H1561V1439H1557zM1565 1434H1568V1439H1565zM1598 1439H1602V1443H1598zM1539 1439H1542V1443H1539zM1553 1439H1557V1443H1553zM1635 1439H1642V1443H1635zM1687 1443H1691V1447H1687zM1524 1443H1527V1447H1524zM1620 1443H1624V1447H1620zM1516 1443H1520V1447H1516zM1679 1455H1683V1460H1679zM1624 1455H1628V1460H1624zM1527 1455H1531V1460H1527zM1509 1455H1513V1460H1509zM1594 1460H1598V1464H1594zM1539 1460H1542V1464H1539zM1657 1460H1661V1464H1657zM1613 1464H1616V1468H1613zM1546 1464H1550V1468H1546zM1553 1464H1557V1468H1553zM1561 1464H1565V1468H1561zM1572 1468H1576V1472H1572zM1509 1468H1513V1472H1509zM1646 1472H1650V1476H1646zM1557 1472H1561V1476H1557zM1568 1472H1572V1476H1568zM1527 1472H1531V1476H1527zM1565 1476H1568V1481H1565zM1572 1476H1576V1481H1572zM1609 1476H1613V1481H1609zM1516 1476H1520V1481H1516zM1509 1481H1520V1485H1509zM1576 1481H1579V1485H1576zM1505 1485H1509V1489H1505zM1539 1489H1542V1493H1539zM1513 1493H1516V1498H1513zM1642 1493H1650V1498H1642zM1590 1498H1594V1502H1590zM1679 1498H1683V1502H1679zM1672 1498H1676V1502H1672zM1579 1502H1583V1506H1579zM1646 1502H1650V1510H1646zM1553 1506H1557V1510H1553zM1665 1514H1668V1519H1665zM1628 1519H1631V1523H1628zM1598 1523H1602V1527H1598zM1624 1523H1628V1527H1624zM1624 1527H1631V1531H1624zM1579 1527H1583V1536H1579zM1472 1536H1476V1540H1472zM1650 1536H1653V1540H1650zM1631 1536H1635V1540H1631zM1635 1540H1642V1544H1635zM1468 1544H1472V1548H1468zM1472 1548H1479V1552H1472zM1639 1552H1642V1557H1639zM1572 1557H1576V1561H1572zM1624 1557H1628V1561H1624zM1457 1561H1464V1565H1457zM1616 1565H1624V1569H1616zM1461 1565H1464V1569H1461zM1605 1569H1609V1574H1605zM1476 1569H1479V1578H1476zM1457 1574H1461V1578H1457zM1624 1574H1628V1578H1624zM1472 1578H1476V1582H1472zM1609 1582H1613V1586H1609zM1531 1582H1535V1590H1531zM1457 1586H1461V1590H1457zM1594 1586H1598V1590H1594zM1542 1586H1546V1590H1542zM1535 1590H1539V1595H1535zM1531 1595H1535V1599H1531zM1542 1595H1546V1603H1542zM1546 1603H1550V1607H1546zM1535 1603H1539V1607H1535zM1542 1607H1546V1611H1542zM1494 1607H1498V1611H1494zM1476 1611H1479V1616H1476zM1461 1611H1464V1616H1461zM1457 1616H1461V1620H1457zM1542 1616H1546V1620H1542zM1476 1620H1479V1624H1476zM1450 1628H1453V1633H1450zM1553 1628H1557V1633H1553zM1527 1628H1531V1633H1527zM1427 1628H1431V1633H1427zM1531 1633H1535V1637H1531zM1439 1633H1442V1637H1439zM1546 1637H1553V1641H1546zM1513 1637H1516V1641H1513zM1520 1637H1527V1641H1520zM1524 1645H1527V1649H1524zM1483 1645H1487V1649H1483zM1439 1645H1442V1649H1439zM1498 1645H1502V1649H1498zM1476 1649H1479V1654H1476zM1505 1649H1509V1654H1505zM1446 1692H1450V1696H1446zM1453 1692H1457V1696H1453zM1472 1700H1476V1704H1472zM1301 1768H1305V1772H1301zM1287 1772H1290V1776H1287zM1109 1784H1112V1789H1109z"/>
<path fill="#32648e" d="M1628 1295H1631V1299H1628zM1624 1308H1628V1312H1624zM1635 1312H1639V1316H1635zM1642 1312H1650V1316H1642zM1624 1320H1628V1325H1624zM1609 1320H1613V1329H1609zM1628 1329H1631V1333H1628zM1605 1333H1609V1337H1605zM1639 1337H1642V1341H1639zM1624 1337H1628V1341H1624zM1590 1341H1594V1346H1590zM1572 1350H1576V1354H1572zM1628 1350H1631V1354H1628zM1642 1350H1650V1354H1642zM1613 1358H1616V1363H1613zM1572 1363H1583V1367H1572zM1639 1367H1642V1371H1639zM1602 1367H1605V1371H1602zM1646 1367H1650V1371H1646zM1583 1367H1587V1371H1583zM1576 1371H1579V1375H1576zM1639 1375H1642V1379H1639zM1579 1375H1583V1379H1579zM1568 1375H1572V1379H1568zM1587 1379H1590V1384H1587zM1576 1379H1579V1384H1576zM1561 1379H1565V1384H1561zM1550 1379H1553V1384H1550zM1590 1384H1594V1388H1590zM1598 1384H1602V1388H1598zM1546 1384H1550V1388H1546zM1642 1384H1646V1388H1642zM1542 1388H1546V1392H1542zM1568 1388H1572V1396H1568zM1635 1392H1639V1396H1635zM1550 1392H1553V1396H1550zM1605 1396H1609V1401H1605zM1553 1396H1557V1401H1553zM1561 1401H1565V1405H1561zM1539 1401H1542V1409H1539zM1568 1409H1572V1413H1568zM1561 1409H1565V1413H1561zM1583 1409H1587V1413H1583zM1539 1413H1546V1417H1539zM1639 1413H1642V1422H1639zM1535 1417H1539V1422H1535zM1550 1417H1553V1422H1550zM1524 1422H1527V1426H1524zM1557 1422H1561V1426H1557zM1583 1422H1587V1426H1583zM1594 1422H1598V1426H1594zM1628 1422H1631V1426H1628zM1616 1422H1620V1426H1616zM1620 1426H1624V1430H1620zM1520 1426H1524V1430H1520zM1616 1430H1620V1434H1616zM1602 1430H1605V1434H1602zM1561 1430H1565V1434H1561zM1550 1430H1553V1434H1550zM1550 1434H1557V1439H1550zM1635 1434H1639V1439H1635zM1583 1434H1587V1439H1583zM1524 1439H1527V1443H1524zM1572 1439H1576V1443H1572zM1565 1443H1568V1447H1565zM1553 1443H1557V1447H1553zM1602 1443H1605V1447H1602zM1527 1443H1531V1451H1527zM1568 1447H1572V1451H1568zM1572 1451H1576V1455H1572zM1539 1455H1542V1460H1539zM1613 1460H1616V1464H1613zM1624 1460H1628V1468H1624zM1631 1464H1635V1468H1631zM1535 1464H1539V1468H1535zM1616 1464H1620V1468H1616zM1531 1468H1535V1472H1531zM1565 1468H1572V1472H1565zM1516 1468H1520V1472H1516zM1546 1468H1550V1476H1546zM1602 1472H1609V1476H1602zM1502 1472H1505V1476H1502zM1657 1476H1661V1481H1657zM1568 1481H1572V1485H1568zM1561 1481H1565V1485H1561zM1594 1481H1598V1485H1594zM1535 1481H1539V1485H1535zM1553 1485H1557V1489H1553zM1590 1489H1594V1493H1590zM1535 1489H1539V1493H1535zM1524 1493H1527V1498H1524zM1572 1493H1576V1498H1572zM1531 1493H1535V1498H1531zM1642 1498H1646V1502H1642zM1535 1498H1539V1502H1535zM1572 1502H1579V1506H1572zM1524 1506H1527V1510H1524zM1646 1510H1650V1519H1646zM1609 1523H1613V1527H1609zM1602 1527H1605V1531H1602zM1583 1527H1587V1531H1583zM1476 1536H1479V1540H1476zM1602 1548H1605V1552H1602zM1613 1552H1620V1557H1613zM1464 1557H1472V1561H1464zM1631 1557H1635V1561H1631zM1468 1569H1472V1574H1468zM1572 1569H1576V1574H1572zM1624 1569H1628V1574H1624zM1479 1578H1483V1582H1479zM1472 1582H1476V1586H1472zM1468 1590H1472V1595H1468zM1479 1590H1483V1595H1479zM1609 1590H1616V1595H1609zM1594 1595H1598V1599H1594zM1461 1595H1464V1599H1461zM1561 1599H1565V1603H1561zM1535 1599H1539V1603H1535zM1505 1607H1509V1611H1505zM1490 1607H1494V1616H1490zM1464 1611H1472V1616H1464zM1483 1616H1487V1620H1483zM1539 1616H1542V1620H1539zM1546 1616H1550V1620H1546zM1531 1620H1535V1624H1531zM1472 1628H1476V1633H1472zM1550 1628H1553V1633H1550zM1450 1633H1453V1637H1450zM1487 1637H1490V1641H1487zM1468 1637H1472V1641H1468zM1509 1637H1513V1641H1509zM1572 1637H1576V1641H1572zM1516 1637H1520V1641H1516zM1461 1641H1464V1645H1461zM1505 1641H1509V1645H1505zM1427 1641H1431V1645H1427zM1442 1645H1446V1649H1442zM1464 1645H1468V1649H1464zM1453 1645H1457V1654H1453zM1587 1649H1590V1654H1587zM1502 1649H1505V1654H1502zM1476 1696H1479V1700H1476zM1312 1772H1316V1776H1312zM1290 1772H1294V1776H1290z"/>
<path fill="#2e6f8e" d="M1609 1249H1613V1253H1609zM1639 1308H1642V1312H1639zM1628 1312H1631V1316H1628zM1609 1312H1613V1316H1609zM1613 1320H1616V1325H1613zM1598 1325H1602V1329H1598zM1646 1325H1650V1329H1646zM1613 1329H1616V1333H1613zM1642 1329H1646V1333H1642zM1609 1333H1616V1337H1609zM1594 1337H1598V1341H1594zM1602 1337H1605V1346H1602zM1583 1350H1587V1354H1583zM1598 1350H1602V1358H1598zM1613 1354H1616V1358H1613zM1642 1354H1646V1358H1642zM1635 1363H1639V1371H1635zM1565 1367H1568V1371H1565zM1616 1367H1620V1371H1616zM1579 1371H1583V1375H1579zM1594 1371H1598V1375H1594zM1565 1375H1568V1379H1565zM1590 1375H1594V1379H1590zM1572 1379H1576V1384H1572zM1594 1384H1598V1388H1594zM1576 1384H1579V1388H1576zM1598 1388H1602V1392H1598zM1579 1388H1583V1392H1579zM1635 1388H1639V1392H1635zM1579 1392H1587V1396H1579zM1557 1392H1561V1401H1557zM1587 1401H1590V1405H1587zM1572 1401H1576V1409H1572zM1605 1405H1609V1409H1605zM1565 1409H1568V1413H1565zM1587 1409H1590V1413H1587zM1602 1409H1605V1413H1602zM1635 1413H1639V1417H1635zM1590 1417H1594V1422H1590zM1557 1417H1565V1422H1557zM1572 1422H1579V1426H1572zM1557 1426H1561V1430H1557zM1579 1426H1583V1430H1579zM1535 1426H1539V1430H1535zM1624 1426H1628V1430H1624zM1609 1426H1613V1430H1609zM1605 1430H1609V1434H1605zM1553 1430H1557V1434H1553zM1576 1430H1579V1434H1576zM1524 1430H1531V1434H1524zM1620 1430H1624V1434H1620zM1616 1439H1620V1447H1616zM1561 1443H1565V1447H1561zM1620 1447H1624V1451H1620zM1516 1447H1520V1451H1516zM1539 1447H1542V1455H1539zM1587 1451H1594V1455H1587zM1557 1455H1561V1460H1557zM1527 1460H1535V1464H1527zM1546 1460H1550V1464H1546zM1631 1460H1635V1464H1631zM1542 1464H1546V1468H1542zM1524 1464H1527V1472H1524zM1513 1468H1516V1472H1513zM1576 1476H1579V1481H1576zM1542 1476H1546V1481H1542zM1598 1476H1602V1485H1598zM1590 1481H1594V1485H1590zM1605 1481H1609V1489H1605zM1653 1485H1657V1489H1653zM1513 1485H1516V1489H1513zM1550 1485H1553V1489H1550zM1661 1489H1665V1493H1661zM1505 1489H1513V1493H1505zM1520 1489H1524V1498H1520zM1590 1493H1594V1498H1590zM1535 1493H1539V1498H1535zM1657 1493H1661V1498H1657zM1579 1498H1583V1502H1579zM1542 1498H1546V1502H1542zM1524 1498H1531V1502H1524zM1653 1498H1657V1502H1653zM1516 1498H1520V1502H1516zM1650 1502H1653V1506H1650zM1620 1519H1624V1523H1620zM1594 1523H1598V1527H1594zM1639 1536H1642V1540H1639zM1646 1536H1650V1540H1646zM1468 1540H1472V1544H1468zM1642 1540H1646V1544H1642zM1639 1544H1642V1548H1639zM1650 1552H1653V1557H1650zM1594 1557H1598V1561H1594zM1565 1561H1568V1565H1565zM1605 1561H1609V1565H1605zM1646 1565H1650V1569H1646zM1590 1569H1594V1574H1590zM1628 1569H1631V1574H1628zM1468 1574H1472V1578H1468zM1642 1578H1646V1582H1642zM1624 1578H1628V1582H1624zM1598 1586H1602V1590H1598zM1464 1586H1468V1590H1464zM1576 1590H1579V1595H1576zM1550 1595H1557V1599H1550zM1605 1595H1609V1599H1605zM1583 1603H1587V1607H1583zM1476 1607H1479V1611H1476zM1468 1607H1472V1611H1468zM1509 1607H1516V1611H1509zM1494 1611H1498V1616H1494zM1620 1616H1624V1620H1620zM1535 1616H1539V1620H1535zM1613 1624H1616V1628H1613zM1542 1624H1546V1628H1542zM1439 1628H1442V1633H1439zM1442 1633H1446V1637H1442zM1435 1633H1439V1641H1435zM1439 1641H1442V1645H1439zM1509 1641H1513V1645H1509zM1472 1645H1476V1649H1472zM1446 1645H1450V1654H1446zM1546 1692H1550V1696H1546zM1116 1780H1120V1784H1116z"/>
<path fill="#2a788e" d="M1609 1236H1613V1240H1609zM1628 1299H1631V1304H1628zM1635 1308H1639V1312H1635zM1639 1316H1642V1320H1639zM1613 1325H1616V1329H1613zM1598 1329H1602V1333H1598zM1624 1346H1628V1350H1624zM1635 1350H1639V1354H1635zM1631 1354H1635V1358H1631zM1609 1358H1613V1363H1609zM1598 1358H1602V1367H1598zM1553 1363H1557V1367H1553zM1609 1367H1613V1371H1609zM1590 1371H1594V1375H1590zM1602 1371H1609V1375H1602zM1639 1371H1642V1375H1639zM1572 1371H1576V1375H1572zM1616 1371H1620V1375H1616zM1557 1375H1561V1379H1557zM1613 1379H1616V1384H1613zM1565 1379H1572V1384H1565zM1639 1388H1642V1392H1639zM1572 1388H1576V1392H1572zM1535 1388H1539V1392H1535zM1635 1396H1639V1401H1635zM1542 1401H1550V1405H1542zM1624 1401H1628V1405H1624zM1583 1401H1587V1405H1583zM1594 1405H1598V1409H1594zM1576 1405H1579V1409H1576zM1542 1405H1546V1409H1542zM1620 1413H1624V1417H1620zM1561 1413H1565V1417H1561zM1565 1417H1568V1422H1565zM1635 1417H1639V1422H1635zM1568 1426H1572V1430H1568zM1628 1426H1631V1430H1628zM1561 1426H1565V1430H1561zM1572 1430H1576V1434H1572zM1535 1430H1539V1434H1535zM1613 1434H1616V1439H1613zM1628 1439H1631V1443H1628zM1583 1439H1587V1447H1583zM1609 1447H1616V1451H1609zM1605 1451H1609V1455H1605zM1542 1451H1546V1455H1542zM1565 1455H1568V1460H1565zM1620 1455H1624V1460H1620zM1550 1460H1553V1468H1550zM1557 1464H1561V1468H1557zM1520 1464H1524V1468H1520zM1642 1468H1646V1472H1642zM1527 1468H1531V1472H1527zM1531 1472H1535V1476H1531zM1602 1481H1605V1485H1602zM1557 1485H1561V1489H1557zM1594 1485H1598V1489H1594zM1542 1489H1546V1493H1542zM1665 1489H1668V1493H1665zM1553 1489H1557V1493H1553zM1516 1489H1520V1493H1516zM1546 1493H1550V1498H1546zM1587 1498H1590V1502H1587zM1509 1498H1513V1502H1509zM1527 1502H1531V1506H1527zM1653 1527H1657V1531H1653zM1576 1527H1579V1531H1576zM1620 1527H1624V1536H1620zM1583 1531H1587V1536H1583zM1605 1536H1609V1540H1605zM1572 1548H1576V1552H1572zM1635 1552H1639V1557H1635zM1609 1552H1613V1557H1609zM1587 1561H1590V1565H1587zM1635 1561H1639V1565H1635zM1594 1569H1598V1574H1594zM1472 1569H1476V1574H1472zM1476 1582H1479V1586H1476zM1568 1586H1572V1590H1568zM1557 1586H1561V1590H1557zM1472 1586H1479V1590H1472zM1539 1595H1542V1599H1539zM1479 1595H1483V1599H1479zM1568 1599H1572V1603H1568zM1583 1599H1587V1603H1583zM1479 1603H1483V1607H1479zM1502 1611H1505V1616H1502zM1524 1616H1527V1620H1524zM1472 1616H1476V1620H1472zM1516 1616H1520V1620H1516zM1498 1620H1502V1624H1498zM1464 1620H1476V1624H1464zM1461 1624H1464V1628H1461zM1490 1628H1494V1633H1490zM1524 1628H1527V1633H1524zM1457 1637H1461V1641H1457zM1442 1641H1446V1645H1442zM1502 1641H1505V1645H1502zM1435 1645H1439V1649H1435zM1468 1645H1472V1649H1468zM1461 1645H1464V1649H1461zM1450 1649H1453V1654H1450zM1568 1671H1572V1675H1568zM1320 1768H1324V1772H1320zM1290 1768H1294V1772H1290zM1279 1772H1283V1776H1279zM1309 1772H1312V1776H1309z"/>
<path fill="#26828e" d="M1639 1341H1642V1346H1639zM1587 1350H1590V1354H1587zM1639 1354H1642V1358H1639zM1590 1358H1594V1367H1590zM1642 1363H1646V1367H1642zM1628 1367H1631V1371H1628zM1561 1367H1565V1371H1561zM1635 1375H1639V1379H1635zM1602 1375H1605V1379H1602zM1624 1379H1628V1384H1624zM1616 1379H1620V1384H1616zM1635 1384H1639V1388H1635zM1565 1388H1568V1392H1565zM1546 1388H1550V1392H1546zM1594 1401H1602V1405H1594zM1557 1405H1561V1409H1557zM1628 1405H1631V1409H1628zM1598 1405H1602V1413H1598zM1620 1409H1624V1413H1620zM1639 1409H1642V1413H1639zM1572 1413H1576V1417H1572zM1598 1422H1602V1426H1598zM1565 1426H1568V1430H1565zM1542 1426H1546V1430H1542zM1628 1430H1631V1434H1628zM1631 1434H1635V1439H1631zM1590 1439H1594V1447H1590zM1520 1439H1524V1447H1520zM1613 1443H1616V1447H1613zM1557 1447H1561V1451H1557zM1546 1447H1550V1451H1546zM1624 1447H1631V1451H1624zM1598 1447H1602V1451H1598zM1565 1447H1568V1451H1565zM1516 1455H1524V1460H1516zM1605 1455H1609V1464H1605zM1565 1460H1568V1464H1565zM1609 1464H1613V1468H1609zM1516 1464H1520V1468H1516zM1598 1468H1602V1472H1598zM1587 1468H1590V1472H1587zM1539 1468H1546V1472H1539zM1520 1472H1524V1481H1520zM1557 1476H1561V1481H1557zM1579 1476H1583V1481H1579zM1509 1476H1513V1481H1509zM1539 1476H1542V1481H1539zM1587 1476H1590V1485H1587zM1590 1485H1594V1489H1590zM1576 1489H1583V1493H1576zM1546 1489H1550V1493H1546zM1665 1493H1668V1498H1665zM1509 1493H1513V1498H1509zM1546 1498H1550V1502H1546zM1613 1527H1616V1531H1613zM1605 1527H1609V1536H1605zM1650 1531H1653V1536H1650zM1642 1536H1646V1540H1642zM1628 1544H1631V1548H1628zM1635 1544H1639V1548H1635zM1609 1557H1613V1561H1609zM1468 1561H1472V1565H1468zM1631 1565H1635V1569H1631zM1602 1578H1605V1582H1602zM1553 1582H1557V1586H1553zM1631 1595H1635V1599H1631zM1579 1603H1583V1607H1579zM1479 1620H1483V1624H1479zM1468 1624H1472V1628H1468zM1539 1624H1542V1628H1539zM1542 1628H1550V1633H1542zM1464 1628H1468V1633H1464zM1479 1628H1483V1633H1479zM1509 1628H1513V1633H1509zM1431 1637H1435V1641H1431zM1527 1637H1531V1641H1527zM1502 1637H1505V1641H1502zM1498 1641H1502V1645H1498zM1112 1789H1116V1793H1112z"/>
<path fill="#228b8d" d="M1639 1304H1642V1308H1639zM1620 1316H1624V1320H1620zM1642 1320H1646V1325H1642zM1624 1325H1628V1329H1624zM1616 1325H1620V1329H1616zM1639 1329H1642V1333H1639zM1598 1337H1602V1341H1598zM1576 1341H1579V1346H1576zM1594 1346H1602V1350H1594zM1635 1346H1642V1350H1635zM1587 1354H1590V1358H1587zM1561 1363H1565V1367H1561zM1557 1367H1561V1371H1557zM1598 1367H1602V1371H1598zM1620 1367H1624V1371H1620zM1587 1367H1590V1375H1587zM1628 1375H1631V1379H1628zM1639 1379H1642V1384H1639zM1609 1384H1613V1388H1609zM1613 1388H1616V1392H1613zM1576 1388H1579V1392H1576zM1553 1392H1557V1396H1553zM1579 1396H1583V1401H1579zM1594 1396H1598V1401H1594zM1535 1396H1539V1401H1535zM1616 1401H1620V1405H1616zM1602 1405H1605V1409H1602zM1535 1405H1539V1409H1535zM1628 1409H1631V1413H1628zM1598 1417H1602V1422H1598zM1609 1422H1613V1426H1609zM1531 1430H1535V1434H1531zM1590 1430H1594V1434H1590zM1542 1430H1546V1434H1542zM1587 1434H1590V1439H1587zM1576 1439H1579V1443H1576zM1535 1443H1539V1447H1535zM1624 1443H1628V1447H1624zM1550 1447H1553V1451H1550zM1546 1451H1550V1455H1546zM1553 1451H1557V1455H1553zM1576 1447H1579V1460H1576zM1524 1455H1527V1460H1524zM1616 1455H1620V1460H1616zM1553 1460H1557V1464H1553zM1520 1460H1524V1464H1520zM1590 1460H1594V1468H1590zM1579 1464H1583V1468H1579zM1557 1468H1561V1472H1557zM1602 1468H1605V1472H1602zM1539 1472H1542V1476H1539zM1561 1472H1565V1476H1561zM1531 1476H1535V1481H1531zM1679 1476H1683V1481H1679zM1572 1481H1576V1485H1572zM1531 1485H1535V1489H1531zM1539 1485H1542V1489H1539zM1561 1489H1565V1493H1561zM1513 1489H1516V1493H1513zM1653 1493H1657V1498H1653zM1516 1493H1520V1498H1516zM1561 1502H1565V1506H1561zM1550 1506H1553V1510H1550zM1687 1514H1691V1519H1687zM1576 1548H1579V1552H1576zM1631 1552H1635V1557H1631zM1624 1552H1628V1557H1624zM1472 1561H1476V1565H1472zM1620 1561H1624V1565H1620zM1631 1561H1635V1565H1631zM1457 1565H1461V1569H1457zM1635 1565H1639V1569H1635zM1631 1569H1635V1574H1631zM1616 1569H1620V1574H1616zM1613 1574H1616V1578H1613zM1553 1590H1557V1595H1553zM1542 1590H1546V1595H1542zM1490 1620H1494V1624H1490zM1524 1620H1527V1624H1524zM1487 1624H1490V1628H1487zM1476 1628H1479V1637H1476zM1461 1628H1464V1637H1461zM1546 1633H1550V1637H1546zM1527 1633H1531V1637H1527zM1446 1633H1450V1637H1446zM1490 1637H1494V1641H1490zM1450 1645H1453V1649H1450z"/>
<path fill="#1f958b" d="M1639 1312H1642V1316H1639zM1639 1320H1642V1329H1639zM1605 1341H1609V1346H1605zM1587 1346H1590V1350H1587zM1624 1350H1628V1354H1624zM1609 1354H1613V1358H1609zM1635 1354H1639V1363H1635zM1594 1358H1598V1363H1594zM1609 1363H1613V1367H1609zM1590 1367H1594V1371H1590zM1565 1371H1568V1375H1565zM1583 1371H1587V1375H1583zM1590 1388H1594V1392H1590zM1605 1388H1609V1392H1605zM1550 1388H1553V1392H1550zM1587 1396H1590V1401H1587zM1546 1396H1550V1401H1546zM1609 1401H1613V1405H1609zM1613 1405H1616V1409H1613zM1609 1409H1616V1413H1609zM1546 1413H1550V1417H1546zM1609 1413H1613V1417H1609zM1583 1413H1587V1417H1583zM1572 1417H1576V1422H1572zM1553 1417H1557V1422H1553zM1535 1422H1539V1426H1535zM1613 1426H1616V1430H1613zM1594 1430H1598V1434H1594zM1542 1434H1546V1439H1542zM1602 1447H1605V1451H1602zM1542 1447H1546V1451H1542zM1516 1451H1520V1455H1516zM1583 1455H1587V1460H1583zM1572 1455H1576V1460H1572zM1550 1455H1553V1460H1550zM1579 1472H1587V1476H1579zM1568 1476H1572V1481H1568zM1553 1476H1557V1481H1553zM1535 1476H1539V1481H1535zM1679 1481H1683V1485H1679zM1576 1485H1579V1489H1576zM1516 1485H1520V1489H1516zM1539 1493H1542V1498H1539zM1513 1498H1516V1502H1513zM1594 1527H1598V1531H1594zM1668 1531H1672V1536H1668zM1661 1540H1665V1544H1661zM1639 1548H1642V1552H1639zM1616 1548H1620V1552H1616zM1613 1557H1616V1561H1613zM1635 1557H1639V1561H1635zM1609 1561H1613V1565H1609zM1464 1565H1468V1569H1464zM1613 1578H1616V1582H1613zM1546 1586H1550V1590H1546zM1594 1590H1598V1595H1594zM1565 1599H1568V1603H1565zM1531 1607H1535V1611H1531zM1498 1624H1502V1628H1498zM1457 1628H1461V1633H1457zM1453 1633H1457V1637H1453zM1442 1637H1446V1641H1442zM1483 1637H1487V1641H1483zM1598 1641H1602V1645H1598z"/>
<path fill="#1f9f88" d="M1635 1299H1639V1304H1635zM1642 1325H1646V1329H1642zM1631 1329H1635V1333H1631zM1639 1333H1642V1337H1639zM1609 1337H1613V1341H1609zM1628 1341H1631V1346H1628zM1594 1350H1598V1354H1594zM1616 1358H1620V1363H1616zM1613 1363H1616V1367H1613zM1568 1371H1572V1375H1568zM1561 1371H1565V1375H1561zM1613 1375H1616V1379H1613zM1624 1375H1628V1379H1624zM1594 1388H1598V1392H1594zM1598 1392H1602V1396H1598zM1620 1396H1628V1401H1620zM1579 1401H1583V1405H1579zM1628 1401H1631V1405H1628zM1631 1405H1639V1409H1631zM1579 1409H1583V1413H1579zM1594 1413H1598V1417H1594zM1542 1417H1546V1422H1542zM1631 1422H1635V1426H1631zM1594 1426H1598V1430H1594zM1609 1451H1613V1455H1609zM1535 1451H1539V1455H1535zM1542 1455H1550V1460H1542zM1561 1455H1565V1460H1561zM1509 1472H1516V1476H1509zM1542 1472H1546V1476H1542zM1565 1481H1568V1485H1565zM1713 1481H1717V1485H1713zM1550 1498H1553V1502H1550zM1616 1527H1620V1531H1616zM1609 1531H1613V1536H1609zM1579 1536H1583V1540H1579zM1605 1540H1609V1544H1605zM1583 1540H1587V1544H1583zM1579 1544H1583V1548H1579zM1657 1544H1661V1548H1657zM1583 1548H1590V1552H1583zM1605 1548H1609V1552H1605zM1631 1548H1635V1552H1631zM1594 1552H1598V1557H1594zM1576 1552H1579V1557H1576zM1590 1565H1594V1569H1590zM1565 1569H1568V1574H1565zM1464 1574H1468V1578H1464zM1553 1578H1557V1582H1553zM1594 1582H1598V1586H1594zM1602 1586H1605V1590H1602zM1590 1590H1594V1595H1590zM1579 1595H1583V1599H1579zM1464 1595H1468V1599H1464zM1520 1607H1524V1611H1520zM1624 1611H1628V1616H1624zM1498 1616H1502V1620H1498zM1616 1620H1620V1624H1616zM1457 1624H1461V1628H1457zM1505 1628H1509V1633H1505zM1464 1633H1468V1641H1464zM1457 1641H1461V1645H1457zM1450 1687H1453V1692H1450zM1542 1696H1546V1700H1542zM1316 1772H1320V1776H1316z"/>
<path fill="#22a884" d="M1609 1223H1613V1228H1609zM1628 1304H1631V1308H1628zM1642 1316H1646V1320H1642zM1646 1320H1650V1325H1646zM1635 1337H1639V1341H1635zM1598 1341H1602V1346H1598zM1628 1346H1631V1350H1628zM1620 1354H1624V1358H1620zM1628 1354H1631V1358H1628zM1624 1363H1628V1367H1624zM1624 1371H1628V1375H1624zM1631 1375H1635V1379H1631zM1590 1379H1594V1384H1590zM1616 1388H1620V1392H1616zM1583 1396H1587V1401H1583zM1602 1401H1605V1405H1602zM1576 1413H1579V1417H1576zM1620 1417H1624V1422H1620zM1539 1426H1542V1430H1539zM1527 1439H1531V1443H1527zM1594 1447H1598V1451H1594zM1535 1447H1539V1451H1535zM1520 1447H1524V1451H1520zM1583 1447H1587V1451H1583zM1524 1451H1527V1455H1524zM1613 1451H1616V1455H1613zM1598 1455H1602V1460H1598zM1609 1460H1613V1464H1609zM1594 1464H1598V1468H1594zM1579 1468H1583V1472H1579zM1565 1472H1568V1476H1565zM1572 1472H1576V1476H1572zM1542 1481H1546V1485H1542zM1568 1485H1572V1489H1568zM1568 1493H1572V1498H1568zM1598 1527H1602V1531H1598zM1579 1540H1583V1544H1579zM1624 1540H1628V1544H1624zM1598 1552H1602V1557H1598zM1602 1565H1605V1569H1602zM1565 1574H1568V1578H1565zM1579 1574H1583V1578H1579zM1602 1574H1605V1578H1602zM1524 1607H1527V1611H1524zM1516 1607H1520V1611H1516zM1487 1616H1490V1620H1487zM1539 1620H1542V1624H1539zM1472 1624H1476V1628H1472zM1513 1624H1516V1628H1513zM1468 1628H1472V1633H1468zM1531 1628H1535V1633H1531zM1502 1628H1505V1637H1502zM1457 1633H1461V1637H1457zM1439 1637H1442V1641H1439zM1479 1641H1487V1645H1479zM1576 1662H1579V1666H1576zM1524 1713H1527V1717H1524z"/>
<path fill="#2cb17e" d="M1635 1316H1639V1325H1635zM1628 1325H1631V1329H1628zM1616 1350H1620V1354H1616zM1605 1367H1609V1371H1605zM1572 1375H1576V1379H1572zM1594 1379H1598V1384H1594zM1631 1379H1635V1384H1631zM1616 1384H1620V1388H1616zM1613 1392H1616V1396H1613zM1613 1413H1616V1417H1613zM1628 1417H1631V1422H1628zM1602 1417H1605V1422H1602zM1539 1422H1542V1426H1539zM1609 1430H1613V1434H1609zM1624 1430H1628V1434H1624zM1598 1434H1602V1439H1598zM1535 1434H1539V1439H1535zM1594 1439H1598V1443H1594zM1587 1443H1590V1447H1587zM1605 1447H1609V1451H1605zM1550 1451H1553V1455H1550zM1579 1455H1583V1464H1579zM1568 1464H1572V1468H1568zM1553 1468H1557V1472H1553zM1561 1476H1565V1481H1561zM1550 1493H1553V1498H1550zM1572 1498H1576V1502H1572zM1590 1527H1594V1531H1590zM1609 1536H1616V1540H1609zM1628 1548H1631V1552H1628zM1598 1557H1602V1565H1598zM1468 1565H1472V1569H1468zM1461 1569H1464V1574H1461zM1576 1595H1579V1599H1576zM1531 1611H1535V1616H1531zM1535 1624H1539V1628H1535zM1513 1628H1520V1633H1513zM1487 1633H1490V1637H1487zM1516 1633H1520V1637H1516zM1450 1637H1453V1641H1450zM1435 1641H1439V1645H1435zM1579 1658H1583V1662H1579zM1557 1679H1561V1683H1557z"/>
<path fill="#3bbb75" d="M1635 1304H1639V1308H1635zM1631 1316H1635V1320H1631zM1635 1325H1639V1329H1635zM1620 1341H1624V1346H1620zM1639 1358H1642V1363H1639zM1587 1358H1590V1363H1587zM1631 1363H1635V1367H1631zM1624 1384H1631V1388H1624zM1565 1384H1568V1388H1565zM1609 1392H1613V1396H1609zM1590 1396H1594V1401H1590zM1602 1396H1605V1401H1602zM1576 1401H1579V1405H1576zM1605 1413H1609V1417H1605zM1620 1434H1624V1439H1620zM1561 1439H1565V1443H1561zM1624 1439H1628V1443H1624zM1531 1443H1535V1447H1531zM1568 1455H1572V1460H1568zM1524 1460H1527V1464H1524zM1620 1464H1624V1468H1620zM1605 1468H1609V1472H1605zM1583 1476H1587V1481H1583zM1542 1485H1546V1489H1542zM1579 1485H1587V1489H1579zM1509 1485H1513V1489H1509zM1709 1489H1713V1493H1709zM1505 1493H1509V1498H1505zM1561 1498H1565V1502H1561zM1616 1531H1620V1536H1616zM1579 1552H1583V1557H1579zM1628 1552H1631V1557H1628zM1590 1557H1594V1561H1590zM1583 1574H1587V1578H1583zM1587 1590H1590V1595H1587zM1583 1595H1590V1599H1583zM1572 1595H1576V1599H1572zM1561 1595H1565V1599H1561zM1628 1607H1631V1611H1628zM1520 1611H1524V1616H1520zM1527 1620H1531V1624H1527zM1476 1624H1479V1628H1476zM1483 1624H1487V1633H1483zM1498 1637H1502V1641H1498zM1461 1637H1464V1641H1461zM1494 1641H1498V1645H1494zM1590 1649H1594V1654H1590zM1531 1704H1535V1709H1531zM1520 1713H1524V1717H1520z"/>
<path fill="#4ec36b" d="M1631 1320H1635V1325H1631zM1620 1325H1624V1329H1620zM1620 1333H1624V1337H1620zM1605 1337H1609V1341H1605zM1613 1337H1620V1341H1613zM1609 1341H1613V1346H1609zM1620 1358H1624V1363H1620zM1613 1371H1616V1375H1613zM1631 1371H1635V1375H1631zM1620 1379H1624V1384H1620zM1602 1379H1605V1384H1602zM1613 1384H1616V1388H1613zM1590 1392H1594V1396H1590zM1613 1396H1616V1405H1613zM1616 1405H1620V1409H1616zM1605 1409H1609V1413H1605zM1568 1413H1572V1417H1568zM1605 1422H1609V1426H1605zM1624 1434H1628V1439H1624zM1590 1455H1594V1460H1590zM1613 1455H1616V1460H1613zM1561 1460H1565V1464H1561zM1583 1464H1587V1468H1583zM1576 1464H1579V1468H1576zM1587 1472H1590V1476H1587zM1550 1481H1553V1485H1550zM1565 1485H1568V1489H1565zM1520 1485H1524V1489H1520zM1553 1493H1557V1498H1553zM1705 1498H1709V1502H1705zM1542 1502H1550V1506H1542zM1594 1540H1598V1544H1594zM1598 1565H1602V1569H1598zM1587 1569H1590V1574H1587zM1565 1578H1568V1582H1565zM1502 1616H1505V1620H1502zM1505 1624H1509V1628H1505zM1479 1624H1483V1628H1479zM1539 1628H1542V1633H1539zM1472 1637H1479V1641H1472zM1505 1637H1509V1641H1505zM1446 1637H1450V1641H1446zM1450 1641H1453V1645H1450zM1502 1645H1505V1649H1502z"/>
<path fill="#63cb5f" d="M1628 1337H1631V1341H1628zM1602 1346H1605V1350H1602zM1628 1363H1631V1367H1628zM1605 1379H1609V1384H1605zM1602 1384H1605V1388H1602zM1546 1392H1550V1396H1546zM1631 1409H1635V1413H1631zM1613 1417H1616V1422H1613zM1542 1422H1546V1426H1542zM1613 1430H1616V1434H1613zM1590 1434H1594V1439H1590zM1587 1460H1590V1464H1587zM1568 1460H1572V1464H1568zM1553 1472H1557V1476H1553zM1516 1472H1520V1476H1516zM1550 1476H1553V1481H1550zM1583 1489H1587V1493H1583zM1579 1493H1583V1498H1579zM1587 1552H1590V1557H1587zM1594 1565H1598V1569H1594zM1602 1569H1605V1574H1602zM1568 1569H1572V1574H1568zM1557 1578H1561V1582H1557zM1527 1607H1531V1616H1527zM1487 1620H1490V1624H1487zM1509 1624H1513V1628H1509zM1494 1624H1498V1628H1494zM1453 1641H1457V1645H1453z"/>
<path fill="#7ad151" d="M1620 1329H1624V1333H1620zM1616 1341H1620V1346H1616zM1631 1358H1635V1363H1631zM1616 1363H1620V1367H1616zM1628 1371H1631V1375H1628zM1620 1375H1624V1379H1620zM1602 1388H1605V1392H1602zM1628 1396H1631V1401H1628zM1594 1409H1598V1413H1594zM1628 1413H1631V1417H1628zM1605 1426H1609V1430H1605zM1565 1430H1568V1434H1565zM1602 1439H1605V1443H1602zM1550 1468H1553V1476H1550zM1590 1476H1594V1481H1590zM1550 1502H1553V1506H1550zM1542 1506H1546V1510H1542zM1646 1557H1650V1561H1646zM1628 1561H1631V1565H1628zM1583 1565H1587V1569H1583zM1576 1565H1579V1569H1576zM1561 1586H1565V1590H1561zM1490 1624H1494V1628H1490zM1453 1637H1457V1641H1453z"/>
<path fill="#95d840" d="M1631 1333H1635V1337H1631zM1609 1346H1613V1350H1609zM1631 1346H1635V1350H1631zM1620 1350H1624V1354H1620zM1624 1358H1628V1363H1624zM1594 1375H1598V1379H1594zM1605 1375H1613V1379H1605zM1616 1375H1620V1379H1616zM1631 1384H1635V1388H1631zM1616 1409H1620V1413H1616zM1572 1464H1576V1468H1572zM1568 1489H1572V1493H1568zM1576 1498H1579V1502H1576zM1583 1552H1587V1557H1583zM1594 1578H1598V1582H1594zM1561 1590H1565V1595H1561zM1576 1599H1579V1603H1576zM1505 1620H1509V1624H1505zM1490 1633H1494V1637H1490zM1479 1637H1483V1641H1479z"/>
<path fill="#b0dd2f" d="M1631 1304H1635V1308H1631zM1631 1325H1635V1329H1631zM1631 1341H1639V1346H1631zM1613 1346H1616V1350H1613zM1624 1354H1628V1358H1624zM1616 1354H1620V1358H1616zM1628 1358H1631V1363H1628zM1602 1363H1609V1367H1602zM1613 1367H1616V1371H1613zM1620 1371H1624V1375H1620zM1605 1384H1609V1388H1605zM1620 1384H1624V1392H1620zM1628 1388H1635V1392H1628zM1624 1392H1635V1396H1624zM1602 1392H1605V1396H1602zM1631 1396H1635V1401H1631zM1572 1409H1576V1413H1572zM1624 1405H1628V1417H1624zM1631 1413H1635V1417H1631zM1616 1434H1620V1439H1616zM1620 1439H1624V1443H1620zM1590 1447H1594V1451H1590zM1594 1455H1598V1460H1594zM1609 1455H1613V1460H1609zM1557 1460H1561V1464H1557zM1572 1460H1576V1464H1572zM1572 1489H1576V1493H1572zM1565 1498H1572V1502H1565zM1553 1498H1557V1502H1553zM1546 1506H1550V1510H1546zM1676 1523H1679V1527H1676zM1602 1531H1605V1540H1602zM1624 1536H1628V1540H1624zM1590 1540H1594V1544H1590zM1583 1544H1590V1548H1583zM1613 1544H1616V1548H1613zM1590 1548H1598V1552H1590zM1590 1552H1594V1557H1590zM1572 1552H1576V1557H1572zM1587 1557H1590V1561H1587zM1620 1557H1624V1561H1620zM1590 1561H1598V1565H1590zM1624 1561H1628V1565H1624zM1579 1569H1587V1574H1579zM1587 1574H1590V1578H1587zM1572 1574H1579V1578H1572zM1568 1578H1572V1582H1568zM1598 1578H1602V1582H1598zM1561 1578H1565V1582H1561zM1579 1578H1594V1582H1579zM1557 1582H1594V1586H1557zM1565 1586H1568V1590H1565zM1572 1586H1594V1590H1572zM1565 1590H1576V1595H1565zM1583 1590H1587V1595H1583zM1565 1595H1568V1599H1565zM1516 1611H1520V1616H1516zM1527 1616H1535V1620H1527zM1520 1616H1524V1620H1520zM1490 1616H1498V1620H1490zM1513 1616H1516V1620H1513zM1535 1620H1539V1624H1535zM1513 1620H1520V1624H1513zM1502 1624H1505V1628H1502zM1487 1628H1490V1633H1487zM1494 1628H1502V1637H1494zM1472 1633H1476V1637H1472zM1520 1633H1524V1637H1520zM1505 1633H1516V1637H1505zM1553 1683H1557V1687H1553zM1320 1772H1324V1776H1320z"/>
<path fill="#fde725" d="M1565 1177H1568V1181H1565zM1542 1299H1546V1304H1542zM1602 1329H1609V1333H1602zM1602 1333H1605V1337H1602zM1605 1346H1609V1350H1605zM1553 1350H1557V1354H1553zM1602 1350H1609V1354H1602zM1605 1354H1609V1358H1605zM1520 1358H1524V1363H1520zM1609 1388H1613V1392H1609zM1624 1388H1628V1392H1624zM1605 1392H1609V1396H1605zM1616 1392H1620V1401H1616zM1620 1401H1624V1405H1620zM1490 1409H1494V1413H1490zM1605 1417H1609V1422H1605zM1579 1417H1587V1422H1579zM1602 1422H1605V1426H1602zM1583 1426H1587V1430H1583zM1639 1430H1642V1434H1639zM1602 1434H1613V1439H1602zM1628 1434H1631V1439H1628zM1605 1439H1613V1447H1605zM1579 1447H1583V1451H1579zM1579 1451H1587V1455H1579zM1602 1455H1605V1460H1602zM1598 1460H1602V1464H1598zM1583 1460H1587V1464H1583zM1587 1464H1590V1468H1587zM1613 1468H1616V1472H1613zM1594 1468H1598V1476H1594zM1546 1481H1550V1485H1546zM1579 1481H1587V1485H1579zM1524 1485H1527V1489H1524zM1572 1485H1576V1489H1572zM1561 1485H1565V1489H1561zM1557 1489H1561V1493H1557zM1565 1489H1568V1493H1565zM1561 1493H1568V1498H1561zM1542 1493H1546V1498H1542zM1557 1502H1561V1506H1557zM1565 1502H1568V1506H1565zM1579 1506H1587V1510H1579zM1587 1510H1590V1519H1587zM1579 1514H1583V1519H1579zM1572 1519H1583V1523H1572zM1583 1523H1587V1527H1583zM1631 1523H1639V1527H1631zM1576 1523H1579V1527H1576zM1613 1531H1616V1536H1613zM1624 1531H1628V1536H1624zM1587 1531H1602V1540H1587zM1665 1531H1668V1540H1665zM1628 1536H1631V1540H1628zM1616 1536H1624V1540H1616zM1620 1540H1624V1544H1620zM1598 1540H1605V1544H1598zM1609 1540H1616V1544H1609zM1587 1540H1590V1544H1587zM1657 1540H1661V1544H1657zM1590 1544H1613V1548H1590zM1616 1544H1628V1548H1616zM1598 1548H1602V1552H1598zM1620 1548H1628V1552H1620zM1609 1548H1616V1552H1609zM1620 1552H1624V1557H1620zM1602 1552H1605V1561H1602zM1576 1557H1583V1561H1576zM1628 1557H1631V1561H1628zM1568 1557H1572V1561H1568zM1613 1561H1620V1565H1613zM1572 1561H1587V1565H1572zM1579 1565H1583V1569H1579zM1624 1565H1628V1569H1624zM1568 1565H1576V1569H1568zM1598 1569H1602V1574H1598zM1576 1569H1579V1574H1576zM1590 1574H1602V1578H1590zM1605 1574H1609V1582H1605zM1639 1574H1642V1582H1639zM1576 1578H1579V1582H1576zM1602 1582H1605V1586H1602zM1631 1586H1639V1590H1631zM1553 1586H1557V1590H1553zM1631 1590H1635V1595H1631zM1557 1590H1561V1599H1557zM1568 1595H1572V1599H1568zM1464 1603H1468V1607H1464zM1609 1607H1616V1611H1609zM1524 1611H1527V1616H1524zM1505 1611H1516V1616H1505zM1505 1616H1509V1620H1505zM1520 1620H1524V1624H1520zM1502 1620H1505V1624H1502zM1516 1624H1535V1628H1516zM1535 1628H1539V1633H1535zM1401 1654H1405V1658H1401zM1464 1692H1476V1700H1464zM1479 1696H1487V1700H1479zM1476 1700H1483V1704H1476zM1464 1700H1472V1704H1464zM1535 1700H1539V1709H1535zM1464 1704H1468V1709H1464zM1520 1704H1527V1709H1520zM1509 1704H1513V1713H1509zM1524 1709H1531V1713H1524zM1494 1713H1502V1717H1494zM1409 1713H1413V1717H1409zM1461 1713H1464V1717H1461zM1505 1717H1520V1721H1505zM1509 1721H1516V1725H1509z"/>
<path fill="#ebebeb" fill-opacity="0.03" d="M1009 1140h1v709h-1zM1034 1140h1v709h-1zM1224 1140h1v709h-1zM1249 1140h1v709h-1zM1287 1140h1v709h-1zM1312 1140h1v709h-1zM1502 1140h1v709h-1zM1527 1140h1v709h-1zM1565 1140h1v709h-1zM1590 1140h1v709h-1zM961 1206h807v1h-807zM961 1266h807v1h-807zM961 1341h807v1h-807zM961 1401h807v1h-807zM961 1476h807v1h-807zM961 1536h807v1h-807zM961 1611h807v1h-807zM961 1671h807v1h-807zM961 1746h807v1h-807zM961 1806h807v1h-807z"/>
<path fill="#ebebeb" fill-opacity="0.05" d="M1072 1140h1v709h-1zM1123 1140h1v709h-1zM1135 1140h1v709h-1zM1186 1140h1v709h-1zM1350 1140h1v709h-1zM1401 1140h1v709h-1zM1413 1140h1v709h-1zM1464 1140h1v709h-1zM1628 1140h1v709h-1zM1679 1140h1v709h-1zM1691 1140h1v709h-1zM1742 1140h1v709h-1zM961 1228h807v1h-807zM961 1244h807v1h-807zM961 1363h807v1h-807zM961 1379h807v1h-807zM961 1498h807v1h-807zM961 1514h807v1h-807zM961 1633h807v1h-807zM961 1649h807v1h-807zM961 1768h807v1h-807zM961 1784h807v1h-807z"/>
<path fill="#ebebeb" fill-opacity="0.07" d="M997 1140h1v709h-1zM1060 1140h1v709h-1zM1198 1140h1v709h-1zM1261 1140h1v709h-1zM1275 1140h1v709h-1zM1338 1140h1v709h-1zM1476 1140h1v709h-1zM1539 1140h1v709h-1zM1553 1140h1v709h-1zM1616 1140h1v709h-1zM961 1190h807v1h-807zM961 1282h807v1h-807zM961 1325h807v1h-807zM961 1417h807v1h-807zM961 1460h807v1h-807zM961 1552h807v1h-807zM961 1595h807v1h-807zM961 1687h807v1h-807zM961 1730h807v1h-807zM961 1822h807v1h-807z"/>
<path fill="#ebebeb" fill-opacity="0.1" d="M1046 1140h1v709h-1zM1086 1140h1v709h-1zM1109 1140h1v709h-1zM1149 1140h1v709h-1zM1172 1140h1v709h-1zM1212 1140h1v709h-1zM1324 1140h1v709h-1zM1364 1140h1v709h-1zM1387 1140h1v709h-1zM1427 1140h1v709h-1zM1450 1140h1v709h-1zM1490 1140h1v709h-1zM1602 1140h1v709h-1zM1642 1140h1v709h-1zM1665 1140h1v709h-1zM1705 1140h1v709h-1zM1728 1140h1v709h-1zM961 1185h807v1h-807zM961 1287h807v1h-807zM961 1320h807v1h-807zM961 1422h807v1h-807zM961 1455h807v1h-807zM961 1557h807v1h-807zM961 1590h807v1h-807zM961 1692h807v1h-807zM961 1725h807v1h-807zM961 1827h807v1h-807z"/>
<path fill="#ebebeb" fill-opacity="0.12" d="M1020 1140h1v709h-1zM1023 1140h1v709h-1zM1235 1140h1v709h-1zM1238 1140h1v709h-1zM1298 1140h1v709h-1zM1301 1140h1v709h-1zM1513 1140h1v709h-1zM1516 1140h1v709h-1zM1576 1140h1v709h-1zM1579 1140h1v709h-1zM961 1223h807v1h-807zM961 1249h807v1h-807zM961 1358h807v1h-807zM961 1384h807v1h-807zM961 1493h807v1h-807zM961 1519h807v1h-807zM961 1628h807v1h-807zM961 1654h807v1h-807zM961 1763h807v1h-807zM961 1789h807v1h-807z"/>
<path fill="#ebebeb" fill-opacity="0.15" d="M1049 1140h1v709h-1zM1083 1140h1v709h-1zM1112 1140h1v709h-1zM1146 1140h1v709h-1zM1175 1140h1v709h-1zM1209 1140h1v709h-1zM1327 1140h1v709h-1zM1361 1140h1v709h-1zM1390 1140h1v709h-1zM1424 1140h1v709h-1zM1453 1140h1v709h-1zM1487 1140h1v709h-1zM1605 1140h1v709h-1zM1639 1140h1v709h-1zM1668 1140h1v709h-1zM1702 1140h1v709h-1zM1731 1140h1v709h-1zM961 1211h807v1h-807zM961 1261h807v1h-807zM961 1346h807v1h-807zM961 1396h807v1h-807zM961 1481h807v1h-807zM961 1531h807v1h-807zM961 1616h807v1h-807zM961 1666h807v1h-807zM961 1751h807v1h-807zM961 1801h807v1h-807z"/>
<path fill="#ebebeb" fill-opacity="0.17" d="M986 1140h1v709h-1zM994 1140h1v709h-1zM1057 1140h1v709h-1zM1075 1140h1v709h-1zM1120 1140h1v709h-1zM1138 1140h1v709h-1zM1183 1140h1v709h-1zM1201 1140h1v709h-1zM1264 1140h1v709h-1zM1272 1140h1v709h-1zM1335 1140h1v709h-1zM1353 1140h1v709h-1zM1398 1140h1v709h-1zM1416 1140h1v709h-1zM1461 1140h1v709h-1zM1479 1140h1v709h-1zM1542 1140h1v709h-1zM1550 1140h1v709h-1zM1613 1140h1v709h-1zM1631 1140h1v709h-1zM1676 1140h1v709h-1zM1694 1140h1v709h-1zM1739 1140h1v709h-1zM961 1164h807v1h-807zM961 1173h807v1h-807zM961 1299h807v1h-807zM961 1308h807v1h-807zM961 1434h807v1h-807zM961 1443h807v1h-807zM961 1569h807v1h-807zM961 1578h807v1h-807zM961 1704h807v1h-807zM961 1713h807v1h-807zM961 1839h807v1h-807z"/>
<path fill="#ebebeb" fill-opacity="0.2" d="M1012 1140h1v709h-1zM1031 1140h1v709h-1zM1094 1140h1v709h-1zM1101 1140h1v709h-1zM1157 1140h1v709h-1zM1164 1140h1v709h-1zM1227 1140h1v709h-1zM1246 1140h1v709h-1zM1290 1140h1v709h-1zM1309 1140h1v709h-1zM1372 1140h1v709h-1zM1379 1140h1v709h-1zM1435 1140h1v709h-1zM1442 1140h1v709h-1zM1505 1140h1v709h-1zM1524 1140h1v709h-1zM1568 1140h1v709h-1zM1587 1140h1v709h-1zM1650 1140h1v709h-1zM1657 1140h1v709h-1zM1713 1140h1v709h-1zM1720 1140h1v709h-1zM961 1202h807v1h-807zM961 1232h807v1h-807zM961 1240h807v1h-807zM961 1270h807v1h-807zM961 1337h807v1h-807zM961 1367h807v1h-807zM961 1375h807v1h-807zM961 1405h807v1h-807zM961 1472h807v1h-807zM961 1502h807v1h-807zM961 1510h807v1h-807zM961 1540h807v1h-807zM961 1607h807v1h-807zM961 1637h807v1h-807zM961 1645h807v1h-807zM961 1675h807v1h-807zM961 1742h807v1h-807zM961 1772h807v1h-807zM961 1780h807v1h-807zM961 1810h807v1h-807z"/>
<path fill="#ebebeb" fill-opacity="0.23" d="M1001 1140h1v709h-1zM1005 1140h1v709h-1zM1038 1140h1v709h-1zM1064 1140h1v709h-1zM1068 1140h1v709h-1zM1127 1140h1v709h-1zM1131 1140h1v709h-1zM1190 1140h1v709h-1zM1194 1140h1v709h-1zM1220 1140h1v709h-1zM1253 1140h1v709h-1zM1257 1140h1v709h-1zM1279 1140h1v709h-1zM1283 1140h1v709h-1zM1316 1140h1v709h-1zM1342 1140h1v709h-1zM1346 1140h1v709h-1zM1405 1140h1v709h-1zM1409 1140h1v709h-1zM1468 1140h1v709h-1zM1472 1140h1v709h-1zM1498 1140h1v709h-1zM1531 1140h1v709h-1zM1535 1140h1v709h-1zM1557 1140h1v709h-1zM1561 1140h1v709h-1zM1594 1140h1v709h-1zM1620 1140h1v709h-1zM1624 1140h1v709h-1zM1683 1140h1v709h-1zM1687 1140h1v709h-1zM961 1181h807v1h-807zM961 1194h807v1h-807zM961 1219h807v1h-807zM961 1253h807v1h-807zM961 1278h807v1h-807zM961 1291h807v1h-807zM961 1316h807v1h-807zM961 1329h807v1h-807zM961 1354h807v1h-807zM961 1388h807v1h-807zM961 1413h807v1h-807zM961 1426h807v1h-807zM961 1451h807v1h-807zM961 1464h807v1h-807zM961 1489h807v1h-807zM961 1523h807v1h-807zM961 1548h807v1h-807zM961 1561h807v1h-807zM961 1586h807v1h-807zM961 1599h807v1h-807zM961 1624h807v1h-807zM961 1658h807v1h-807zM961 1683h807v1h-807zM961 1696h807v1h-807zM961 1721h807v1h-807zM961 1734h807v1h-807zM961 1759h807v1h-807zM961 1793h807v1h-807zM961 1818h807v1h-807zM961 1831h807v1h-807z"/>
<path fill="#ebebeb" fill-opacity="0.25" d="M990 1140h1v709h-1zM1016 1140h1v709h-1zM1027 1140h1v709h-1zM1042 1140h1v709h-1zM1053 1140h1v709h-1zM1079 1140h1v709h-1zM1090 1140h1v709h-1zM1105 1140h1v709h-1zM1116 1140h1v709h-1zM1142 1140h1v709h-1zM1153 1140h1v709h-1zM1168 1140h1v709h-1zM1179 1140h1v709h-1zM1205 1140h1v709h-1zM1216 1140h1v709h-1zM1231 1140h1v709h-1zM1242 1140h1v709h-1zM1268 1140h1v709h-1zM1294 1140h1v709h-1zM1305 1140h1v709h-1zM1320 1140h1v709h-1zM1331 1140h1v709h-1zM1357 1140h1v709h-1zM1368 1140h1v709h-1zM1383 1140h1v709h-1zM1394 1140h1v709h-1zM1420 1140h1v709h-1zM1431 1140h1v709h-1zM1446 1140h1v709h-1zM1457 1140h1v709h-1zM1483 1140h1v709h-1zM1494 1140h1v709h-1zM1509 1140h1v709h-1zM1520 1140h1v709h-1zM1546 1140h1v709h-1zM1572 1140h1v709h-1zM1583 1140h1v709h-1zM1598 1140h1v709h-1zM1609 1140h1v709h-1zM1635 1140h1v709h-1zM1646 1140h1v709h-1zM1661 1140h1v709h-1zM1672 1140h1v709h-1zM1698 1140h1v709h-1zM1709 1140h1v709h-1zM1724 1140h1v709h-1zM1735 1140h1v709h-1zM961 1160h807v1h-807zM961 1177h807v1h-807zM961 1198h807v1h-807zM961 1215h807v1h-807zM961 1236h807v1h-807zM961 1257h807v1h-807zM961 1274h807v1h-807zM961 1295h807v1h-807zM961 1312h807v1h-807zM961 1333h807v1h-807zM961 1350h807v1h-807zM961 1371h807v1h-807zM961 1392h807v1h-807zM961 1409h807v1h-807zM961 1430h807v1h-807zM961 1447h807v1h-807zM961 1468h807v1h-807zM961 1485h807v1h-807zM961 1506h807v1h-807zM961 1527h807v1h-807zM961 1544h807v1h-807zM961 1565h807v1h-807zM961 1582h807v1h-807zM961 1603h807v1h-807zM961 1620h807v1h-807zM961 1641h807v1h-807zM961 1662h807v1h-807zM961 1679h807v1h-807zM961 1700h807v1h-807zM961 1717h807v1h-807zM961 1738h807v1h-807zM961 1755h807v1h-807zM961 1776h807v1h-807zM961 1797h807v1h-807zM961 1814h807v1h-807zM961 1835h807v1h-807z"/>
</g>
</g>
<path d="M119.54 366.9h11.46M119.54 468.15h11.46M119.54 569.4h11.46M119.54 670.65h11.46M119.54 771.9h11.46M119.54 873.15h11.46M119.54 974.4h11.46M119.54 1169h11.46M119.54 1270.25h11.46M119.54 1371.5h11.46M119.54 1472.75h11.46M119.54 1574h11.46M119.54 1675.25h11.46M119.54 1776.5h11.46M327.1 1850.7v11.46M549.5 1850.7v11.46M771.9 1850.7v11.46M1157.3 1850.7v11.46M1379.7 1850.7v11.46M1602.1 1850.7v11.46" stroke="#333" stroke-width="4.45" fill="none"/>
<g font-family="'DejaVu Sans','Liberation Sans',sans-serif">
<text x="131" y="235.5" font-size="55" fill="#000">Grey Crowned Crane 2016</text>
<g font-size="36.67" fill="#1a1a1a" text-anchor="middle">
<text x="534.45" y="316.7">est</text>
<text x="1364.9" y="316.7">lb</text>
<text x="534.45" y="1118.9">med</text>
<text x="1364.9" y="1118.9">ub</text>
</g>
<g font-size="36.67" fill="#4d4d4d" text-anchor="end">
<text x="110.4" y="380.2">22°S</text>
<text x="110.4" y="481.45">24°S</text>
<text x="110.4" y="582.7">26°S</text>
<text x="110.4" y="683.95">28°S</text>
<text x="110.4" y="785.2">30°S</text>
<text x="110.4" y="886.45">32°S</text>
<text x="110.4" y="987.7">34°S</text>
<text x="110.4" y="1182.3">22°S</text>
<text x="110.4" y="1283.55">24°S</text>
<text x="110.4" y="1384.8">26°S</text>
<text x="110.4" y="1486.05">28°S</text>
<text x="110.4" y="1587.3">30°S</text>
<text x="110.4" y="1688.55">32°S</text>
<text x="110.4" y="1789.8">34°S</text>
</g>
<g font-size="36.67" fill="#4d4d4d" text-anchor="middle">
<text x="327.1" y="1896.7">20°E</text>
<text x="549.5" y="1896.7">25°E</text>
<text x="771.9" y="1896.7">30°E</text>
<text x="1157.3" y="1896.7">20°E</text>
<text x="1379.7" y="1896.7">25°E</text>
<text x="1602.1" y="1896.7">30°E</text>
</g>
<text x="1837" y="919.5" font-size="45.83" fill="#000">real_occu</text>
<rect x="1837" y="947.5" width="72" height="360" fill="url(#vg)"/>
<path d="M1837 947.5h14.4M1909 947.5h-14.4M1837 1037.5h14.4M1909 1037.5h-14.4M1837 1127.5h14.4M1909 1127.5h-14.4M1837 1217.5h14.4M1909 1217.5h-14.4M1837 1307.5h14.4M1909 1307.5h-14.4" stroke="#fff" stroke-width="1.56" fill="none"/>
<g font-size="36.67" fill="#000">
<text x="1932" y="960.8">1.00</text>
<text x="1932" y="1050.8">0.75</text>
<text x="1932" y="1140.8">0.50</text>
<text x="1932" y="1230.8">0.25</text>
<text x="1932" y="1320.8">0.00</text>
</g>
</g>
</svg>
</body></html>
